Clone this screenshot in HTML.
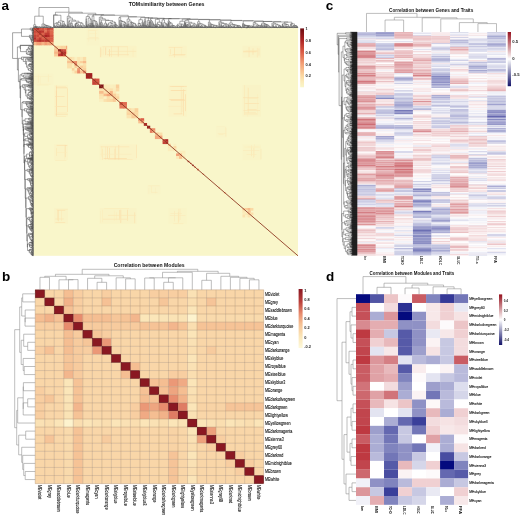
<!DOCTYPE html>
<html><head><meta charset="utf-8"><style>
html,body{margin:0;padding:0;background:#fff;width:520px;height:517px;overflow:hidden}
svg{display:block;font-family:"Liberation Sans",sans-serif;filter:blur(0.4px)}
</style></head><body>
<svg width="520" height="517" viewBox="0 0 520 517">
<rect x="33.5" y="28" width="264.5" height="227.8" fill="#f9f6ca"/>
<rect x="54.13" y="84.95" width="13.75" height="31.89" fill="#faf3c5"/>
<rect x="55.9" y="90.7" width="0.55" height="25.86" fill="#fbdfab"/>
<rect x="56.17" y="85.62" width="0.55" height="29.98" fill="#fbd39e"/>
<rect x="67.17" y="88.48" width="0.55" height="23.47" fill="#fbdca7"/>
<rect x="54.7" y="106.09" width="9.93" height="0.55" fill="#fbe5b2"/>
<rect x="57.5" y="106.33" width="8.12" height="0.55" fill="#fbdfab"/>
<rect x="56.42" y="116.23" width="9.47" height="0.55" fill="#fbe7b4"/>
<rect x="55.1" y="96.22" width="9.47" height="0.55" fill="#fbdda8"/>
<rect x="56.06" y="112.61" width="10.68" height="0.55" fill="#fbe9b7"/>
<rect x="55.91" y="87.6" width="11.37" height="0.55" fill="#fbd49f"/>
<rect x="57.85" y="106.42" width="9.14" height="0.55" fill="#fbe7b4"/>
<rect x="55.56" y="86" width="10.39" height="0.55" fill="#fbe7b5"/>
<rect x="55.53" y="113.85" width="12.28" height="0.55" fill="#fbdaa5"/>
<rect x="99.62" y="45.77" width="37.03" height="11.85" fill="#faf3c5"/>
<rect x="105.54" y="47.4" width="0.55" height="7.76" fill="#fad19c"/>
<rect x="101.65" y="48.77" width="0.55" height="6.75" fill="#fbebb9"/>
<rect x="111.06" y="46.09" width="0.55" height="10.91" fill="#fbe4b1"/>
<rect x="100.54" y="47.43" width="0.55" height="9.74" fill="#fbd6a0"/>
<rect x="127" y="45.99" width="0.55" height="9.5" fill="#fbe7b5"/>
<rect x="132.79" y="48.63" width="0.55" height="8.31" fill="#fbebba"/>
<rect x="103.07" y="46.81" width="0.55" height="8.22" fill="#fbebba"/>
<rect x="117.89" y="46.54" width="0.55" height="9.95" fill="#fbd6a0"/>
<rect x="109.18" y="49.11" width="0.55" height="7.29" fill="#fad19c"/>
<rect x="107.92" y="50.93" width="28.29" height="0.55" fill="#fbe4b1"/>
<rect x="102.35" y="46.57" width="24.92" height="0.55" fill="#fbe2ae"/>
<rect x="106.97" y="54.56" width="21.99" height="0.55" fill="#fbdeaa"/>
<rect x="54.13" y="144.18" width="13.75" height="15.95" fill="#faf3c6"/>
<rect x="64.87" y="144.89" width="0.55" height="12.23" fill="#fbd8a2"/>
<rect x="56.11" y="147.94" width="0.55" height="7.9" fill="#fbe3b0"/>
<rect x="64.57" y="145.9" width="0.55" height="13.45" fill="#fbecbb"/>
<rect x="55.14" y="160.1" width="11.27" height="0.55" fill="#fbeab8"/>
<rect x="56.76" y="145.15" width="10.47" height="0.55" fill="#fbd9a4"/>
<rect x="56.65" y="152.12" width="10.28" height="0.55" fill="#fbebba"/>
<rect x="56.42" y="144.79" width="8.83" height="0.55" fill="#fbebb9"/>
<rect x="168.4" y="45.77" width="18.51" height="11.85" fill="#faf3c6"/>
<rect x="174.41" y="47.02" width="0.55" height="10.13" fill="#fbdfaa"/>
<rect x="174.23" y="49.01" width="0.55" height="8.19" fill="#fbe5b1"/>
<rect x="169.99" y="49.19" width="0.55" height="5.2" fill="#fbe1ad"/>
<rect x="181.36" y="48.63" width="0.55" height="6.55" fill="#fbebba"/>
<rect x="168.67" y="47.47" width="13.79" height="0.55" fill="#fbe3af"/>
<rect x="172.62" y="54.28" width="12.81" height="0.55" fill="#fbdba6"/>
<rect x="169.16" y="55.12" width="15.58" height="0.55" fill="#fbe8b6"/>
<rect x="54.13" y="207.96" width="13.75" height="15.95" fill="#f9f3c6"/>
<rect x="60.98" y="210.86" width="0.55" height="10.17" fill="#fbe9b7"/>
<rect x="57.43" y="209.67" width="0.55" height="10.72" fill="#fbe2af"/>
<rect x="58.13" y="209.95" width="0.55" height="11.31" fill="#fbdeaa"/>
<rect x="55.19" y="218.7" width="8.65" height="0.55" fill="#fbe4b1"/>
<rect x="56.4" y="209.49" width="11.37" height="0.55" fill="#fbe9b6"/>
<rect x="57.37" y="210.43" width="7.89" height="0.55" fill="#fbdeaa"/>
<rect x="55.36" y="222.34" width="9.86" height="0.55" fill="#fbdfab"/>
<rect x="242.46" y="45.77" width="18.52" height="11.85" fill="#f9f3c6"/>
<rect x="248.75" y="47.14" width="0.55" height="9.93" fill="#fbdfab"/>
<rect x="258.68" y="48.41" width="0.55" height="7.21" fill="#fbe1ad"/>
<rect x="256.95" y="47.78" width="0.55" height="9.61" fill="#fbe6b3"/>
<rect x="252.73" y="48.28" width="0.55" height="6.48" fill="#fbdeaa"/>
<rect x="243.06" y="51.64" width="13.05" height="0.55" fill="#fbdda8"/>
<rect x="245.9" y="50.17" width="12.55" height="0.55" fill="#fbecbb"/>
<rect x="243.22" y="50.84" width="14.32" height="0.55" fill="#fbdda9"/>
<rect x="99.62" y="144.18" width="37.03" height="15.95" fill="#faf3c6"/>
<rect x="114.95" y="146.57" width="0.55" height="12.92" fill="#fbe1ae"/>
<rect x="118.58" y="145" width="0.55" height="15.07" fill="#fbd9a4"/>
<rect x="102.13" y="148.84" width="0.55" height="11.07" fill="#fbe3b0"/>
<rect x="136.32" y="144.75" width="0.55" height="13.37" fill="#fbe1ad"/>
<rect x="107.3" y="146.77" width="0.55" height="11.98" fill="#fbdda8"/>
<rect x="109.08" y="147.84" width="0.55" height="10.19" fill="#fbd9a4"/>
<rect x="114.64" y="148.82" width="0.55" height="10.92" fill="#fbdca8"/>
<rect x="105.52" y="146.61" width="0.55" height="13.18" fill="#fbe5b2"/>
<rect x="101.61" y="146.02" width="0.55" height="10.56" fill="#fbe9b6"/>
<rect x="100.13" y="153.9" width="31.51" height="0.55" fill="#fbecbb"/>
<rect x="103.68" y="158.13" width="23.12" height="0.55" fill="#fbd8a2"/>
<rect x="107.91" y="158.99" width="24.68" height="0.55" fill="#fbe4b1"/>
<rect x="100.59" y="146.63" width="28.7" height="0.55" fill="#fbe0ac"/>
<rect x="168.4" y="84.95" width="18.51" height="31.89" fill="#faf3c6"/>
<rect x="183.38" y="89.24" width="0.55" height="26.48" fill="#fbd8a2"/>
<rect x="185.1" y="94.21" width="0.55" height="16.95" fill="#fbd9a4"/>
<rect x="180.86" y="86.7" width="0.55" height="27.35" fill="#fbe5b2"/>
<rect x="181.74" y="91.57" width="0.55" height="20.47" fill="#fbe6b3"/>
<rect x="169.32" y="99.27" width="14.89" height="0.55" fill="#fbd7a1"/>
<rect x="171.11" y="90.04" width="13.96" height="0.55" fill="#fbd8a2"/>
<rect x="170.61" y="90.32" width="15.59" height="0.55" fill="#fbe0ac"/>
<rect x="171.63" y="85.98" width="12.39" height="0.55" fill="#fbe5b2"/>
<rect x="173.6" y="113.65" width="8.87" height="0.55" fill="#fbd8a3"/>
<rect x="170.6" y="100.18" width="14.09" height="0.55" fill="#fbe1ae"/>
<rect x="169.76" y="86.28" width="16.99" height="0.55" fill="#fbdba6"/>
<rect x="170.82" y="99.83" width="14.07" height="0.55" fill="#fbdda8"/>
<rect x="168.46" y="105.95" width="15.16" height="0.55" fill="#fbeab8"/>
<rect x="99.62" y="207.96" width="37.03" height="15.95" fill="#f9f3c6"/>
<rect x="119.27" y="209.95" width="0.55" height="10.2" fill="#fbdda8"/>
<rect x="100.29" y="210.83" width="0.55" height="12" fill="#faedbd"/>
<rect x="102.12" y="209.75" width="0.55" height="12.54" fill="#fbecbb"/>
<rect x="120.5" y="209.71" width="0.55" height="13.32" fill="#fbdca8"/>
<rect x="121.03" y="209.8" width="0.55" height="12.59" fill="#faedbd"/>
<rect x="113.97" y="210.61" width="0.55" height="10.31" fill="#fbedbc"/>
<rect x="127.38" y="209.66" width="0.55" height="11.11" fill="#fbdba6"/>
<rect x="115.99" y="212.22" width="0.55" height="8.12" fill="#fbebb9"/>
<rect x="134.54" y="212.35" width="0.55" height="10.94" fill="#fbdea9"/>
<rect x="104.2" y="208.21" width="24.81" height="0.55" fill="#fbebb9"/>
<rect x="108.08" y="214.95" width="27.79" height="0.55" fill="#fbe5b1"/>
<rect x="102.39" y="218.78" width="26.24" height="0.55" fill="#fbedbc"/>
<rect x="102.9" y="218.85" width="24.56" height="0.55" fill="#fbe7b4"/>
<rect x="242.46" y="84.95" width="18.52" height="31.89" fill="#f9f3c6"/>
<rect x="247.54" y="87.32" width="0.55" height="29.32" fill="#fbedbc"/>
<rect x="257.46" y="94.27" width="0.55" height="20.54" fill="#fbecbb"/>
<rect x="248.12" y="87.9" width="0.55" height="25.31" fill="#fbe3b0"/>
<rect x="244.38" y="85.19" width="0.55" height="29.51" fill="#fbe7b5"/>
<rect x="243.96" y="113.95" width="13.24" height="0.55" fill="#fbeab7"/>
<rect x="244.55" y="113.11" width="12.46" height="0.55" fill="#fbe9b7"/>
<rect x="243.45" y="110.21" width="16.52" height="0.55" fill="#fbe2af"/>
<rect x="247.43" y="109.12" width="9.21" height="0.55" fill="#fbe0ac"/>
<rect x="247.4" y="98.38" width="9.71" height="0.55" fill="#fbecba"/>
<rect x="244.59" y="103.33" width="14.47" height="0.55" fill="#fbe1ad"/>
<rect x="246.39" y="103.3" width="9.38" height="0.55" fill="#fbe5b2"/>
<rect x="244.52" y="111.97" width="11.3" height="0.55" fill="#fbe7b5"/>
<rect x="242.97" y="97.54" width="15.49" height="0.55" fill="#fbdeaa"/>
<rect x="168.4" y="207.96" width="18.51" height="15.95" fill="#f9f4c7"/>
<rect x="177.95" y="212.16" width="0.55" height="11.02" fill="#fbe5b2"/>
<rect x="179.82" y="208.69" width="0.55" height="11.23" fill="#fbe8b6"/>
<rect x="178.64" y="208.85" width="0.55" height="12.54" fill="#fbe3af"/>
<rect x="174.38" y="210.87" width="0.55" height="10.59" fill="#fbe8b6"/>
<rect x="170.46" y="213.14" width="11.5" height="0.55" fill="#fbeab8"/>
<rect x="169.83" y="215.32" width="15.67" height="0.55" fill="#fbeab9"/>
<rect x="173.22" y="223.17" width="10.39" height="0.55" fill="#fbecbb"/>
<rect x="173.62" y="223.6" width="8.99" height="0.55" fill="#faeebd"/>
<rect x="242.46" y="144.18" width="18.52" height="15.95" fill="#f9f4c7"/>
<rect x="252.97" y="147.63" width="0.55" height="10.35" fill="#fbe7b4"/>
<rect x="254.2" y="144.28" width="0.55" height="12.61" fill="#fbedbc"/>
<rect x="251.24" y="145.44" width="0.55" height="10.77" fill="#fbe4b0"/>
<rect x="260.72" y="148.79" width="0.55" height="10.57" fill="#fbe4b0"/>
<rect x="244.46" y="146.81" width="15.87" height="0.55" fill="#fbedbc"/>
<rect x="247.64" y="146.58" width="11.33" height="0.55" fill="#faefc0"/>
<rect x="246.58" y="154.16" width="9.91" height="0.55" fill="#fbebb9"/>
<rect x="243" y="150.29" width="16.39" height="0.55" fill="#fbeab8"/>
<rect x="33.5" y="73.56" width="19.84" height="11.39" fill="#f9f4c8"/>
<rect x="37.92" y="74.67" width="0.55" height="8.32" fill="#faefbf"/>
<rect x="40.1" y="76.4" width="0.55" height="8.51" fill="#faefbf"/>
<rect x="33.6" y="76.52" width="0.55" height="6.27" fill="#faf1c2"/>
<rect x="47.94" y="74.3" width="0.55" height="7.5" fill="#fbeab8"/>
<rect x="38.31" y="75.89" width="0.55" height="6.34" fill="#faedbd"/>
<rect x="33.77" y="76.39" width="17.85" height="0.55" fill="#faeebe"/>
<rect x="36.96" y="84.73" width="11.69" height="0.55" fill="#fbebb9"/>
<rect x="39.34" y="83.84" width="11.33" height="0.55" fill="#faefbf"/>
<rect x="86.4" y="28" width="13.22" height="17.09" fill="#f9f4c8"/>
<rect x="88.5" y="31.04" width="0.55" height="10.49" fill="#faedbd"/>
<rect x="95.27" y="31.28" width="0.55" height="9.09" fill="#faf1c2"/>
<rect x="95.26" y="30.62" width="0.55" height="10.31" fill="#fbeab8"/>
<rect x="88.13" y="30.4" width="8.02" height="0.55" fill="#fbebb9"/>
<rect x="89.76" y="33.48" width="7.04" height="0.55" fill="#fbedbc"/>
<rect x="86.75" y="38.59" width="12.47" height="0.55" fill="#fbeab8"/>
<rect x="89.12" y="37.42" width="9.27" height="0.55" fill="#fbeab8"/>
<rect x="88.31" y="29.84" width="9.46" height="0.55" fill="#faeebe"/>
<rect x="147.24" y="185.18" width="13.22" height="9.11" fill="#f9f4c8"/>
<rect x="155.43" y="187.59" width="0.55" height="5.92" fill="#faefc0"/>
<rect x="148.65" y="187.74" width="0.55" height="6.12" fill="#faefbf"/>
<rect x="150.91" y="186.13" width="0.55" height="5.86" fill="#fbebb9"/>
<rect x="148.18" y="185.6" width="11.57" height="0.55" fill="#fbebb9"/>
<rect x="151.04" y="191.95" width="6.43" height="0.55" fill="#fbeab8"/>
<rect x="216" y="125.95" width="10.58" height="11.39" fill="#f9f4c8"/>
<rect x="225.68" y="127.84" width="0.55" height="9.01" fill="#fbeab8"/>
<rect x="224.99" y="127.02" width="0.55" height="8.61" fill="#faeebf"/>
<rect x="216.84" y="126.35" width="7.85" height="0.55" fill="#faf1c3"/>
<rect x="218.6" y="134.49" width="5" height="0.55" fill="#fbeab8"/>
<rect x="217.87" y="133.2" width="8.46" height="0.55" fill="#fbecbb"/>
<rect x="33.5" y="28" width="3.04" height="2.67" fill="#d35441"/>
<rect x="33.5" y="30.32" width="3.04" height="2.67" fill="#ca483a"/>
<rect x="33.5" y="32.63" width="3.04" height="2.67" fill="#d45542"/>
<rect x="33.5" y="34.95" width="3.04" height="2.67" fill="#c54236"/>
<rect x="33.5" y="37.26" width="3.04" height="2.67" fill="#b22c29"/>
<rect x="33.5" y="39.58" width="3.04" height="2.67" fill="#c9483a"/>
<rect x="36.19" y="28" width="3.04" height="2.67" fill="#b8322d"/>
<rect x="36.19" y="30.32" width="3.04" height="2.67" fill="#c44136"/>
<rect x="36.19" y="32.63" width="3.04" height="2.67" fill="#d65743"/>
<rect x="36.19" y="34.95" width="3.04" height="2.67" fill="#cb4a3b"/>
<rect x="36.19" y="37.26" width="3.04" height="2.67" fill="#d45541"/>
<rect x="36.19" y="39.58" width="3.04" height="2.67" fill="#be3a31"/>
<rect x="38.88" y="28" width="3.04" height="2.67" fill="#d65743"/>
<rect x="38.88" y="30.32" width="3.04" height="2.67" fill="#b7312c"/>
<rect x="38.88" y="32.63" width="3.04" height="2.67" fill="#c03d33"/>
<rect x="38.88" y="34.95" width="3.04" height="2.67" fill="#de664d"/>
<rect x="38.88" y="37.26" width="3.04" height="2.67" fill="#be3a31"/>
<rect x="38.88" y="39.58" width="3.04" height="2.67" fill="#b42e2a"/>
<rect x="41.57" y="28" width="3.04" height="2.67" fill="#d15240"/>
<rect x="41.57" y="30.32" width="3.04" height="2.67" fill="#bb372f"/>
<rect x="41.57" y="32.63" width="3.04" height="2.67" fill="#dc624a"/>
<rect x="41.57" y="34.95" width="3.04" height="2.67" fill="#c44236"/>
<rect x="41.57" y="37.26" width="3.04" height="2.67" fill="#db6048"/>
<rect x="41.57" y="39.58" width="3.04" height="2.67" fill="#c23e34"/>
<rect x="44.26" y="28" width="3.04" height="2.67" fill="#dc624a"/>
<rect x="44.26" y="30.32" width="3.04" height="2.67" fill="#e27155"/>
<rect x="44.26" y="32.63" width="3.04" height="2.67" fill="#c34035"/>
<rect x="44.26" y="34.95" width="3.04" height="2.67" fill="#ab2324"/>
<rect x="44.26" y="37.26" width="3.04" height="2.67" fill="#cf4f3e"/>
<rect x="44.26" y="39.58" width="3.04" height="2.67" fill="#bd3931"/>
<rect x="46.95" y="28" width="3.04" height="2.67" fill="#c64437"/>
<rect x="46.95" y="30.32" width="3.04" height="2.67" fill="#cc4b3b"/>
<rect x="46.95" y="32.63" width="3.04" height="2.67" fill="#c03c33"/>
<rect x="46.95" y="34.95" width="3.04" height="2.67" fill="#b32d29"/>
<rect x="46.95" y="37.26" width="3.04" height="2.67" fill="#d75844"/>
<rect x="46.95" y="39.58" width="3.04" height="2.67" fill="#c13d33"/>
<rect x="33.5" y="41.9" width="3.04" height="3.43" fill="#f6b687"/>
<rect x="36.19" y="41.9" width="3.04" height="3.43" fill="#f29e74"/>
<rect x="38.88" y="41.9" width="3.04" height="3.43" fill="#f19a72"/>
<rect x="41.57" y="41.9" width="3.04" height="3.43" fill="#f6b284"/>
<rect x="44.26" y="41.9" width="3.04" height="3.43" fill="#f29c73"/>
<rect x="46.95" y="41.9" width="3.04" height="3.43" fill="#f5aa7e"/>
<rect x="49.63" y="28" width="3.92" height="2.67" fill="#d55642"/>
<rect x="49.63" y="30.32" width="3.92" height="2.67" fill="#de684e"/>
<rect x="49.63" y="32.63" width="3.92" height="2.67" fill="#de664d"/>
<rect x="49.63" y="34.95" width="3.92" height="2.67" fill="#d55642"/>
<rect x="49.63" y="37.26" width="3.92" height="2.67" fill="#d75844"/>
<rect x="49.63" y="39.58" width="3.92" height="2.67" fill="#db5e47"/>
<rect x="49.63" y="41.9" width="3.92" height="3.43" fill="#f4a77c"/>
<rect x="54.13" y="45.77" width="4.32" height="3.77" fill="#fbd49f"/>
<rect x="54.13" y="49.19" width="4.32" height="2.63" fill="#f9c593"/>
<rect x="54.13" y="51.46" width="4.32" height="2.63" fill="#f6b384"/>
<rect x="54.13" y="53.74" width="4.32" height="2.63" fill="#f9c895"/>
<rect x="54.13" y="56.02" width="4.32" height="1.03" fill="#fbe1ad"/>
<rect x="58.1" y="45.77" width="2.99" height="3.77" fill="#fbdba6"/>
<rect x="60.74" y="45.77" width="3" height="3.77" fill="#fad29d"/>
<rect x="63.39" y="45.77" width="3" height="3.77" fill="#fad39d"/>
<rect x="58.1" y="49.19" width="2.99" height="2.63" fill="#8f191c"/>
<rect x="58.1" y="51.46" width="2.99" height="2.63" fill="#e5795a"/>
<rect x="58.1" y="53.74" width="2.99" height="2.63" fill="#c03c32"/>
<rect x="60.74" y="49.19" width="3" height="2.63" fill="#c54337"/>
<rect x="60.74" y="51.46" width="3" height="2.63" fill="#ad2525"/>
<rect x="60.74" y="53.74" width="3" height="2.63" fill="#af2726"/>
<rect x="63.39" y="49.19" width="3" height="2.63" fill="#ce4d3d"/>
<rect x="63.39" y="51.46" width="3" height="2.63" fill="#b6312c"/>
<rect x="63.39" y="53.74" width="3" height="2.63" fill="#cb4a3b"/>
<rect x="58.1" y="56.02" width="2.99" height="1.03" fill="#f7b989"/>
<rect x="60.74" y="56.02" width="3" height="1.03" fill="#f8c291"/>
<rect x="63.39" y="56.02" width="3" height="1.03" fill="#f6b788"/>
<rect x="66.03" y="45.77" width="1.14" height="3.77" fill="#f4a87c"/>
<rect x="66.03" y="49.19" width="1.14" height="2.63" fill="#f8c391"/>
<rect x="66.03" y="51.46" width="1.14" height="2.63" fill="#f6b384"/>
<rect x="66.03" y="53.74" width="1.14" height="2.63" fill="#fbe0ac"/>
<rect x="66.03" y="56.02" width="1.14" height="1.03" fill="#fbd7a1"/>
<rect x="67.09" y="56.93" width="5.11" height="4.45" fill="#fbdba6"/>
<rect x="67.09" y="61.03" width="5.11" height="2.63" fill="#f8c190"/>
<rect x="67.09" y="63.31" width="5.11" height="2.63" fill="#fbdfab"/>
<rect x="67.09" y="65.59" width="5.11" height="2.86" fill="#fbe0ab"/>
<rect x="71.85" y="56.93" width="3" height="4.45" fill="#fbe5b2"/>
<rect x="74.5" y="56.93" width="3" height="4.45" fill="#faf0c1"/>
<rect x="71.85" y="61.03" width="3" height="2.63" fill="#ed8f6a"/>
<rect x="71.85" y="63.31" width="3" height="2.63" fill="#fbebb9"/>
<rect x="74.5" y="61.03" width="3" height="2.63" fill="#ec8e69"/>
<rect x="74.5" y="63.31" width="3" height="2.63" fill="#e77f5f"/>
<rect x="71.85" y="65.59" width="3" height="2.86" fill="#fbedbc"/>
<rect x="71.85" y="68.09" width="3" height="2.86" fill="#fad19c"/>
<rect x="71.85" y="70.6" width="3" height="2.86" fill="#fbecbc"/>
<rect x="74.5" y="65.59" width="3" height="2.86" fill="#fad19c"/>
<rect x="74.5" y="68.09" width="3" height="2.86" fill="#faedbd"/>
<rect x="74.5" y="70.6" width="3" height="2.86" fill="#fad29d"/>
<rect x="77.14" y="56.93" width="3.26" height="4.45" fill="#fbe6b3"/>
<rect x="80.05" y="56.93" width="3.26" height="4.45" fill="#fbebba"/>
<rect x="82.96" y="56.93" width="3.26" height="4.45" fill="#fbdda8"/>
<rect x="77.14" y="61.03" width="3.26" height="2.63" fill="#fbe0ac"/>
<rect x="77.14" y="63.31" width="3.26" height="2.63" fill="#fbe2af"/>
<rect x="80.05" y="61.03" width="3.26" height="2.63" fill="#fad09c"/>
<rect x="80.05" y="63.31" width="3.26" height="2.63" fill="#faedbd"/>
<rect x="82.96" y="61.03" width="3.26" height="2.63" fill="#f7bb8b"/>
<rect x="82.96" y="63.31" width="3.26" height="2.63" fill="#fbe1ad"/>
<rect x="77.14" y="65.59" width="3.26" height="2.86" fill="#fbe5b2"/>
<rect x="77.14" y="68.09" width="3.26" height="2.86" fill="#f09871"/>
<rect x="77.14" y="70.6" width="3.26" height="2.86" fill="#ec8d69"/>
<rect x="80.05" y="65.59" width="3.26" height="2.86" fill="#f9cc98"/>
<rect x="80.05" y="68.09" width="3.26" height="2.86" fill="#fbdfab"/>
<rect x="80.05" y="70.6" width="3.26" height="2.86" fill="#f9c593"/>
<rect x="82.96" y="65.59" width="3.26" height="2.86" fill="#fbdaa5"/>
<rect x="82.96" y="68.09" width="3.26" height="2.86" fill="#fad09b"/>
<rect x="82.96" y="70.6" width="3.26" height="2.86" fill="#ee926c"/>
<rect x="85.87" y="73.1" width="3.39" height="2.97" fill="#a01f20"/>
<rect x="85.87" y="75.72" width="3.39" height="2.97" fill="#a42122"/>
<rect x="88.91" y="73.1" width="3.39" height="2.97" fill="#a12021"/>
<rect x="88.91" y="75.72" width="3.39" height="2.97" fill="#a72222"/>
<rect x="92.22" y="78.57" width="3.79" height="3.31" fill="#c74538"/>
<rect x="92.22" y="81.53" width="3.79" height="3.31" fill="#c64438"/>
<rect x="95.66" y="78.57" width="3.79" height="3.31" fill="#d55642"/>
<rect x="95.66" y="81.53" width="3.79" height="3.31" fill="#d04f3e"/>
<rect x="99.1" y="84.49" width="4.85" height="4.22" fill="#811318"/>
<rect x="99.1" y="88.37" width="4.85" height="3.01" fill="#fbe2ae"/>
<rect x="99.1" y="91.02" width="4.85" height="3.01" fill="#f7bc8c"/>
<rect x="99.1" y="93.68" width="4.85" height="3.01" fill="#fbdfab"/>
<rect x="99.1" y="96.34" width="4.85" height="2.97" fill="#fbe5b2"/>
<rect x="99.1" y="98.96" width="4.85" height="2.97" fill="#faefc0"/>
<rect x="103.59" y="84.49" width="3.44" height="4.22" fill="#fbe9b6"/>
<rect x="106.68" y="84.49" width="3.44" height="4.22" fill="#fbebba"/>
<rect x="109.76" y="84.49" width="3.44" height="4.22" fill="#faefbf"/>
<rect x="103.59" y="88.37" width="3.44" height="3.01" fill="#fbe0ac"/>
<rect x="103.59" y="91.02" width="3.44" height="3.01" fill="#fbe1ad"/>
<rect x="103.59" y="93.68" width="3.44" height="3.01" fill="#f7ba8a"/>
<rect x="106.68" y="88.37" width="3.44" height="3.01" fill="#fbe3b0"/>
<rect x="106.68" y="91.02" width="3.44" height="3.01" fill="#fbe0ac"/>
<rect x="106.68" y="93.68" width="3.44" height="3.01" fill="#f4a479"/>
<rect x="109.76" y="88.37" width="3.44" height="3.01" fill="#fbe0ac"/>
<rect x="109.76" y="91.02" width="3.44" height="3.01" fill="#f6b284"/>
<rect x="109.76" y="93.68" width="3.44" height="3.01" fill="#f6b687"/>
<rect x="103.59" y="96.34" width="3.44" height="2.97" fill="#faf1c2"/>
<rect x="103.59" y="98.96" width="3.44" height="2.97" fill="#fbe1ad"/>
<rect x="106.68" y="96.34" width="3.44" height="2.97" fill="#fbdeaa"/>
<rect x="106.68" y="98.96" width="3.44" height="2.97" fill="#fbdba6"/>
<rect x="109.76" y="96.34" width="3.44" height="2.97" fill="#fbe5b2"/>
<rect x="109.76" y="98.96" width="3.44" height="2.97" fill="#fbd9a3"/>
<rect x="112.85" y="84.49" width="3.39" height="4.22" fill="#faedbd"/>
<rect x="115.89" y="84.49" width="3.39" height="4.22" fill="#facf9b"/>
<rect x="112.85" y="88.37" width="3.39" height="3.01" fill="#fbebba"/>
<rect x="112.85" y="91.02" width="3.39" height="3.01" fill="#fbe9b7"/>
<rect x="112.85" y="93.68" width="3.39" height="3.01" fill="#fad09b"/>
<rect x="115.89" y="88.37" width="3.39" height="3.01" fill="#fbdba6"/>
<rect x="115.89" y="93.68" width="3.39" height="3.01" fill="#fbe5b2"/>
<rect x="112.85" y="96.34" width="3.39" height="2.97" fill="#f9ca97"/>
<rect x="112.85" y="98.96" width="3.39" height="2.97" fill="#f9cb98"/>
<rect x="115.89" y="96.34" width="3.39" height="2.97" fill="#fbd6a0"/>
<rect x="115.89" y="98.96" width="3.39" height="2.97" fill="#fbebba"/>
<rect x="119.46" y="102.04" width="3.92" height="3.43" fill="#d1513f"/>
<rect x="119.46" y="105.11" width="3.92" height="3.43" fill="#e5795a"/>
<rect x="123.03" y="102.04" width="3.92" height="3.43" fill="#e06c51"/>
<rect x="123.03" y="105.11" width="3.92" height="3.43" fill="#e27155"/>
<rect x="126.6" y="108.19" width="5.11" height="4.45" fill="#fbdba5"/>
<rect x="126.6" y="112.29" width="5.11" height="3.2" fill="#fbd49f"/>
<rect x="126.6" y="115.13" width="5.11" height="3.2" fill="#fbe4b1"/>
<rect x="131.37" y="108.19" width="3.66" height="4.45" fill="#fbe5b2"/>
<rect x="134.67" y="108.19" width="3.66" height="4.45" fill="#fad19c"/>
<rect x="131.37" y="112.29" width="3.66" height="3.2" fill="#face99"/>
<rect x="131.37" y="115.13" width="3.66" height="3.2" fill="#f9cb97"/>
<rect x="134.67" y="112.29" width="3.66" height="3.2" fill="#fbd8a2"/>
<rect x="134.67" y="115.13" width="3.66" height="3.2" fill="#fbd7a1"/>
<rect x="138.24" y="118.21" width="3.13" height="2.74" fill="#ea8865"/>
<rect x="138.24" y="120.6" width="3.13" height="2.74" fill="#f8bf8e"/>
<rect x="141.02" y="118.21" width="3.13" height="2.74" fill="#db5e47"/>
<rect x="141.02" y="120.6" width="3.13" height="2.74" fill="#f4a67a"/>
<rect x="143.8" y="122.99" width="3.26" height="2.86" fill="#b12a28"/>
<rect x="146.97" y="125.73" width="3.26" height="2.86" fill="#9b1e1f"/>
<rect x="149.88" y="128.23" width="2.86" height="2.51" fill="#e4785a"/>
<rect x="149.88" y="130.4" width="2.86" height="2.51" fill="#e67d5d"/>
<rect x="152.39" y="128.23" width="2.86" height="2.51" fill="#ec8d68"/>
<rect x="152.39" y="130.4" width="2.86" height="2.51" fill="#f4a57a"/>
<rect x="154.91" y="132.56" width="3.92" height="3.43" fill="#f8c492"/>
<rect x="154.91" y="135.64" width="3.92" height="3.43" fill="#f4a87c"/>
<rect x="158.48" y="132.56" width="3.92" height="3.43" fill="#fbdeaa"/>
<rect x="158.48" y="135.64" width="3.92" height="3.43" fill="#f4a479"/>
<rect x="162.58" y="139.17" width="3" height="2.63" fill="#cb4a3b"/>
<rect x="162.58" y="141.44" width="3" height="2.63" fill="#c44136"/>
<rect x="165.22" y="139.17" width="3" height="2.63" fill="#af2726"/>
<rect x="165.22" y="141.44" width="3" height="2.63" fill="#b7322c"/>
<rect x="167.87" y="143.72" width="3.08" height="2.7" fill="#fad29d"/>
<rect x="167.87" y="146.08" width="3.08" height="2.7" fill="#fbeab8"/>
<rect x="167.87" y="148.43" width="3.08" height="2.7" fill="#fbedbc"/>
<rect x="170.6" y="146.08" width="3.08" height="2.7" fill="#faeebf"/>
<rect x="170.6" y="148.43" width="3.08" height="2.7" fill="#faedbd"/>
<rect x="173.33" y="143.72" width="3.08" height="2.7" fill="#faf0c2"/>
<rect x="173.33" y="146.08" width="3.08" height="2.7" fill="#fbd9a4"/>
<rect x="173.33" y="148.43" width="3.08" height="2.7" fill="#fbe9b6"/>
<rect x="176.07" y="153.37" width="3.35" height="2.93" fill="#f39f75"/>
<rect x="176.07" y="155.95" width="3.35" height="2.93" fill="#fbe9b7"/>
<rect x="179.06" y="150.78" width="3.35" height="2.93" fill="#faeebe"/>
<rect x="179.06" y="153.37" width="3.35" height="2.93" fill="#f7bd8d"/>
<rect x="179.06" y="155.95" width="3.35" height="2.93" fill="#f8bf8e"/>
<rect x="182.06" y="150.78" width="3.35" height="2.93" fill="#fbedbc"/>
<rect x="182.06" y="153.37" width="3.35" height="2.93" fill="#faf0c1"/>
<rect x="182.06" y="155.95" width="3.35" height="2.93" fill="#fbebba"/>
<rect x="242.46" y="207.96" width="3" height="2.63" fill="#fad19c"/>
<rect x="242.46" y="210.24" width="3" height="2.63" fill="#fbe6b4"/>
<rect x="242.46" y="212.52" width="3" height="2.63" fill="#fbecbb"/>
<rect x="242.46" y="214.8" width="3" height="2.63" fill="#fbe2af"/>
<rect x="245.1" y="207.96" width="2.99" height="2.63" fill="#facf9b"/>
<rect x="245.1" y="210.24" width="2.99" height="2.63" fill="#faf1c2"/>
<rect x="245.1" y="212.52" width="2.99" height="2.63" fill="#fbe7b5"/>
<rect x="245.1" y="214.8" width="2.99" height="2.63" fill="#faf1c2"/>
<rect x="247.75" y="207.96" width="2.99" height="2.63" fill="#f7bd8d"/>
<rect x="247.75" y="210.24" width="2.99" height="2.63" fill="#f8c492"/>
<rect x="247.75" y="212.52" width="2.99" height="2.63" fill="#fbd49f"/>
<rect x="247.75" y="214.8" width="2.99" height="2.63" fill="#fbe4b1"/>
<rect x="250.39" y="207.96" width="3" height="2.63" fill="#fbd9a3"/>
<rect x="250.39" y="212.52" width="3" height="2.63" fill="#fbdeaa"/>
<rect x="250.39" y="214.8" width="3" height="2.63" fill="#faf0c2"/>
<rect x="187.7" y="160.81" width="1.59" height="1.37" fill="#ac2424"/>
<rect x="190.08" y="162.86" width="1.32" height="1.14" fill="#c34035"/>
<rect x="192.2" y="164.68" width="1.59" height="1.37" fill="#ac2424"/>
<rect x="194.32" y="166.5" width="1.32" height="1.14" fill="#da5c46"/>
<rect x="196.96" y="168.78" width="1.85" height="1.59" fill="#e67e5e"/>
<rect x="202.78" y="173.79" width="1.32" height="1.14" fill="#e67e5e"/>
<rect x="218.65" y="187.46" width="1.06" height="0.91" fill="#e67e5e"/>
<rect x="223.94" y="192.02" width="1.59" height="1.37" fill="#f3a076"/>
<rect x="231.88" y="198.85" width="1.06" height="0.91" fill="#e67e5e"/>
<line x1="33.5" y1="28" x2="298" y2="255.8" stroke="#8e3a22" stroke-width="0.9"/>
<path d="M34.37 28V27.66H34.72V28M35.07 28V27.88H35.41V28M36.11 28V27.9H36.46V28M35.76 28V27.82H36.28V27.9M36.81 28V27.92H37.15V28M37.5 28V27.86H37.85V28M36.98 27.92V27.75H37.68V27.86M36.02 27.82V27.6H37.33V27.75M35.24 27.88V27.28H36.68V27.6M34.54 27.66V27.09H35.96V27.28M38.2 28V27.95H38.55V28M39.24 28V27.99H39.59V28M38.89 28V27.88H39.42V27.99M38.37 27.95V27.69H39.16V27.88M40.29 28V27.91H40.63V28M39.94 28V27.71H40.46V27.91M40.98 28V27.61H41.33V28M40.2 27.71V27.2H41.16V27.61M38.76 27.69V26.98H40.68V27.2M35.25 27.09V26.78H39.72V26.98M34.02 28V26.54H37.49V26.78M33.67 28V24.8H35.75V26.54M42.03 28V27.67H42.37V28M41.68 28V26.41H42.2V27.67M43.07 28V27.8H43.42V28M43.77 28V27.53H44.11V28M43.24 27.8V27.27H43.94V27.53M42.72 28V26.83H43.59V27.27M45.16 28V27.62H45.51V28M44.81 28V26.82H45.33V27.62M44.46 28V26.54H45.07V26.82M45.85 28V27.44H46.2V28M46.9 28V27.5H47.25V28M46.55 28V27.2H47.07V27.5M48.29 28V27.9H48.64V28M47.94 28V27.5H48.47V27.9M47.6 28V27.26H48.2V27.5M49.34 28V27.9H49.68V28M48.99 28V27.8H49.51V27.9M50.03 28V27.97H50.38V28M51.08 28V27.96H51.42V28M50.73 28V27.82H51.25V27.96M50.21 27.97V27.74H50.99V27.82M49.25 27.8V27.57H50.6V27.74M52.12 28V27.91H52.47V28M52.82 28V27.85H53.16V28M52.29 27.91V27.58H52.99V27.85M51.77 28V27.43H52.64V27.58M49.92 27.57V27.13H52.21V27.43M47.9 27.26V26.46H51.06V27.13M46.81 27.2V25.94H49.48V26.46M46.03 27.44V25.66H48.15V25.94M44.77 26.54V25.38H47.09V25.66M43.16 26.83V24.83H45.93V25.38M41.94 26.41V24H44.54V24.83M34.71 24.8V16.2H43.24V24M54.21 28V26.81H54.56V28M54.9 28V26.25H55.25V28M54.38 26.81V25.57H55.08V26.25M56.3 28V27.72H56.64V28M55.95 28V27.06H56.47V27.72M55.6 28V26.78H56.21V27.06M57.34 28V27.53H57.69V28M58.04 28V26.97H58.38V28M57.51 27.53V26.36H58.21V26.97M56.99 28V26.11H57.86V26.36M55.9 26.78V25.91H57.43V26.11M59.78 28V27.41H60.12V28M59.43 28V26.95H59.95V27.41M59.08 28V26.37H59.69V26.95M58.73 28V25.35H59.38V26.37M56.67 25.91V24.34H59.06V25.35M54.73 25.57V23.37H57.86V24.34M61.17 28V26.91H61.52V28M60.82 28V25.18H61.34V26.91M60.47 28V23.21H61.08V25.18M56.3 23.37V22.59H60.78V23.21M61.86 28V26.11H62.21V28M62.91 28V26.98H63.26V28M62.56 28V25.54H63.08V26.98M62.04 26.11V25.04H62.82V25.54M63.95 28V25.52H64.3V28M65 28V27.38H65.34V28M64.65 28V26.54H65.17V27.38M66.39 28V27.25H66.74V28M66.04 28V26.71H66.56V27.25M65.69 28V25.56H66.3V26.71M64.91 26.54V25.42H66V25.56M64.13 25.52V24.57H65.45V25.42M63.6 28V23.67H64.79V24.57M62.43 25.04V21.56H64.2V23.67M58.54 22.59V21.03H63.31V21.56M53.86 28V15.25H60.92V21.03M53.51 28V14.8H57.39V15.25M67.08 28V25.8H67.43V28M67.78 28V24.32H68.13V28M68.82 28V27.05H69.17V28M68.48 28V26.06H69V27.05M69.52 28V26.81H69.87V28M70.22 28V26.26H70.56V28M69.69 26.81V23.19H70.39V26.26M68.74 26.06V21.64H70.04V23.19M70.91 28V27.67H71.26V28M71.61 28V27.07H71.96V28M72.3 28V26.61H72.65V28M74.05 28V27.59H74.39V28M73.7 28V27.2H74.22V27.59M73.35 28V26.96H73.96V27.2M73 28V26.46H73.65V26.96M72.48 26.61V26.15H73.33V26.46M71.78 27.07V25.19H72.9V26.15M71.09 27.67V23.31H72.34V25.19M74.74 28V26.19H75.09V28M75.44 28V24.99H75.79V28M74.92 26.19V23.99H75.61V24.99M76.48 28V27.71H76.83V28M77.18 28V27.48H77.53V28M76.66 27.71V26.84H77.35V27.48M77.87 28V26.44H78.22V28M77 26.84V25.75H78.05V26.44M78.57 28V27.41H78.92V28M79.61 28V27.5H79.96V28M79.27 28V26.9H79.79V27.5M78.74 27.41V25.66H79.53V26.9M77.53 25.75V24.95H79.13V25.66M76.13 28V23.76H78.33V24.95M75.26 23.99V23.6H77.23V23.76M80.66 28V27.62H81.01V28M80.31 28V25.65H80.83V27.62M82.75 28V27.73H83.09V28M82.4 28V27.27H82.92V27.73M82.05 28V27.01H82.66V27.27M81.7 28V26.73H82.35V27.01M81.35 28V26.01H82.03V26.73M83.44 28V26.83H83.79V28M84.49 28V27.75H84.83V28M84.14 28V27.49H84.66V27.75M85.18 28V27.03H85.53V28M84.4 27.49V26.59H85.36V27.03M83.62 26.83V25.84H84.88V26.59M81.69 26.01V25.2H84.25V25.84M80.57 25.65V23.29H82.97V25.2M76.25 23.6V22.55H81.77V23.29M71.71 23.31V21.18H79.01V22.55M69.39 21.64V20.09H75.36V21.18M67.95 24.32V17.99H72.38V20.09M67.26 25.8V16.25H70.17V17.99M86.92 28V26H87.27V28M86.57 28V24.93H87.1V26M86.23 28V21.63H86.84V24.93M85.88 28V18.89H86.53V21.63M87.62 28V26.5H87.97V28M88.66 28V27.74H89.01V28M88.31 28V24.86H88.84V27.74M87.79 26.5V24.35H88.58V24.86M89.71 28V26.66H90.05V28M89.36 28V25.44H89.88V26.66M90.4 28V25.09H90.75V28M89.62 25.44V23.53H90.58V25.09M91.45 28V26.39H91.79V28M91.1 28V23.33H91.62V26.39M90.1 23.53V19.53H91.36V23.33M88.18 24.35V18.14H90.73V19.53M86.2 18.89V16.59H89.46V18.14M92.84 28V25.25H93.19V28M92.49 28V23.29H93.01V25.25M94.93 28V27.72H95.27V28M94.58 28V27.34H95.1V27.72M94.23 28V26.2H94.84V27.34M93.88 28V25.73H94.54V26.2M93.53 28V24.95H94.21V25.73M96.32 28V26.84H96.67V28M95.97 28V25.2H96.49V26.84M97.01 28V26.1H97.36V28M98.41 28V27.18H98.75V28M98.06 28V26.19H98.58V27.18M97.71 28V25.13H98.32V26.19M97.19 26.1V24.47H98.02V25.13M96.23 25.2V23.19H97.6V24.47M95.62 28V21.65H96.92V23.19M93.87 24.95V21.09H96.27V21.65M92.75 23.29V20.47H95.07V21.09M92.14 28V16.1H93.91V20.47M99.1 28V26.09H99.45V28M100.15 28V26.35H100.5V28M99.8 28V22.81H100.32V26.35M101.54 28V27.16H101.89V28M101.19 28V25.93H101.71V27.16M102.24 28V26.35H102.58V28M103.63 28V27.14H103.98V28M103.28 28V26.82H103.8V27.14M102.93 28V25.37H103.54V26.82M102.41 26.35V24.87H103.24V25.37M101.45 25.93V23.79H102.82V24.87M100.84 28V22.39H102.14V23.79M105.02 28V26.73H105.37V28M104.67 28V26.62H105.19V26.73M104.32 28V26.19H104.93V26.62M106.06 28V26.48H106.41V28M105.72 28V25.84H106.24V26.48M107.11 28V26.38H107.46V28M106.76 28V25.01H107.28V26.38M105.98 25.84V24.45H107.02V25.01M104.63 26.19V23.19H106.5V24.45M108.5 28V27.56H108.85V28M108.15 28V27.42H108.67V27.56M109.2 28V26.58H109.54V28M108.41 27.42V26.33H109.37V26.58M107.8 28V24.28H108.89V26.33M110.94 28V27.6H111.28V28M110.59 28V27.5H111.11V27.6M110.24 28V26.86H110.85V27.5M109.89 28V26.12H110.54V26.86M111.98 28V26.71H112.33V28M111.63 28V25.89H112.15V26.71M110.22 26.12V25.43H111.89V25.89M113.37 28V27.75H113.72V28M113.02 28V27.29H113.55V27.75M112.68 28V25.14H113.29V27.29M111.06 25.43V23.68H112.98V25.14M108.35 24.28V23.02H112.02V23.68M114.42 28V27.78H114.76V28M114.07 28V25.44H114.59V27.78M115.81 28V26.51H116.16V28M117.2 28V27.75H117.55V28M116.85 28V27.49H117.37V27.75M116.5 28V27.37H117.11V27.49M118.24 28V27.25H118.59V28M117.9 28V26.85H118.42V27.25M116.81 27.37V25.95H118.16V26.85M115.98 26.51V25.53H117.48V25.95M115.46 28V24.32H116.73V25.53M115.11 28V23.98H116.1V24.32M114.33 25.44V22.42H115.6V23.98M110.18 23.02V21.95H114.97V22.42M105.56 23.19V20.54H112.57V21.95M101.49 22.39V20.05H109.07V20.54M100.06 22.81V18.84H105.28V20.05M99.28 26.09V17.32H102.67V18.84M119.29 28V27.17H119.64V28M119.98 28V25.88H120.33V28M120.68 28V24.95H121.03V28M120.16 25.88V24H120.85V24.95M122.42 28V27.62H122.77V28M122.07 28V27.14H122.59V27.62M121.72 28V25.63H122.33V27.14M121.38 28V23.34H122.03V25.63M123.46 28V27.67H123.81V28M123.12 28V27.4H123.64V27.67M124.51 28V26.13H124.86V28M124.16 28V24.75H124.68V26.13M123.38 27.4V24.51H124.42V24.75M125.55 28V27.61H125.9V28M126.25 28V26.46H126.6V28M125.73 27.61V25.17H126.42V26.46M125.2 28V23.26H126.08V25.17M123.9 24.51V22.53H125.64V23.26M121.7 23.34V21.6H124.77V22.53M120.51 24V21.32H123.24V21.6M119.46 27.17V20.52H121.87V21.32M118.94 28V17.59H120.67V20.52M126.95 28V24.87H127.29V28M127.64 28V26.39H127.99V28M129.03 28V26.84H129.38V28M128.69 28V26.05H129.21V26.84M128.34 28V24.78H128.95V26.05M127.82 26.39V23.94H128.64V24.78M130.08 28V26.92H130.43V28M129.73 28V26.17H130.25V26.92M130.77 28V26.13H131.12V28M131.82 28V26.8H132.17V28M131.47 28V25.96H131.99V26.8M130.95 26.13V23.66H131.73V25.96M133.56 28V27.52H133.91V28M134.25 28V27.06H134.6V28M133.73 27.52V26.92H134.43V27.06M133.21 28V26.21H134.08V26.92M132.86 28V25.97H133.64V26.21M132.51 28V24.71H133.25V25.97M135.3 28V27.32H135.65V28M135.99 28V27.23H136.34V28M136.69 28V27.25H137.04V28M137.39 28V26.99H137.73V28M136.86 27.25V26.68H137.56V26.99M136.17 27.23V26.12H137.21V26.68M135.47 27.32V25.57H136.69V26.12M134.95 28V24.35H136.08V25.57M132.88 24.71V23.53H135.52V24.35M131.34 23.66V22.83H134.2V23.53M129.99 26.17V22.44H132.77V22.83M128.23 23.94V21.12H131.38V22.44M127.12 24.87V19.1H129.8V21.12M138.43 28V27.37H138.78V28M139.13 28V26.48H139.47V28M138.6 27.37V25.82H139.3V26.48M139.82 28V26.88H140.17V28M140.52 28V26.92H140.87V28M141.21 28V26.8H141.56V28M140.69 26.92V25.78H141.39V26.8M140 26.88V25.35H141.04V25.78M138.95 25.82V23.53H140.52V25.35M138.08 28V23.36H139.74V23.53M142.61 28V27H142.95V28M142.26 28V24.98H142.78V27M143.3 28V24.29H143.65V28M142.52 24.98V23.16H143.48V24.29M141.91 28V22.05H143V23.16M138.91 23.36V19.72H142.45V22.05M144.69 28V27.13H145.04V28M144.35 28V25.2H144.87V27.13M144 28V21.71H144.61V25.2M146.09 28V25.69H146.43V28M145.74 28V25.31H146.26V25.69M145.39 28V21.09H146V25.31M144.3 21.71V19.76H145.69V21.09M147.13 28V26.88H147.48V28M146.78 28V26.35H147.3V26.88M148.17 28V26.64H148.52V28M147.83 28V25.59H148.35V26.64M147.04 26.35V24.69H148.09V25.59M149.22 28V26.06H149.57V28M148.87 28V22.03H149.39V26.06M147.57 24.69V20.42H149.13V22.03M150.96 28V27.12H151.31V28M150.61 28V25.9H151.13V27.12M150.26 28V22.22H150.87V25.9M152 28V26.63H152.35V28M152.7 28V26.99H153.05V28M153.74 28V27.26H154.09V28M154.44 28V26.93H154.79V28M153.92 27.26V25.51H154.61V26.93M153.4 28V24.53H154.27V25.51M152.87 26.99V24.14H153.83V24.53M152.18 26.63V22.99H153.35V24.14M151.65 28V21.8H152.76V22.99M150.57 22.22V20.94H152.21V21.8M149.91 28V20.04H151.39V20.94M155.48 28V25.96H155.83V28M155.14 28V24.06H155.66V25.96M156.18 28V25.46H156.53V28M157.57 28V27.94H157.92V28M158.27 28V27.24H158.62V28M157.75 27.94V26.86H158.44V27.24M157.22 28V26.52H158.09V26.86M156.88 28V25.89H157.66V26.52M159.31 28V26.93H159.66V28M158.96 28V26.59H159.49V26.93M160.36 28V27.36H160.7V28M160.01 28V25.85H160.53V27.36M159.22 26.59V25.42H160.27V25.85M157.27 25.89V24.69H159.75V25.42M156.35 25.46V24.04H158.51V24.69M161.4 28V27.19H161.75V28M161.05 28V22.7H161.57V27.19M157.43 24.04V22.22H161.31V22.7M155.4 24.06V19.34H159.37V22.22M162.44 28V26.33H162.79V28M163.84 28V27.02H164.18V28M163.49 28V26.01H164.01V27.02M163.14 28V24.97H163.75V26.01M162.62 26.33V24.74H163.44V24.97M164.53 28V27.44H164.88V28M165.58 28V27.29H165.92V28M165.23 28V26.89H165.75V27.29M164.71 27.44V26.31H165.49V26.89M166.27 28V27.27H166.62V28M167.32 28V26.8H167.66V28M166.97 28V24.73H167.49V26.8M166.45 27.27V24.08H167.23V24.73M165.1 26.31V23.8H166.84V24.08M163.03 24.74V22.92H165.97V23.8M162.1 28V19.86H164.5V22.92M168.36 28V23.07H168.71V28M169.06 28V27.09H169.4V28M170.1 28V26.46H170.45V28M169.75 28V25.78H170.27V26.46M170.8 28V27.57H171.14V28M171.49 28V27.31H171.84V28M170.97 27.57V26.25H171.67V27.31M172.19 28V26.63H172.54V28M173.23 28V27.39H173.58V28M174.28 28V27.63H174.62V28M173.93 28V27.34H174.45V27.63M173.41 27.39V27.09H174.19V27.34M174.97 28V27.82H175.32V28M175.67 28V27.17H176.02V28M175.15 27.82V26.89H175.84V27.17M173.8 27.09V26.21H175.49V26.89M172.88 28V25.68H174.65V26.21M172.36 26.63V25.46H173.77V25.68M171.32 26.25V25.04H173.06V25.46M170.01 25.78V23.17H172.19V25.04M169.23 27.09V22.78H171.1V23.17M168.53 23.07V21.98H170.17V22.78M168.01 28V20.93H169.35V21.98M176.36 28V27.62H176.71V28M178.1 28V27.6H178.45V28M177.76 28V27.49H178.28V27.6M177.41 28V26.98H178.02V27.49M177.06 28V26.67H177.71V26.98M179.15 28V27.69H179.5V28M178.8 28V27.24H179.32V27.69M179.85 28V27.02H180.19V28M179.06 27.24V26.18H180.02V27.02M177.39 26.67V25.94H179.54V26.18M176.54 27.62V25.37H178.46V25.94M180.54 28V26.7H180.89V28M182.28 28V27.15H182.63V28M181.93 28V26.69H182.46V27.15M181.59 28V26.38H182.19V26.69M181.24 28V25.97H181.89V26.38M180.72 26.7V25.5H181.56V25.97M183.67 28V26.99H184.02V28M183.33 28V26.2H183.85V26.99M182.98 28V25.5H183.59V26.2M181.14 25.5V24.15H183.28V25.5M177.5 25.37V24.1H182.21V24.15M184.37 28V22.63H184.72V28M179.86 24.1V21.27H184.54V22.63M186.11 28V25.7H186.46V28M185.76 28V24.6H186.28V25.7M185.41 28V23.46H186.02V24.6M187.5 28V26.72H187.85V28M187.15 28V26.68H187.68V26.72M188.55 28V27.49H188.89V28M188.2 28V27.18H188.72V27.49M189.24 28V27.08H189.59V28M188.46 27.18V26.33H189.42V27.08M187.41 26.68V25.3H188.94V26.33M186.81 28V24.74H188.18V25.3M190.29 28V25.71H190.63V28M189.94 28V24.67H190.46V25.71M187.49 24.74V24.18H190.2V24.67M191.68 28V27.88H192.03V28M192.37 28V27.72H192.72V28M191.85 27.88V27.44H192.55V27.72M191.33 28V26.93H192.2V27.44M193.42 28V27.05H193.77V28M193.07 28V26.86H193.59V27.05M191.76 26.93V26.4H193.33V26.86M190.98 28V26.29H192.55V26.4M194.11 28V27.16H194.46V28M195.16 28V27.5H195.51V28M194.81 28V26.96H195.33V27.5M194.29 27.16V26.06H195.07V26.96M191.76 26.29V25.43H194.68V26.06M196.9 28V27.29H197.25V28M196.55 28V26.87H197.07V27.29M196.2 28V26H196.81V26.87M195.85 28V25.18H196.51V26M193.22 25.43V24.18H196.18V25.18M188.84 24.18V23.22H194.7V24.18M185.72 23.46V22.26H191.77V23.22M185.07 28V20.3H188.75V22.26M198.99 28V27.4H199.33V28M198.64 28V26.34H199.16V27.4M198.29 28V25.49H198.9V26.34M197.94 28V24.22H198.59V25.49M200.03 28V27.32H200.38V28M200.73 28V26.86H201.07V28M200.2 27.32V26.5H200.9V26.86M201.77 28V27.34H202.12V28M201.42 28V27.32H201.94V27.34M203.16 28V27.48H203.51V28M202.81 28V27.38H203.34V27.48M202.47 28V26.88H203.08V27.38M201.68 27.32V26.3H202.77V26.88M200.55 26.5V25.99H202.23V26.3M204.21 28V27.13H204.55V28M203.86 28V26.74H204.38V27.13M206.3 28V27.82H206.64V28M205.95 28V27.63H206.47V27.82M205.6 28V27.15H206.21V27.63M205.25 28V26.88H205.9V27.15M207.69 28V27.43H208.04V28M207.34 28V27.2H207.86V27.43M206.99 28V26.71H207.6V27.2M205.58 26.88V26.47H207.3V26.71M204.9 28V25.99H206.44V26.47M204.12 26.74V25.34H205.67V25.99M201.39 25.99V25.04H204.89V25.34M199.68 28V23.97H203.14V25.04M198.27 24.22V23.64H201.41V23.97M197.59 28V21.8H199.84V23.64M209.08 28V27.49H209.43V28M208.73 28V25.97H209.25V27.49M209.78 28V26.29H210.12V28M210.82 28V27.22H211.17V28M211.86 28V27.51H212.21V28M211.52 28V26.96H212.04V27.51M210.99 27.22V26.4H211.78V26.96M210.47 28V25.67H211.38V26.4M212.91 28V27.49H213.26V28M212.56 28V26.88H213.08V27.49M213.6 28V27.33H213.95V28M214.3 28V27.27H214.65V28M213.78 27.33V26.87H214.47V27.27M212.82 26.88V26.39H214.13V26.87M215.69 28V27.9H216.04V28M215.34 28V27.54H215.87V27.9M215 28V27.39H215.6V27.54M216.39 28V27.56H216.74V28M217.08 28V27.39H217.43V28M216.56 27.56V26.87H217.26V27.39M215.3 27.39V26.8H216.91V26.87M218.13 28V27.55H218.48V28M217.78 28V26.71H218.3V27.55M216.11 26.8V25.9H218.04V26.71M213.47 26.39V25.45H217.07V25.9M210.93 25.67V25.05H215.27V25.45M209.95 26.29V24.43H213.1V25.05M208.99 25.97V23.82H211.52V24.43M208.38 28V22.25H210.26V23.82M219.17 28V27.03H219.52V28M220.22 28V27.21H220.56V28M219.87 28V26.39H220.39V27.21M219.35 27.03V24.15H220.13V26.39M221.61 28V26.94H221.96V28M221.26 28V26.79H221.78V26.94M222.3 28V26.33H222.65V28M221.52 26.79V25.89H222.48V26.33M220.91 28V25.25H222V25.89M223.35 28V27.4H223.7V28M224.74 28V27.45H225.09V28M224.39 28V27.26H224.91V27.45M224.04 28V27.14H224.65V27.26M223.52 27.4V26.77H224.35V27.14M223 28V25.99H223.94V26.77M225.44 28V26.79H225.78V28M226.13 28V27.27H226.48V28M227.18 28V27.8H227.52V28M226.83 28V27.21H227.35V27.8M226.31 27.27V26.35H227.09V27.21M225.61 26.79V25.96H226.7V26.35M223.47 25.99V25.12H226.15V25.96M228.57 28V27H228.92V28M228.22 28V25.74H228.74V27M227.87 28V24.94H228.48V25.74M224.81 25.12V24.3H228.18V24.94M221.46 25.25V23.56H226.49V24.3M219.74 24.15V22.83H223.98V23.56M218.82 28V21.84H221.86V22.83M229.61 28V27.14H229.96V28M230.66 28V27.86H231V28M230.31 28V27.64H230.83V27.86M232.05 28V27.55H232.4V28M231.7 28V27.2H232.22V27.55M231.35 28V26.63H231.96V27.2M230.57 27.64V26.34H231.66V26.63M229.79 27.14V25.7H231.11V26.34M232.75 28V26.86H233.09V28M233.44 28V27.32H233.79V28M234.49 28V27.65H234.83V28M235.53 28V27.71H235.88V28M235.18 28V27.25H235.7V27.71M234.66 27.65V27.09H235.44V27.25M234.14 28V26.71H235.05V27.09M233.62 27.32V26.38H234.59V26.71M236.23 28V27.47H236.57V28M236.92 28V27.46H237.27V28M236.4 27.47V27.06H237.1V27.46M237.97 28V26.94H238.31V28M237.62 28V26.4H238.14V26.94M236.75 27.06V26.07H237.88V26.4M239.01 28V27.31H239.36V28M238.66 28V26.84H239.18V27.31M240.05 28V27.5H240.4V28M239.71 28V27.23H240.23V27.5M241.79 28V27.94H242.14V28M241.45 28V27.82H241.97V27.94M241.1 28V27.37H241.71V27.82M240.75 28V27.12H241.4V27.37M239.97 27.23V26.76H241.08V27.12M238.92 26.84V25.98H240.52V26.76M237.31 26.07V25.61H239.72V25.98M234.1 26.38V25.39H238.52V25.61M232.92 26.86V24.75H236.31V25.39M230.45 25.7V24.43H234.62V24.75M229.26 28V23.06H232.53V24.43M243.19 28V27.41H243.53V28M243.88 28V26.57H244.23V28M244.93 28V27.56H245.27V28M244.58 28V26.91H245.1V27.56M246.32 28V27.94H246.67V28M245.97 28V27.8H246.49V27.94M245.62 28V27.69H246.23V27.8M247.01 28V27.95H247.36V28M247.71 28V27.56H248.06V28M247.19 27.95V27.5H247.88V27.56M245.93 27.69V27.39H247.54V27.5M249.45 28V27.73H249.8V28M249.1 28V27.64H249.62V27.73M248.75 28V27.43H249.36V27.64M248.41 28V27.21H249.06V27.43M246.73 27.39V26.91H248.73V27.21M250.15 28V27.7H250.49V28M251.19 28V27.56H251.54V28M250.84 28V27.24H251.36V27.56M250.32 27.7V26.86H251.1V27.24M247.73 26.91V26.58H250.71V26.86M244.84 26.91V26.24H249.22V26.58M252.58 28V27.43H252.93V28M252.23 28V26.7H252.76V27.43M251.89 28V26.1H252.5V26.7M247.03 26.24V25.86H252.19V26.1M244.06 26.57V25.47H249.61V25.86M243.36 27.41V25.37H246.83V25.47M242.84 28V24.52H245.1V25.37M242.49 28V23.62H243.97V24.52M254.32 28V27.1H254.67V28M253.97 28V27.01H254.5V27.1M253.63 28V26.21H254.24V27.01M255.02 28V27.88H255.37V28M255.71 28V27.46H256.06V28M255.19 27.88V27.22H255.89V27.46M256.41 28V26.88H256.76V28M255.54 27.22V26.27H256.58V26.88M257.8 28V27.62H258.15V28M257.45 28V27.15H257.98V27.62M257.11 28V26.73H257.72V27.15M258.5 28V27.25H258.85V28M259.54 28V27.68H259.89V28M259.2 28V26.94H259.72V27.68M258.67 27.25V26.71H259.46V26.94M257.41 26.73V26.16H259.06V26.71M260.59 28V26.89H260.94V28M260.24 28V25.78H260.76V26.89M258.24 26.16V25.45H260.5V25.78M256.06 26.27V25.28H259.37V25.45M253.93 26.21V24.01H257.72V25.28M253.28 28V22.56H255.82V24.01M261.98 28V27.71H262.33V28M263.02 28V27.4H263.37V28M262.68 28V26.8H263.2V27.4M262.15 27.71V26.53H262.94V26.8M261.63 28V25.04H262.54V26.53M261.28 28V24.57H262.09V25.04M263.72 28V25.42H264.07V28M264.76 28V27.31H265.11V28M264.42 28V25.78H264.94V27.31M265.46 28V26.72H265.81V28M266.5 28V26.85H266.85V28M266.16 28V26.02H266.68V26.85M265.63 26.72V25.51H266.42V26.02M267.55 28V27.67H267.9V28M268.24 28V27.83H268.59V28M269.29 28V27.73H269.64V28M268.94 28V27.63H269.46V27.73M268.42 27.83V27.21H269.2V27.63M269.98 28V27.58H270.33V28M271.03 28V27.76H271.38V28M270.68 28V27.45H271.2V27.76M270.16 27.58V27.2H270.94V27.45M268.81 27.21V26.63H270.55V27.2M267.72 27.67V26.09H269.68V26.63M267.2 28V25.25H268.7V26.09M266.03 25.51V24.66H267.95V25.25M264.68 25.78V24.39H266.99V24.66M263.89 25.42V23.82H265.83V24.39M261.69 24.57V23.21H264.86V23.82M271.72 28V26.39H272.07V28M272.42 28V27.5H272.77V28M273.46 28V27.25H273.81V28M274.16 28V27.02H274.51V28M273.64 27.25V26.67H274.33V27.02M273.12 28V26.37H273.99V26.67M272.59 27.5V25.1H273.55V26.37M275.2 28V27.46H275.55V28M274.86 28V26.9H275.38V27.46M275.9 28V27.34H276.25V28M277.29 28V27.88H277.64V28M276.94 28V27.33H277.47V27.88M276.6 28V27.13H277.21V27.33M276.07 27.34V26.89H276.9V27.13M275.12 26.9V26.35H276.49V26.89M277.99 28V27.26H278.34V28M279.03 28V27.82H279.38V28M278.68 28V27.25H279.21V27.82M278.16 27.26V26.71H278.95V27.25M280.08 28V26.73H280.42V28M280.77 28V27.45H281.12V28M281.47 28V27.35H281.82V28M280.95 27.45V26.72H281.64V27.35M280.25 26.73V26.24H281.29V26.72M279.73 28V25.98H280.77V26.24M278.55 26.71V25.56H280.25V25.98M275.8 26.35V24.88H279.4V25.56M273.07 25.1V24.07H277.6V24.88M271.9 26.39V23.09H275.34V24.07M283.21 28V27.3H283.56V28M283.9 28V26.95H284.25V28M283.38 27.3V26.59H284.08V26.95M282.86 28V26.27H283.73V26.59M282.51 28V25.29H283.3V26.27M282.16 28V24.51H282.9V25.29M284.6 28V27.21H284.95V28M285.3 28V27.03H285.65V28M285.99 28V27.39H286.34V28M286.69 28V26.93H287.04V28M286.17 27.39V26.69H286.86V26.93M285.47 27.03V26.09H286.52V26.69M287.73 28V27.97H288.08V28M287.39 28V26.52H287.91V27.97M288.43 28V27.56H288.78V28M289.47 28V27.23H289.82V28M289.13 28V27.05H289.65V27.23M288.6 27.56V26.51H289.39V27.05M287.65 26.52V26.05H288.99V26.51M285.99 26.09V24.5H288.32V26.05M284.77 27.21V24.13H287.16V24.5M282.53 24.51V23.8H285.97V24.13M290.17 28V27.53H290.52V28M290.87 28V27.1H291.21V28M290.34 27.53V24.7H291.04V27.1M291.91 28V27.52H292.26V28M292.95 28V27.94H293.3V28M292.61 28V27.41H293.13V27.94M292.08 27.52V26.73H292.87V27.41M293.65 28V26.08H294V28M292.48 26.73V25.95H293.82V26.08M294.35 28V27.49H294.69V28M295.39 28V27.54H295.74V28M295.04 28V26.82H295.56V27.54M294.52 27.49V26.36H295.3V26.82M296.09 28V27.1H296.43V28M297.48 28V27.21H297.83V28M297.13 28V26.91H297.65V27.21M296.78 28V26.52H297.39V26.91M296.26 27.1V26.03H297.09V26.52M294.91 26.36V25.55H296.67V26.03M293.15 25.95V25.52H295.79V25.55M291.56 28V23.87H294.47V25.52M290.69 24.7V23.76H293.02V23.87M284.25 23.8V22.15H291.85V23.76M273.62 23.09V21.97H288.05V22.15M263.27 23.21V21.47H280.83V21.97M254.55 22.56V21.43H272.05V21.47M243.23 23.62V20.96H263.3V21.43M230.9 23.06V20.61H253.27V20.96M220.34 21.84V20.39H242.08V20.61M209.32 22.25V19.92H231.21V20.39M198.72 21.8V19.58H220.27V19.92M186.91 20.3V19.38H209.49V19.58M182.2 21.27V19.18H198.2V19.38M168.68 20.93V18.62H190.2V19.18M163.3 19.86V18.72H179.44V18.62M157.38 19.34V18.59H171.37V18.72M150.65 20.04V18.24H164.38V18.59M148.35 20.42V17.99H157.51V18.24M145 19.76V17.96H152.93V17.99M140.68 19.72V17.58H148.97V17.96M128.46 19.1V16.94H144.82V17.58M119.8 17.59V16.68H136.64V16.94M100.97 17.32V15.3H128.22V16.68M93.03 16.1V14.88H114.6V15.3M87.83 16.59V14.72H103.81V14.88M68.71 16.25V13.21H95.82V14.72M55.45 14.8V12.22H82.27V13.21M38.98 16.2V7.5H68.86V12.22" fill="none" stroke="#333" stroke-width="0.4"/>
<path d="M33.5 28.75H33.16V29.05H33.5M33.5 29.35H33.38V29.65H33.5M33.5 30.25H33.39V30.55H33.5M33.5 29.95H33.32V30.4H33.39M33.5 30.85H33.42V31.15H33.5M33.5 31.45H33.36V31.75H33.5M33.42 31H33.24V31.6H33.36M33.32 30.17H33.09V31.3H33.24M33.38 29.5H32.77V30.74H33.09M33.16 28.9H32.57V30.12H32.77M33.5 32.05H33.45V32.35H33.5M33.5 32.95H33.49V33.25H33.5M33.5 32.65H33.38V33.1H33.49M33.45 32.2H33.18V32.87H33.38M33.5 33.84H33.4V34.14H33.5M33.5 33.55H33.2V33.99H33.4M33.5 34.44H33.1V34.74H33.5M33.2 33.77H32.68V34.59H33.1M33.18 32.53H32.46V34.18H32.68M32.57 29.51H32.26V33.36H32.46M33.5 28.45H32.01V31.43H32.26M33.5 28.15H30.24V29.94H32.01M33.5 35.34H33.16V35.64H33.5M33.5 35.04H31.87V35.49H33.16M33.5 36.24H33.29V36.54H33.5M33.5 36.84H33.03V37.14H33.5M33.29 36.39H32.76V36.99H33.03M33.5 35.94H32.3V36.69H32.76M33.5 38.04H33.11V38.34H33.5M33.5 37.74H32.3V38.19H33.11M33.5 37.44H32.01V37.97H32.3M33.5 38.64H32.93V38.94H33.5M33.5 39.54H32.99V39.84H33.5M33.5 39.24H32.68V39.69H32.99M33.5 40.74H33.4V41.04H33.5M33.5 40.44H32.99V40.89H33.4M33.5 40.14H32.74V40.66H32.99M33.5 41.64H33.4V41.94H33.5M33.5 41.34H33.29V41.79H33.4M33.5 42.24H33.47V42.54H33.5M33.5 43.14H33.46V43.44H33.5M33.5 42.84H33.32V43.29H33.46M33.47 42.39H33.23V43.06H33.32M33.29 41.56H33.06V42.72H33.23M33.5 44.04H33.4V44.34H33.5M33.5 44.64H33.35V44.94H33.5M33.4 44.19H33.07V44.79H33.35M33.5 43.74H32.92V44.49H33.07M33.06 42.14H32.61V44.11H32.92M32.74 40.4H31.93V43.13H32.61M32.68 39.46H31.4V41.76H31.93M32.93 38.79H31.11V40.61H31.4M32.01 37.7H30.83V39.7H31.11M32.3 36.32H30.27V38.7H30.83M31.87 35.27H29.42V37.51H30.27M30.24 29.05H21.46V36.39H29.42M33.5 45.83H32.28V46.13H33.5M33.5 46.43H31.71V46.73H33.5M32.28 45.98H31.02V46.58H31.71M33.5 47.63H33.22V47.93H33.5M33.5 47.33H32.54V47.78H33.22M33.5 47.03H32.26V47.56H32.54M33.5 48.53H33.02V48.83H33.5M33.5 49.13H32.45V49.43H33.5M33.02 48.68H31.83V49.28H32.45M33.5 48.23H31.57V48.98H31.83M32.26 47.3H31.37V48.61H31.57M33.5 50.63H32.9V50.93H33.5M33.5 50.33H32.43V50.78H32.9M33.5 50.03H31.83V50.56H32.43M33.5 49.73H30.8V50.29H31.83M31.37 47.95H29.77V50.01H30.8M31.02 46.28H28.77V48.98H29.77M33.5 51.83H32.39V52.13H33.5M33.5 51.53H30.63V51.98H32.39M33.5 51.23H28.61V51.75H30.63M28.77 47.63H27.99V51.49H28.61M33.5 52.43H31.57V52.73H33.5M33.5 53.33H32.46V53.63H33.5M33.5 53.03H30.99V53.48H32.46M31.57 52.58H30.48V53.25H30.99M33.5 54.23H30.97V54.53H33.5M33.5 55.13H32.87V55.43H33.5M33.5 54.83H32.01V55.28H32.87M33.5 56.33H32.73V56.62H33.5M33.5 56.03H32.18V56.48H32.73M33.5 55.73H31.01V56.25H32.18M32.01 55.05H30.87V55.99H31.01M30.97 54.38H30V55.52H30.87M33.5 53.93H29.08V54.95H30M30.48 52.92H26.93V54.44H29.08M27.99 49.56H26.39V53.68H26.93M33.5 45.53H20.5V51.62H26.39M33.5 45.23H20.04V48.58H20.5M33.5 56.92H31.26V57.22H33.5M33.5 57.52H29.75V57.82H33.5M33.5 58.42H32.53V58.72H33.5M33.5 58.12H31.52V58.57H32.53M33.5 59.02H32.29V59.32H33.5M33.5 59.62H31.72V59.92H33.5M32.29 59.17H28.6V59.77H31.72M31.52 58.35H27.01V59.47H28.6M33.5 60.22H33.16V60.52H33.5M33.5 60.82H32.55V61.12H33.5M33.5 61.42H32.08V61.72H33.5M33.5 62.92H33.08V63.22H33.5M33.5 62.62H32.68V63.07H33.08M33.5 62.32H32.44V62.84H32.68M33.5 62.02H31.93V62.58H32.44M32.08 61.57H31.62V62.3H31.93M32.55 60.97H30.64V61.94H31.62M33.16 60.37H28.72V61.45H30.64M33.5 63.52H31.65V63.82H33.5M33.5 64.12H30.43V64.42H33.5M31.65 63.67H29.41V64.27H30.43M33.5 65.02H33.2V65.32H33.5M33.5 65.62H32.97V65.92H33.5M33.2 65.17H32.32V65.77H32.97M33.5 66.22H31.91V66.52H33.5M32.32 65.47H31.2V66.37H31.91M33.5 66.82H32.9V67.12H33.5M33.5 67.72H32.99V68.01H33.5M33.5 67.42H32.38V67.87H32.99M32.9 66.97H31.11V67.64H32.38M31.2 65.92H30.39V67.3H31.11M33.5 64.72H29.18V66.61H30.39M29.41 63.97H29.01V65.66H29.18M33.5 68.61H33.12V68.91H33.5M33.5 68.31H31.1V68.76H33.12M33.5 70.41H33.22V70.71H33.5M33.5 70.11H32.76V70.56H33.22M33.5 69.81H32.49V70.34H32.76M33.5 69.51H32.2V70.08H32.49M33.5 69.21H31.47V69.79H32.2M33.5 71.01H32.31V71.31H33.5M33.5 71.91H33.24V72.21H33.5M33.5 71.61H32.98V72.06H33.24M33.5 72.51H32.51V72.81H33.5M32.98 71.84H32.06V72.66H32.51M32.31 71.16H31.29V72.25H32.06M31.47 69.5H30.64V71.71H31.29M31.1 68.54H28.7V70.6H30.64M29.01 64.82H27.94V69.57H28.7M28.72 60.91H26.54V67.19H27.94M27.01 58.91H25.43V64.05H26.54M29.75 57.67H23.29V61.48H25.43M31.26 57.07H21.52V59.58H23.29M33.5 74.01H31.46V74.31H33.5M33.5 73.71H30.37V74.16H31.46M33.5 73.41H27V73.93H30.37M33.5 73.11H24.21V73.67H27M33.5 74.61H31.97V74.91H33.5M33.5 75.51H33.24V75.81H33.5M33.5 75.21H30.3V75.66H33.24M31.97 74.76H29.78V75.43H30.3M33.5 76.41H32.14V76.71H33.5M33.5 76.11H30.89V76.56H32.14M33.5 77.01H30.53V77.31H33.5M30.89 76.33H28.95V77.16H30.53M33.5 77.91H31.86V78.21H33.5M33.5 77.61H28.73V78.06H31.86M28.95 76.74H24.87V77.83H28.73M29.78 75.1H23.45V77.29H24.87M24.21 73.39H21.86V76.19H23.45M33.5 79.11H30.69V79.4H33.5M33.5 78.81H28.7V79.25H30.69M33.5 80.9H33.22V81.2H33.5M33.5 80.6H32.82V81.05H33.22M33.5 80.3H31.66V80.83H32.82M33.5 80H31.18V80.57H31.66M33.5 79.7H30.38V80.29H31.18M33.5 82.1H32.32V82.4H33.5M33.5 81.8H30.64V82.25H32.32M33.5 82.7H31.57V83H33.5M33.5 83.9H32.66V84.2H33.5M33.5 83.6H31.66V84.05H32.66M33.5 83.3H30.57V83.83H31.66M31.57 82.85H29.9V83.56H30.57M30.64 82.03H28.59V83.21H29.9M33.5 81.5H27.02V82.62H28.59M30.38 79.99H26.45V82.06H27.02M28.7 79.03H25.82V81.03H26.45M33.5 78.51H21.36V80.03H25.82M33.5 84.5H31.55V84.8H33.5M33.5 85.4H31.81V85.7H33.5M33.5 85.1H28.2V85.55H31.81M33.5 86.6H32.65V86.9H33.5M33.5 86.3H31.38V86.75H32.65M33.5 87.2H31.81V87.5H33.5M33.5 88.4H32.62V88.7H33.5M33.5 88.1H32.29V88.55H32.62M33.5 87.8H30.82V88.32H32.29M31.81 87.35H30.31V88.06H30.82M31.38 86.52H29.2V87.7H30.31M33.5 86H27.78V87.11H29.2M33.5 89.6H32.21V89.9H33.5M33.5 89.3H32.09V89.75H32.21M33.5 89H31.65V89.52H32.09M33.5 90.5H31.95V90.79H33.5M33.5 90.2H31.3V90.65H31.95M33.5 91.39H31.85V91.69H33.5M33.5 91.09H30.45V91.54H31.85M31.3 90.42H29.87V91.32H30.45M31.65 89.26H28.59V90.87H29.87M33.5 92.59H33.05V92.89H33.5M33.5 92.29H32.91V92.74H33.05M33.5 93.19H32.05V93.49H33.5M32.91 92.52H31.79V93.34H32.05M33.5 91.99H29.7V92.93H31.79M33.5 94.69H33.1V94.99H33.5M33.5 94.39H32.99V94.84H33.1M33.5 94.09H32.34V94.62H32.99M33.5 93.79H31.58V94.35H32.34M33.5 95.59H32.18V95.89H33.5M33.5 95.29H31.35V95.74H32.18M31.58 94.07H30.88V95.52H31.35M33.5 96.79H33.25V97.09H33.5M33.5 96.49H32.78V96.94H33.25M33.5 96.19H30.58V96.71H32.78M30.88 94.79H29.1V96.45H30.58M29.7 92.46H28.42V95.62H29.1M33.5 97.69H33.27V97.99H33.5M33.5 97.39H30.89V97.84H33.27M33.5 98.89H31.98V99.19H33.5M33.5 100.09H33.25V100.39H33.5M33.5 99.79H32.98V100.24H33.25M33.5 99.49H32.86V100.01H32.98M33.5 100.99H32.73V101.29H33.5M33.5 100.69H32.32V101.14H32.73M32.86 99.75H31.41V100.91H32.32M31.98 99.04H30.99V100.33H31.41M33.5 98.59H29.75V99.68H30.99M33.5 98.29H29.4V99.14H29.75M30.89 97.61H27.81V98.71H29.4M28.42 94.04H27.33V98.16H27.81M28.59 90.06H25.89V96.1H27.33M27.78 86.56H25.39V93.08H25.89M28.2 85.32H24.15V89.82H25.39M31.55 84.65H22.6V87.57H24.15M33.5 101.89H32.65V102.18H33.5M33.5 102.48H31.33V102.78H33.5M33.5 103.08H30.38V103.38H33.5M31.33 102.63H29.42V103.23H30.38M33.5 104.58H33.11V104.88H33.5M33.5 104.28H32.62V104.73H33.11M33.5 103.98H31.08V104.51H32.62M33.5 103.68H28.75V104.25H31.08M33.5 105.48H33.16V105.78H33.5M33.5 105.18H32.89V105.63H33.16M33.5 106.38H31.59V106.68H33.5M33.5 106.08H30.19V106.53H31.59M32.89 105.41H29.94V106.31H30.19M33.5 107.28H33.1V107.58H33.5M33.5 107.88H31.93V108.18H33.5M33.1 107.43H30.61V108.03H31.93M33.5 106.98H28.67V107.73H30.61M29.94 105.86H27.92V107.36H28.67M28.75 103.96H26.97V106.61H27.92M29.42 102.93H26.69V105.29H26.97M32.65 102.03H25.87V104.11H26.69M33.5 101.59H22.88V103.07H25.87M33.5 108.48H30.3V108.78H33.5M33.5 109.08H31.85V109.38H33.5M33.5 110.28H32.32V110.58H33.5M33.5 109.98H31.51V110.43H32.32M33.5 109.68H30.21V110.2H31.51M31.85 109.23H29.36V109.94H30.21M33.5 111.18H32.4V111.48H33.5M33.5 110.88H31.64V111.33H32.4M33.5 111.78H31.59V112.08H33.5M33.5 112.68H32.28V112.98H33.5M33.5 112.38H31.42V112.83H32.28M31.59 111.93H29.07V112.6H31.42M33.5 114.17H33.01V114.47H33.5M33.5 114.77H32.54V115.07H33.5M33.01 114.32H32.4V114.92H32.54M33.5 113.87H31.67V114.62H32.4M33.5 113.57H31.43V114.25H31.67M33.5 113.28H30.14V113.91H31.43M33.5 115.67H32.81V115.97H33.5M33.5 116.27H32.71V116.57H33.5M33.5 116.87H32.74V117.17H33.5M33.5 117.47H32.47V117.77H33.5M32.74 117.02H32.16V117.62H32.47M32.71 116.42H31.58V117.32H32.16M32.81 115.82H31.02V116.87H31.58M33.5 115.37H29.77V116.35H31.02M30.14 113.59H28.94V115.86H29.77M29.07 112.26H28.23V114.73H28.94M31.64 111.1H27.82V113.5H28.23M29.36 109.58H26.49V112.3H27.82M30.3 108.63H24.43V110.94H26.49M33.5 118.37H32.85V118.67H33.5M33.5 118.97H31.95V119.27H33.5M32.85 118.52H31.28V119.12H31.95M33.5 119.57H32.35V119.87H33.5M33.5 120.17H32.4V120.47H33.5M33.5 120.77H32.28V121.07H33.5M32.4 120.32H31.24V120.92H32.28M32.35 119.72H30.79V120.62H31.24M31.28 118.82H28.94V120.17H30.79M33.5 118.07H28.77V119.49H28.94M33.5 121.97H32.48V122.27H33.5M33.5 121.67H30.42V122.12H32.48M33.5 122.57H29.71V122.87H33.5M30.42 121.89H28.56V122.72H29.71M33.5 121.37H27.43V122.3H28.56M28.77 118.78H25.06V121.84H27.43M33.5 123.77H32.62V124.07H33.5M33.5 123.47H30.64V123.92H32.62M33.5 123.17H27.08V123.69H30.64M33.5 124.96H31.14V125.26H33.5M33.5 124.67H30.76V125.11H31.14M33.5 124.37H26.45V124.89H30.76M27.08 123.43H25.1V124.63H26.45M33.5 125.86H32.36V126.16H33.5M33.5 125.56H31.82V126.01H32.36M33.5 126.76H32.12V127.06H33.5M33.5 126.46H31.04V126.91H32.12M31.82 125.79H30.12V126.69H31.04M33.5 127.66H31.52V127.96H33.5M33.5 127.36H27.41V127.81H31.52M30.12 126.24H25.77V127.59H27.41M33.5 129.16H32.61V129.46H33.5M33.5 128.86H31.36V129.31H32.61M33.5 128.56H27.61V129.09H31.36M33.5 130.06H32.11V130.36H33.5M33.5 130.66H32.47V130.96H33.5M33.5 131.56H32.74V131.86H33.5M33.5 132.16H32.41V132.46H33.5M32.74 131.71H30.96V132.31H32.41M33.5 131.26H29.96V132.01H30.96M32.47 130.81H29.56V131.63H29.96M32.11 130.21H28.39V131.22H29.56M33.5 129.76H27.18V130.72H28.39M27.61 128.82H26.3V130.24H27.18M33.5 128.26H25.38V129.53H26.3M33.5 133.06H31.42V133.36H33.5M33.5 132.76H29.48V133.21H31.42M33.5 133.66H30.91V133.96H33.5M33.5 134.86H33.43V135.16H33.5M33.5 135.46H32.73V135.76H33.5M33.43 135.01H32.33V135.61H32.73M33.5 134.56H31.99V135.31H32.33M33.5 134.26H31.35V134.93H31.99M33.5 136.35H32.4V136.65H33.5M33.5 136.06H32.06V136.5H32.4M33.5 137.25H32.85V137.55H33.5M33.5 136.95H31.31V137.4H32.85M32.06 136.28H30.87V137.18H31.31M31.35 134.59H30.12V136.73H30.87M30.91 133.81H29.46V135.66H30.12M33.5 138.15H32.67V138.45H33.5M33.5 137.85H28.09V138.3H32.67M29.46 134.73H27.61V138.08H28.09M29.48 132.98H24.66V136.41H27.61M33.5 139.05H31.8V139.35H33.5M33.5 140.25H32.5V140.55H33.5M33.5 139.95H31.47V140.4H32.5M33.5 139.65H30.41V140.18H31.47M31.8 139.2H30.18V139.91H30.41M33.5 140.85H32.93V141.15H33.5M33.5 141.75H32.78V142.05H33.5M33.5 141.45H32.37V141.9H32.78M32.93 141H31.77V141.68H32.37M33.5 142.35H32.75V142.65H33.5M33.5 143.25H32.28V143.55H33.5M33.5 142.95H30.16V143.4H32.28M32.75 142.5H29.5V143.17H30.16M31.77 141.34H29.22V142.84H29.5M30.18 139.56H28.31V142.09H29.22M33.5 138.75H25.2V140.82H28.31M33.5 144.15H28.47V144.45H33.5M33.5 144.75H32.57V145.05H33.5M33.5 145.65H31.93V145.95H33.5M33.5 145.35H31.24V145.8H31.93M33.5 146.25H33.06V146.55H33.5M33.5 146.85H32.8V147.15H33.5M33.06 146.4H31.71V147H32.8M33.5 147.45H32.11V147.74H33.5M33.5 148.34H32.88V148.64H33.5M33.5 149.24H33.12V149.54H33.5M33.5 148.94H32.82V149.39H33.12M32.88 148.49H32.57V149.17H32.82M33.5 149.84H33.31V150.14H33.5M33.5 150.44H32.65V150.74H33.5M33.31 149.99H32.37V150.59H32.65M32.57 148.83H31.67V150.29H32.37M33.5 148.04H31.14V149.56H31.67M32.11 147.6H30.91V148.8H31.14M31.71 146.7H30.48V148.2H30.91M31.24 145.57H28.57V147.45H30.48M32.57 144.9H28.17V146.51H28.57M28.47 144.3H27.36V145.7H28.17M33.5 143.85H26.29V145H27.36M33.5 151.04H33.11V151.34H33.5M33.5 152.54H33.09V152.84H33.5M33.5 152.24H32.98V152.69H33.09M33.5 151.94H32.46V152.47H32.98M33.5 151.64H32.15V152.2H32.46M33.5 153.44H33.18V153.74H33.5M33.5 153.14H32.72V153.59H33.18M33.5 154.04H32.5V154.34H33.5M32.72 153.36H31.64V154.19H32.5M32.15 151.92H31.4V153.78H31.64M33.11 151.19H30.81V152.85H31.4M33.5 154.64H32.18V154.94H33.5M33.5 156.14H32.64V156.44H33.5M33.5 155.84H32.16V156.29H32.64M33.5 155.54H31.84V156.06H32.16M33.5 155.24H31.43V155.8H31.84M32.18 154.79H30.95V155.52H31.43M33.5 157.34H32.47V157.64H33.5M33.5 157.04H31.66V157.49H32.47M33.5 156.74H30.95V157.26H31.66M30.95 155.15H29.57V157H30.95M30.81 152.02H29.52V156.08H29.57M33.5 157.94H28.02V158.24H33.5M29.52 154.05H26.64V158.09H28.02M33.5 159.43H31.15V159.73H33.5M33.5 159.13H30.04V159.58H31.15M33.5 158.84H28.87V159.36H30.04M33.5 160.63H32.2V160.93H33.5M33.5 160.33H32.15V160.78H32.2M33.5 161.53H32.98V161.83H33.5M33.5 161.23H32.66V161.68H32.98M33.5 162.13H32.56V162.43H33.5M32.66 161.46H31.8V162.28H32.56M32.15 160.56H30.74V161.87H31.8M33.5 160.03H30.18V161.21H30.74M33.5 163.03H31.16V163.33H33.5M33.5 162.73H30.1V163.18H31.16M30.18 160.62H29.61V162.96H30.1M33.5 164.23H33.38V164.53H33.5M33.5 164.83H33.21V165.13H33.5M33.38 164.38H32.93V164.98H33.21M33.5 163.93H32.41V164.68H32.93M33.5 165.73H32.53V166.03H33.5M33.5 165.43H32.34V165.88H32.53M32.41 164.31H31.86V165.65H32.34M33.5 163.63H31.75V164.98H31.86M33.5 166.33H32.64V166.63H33.5M33.5 167.23H32.99V167.53H33.5M33.5 166.93H32.44V167.38H32.99M32.64 166.48H31.52V167.15H32.44M31.75 164.31H30.88V166.82H31.52M33.5 168.73H32.78V169.03H33.5M33.5 168.43H32.35V168.88H32.78M33.5 168.13H31.46V168.65H32.35M33.5 167.83H30.62V168.39H31.46M30.88 165.56H29.6V168.11H30.62M29.61 161.79H28.63V166.83H29.6M28.87 159.1H27.64V164.31H28.63M33.5 158.54H25.65V161.7H27.64M33.5 170.52H32.89V170.82H33.5M33.5 170.23H31.81V170.67H32.89M33.5 169.93H30.94V170.45H31.81M33.5 169.63H29.65V170.19H30.94M33.5 171.42H32.8V171.72H33.5M33.5 172.02H32.34V172.32H33.5M32.8 171.57H31.97V172.17H32.34M33.5 172.92H32.83V173.22H33.5M33.5 172.62H32.81V173.07H32.83M33.5 174.12H32.97V174.42H33.5M33.5 173.82H32.86V174.27H32.97M33.5 173.52H32.36V174.05H32.86M32.81 172.85H31.76V173.78H32.36M31.97 171.87H31.45V173.32H31.76M33.5 175.02H32.62V175.32H33.5M33.5 174.72H32.21V175.17H32.62M33.5 176.82H33.31V177.12H33.5M33.5 176.52H33.12V176.97H33.31M33.5 176.22H32.63V176.74H33.12M33.5 175.92H32.35V176.48H32.63M33.5 178.02H32.92V178.32H33.5M33.5 177.72H32.68V178.17H32.92M33.5 177.42H32.18V177.94H32.68M32.35 176.2H31.94V177.68H32.18M33.5 175.62H31.45V176.94H31.94M32.21 174.95H30.78V176.28H31.45M31.45 172.59H30.48V175.61H30.78M33.5 171.12H29.39V174.1H30.48M29.65 169.91H29.05V172.61H29.39M33.5 169.33H27.17V171.26H29.05M33.5 179.22H32.98V179.52H33.5M33.5 178.92H31.43V179.37H32.98M33.5 179.82H31.75V180.12H33.5M33.5 180.72H32.71V181.02H33.5M33.5 181.62H33V181.91H33.5M33.5 181.32H32.44V181.77H33M32.71 180.87H31.87V181.54H32.44M33.5 180.42H31.12V181.2H31.87M33.5 182.51H32.98V182.81H33.5M33.5 182.21H32.36V182.66H32.98M33.5 183.11H32.81V183.41H33.5M33.5 183.71H32.76V184.01H33.5M32.81 183.26H32.35V183.86H32.76M32.36 182.44H31.86V183.56H32.35M33.5 184.91H33.4V185.21H33.5M33.5 184.61H33.03V185.06H33.4M33.5 184.31H32.88V184.84H33.03M33.5 185.51H33.05V185.81H33.5M33.5 186.11H32.88V186.41H33.5M33.05 185.66H32.35V186.26H32.88M32.88 184.58H32.27V185.96H32.35M33.5 187.01H33.04V187.31H33.5M33.5 186.71H32.19V187.16H33.04M32.27 185.27H31.36V186.94H32.19M31.86 183H30.9V186.1H31.36M31.12 180.81H30.49V184.55H30.9M31.75 179.97H29.86V182.68H30.49M31.43 179.14H29.24V181.32H29.86M33.5 178.62H27.64V180.23H29.24M33.5 187.91H32.51V188.21H33.5M33.5 188.81H32.7V189.11H33.5M33.5 188.51H31.86V188.96H32.7M32.51 188.06H29.58V188.73H31.86M33.5 190.01H32.42V190.31H33.5M33.5 189.71H32.27V190.16H32.42M33.5 190.61H31.8V190.91H33.5M32.27 189.93H31.35V190.76H31.8M33.5 189.41H30.69V190.34H31.35M33.5 191.51H32.89V191.81H33.5M33.5 192.71H32.94V193.01H33.5M33.5 192.41H32.74V192.86H32.94M33.5 192.11H32.62V192.63H32.74M32.89 191.66H32.24V192.37H32.62M33.5 191.21H31.45V192.01H32.24M33.5 193.3H32.27V193.6H33.5M33.5 193.9H32.75V194.2H33.5M33.5 194.8H33.3V195.1H33.5M33.5 194.5H32.7V194.95H33.3M32.75 194.05H31.82V194.73H32.7M32.27 193.45H31.42V194.39H31.82M31.45 191.61H30.57V193.92H31.42M33.5 196H32.48V196.3H33.5M33.5 195.7H31.2V196.15H32.48M33.5 195.4H30.38V195.93H31.2M30.57 192.77H29.73V195.67H30.38M30.69 189.88H28.97V194.22H29.73M29.58 188.4H28.22V192.05H28.97M33.5 187.61H27.21V190.22H28.22M33.5 196.9H32.63V197.2H33.5M33.5 197.8H33.36V198.1H33.5M33.5 197.5H33.13V197.95H33.36M33.5 199H33.04V199.3H33.5M33.5 198.7H32.68V199.15H33.04M33.5 198.4H32.1V198.92H32.68M33.13 197.73H31.81V198.66H32.1M32.63 197.05H31.15V198.19H31.81M33.5 199.6H32.34V199.9H33.5M33.5 200.2H32.81V200.5H33.5M33.5 201.1H33.14V201.4H33.5M33.5 202H33.21V202.3H33.5M33.5 201.7H32.74V202.15H33.21M33.14 201.25H32.58V201.92H32.74M33.5 200.8H32.19V201.59H32.58M32.81 200.35H31.85V201.19H32.19M33.5 202.6H32.96V202.9H33.5M33.5 203.2H32.95V203.5H33.5M32.96 202.75H32.54V203.35H32.95M33.5 204.1H32.42V204.4H33.5M33.5 203.8H31.87V204.25H32.42M32.54 203.05H31.53V204.02H31.87M33.5 204.99H32.79V205.29H33.5M33.5 204.69H32.32V205.14H32.79M33.5 205.89H32.99V206.19H33.5M33.5 205.59H32.72V206.04H32.99M33.5 207.39H33.44V207.69H33.5M33.5 207.09H33.32V207.54H33.44M33.5 206.79H32.85V207.32H33.32M33.5 206.49H32.6V207.06H32.85M32.72 205.82H32.24V206.77H32.6M32.32 204.92H31.44V206.3H32.24M31.53 203.53H31.07V205.61H31.44M31.85 200.77H30.83V204.57H31.07M32.34 199.75H30.18V202.67H30.83M31.15 197.62H29.86V201.21H30.18M33.5 196.6H28.46V199.42H29.86M33.5 208.59H32.89V208.89H33.5M33.5 209.19H32.04V209.49H33.5M33.5 210.09H33.05V210.39H33.5M33.5 209.79H32.39V210.24H33.05M33.5 211.29H33.44V211.59H33.5M33.5 210.99H33.29V211.44H33.44M33.5 210.69H33.18V211.21H33.29M33.5 211.89H33.45V212.19H33.5M33.5 212.49H33.05V212.79H33.5M33.45 212.04H32.99V212.64H33.05M33.18 210.95H32.88V212.34H32.99M33.5 213.99H33.22V214.29H33.5M33.5 213.69H33.14V214.14H33.22M33.5 213.39H32.91V213.91H33.14M33.5 213.09H32.69V213.65H32.91M32.88 211.65H32.38V213.37H32.69M33.5 214.59H33.2V214.89H33.5M33.5 215.49H33.05V215.79H33.5M33.5 215.19H32.72V215.64H33.05M33.2 214.74H32.34V215.41H32.72M32.38 212.51H32.05V215.07H32.34M32.39 210.02H31.71V213.79H32.05M33.5 216.68H32.92V216.98H33.5M33.5 216.38H32.18V216.83H32.92M33.5 216.08H31.56V216.61H32.18M31.71 211.9H31.32V216.35H31.56M32.04 209.34H30.92V214.12H31.32M32.89 208.74H30.82V211.73H30.92M33.5 208.29H29.95V210.24H30.82M33.5 207.99H29.03V209.26H29.95M33.5 218.18H32.58V218.48H33.5M33.5 217.88H32.49V218.33H32.58M33.5 217.58H31.67V218.11H32.49M33.5 218.78H33.37V219.08H33.5M33.5 219.38H32.95V219.68H33.5M33.37 218.93H32.7V219.53H32.95M33.5 219.98H32.35V220.28H33.5M32.7 219.23H31.73V220.13H32.35M33.5 221.18H33.12V221.48H33.5M33.5 220.88H32.64V221.33H33.12M33.5 220.58H32.21V221.11H32.64M33.5 221.78H32.74V222.08H33.5M33.5 222.68H33.18V222.98H33.5M33.5 222.38H32.42V222.83H33.18M32.74 221.93H32.19V222.6H32.42M32.21 220.84H31.63V222.27H32.19M33.5 223.58H32.36V223.88H33.5M33.5 223.28H31.24V223.73H32.36M31.63 221.56H30.89V223.5H31.24M31.73 219.68H30.73V222.53H30.89M31.67 217.85H29.43V221.11H30.73M33.5 217.28H27.95V219.48H29.43M33.5 224.78H33.2V225.08H33.5M33.5 225.68H32.89V225.98H33.5M33.5 225.38H32.28V225.83H32.89M33.2 224.93H32V225.6H32.28M33.5 224.48H30.49V225.26H32M33.5 224.18H30V224.87H30.49M33.5 226.28H30.86V226.58H33.5M33.5 227.18H32.8V227.47H33.5M33.5 226.88H31.24V227.33H32.8M33.5 227.77H32.2V228.07H33.5M33.5 228.67H32.33V228.97H33.5M33.5 228.37H31.48V228.82H32.33M32.2 227.92H30.96V228.6H31.48M33.5 229.57H33.16V229.87H33.5M33.5 230.17H33.33V230.47H33.5M33.5 231.07H33.22V231.37H33.5M33.5 230.77H33.12V231.22H33.22M33.33 230.32H32.7V231H33.12M33.5 231.67H33.07V231.97H33.5M33.5 232.57H33.26V232.87H33.5M33.5 232.27H32.94V232.72H33.26M33.07 231.82H32.69V232.5H32.94M32.7 230.66H32.1V232.16H32.69M33.16 229.72H31.56V231.41H32.1M33.5 229.27H30.69V230.57H31.56M30.96 228.26H30.1V229.92H30.69M31.24 227.1H29.81V229.09H30.1M30.86 226.43H29.24V228.1H29.81M30 224.52H28.61V227.26H29.24M33.5 233.17H31.86V233.47H33.5M33.5 233.77H32.99V234.07H33.5M33.5 234.67H32.74V234.97H33.5M33.5 235.27H32.5V235.57H33.5M32.74 234.82H32.15V235.42H32.5M33.5 234.37H31.84V235.12H32.15M32.99 233.92H30.54V234.74H31.84M33.5 236.17H32.95V236.47H33.5M33.5 235.87H32.38V236.32H32.95M33.5 236.77H32.83V237.07H33.5M33.5 237.97H33.38V238.27H33.5M33.5 237.67H32.82V238.12H33.38M33.5 237.37H32.61V237.89H32.82M32.83 236.92H32.37V237.63H32.61M32.38 236.09H31.81V237.27H32.37M33.5 238.57H32.75V238.86H33.5M33.5 239.46H33.32V239.76H33.5M33.5 239.16H32.74V239.61H33.32M32.75 238.72H32.18V239.39H32.74M33.5 240.36H32.21V240.66H33.5M33.5 240.96H32.94V241.26H33.5M33.5 241.56H32.84V241.86H33.5M32.94 241.11H32.19V241.71H32.84M32.21 240.51H31.71V241.41H32.19M33.5 240.06H31.44V240.96H31.71M32.18 239.05H31.01V240.51H31.44M31.81 236.68H30.32V239.78H31.01M30.54 234.33H29.49V238.23H30.32M31.86 233.32H28.5V236.28H29.49M33.5 243.06H32.78V243.36H33.5M33.5 243.66H32.43V243.96H33.5M32.78 243.21H32.06V243.81H32.43M33.5 242.76H31.74V243.51H32.06M33.5 242.46H30.74V243.14H31.74M33.5 242.16H29.94V242.8H30.74M33.5 244.26H32.7V244.56H33.5M33.5 244.86H32.51V245.16H33.5M33.5 245.46H32.88V245.76H33.5M33.5 246.06H32.41V246.36H33.5M32.88 245.61H32.16V246.21H32.41M32.51 245.01H31.55V245.91H32.16M33.5 246.96H33.47V247.26H33.5M33.5 246.66H31.99V247.11H33.47M33.5 247.56H33.05V247.86H33.5M33.5 248.46H32.71V248.76H33.5M33.5 248.16H32.53V248.61H32.71M33.05 247.71H31.98V248.38H32.53M31.99 246.88H31.51V248.04H31.98M31.55 245.46H29.93V247.46H31.51M32.7 244.41H29.55V246.46H29.93M29.94 242.48H29.22V245.44H29.55M33.5 249.06H33.02V249.36H33.5M33.5 249.66H32.58V249.96H33.5M33.02 249.21H30.13V249.81H32.58M33.5 250.55H33.01V250.85H33.5M33.5 251.45H33.43V251.75H33.5M33.5 251.15H32.9V251.6H33.43M33.01 250.7H32.21V251.38H32.9M33.5 252.05H31.54V252.35H33.5M32.21 251.04H31.41V252.2H31.54M33.5 252.65H32.98V252.95H33.5M33.5 253.55H33.03V253.85H33.5M33.5 253.25H32.3V253.7H33.03M32.98 252.8H31.83V253.48H32.3M33.5 254.15H32.58V254.45H33.5M33.5 255.35H32.69V255.65H33.5M33.5 255.05H32.39V255.5H32.69M33.5 254.75H31.99V255.28H32.39M32.58 254.3H31.49V255.01H31.99M31.83 253.14H31V254.66H31.49M31.41 251.62H30.97V253.9H31M33.5 250.25H29.29V252.76H30.97M30.13 249.51H29.18V251.51H29.29M29.22 243.96H27.53V250.51H29.18M28.5 234.8H27.34V247.23H27.53M28.61 225.89H26.84V241.02H27.34M27.95 218.38H26.79V233.45H26.84M29.03 208.63H26.32V225.92H26.79M28.46 198.01H25.96V217.27H26.32M27.21 188.92H25.73V207.64H25.96M27.64 179.43H25.26V198.28H25.73M27.17 170.29H24.91V188.85H25.26M25.65 160.12H24.71V179.57H24.91M26.64 156.07H24.5V169.85H24.71M26.29 144.42H23.93V162.96H24.5M25.2 139.79H24.03V153.69H23.93M24.66 134.69H23.9V146.74H24.03M25.38 128.9H23.54V140.72H23.9M25.77 126.91H23.29V134.81H23.54M25.1 124.03H23.26V130.86H23.29M25.06 120.31H22.87V127.44H23.26M24.43 109.79H22.21V123.88H22.87M22.88 102.33H21.95V116.83H22.21M22.6 86.11H20.55V109.58H21.95M21.36 79.27H20.12V97.85H20.55M21.86 74.79H19.96V88.56H20.12M21.52 58.33H18.41V81.67H19.96M20.04 46.91H17.41V70H18.41M21.46 32.72H12.59V58.45H17.41" fill="none" stroke="#1e1e1e" stroke-width="0.4"/>
<defs><linearGradient id="ga" x1="0" y1="1" x2="0" y2="0"><stop offset="0" stop-color="#f9f6ca"/><stop offset="0.1" stop-color="#fbeab8"/><stop offset="0.2" stop-color="#fbd6a0"/><stop offset="0.4" stop-color="#f3a076"/><stop offset="0.6" stop-color="#da5c46"/><stop offset="0.8" stop-color="#ac2424"/><stop offset="1" stop-color="#6e0c12"/></linearGradient></defs>
<rect x="300.2" y="28.4" width="3.8" height="58.9" fill="url(#ga)"/>
<text x="305.4" y="30.4" font-size="3.9" font-weight="bold" text-anchor="start" fill="#222">1</text>
<text x="305.4" y="42.1" font-size="3.9" font-weight="bold" text-anchor="start" fill="#222">0.8</text>
<text x="305.4" y="53.9" font-size="3.9" font-weight="bold" text-anchor="start" fill="#222">0.6</text>
<text x="305.4" y="65.7" font-size="3.9" font-weight="bold" text-anchor="start" fill="#222">0.4</text>
<text x="305.4" y="77.3" font-size="3.9" font-weight="bold" text-anchor="start" fill="#222">0.2</text>
<text x="1.5" y="10.4" font-size="13.5" font-weight="bold" text-anchor="start" fill="#000">a</text>
<text x="128.7" y="6.3" font-size="5.2" font-weight="bold" text-anchor="start" fill="#111" textLength="75.8" lengthAdjust="spacingAndGlyphs">TOMsimiliarity between Genes</text>
<rect x="35.2" y="289.8" width="9.54" height="8.1" fill="#8a1822"/>
<rect x="44.72" y="289.8" width="9.54" height="8.1" fill="#f9d6a8"/>
<rect x="54.24" y="289.8" width="9.54" height="8.1" fill="#f9d6a8"/>
<rect x="63.76" y="289.8" width="9.54" height="8.1" fill="#f5be92"/>
<rect x="73.28" y="289.8" width="9.54" height="8.1" fill="#f8cea1"/>
<rect x="82.8" y="289.8" width="9.54" height="8.1" fill="#f9d6a8"/>
<rect x="92.33" y="289.8" width="9.54" height="8.1" fill="#f9d6a8"/>
<rect x="101.85" y="289.8" width="9.54" height="8.1" fill="#f8cea1"/>
<rect x="111.37" y="289.8" width="9.54" height="8.1" fill="#f9d6a8"/>
<rect x="120.89" y="289.8" width="9.54" height="8.1" fill="#f9d6a8"/>
<rect x="130.41" y="289.8" width="9.54" height="8.1" fill="#f9d6a8"/>
<rect x="139.93" y="289.8" width="9.54" height="8.1" fill="#f9d6a8"/>
<rect x="149.45" y="289.8" width="9.54" height="8.1" fill="#f8cea1"/>
<rect x="158.97" y="289.8" width="9.54" height="8.1" fill="#f8cea1"/>
<rect x="168.49" y="289.8" width="9.54" height="8.1" fill="#f8cea1"/>
<rect x="178.01" y="289.8" width="9.54" height="8.1" fill="#f8cea1"/>
<rect x="187.53" y="289.8" width="9.54" height="8.1" fill="#fae1b4"/>
<rect x="197.05" y="289.8" width="9.54" height="8.1" fill="#f9d6a8"/>
<rect x="206.57" y="289.8" width="9.54" height="8.1" fill="#f9d6a8"/>
<rect x="216.1" y="289.8" width="9.54" height="8.1" fill="#f9d6a8"/>
<rect x="225.62" y="289.8" width="9.54" height="8.1" fill="#f9d6a8"/>
<rect x="235.14" y="289.8" width="9.54" height="8.1" fill="#f9d6a8"/>
<rect x="244.66" y="289.8" width="9.54" height="8.1" fill="#f9d6a8"/>
<rect x="254.18" y="289.8" width="9.54" height="8.1" fill="#f9d6a8"/>
<rect x="35.2" y="297.88" width="9.54" height="8.1" fill="#f9d6a8"/>
<rect x="44.72" y="297.88" width="9.54" height="8.1" fill="#8a1822"/>
<rect x="54.24" y="297.88" width="9.54" height="8.1" fill="#f9d6a8"/>
<rect x="63.76" y="297.88" width="9.54" height="8.1" fill="#f2b289"/>
<rect x="73.28" y="297.88" width="9.54" height="8.1" fill="#f8cea1"/>
<rect x="82.8" y="297.88" width="9.54" height="8.1" fill="#f9d6a8"/>
<rect x="92.33" y="297.88" width="9.54" height="8.1" fill="#f9d6a8"/>
<rect x="101.85" y="297.88" width="9.54" height="8.1" fill="#f6c195"/>
<rect x="111.37" y="297.88" width="9.54" height="8.1" fill="#f9d6a8"/>
<rect x="120.89" y="297.88" width="9.54" height="8.1" fill="#f9d6a8"/>
<rect x="130.41" y="297.88" width="9.54" height="8.1" fill="#f9d6a8"/>
<rect x="139.93" y="297.88" width="9.54" height="8.1" fill="#f9d6a8"/>
<rect x="149.45" y="297.88" width="9.54" height="8.1" fill="#f9d6a8"/>
<rect x="158.97" y="297.88" width="9.54" height="8.1" fill="#f6c699"/>
<rect x="168.49" y="297.88" width="9.54" height="8.1" fill="#f9d6a8"/>
<rect x="178.01" y="297.88" width="9.54" height="8.1" fill="#f9d6a8"/>
<rect x="187.53" y="297.88" width="9.54" height="8.1" fill="#fadeb0"/>
<rect x="197.05" y="297.88" width="9.54" height="8.1" fill="#f9d6a8"/>
<rect x="206.57" y="297.88" width="9.54" height="8.1" fill="#f6c498"/>
<rect x="216.1" y="297.88" width="9.54" height="8.1" fill="#f9d6a8"/>
<rect x="225.62" y="297.88" width="9.54" height="8.1" fill="#f9d6a8"/>
<rect x="235.14" y="297.88" width="9.54" height="8.1" fill="#f9d6a8"/>
<rect x="244.66" y="297.88" width="9.54" height="8.1" fill="#f9d6a8"/>
<rect x="254.18" y="297.88" width="9.54" height="8.1" fill="#f9d6a8"/>
<rect x="35.2" y="305.95" width="9.54" height="8.1" fill="#f9d6a8"/>
<rect x="44.72" y="305.95" width="9.54" height="8.1" fill="#f9d6a8"/>
<rect x="54.24" y="305.95" width="9.54" height="8.1" fill="#8a1822"/>
<rect x="63.76" y="305.95" width="9.54" height="8.1" fill="#f6c195"/>
<rect x="73.28" y="305.95" width="9.54" height="8.1" fill="#f8cea1"/>
<rect x="82.8" y="305.95" width="9.54" height="8.1" fill="#f9d6a8"/>
<rect x="92.33" y="305.95" width="9.54" height="8.1" fill="#f9d6a8"/>
<rect x="101.85" y="305.95" width="9.54" height="8.1" fill="#f9d6a8"/>
<rect x="111.37" y="305.95" width="9.54" height="8.1" fill="#f9d6a8"/>
<rect x="120.89" y="305.95" width="9.54" height="8.1" fill="#f9d6a8"/>
<rect x="130.41" y="305.95" width="9.54" height="8.1" fill="#f9d6a8"/>
<rect x="139.93" y="305.95" width="9.54" height="8.1" fill="#f9d6a8"/>
<rect x="149.45" y="305.95" width="9.54" height="8.1" fill="#f9d6a8"/>
<rect x="158.97" y="305.95" width="9.54" height="8.1" fill="#f9d6a8"/>
<rect x="168.49" y="305.95" width="9.54" height="8.1" fill="#f9d6a8"/>
<rect x="178.01" y="305.95" width="9.54" height="8.1" fill="#f9d6a8"/>
<rect x="187.53" y="305.95" width="9.54" height="8.1" fill="#fbe5b8"/>
<rect x="197.05" y="305.95" width="9.54" height="8.1" fill="#f9d6a8"/>
<rect x="206.57" y="305.95" width="9.54" height="8.1" fill="#f9d6a8"/>
<rect x="216.1" y="305.95" width="9.54" height="8.1" fill="#f9d6a8"/>
<rect x="225.62" y="305.95" width="9.54" height="8.1" fill="#f9d6a8"/>
<rect x="235.14" y="305.95" width="9.54" height="8.1" fill="#f9d6a8"/>
<rect x="244.66" y="305.95" width="9.54" height="8.1" fill="#f9d6a8"/>
<rect x="254.18" y="305.95" width="9.54" height="8.1" fill="#f9d6a8"/>
<rect x="35.2" y="314.03" width="9.54" height="8.1" fill="#f5be92"/>
<rect x="44.72" y="314.03" width="9.54" height="8.1" fill="#f2b289"/>
<rect x="54.24" y="314.03" width="9.54" height="8.1" fill="#f6c195"/>
<rect x="63.76" y="314.03" width="9.54" height="8.1" fill="#8a1822"/>
<rect x="73.28" y="314.03" width="9.54" height="8.1" fill="#e88c6e"/>
<rect x="82.8" y="314.03" width="9.54" height="8.1" fill="#f5be92"/>
<rect x="92.33" y="314.03" width="9.54" height="8.1" fill="#f5be92"/>
<rect x="101.85" y="314.03" width="9.54" height="8.1" fill="#f5be92"/>
<rect x="111.37" y="314.03" width="9.54" height="8.1" fill="#f6c699"/>
<rect x="120.89" y="314.03" width="9.54" height="8.1" fill="#f6c396"/>
<rect x="130.41" y="314.03" width="9.54" height="8.1" fill="#f3b68d"/>
<rect x="139.93" y="314.03" width="9.54" height="8.1" fill="#fbe6b9"/>
<rect x="149.45" y="314.03" width="9.54" height="8.1" fill="#fbe6b9"/>
<rect x="158.97" y="314.03" width="9.54" height="8.1" fill="#fae4b7"/>
<rect x="168.49" y="314.03" width="9.54" height="8.1" fill="#fae3b5"/>
<rect x="178.01" y="314.03" width="9.54" height="8.1" fill="#fae3b5"/>
<rect x="187.53" y="314.03" width="9.54" height="8.1" fill="#fdf3ce"/>
<rect x="197.05" y="314.03" width="9.54" height="8.1" fill="#f9daac"/>
<rect x="206.57" y="314.03" width="9.54" height="8.1" fill="#f9daac"/>
<rect x="216.1" y="314.03" width="9.54" height="8.1" fill="#f9daac"/>
<rect x="225.62" y="314.03" width="9.54" height="8.1" fill="#f9daac"/>
<rect x="235.14" y="314.03" width="9.54" height="8.1" fill="#f9daac"/>
<rect x="244.66" y="314.03" width="9.54" height="8.1" fill="#f9daac"/>
<rect x="254.18" y="314.03" width="9.54" height="8.1" fill="#f9daac"/>
<rect x="35.2" y="322.1" width="9.54" height="8.1" fill="#f8cea1"/>
<rect x="44.72" y="322.1" width="9.54" height="8.1" fill="#f8cea1"/>
<rect x="54.24" y="322.1" width="9.54" height="8.1" fill="#f8cea1"/>
<rect x="63.76" y="322.1" width="9.54" height="8.1" fill="#e88c6e"/>
<rect x="73.28" y="322.1" width="9.54" height="8.1" fill="#8a1822"/>
<rect x="82.8" y="322.1" width="9.54" height="8.1" fill="#f7cb9e"/>
<rect x="92.33" y="322.1" width="9.54" height="8.1" fill="#f7cb9e"/>
<rect x="101.85" y="322.1" width="9.54" height="8.1" fill="#f7cb9e"/>
<rect x="111.37" y="322.1" width="9.54" height="8.1" fill="#f7cb9e"/>
<rect x="120.89" y="322.1" width="9.54" height="8.1" fill="#f7cb9e"/>
<rect x="130.41" y="322.1" width="9.54" height="8.1" fill="#f7cb9e"/>
<rect x="139.93" y="322.1" width="9.54" height="8.1" fill="#f6c396"/>
<rect x="149.45" y="322.1" width="9.54" height="8.1" fill="#f6c396"/>
<rect x="158.97" y="322.1" width="9.54" height="8.1" fill="#f6c396"/>
<rect x="168.49" y="322.1" width="9.54" height="8.1" fill="#f3b68d"/>
<rect x="178.01" y="322.1" width="9.54" height="8.1" fill="#f6c396"/>
<rect x="187.53" y="322.1" width="9.54" height="8.1" fill="#fadeb0"/>
<rect x="197.05" y="322.1" width="9.54" height="8.1" fill="#f6c396"/>
<rect x="206.57" y="322.1" width="9.54" height="8.1" fill="#f6c396"/>
<rect x="216.1" y="322.1" width="9.54" height="8.1" fill="#f6c396"/>
<rect x="225.62" y="322.1" width="9.54" height="8.1" fill="#f6c396"/>
<rect x="235.14" y="322.1" width="9.54" height="8.1" fill="#f6c396"/>
<rect x="244.66" y="322.1" width="9.54" height="8.1" fill="#f6c396"/>
<rect x="254.18" y="322.1" width="9.54" height="8.1" fill="#f6c396"/>
<rect x="35.2" y="330.18" width="9.54" height="8.1" fill="#f9d6a8"/>
<rect x="44.72" y="330.18" width="9.54" height="8.1" fill="#f9d6a8"/>
<rect x="54.24" y="330.18" width="9.54" height="8.1" fill="#f9d6a8"/>
<rect x="63.76" y="330.18" width="9.54" height="8.1" fill="#f5be92"/>
<rect x="73.28" y="330.18" width="9.54" height="8.1" fill="#f7cb9e"/>
<rect x="82.8" y="330.18" width="9.54" height="8.1" fill="#8a1822"/>
<rect x="92.33" y="330.18" width="9.54" height="8.1" fill="#f6c699"/>
<rect x="101.85" y="330.18" width="9.54" height="8.1" fill="#f8cea1"/>
<rect x="111.37" y="330.18" width="9.54" height="8.1" fill="#f9d6a8"/>
<rect x="120.89" y="330.18" width="9.54" height="8.1" fill="#f9d6a8"/>
<rect x="130.41" y="330.18" width="9.54" height="8.1" fill="#f9d6a8"/>
<rect x="139.93" y="330.18" width="9.54" height="8.1" fill="#f9d6a8"/>
<rect x="149.45" y="330.18" width="9.54" height="8.1" fill="#f9d6a8"/>
<rect x="158.97" y="330.18" width="9.54" height="8.1" fill="#f9d6a8"/>
<rect x="168.49" y="330.18" width="9.54" height="8.1" fill="#f9d6a8"/>
<rect x="178.01" y="330.18" width="9.54" height="8.1" fill="#f9d6a8"/>
<rect x="187.53" y="330.18" width="9.54" height="8.1" fill="#fbe5b8"/>
<rect x="197.05" y="330.18" width="9.54" height="8.1" fill="#f9d6a8"/>
<rect x="206.57" y="330.18" width="9.54" height="8.1" fill="#f9d6a8"/>
<rect x="216.1" y="330.18" width="9.54" height="8.1" fill="#f9d6a8"/>
<rect x="225.62" y="330.18" width="9.54" height="8.1" fill="#f9d6a8"/>
<rect x="235.14" y="330.18" width="9.54" height="8.1" fill="#f9d6a8"/>
<rect x="244.66" y="330.18" width="9.54" height="8.1" fill="#f9d6a8"/>
<rect x="254.18" y="330.18" width="9.54" height="8.1" fill="#f9d6a8"/>
<rect x="35.2" y="338.25" width="9.54" height="8.1" fill="#f9d6a8"/>
<rect x="44.72" y="338.25" width="9.54" height="8.1" fill="#f9d6a8"/>
<rect x="54.24" y="338.25" width="9.54" height="8.1" fill="#f9d6a8"/>
<rect x="63.76" y="338.25" width="9.54" height="8.1" fill="#f5be92"/>
<rect x="73.28" y="338.25" width="9.54" height="8.1" fill="#f7cb9e"/>
<rect x="82.8" y="338.25" width="9.54" height="8.1" fill="#f6c699"/>
<rect x="92.33" y="338.25" width="9.54" height="8.1" fill="#8a1822"/>
<rect x="101.85" y="338.25" width="9.54" height="8.1" fill="#eb9877"/>
<rect x="111.37" y="338.25" width="9.54" height="8.1" fill="#f9d6a8"/>
<rect x="120.89" y="338.25" width="9.54" height="8.1" fill="#f9d6a8"/>
<rect x="130.41" y="338.25" width="9.54" height="8.1" fill="#f9d6a8"/>
<rect x="139.93" y="338.25" width="9.54" height="8.1" fill="#f9d6a8"/>
<rect x="149.45" y="338.25" width="9.54" height="8.1" fill="#f9d6a8"/>
<rect x="158.97" y="338.25" width="9.54" height="8.1" fill="#f9d6a8"/>
<rect x="168.49" y="338.25" width="9.54" height="8.1" fill="#f9d6a8"/>
<rect x="178.01" y="338.25" width="9.54" height="8.1" fill="#f9d6a8"/>
<rect x="187.53" y="338.25" width="9.54" height="8.1" fill="#fae1b4"/>
<rect x="197.05" y="338.25" width="9.54" height="8.1" fill="#f9d6a8"/>
<rect x="206.57" y="338.25" width="9.54" height="8.1" fill="#f9d6a8"/>
<rect x="216.1" y="338.25" width="9.54" height="8.1" fill="#f9d6a8"/>
<rect x="225.62" y="338.25" width="9.54" height="8.1" fill="#f9d6a8"/>
<rect x="235.14" y="338.25" width="9.54" height="8.1" fill="#f9d6a8"/>
<rect x="244.66" y="338.25" width="9.54" height="8.1" fill="#f9d6a8"/>
<rect x="254.18" y="338.25" width="9.54" height="8.1" fill="#f9d6a8"/>
<rect x="35.2" y="346.33" width="9.54" height="8.1" fill="#f8cea1"/>
<rect x="44.72" y="346.33" width="9.54" height="8.1" fill="#f6c195"/>
<rect x="54.24" y="346.33" width="9.54" height="8.1" fill="#f9d6a8"/>
<rect x="63.76" y="346.33" width="9.54" height="8.1" fill="#f5be92"/>
<rect x="73.28" y="346.33" width="9.54" height="8.1" fill="#f7cb9e"/>
<rect x="82.8" y="346.33" width="9.54" height="8.1" fill="#f8cea1"/>
<rect x="92.33" y="346.33" width="9.54" height="8.1" fill="#eb9877"/>
<rect x="101.85" y="346.33" width="9.54" height="8.1" fill="#8a1822"/>
<rect x="111.37" y="346.33" width="9.54" height="8.1" fill="#f9d6a8"/>
<rect x="120.89" y="346.33" width="9.54" height="8.1" fill="#f9d6a8"/>
<rect x="130.41" y="346.33" width="9.54" height="8.1" fill="#f9d6a8"/>
<rect x="139.93" y="346.33" width="9.54" height="8.1" fill="#f9d6a8"/>
<rect x="149.45" y="346.33" width="9.54" height="8.1" fill="#f9d6a8"/>
<rect x="158.97" y="346.33" width="9.54" height="8.1" fill="#f9d6a8"/>
<rect x="168.49" y="346.33" width="9.54" height="8.1" fill="#f9d6a8"/>
<rect x="178.01" y="346.33" width="9.54" height="8.1" fill="#f9d6a8"/>
<rect x="187.53" y="346.33" width="9.54" height="8.1" fill="#fadeb0"/>
<rect x="197.05" y="346.33" width="9.54" height="8.1" fill="#f9d6a8"/>
<rect x="206.57" y="346.33" width="9.54" height="8.1" fill="#f7cb9e"/>
<rect x="216.1" y="346.33" width="9.54" height="8.1" fill="#f9d6a8"/>
<rect x="225.62" y="346.33" width="9.54" height="8.1" fill="#f9d6a8"/>
<rect x="235.14" y="346.33" width="9.54" height="8.1" fill="#f9d6a8"/>
<rect x="244.66" y="346.33" width="9.54" height="8.1" fill="#f9d6a8"/>
<rect x="254.18" y="346.33" width="9.54" height="8.1" fill="#f9d6a8"/>
<rect x="35.2" y="354.4" width="9.54" height="8.1" fill="#f9d6a8"/>
<rect x="44.72" y="354.4" width="9.54" height="8.1" fill="#f9d6a8"/>
<rect x="54.24" y="354.4" width="9.54" height="8.1" fill="#f9d6a8"/>
<rect x="63.76" y="354.4" width="9.54" height="8.1" fill="#f6c699"/>
<rect x="73.28" y="354.4" width="9.54" height="8.1" fill="#f7cb9e"/>
<rect x="82.8" y="354.4" width="9.54" height="8.1" fill="#f9d6a8"/>
<rect x="92.33" y="354.4" width="9.54" height="8.1" fill="#f9d6a8"/>
<rect x="101.85" y="354.4" width="9.54" height="8.1" fill="#f9d6a8"/>
<rect x="111.37" y="354.4" width="9.54" height="8.1" fill="#8a1822"/>
<rect x="120.89" y="354.4" width="9.54" height="8.1" fill="#f9d6a8"/>
<rect x="130.41" y="354.4" width="9.54" height="8.1" fill="#f9d6a8"/>
<rect x="139.93" y="354.4" width="9.54" height="8.1" fill="#f9d6a8"/>
<rect x="149.45" y="354.4" width="9.54" height="8.1" fill="#f9d6a8"/>
<rect x="158.97" y="354.4" width="9.54" height="8.1" fill="#f9d6a8"/>
<rect x="168.49" y="354.4" width="9.54" height="8.1" fill="#f9d6a8"/>
<rect x="178.01" y="354.4" width="9.54" height="8.1" fill="#f9d6a8"/>
<rect x="187.53" y="354.4" width="9.54" height="8.1" fill="#fbe5b8"/>
<rect x="197.05" y="354.4" width="9.54" height="8.1" fill="#f9d6a8"/>
<rect x="206.57" y="354.4" width="9.54" height="8.1" fill="#f9d6a8"/>
<rect x="216.1" y="354.4" width="9.54" height="8.1" fill="#f9d6a8"/>
<rect x="225.62" y="354.4" width="9.54" height="8.1" fill="#f9d6a8"/>
<rect x="235.14" y="354.4" width="9.54" height="8.1" fill="#f9d6a8"/>
<rect x="244.66" y="354.4" width="9.54" height="8.1" fill="#f9d6a8"/>
<rect x="254.18" y="354.4" width="9.54" height="8.1" fill="#f9d6a8"/>
<rect x="35.2" y="362.48" width="9.54" height="8.1" fill="#f9d6a8"/>
<rect x="44.72" y="362.48" width="9.54" height="8.1" fill="#f9d6a8"/>
<rect x="54.24" y="362.48" width="9.54" height="8.1" fill="#f9d6a8"/>
<rect x="63.76" y="362.48" width="9.54" height="8.1" fill="#f6c396"/>
<rect x="73.28" y="362.48" width="9.54" height="8.1" fill="#f7cb9e"/>
<rect x="82.8" y="362.48" width="9.54" height="8.1" fill="#f9d6a8"/>
<rect x="92.33" y="362.48" width="9.54" height="8.1" fill="#f9d6a8"/>
<rect x="101.85" y="362.48" width="9.54" height="8.1" fill="#f9d6a8"/>
<rect x="111.37" y="362.48" width="9.54" height="8.1" fill="#f9d6a8"/>
<rect x="120.89" y="362.48" width="9.54" height="8.1" fill="#8a1822"/>
<rect x="130.41" y="362.48" width="9.54" height="8.1" fill="#f5be92"/>
<rect x="139.93" y="362.48" width="9.54" height="8.1" fill="#f9d6a8"/>
<rect x="149.45" y="362.48" width="9.54" height="8.1" fill="#f9d6a8"/>
<rect x="158.97" y="362.48" width="9.54" height="8.1" fill="#f9d6a8"/>
<rect x="168.49" y="362.48" width="9.54" height="8.1" fill="#f9d6a8"/>
<rect x="178.01" y="362.48" width="9.54" height="8.1" fill="#f9d6a8"/>
<rect x="187.53" y="362.48" width="9.54" height="8.1" fill="#fae1b4"/>
<rect x="197.05" y="362.48" width="9.54" height="8.1" fill="#f9d6a8"/>
<rect x="206.57" y="362.48" width="9.54" height="8.1" fill="#f9d6a8"/>
<rect x="216.1" y="362.48" width="9.54" height="8.1" fill="#f9d6a8"/>
<rect x="225.62" y="362.48" width="9.54" height="8.1" fill="#f9d6a8"/>
<rect x="235.14" y="362.48" width="9.54" height="8.1" fill="#f9d6a8"/>
<rect x="244.66" y="362.48" width="9.54" height="8.1" fill="#f9d6a8"/>
<rect x="254.18" y="362.48" width="9.54" height="8.1" fill="#f9d6a8"/>
<rect x="35.2" y="370.55" width="9.54" height="8.1" fill="#f9d6a8"/>
<rect x="44.72" y="370.55" width="9.54" height="8.1" fill="#f9d6a8"/>
<rect x="54.24" y="370.55" width="9.54" height="8.1" fill="#f9d6a8"/>
<rect x="63.76" y="370.55" width="9.54" height="8.1" fill="#f3b68d"/>
<rect x="73.28" y="370.55" width="9.54" height="8.1" fill="#f7cb9e"/>
<rect x="82.8" y="370.55" width="9.54" height="8.1" fill="#f9d6a8"/>
<rect x="92.33" y="370.55" width="9.54" height="8.1" fill="#f9d6a8"/>
<rect x="101.85" y="370.55" width="9.54" height="8.1" fill="#f9d6a8"/>
<rect x="111.37" y="370.55" width="9.54" height="8.1" fill="#f9d6a8"/>
<rect x="120.89" y="370.55" width="9.54" height="8.1" fill="#f5be92"/>
<rect x="130.41" y="370.55" width="9.54" height="8.1" fill="#8a1822"/>
<rect x="139.93" y="370.55" width="9.54" height="8.1" fill="#f9d6a8"/>
<rect x="149.45" y="370.55" width="9.54" height="8.1" fill="#f9d6a8"/>
<rect x="158.97" y="370.55" width="9.54" height="8.1" fill="#f9d6a8"/>
<rect x="168.49" y="370.55" width="9.54" height="8.1" fill="#f8cea1"/>
<rect x="178.01" y="370.55" width="9.54" height="8.1" fill="#f8cea1"/>
<rect x="187.53" y="370.55" width="9.54" height="8.1" fill="#fadeb0"/>
<rect x="197.05" y="370.55" width="9.54" height="8.1" fill="#f9d6a8"/>
<rect x="206.57" y="370.55" width="9.54" height="8.1" fill="#f9d6a8"/>
<rect x="216.1" y="370.55" width="9.54" height="8.1" fill="#f9d6a8"/>
<rect x="225.62" y="370.55" width="9.54" height="8.1" fill="#f9d6a8"/>
<rect x="235.14" y="370.55" width="9.54" height="8.1" fill="#f9d6a8"/>
<rect x="244.66" y="370.55" width="9.54" height="8.1" fill="#f9d6a8"/>
<rect x="254.18" y="370.55" width="9.54" height="8.1" fill="#f9d6a8"/>
<rect x="35.2" y="378.62" width="9.54" height="8.1" fill="#f9d6a8"/>
<rect x="44.72" y="378.62" width="9.54" height="8.1" fill="#f9d6a8"/>
<rect x="54.24" y="378.62" width="9.54" height="8.1" fill="#f9d6a8"/>
<rect x="63.76" y="378.62" width="9.54" height="8.1" fill="#fbe6b9"/>
<rect x="73.28" y="378.62" width="9.54" height="8.1" fill="#f6c396"/>
<rect x="82.8" y="378.62" width="9.54" height="8.1" fill="#f9d6a8"/>
<rect x="92.33" y="378.62" width="9.54" height="8.1" fill="#f9d6a8"/>
<rect x="101.85" y="378.62" width="9.54" height="8.1" fill="#f9d6a8"/>
<rect x="111.37" y="378.62" width="9.54" height="8.1" fill="#f9d6a8"/>
<rect x="120.89" y="378.62" width="9.54" height="8.1" fill="#f9d6a8"/>
<rect x="130.41" y="378.62" width="9.54" height="8.1" fill="#f9d6a8"/>
<rect x="139.93" y="378.62" width="9.54" height="8.1" fill="#8a1822"/>
<rect x="149.45" y="378.62" width="9.54" height="8.1" fill="#f6c195"/>
<rect x="158.97" y="378.62" width="9.54" height="8.1" fill="#f5be92"/>
<rect x="168.49" y="378.62" width="9.54" height="8.1" fill="#eb9877"/>
<rect x="178.01" y="378.62" width="9.54" height="8.1" fill="#f0aa84"/>
<rect x="187.53" y="378.62" width="9.54" height="8.1" fill="#fbe5b8"/>
<rect x="197.05" y="378.62" width="9.54" height="8.1" fill="#f9d6a8"/>
<rect x="206.57" y="378.62" width="9.54" height="8.1" fill="#f9d6a8"/>
<rect x="216.1" y="378.62" width="9.54" height="8.1" fill="#f9d6a8"/>
<rect x="225.62" y="378.62" width="9.54" height="8.1" fill="#f9d6a8"/>
<rect x="235.14" y="378.62" width="9.54" height="8.1" fill="#f9d6a8"/>
<rect x="244.66" y="378.62" width="9.54" height="8.1" fill="#f9d6a8"/>
<rect x="254.18" y="378.62" width="9.54" height="8.1" fill="#f9d6a8"/>
<rect x="35.2" y="386.7" width="9.54" height="8.1" fill="#f8cea1"/>
<rect x="44.72" y="386.7" width="9.54" height="8.1" fill="#f9d6a8"/>
<rect x="54.24" y="386.7" width="9.54" height="8.1" fill="#f9d6a8"/>
<rect x="63.76" y="386.7" width="9.54" height="8.1" fill="#fbe6b9"/>
<rect x="73.28" y="386.7" width="9.54" height="8.1" fill="#f6c396"/>
<rect x="82.8" y="386.7" width="9.54" height="8.1" fill="#f9d6a8"/>
<rect x="92.33" y="386.7" width="9.54" height="8.1" fill="#f9d6a8"/>
<rect x="101.85" y="386.7" width="9.54" height="8.1" fill="#f9d6a8"/>
<rect x="111.37" y="386.7" width="9.54" height="8.1" fill="#f9d6a8"/>
<rect x="120.89" y="386.7" width="9.54" height="8.1" fill="#f9d6a8"/>
<rect x="130.41" y="386.7" width="9.54" height="8.1" fill="#f9d6a8"/>
<rect x="139.93" y="386.7" width="9.54" height="8.1" fill="#f6c195"/>
<rect x="149.45" y="386.7" width="9.54" height="8.1" fill="#8a1822"/>
<rect x="158.97" y="386.7" width="9.54" height="8.1" fill="#f6c195"/>
<rect x="168.49" y="386.7" width="9.54" height="8.1" fill="#eea580"/>
<rect x="178.01" y="386.7" width="9.54" height="8.1" fill="#f5be92"/>
<rect x="187.53" y="386.7" width="9.54" height="8.1" fill="#fae1b4"/>
<rect x="197.05" y="386.7" width="9.54" height="8.1" fill="#f9d6a8"/>
<rect x="206.57" y="386.7" width="9.54" height="8.1" fill="#f9d6a8"/>
<rect x="216.1" y="386.7" width="9.54" height="8.1" fill="#f9d6a8"/>
<rect x="225.62" y="386.7" width="9.54" height="8.1" fill="#f9d6a8"/>
<rect x="235.14" y="386.7" width="9.54" height="8.1" fill="#f9d6a8"/>
<rect x="244.66" y="386.7" width="9.54" height="8.1" fill="#f9d6a8"/>
<rect x="254.18" y="386.7" width="9.54" height="8.1" fill="#f9d6a8"/>
<rect x="35.2" y="394.78" width="9.54" height="8.1" fill="#f8cea1"/>
<rect x="44.72" y="394.78" width="9.54" height="8.1" fill="#f6c699"/>
<rect x="54.24" y="394.78" width="9.54" height="8.1" fill="#f9d6a8"/>
<rect x="63.76" y="394.78" width="9.54" height="8.1" fill="#fae4b7"/>
<rect x="73.28" y="394.78" width="9.54" height="8.1" fill="#f6c396"/>
<rect x="82.8" y="394.78" width="9.54" height="8.1" fill="#f9d6a8"/>
<rect x="92.33" y="394.78" width="9.54" height="8.1" fill="#f9d6a8"/>
<rect x="101.85" y="394.78" width="9.54" height="8.1" fill="#f9d6a8"/>
<rect x="111.37" y="394.78" width="9.54" height="8.1" fill="#f9d6a8"/>
<rect x="120.89" y="394.78" width="9.54" height="8.1" fill="#f9d6a8"/>
<rect x="130.41" y="394.78" width="9.54" height="8.1" fill="#f9d6a8"/>
<rect x="139.93" y="394.78" width="9.54" height="8.1" fill="#f5be92"/>
<rect x="149.45" y="394.78" width="9.54" height="8.1" fill="#f6c195"/>
<rect x="158.97" y="394.78" width="9.54" height="8.1" fill="#8a1822"/>
<rect x="168.49" y="394.78" width="9.54" height="8.1" fill="#e88c6e"/>
<rect x="178.01" y="394.78" width="9.54" height="8.1" fill="#f2b289"/>
<rect x="187.53" y="394.78" width="9.54" height="8.1" fill="#fadeb0"/>
<rect x="197.05" y="394.78" width="9.54" height="8.1" fill="#f9d6a8"/>
<rect x="206.57" y="394.78" width="9.54" height="8.1" fill="#f9d6a8"/>
<rect x="216.1" y="394.78" width="9.54" height="8.1" fill="#f9d6a8"/>
<rect x="225.62" y="394.78" width="9.54" height="8.1" fill="#f9d6a8"/>
<rect x="235.14" y="394.78" width="9.54" height="8.1" fill="#f9d6a8"/>
<rect x="244.66" y="394.78" width="9.54" height="8.1" fill="#f9d6a8"/>
<rect x="254.18" y="394.78" width="9.54" height="8.1" fill="#f9d6a8"/>
<rect x="35.2" y="402.85" width="9.54" height="8.1" fill="#f8cea1"/>
<rect x="44.72" y="402.85" width="9.54" height="8.1" fill="#f9d6a8"/>
<rect x="54.24" y="402.85" width="9.54" height="8.1" fill="#f9d6a8"/>
<rect x="63.76" y="402.85" width="9.54" height="8.1" fill="#fae3b5"/>
<rect x="73.28" y="402.85" width="9.54" height="8.1" fill="#f3b68d"/>
<rect x="82.8" y="402.85" width="9.54" height="8.1" fill="#f9d6a8"/>
<rect x="92.33" y="402.85" width="9.54" height="8.1" fill="#f9d6a8"/>
<rect x="101.85" y="402.85" width="9.54" height="8.1" fill="#f9d6a8"/>
<rect x="111.37" y="402.85" width="9.54" height="8.1" fill="#f9d6a8"/>
<rect x="120.89" y="402.85" width="9.54" height="8.1" fill="#f9d6a8"/>
<rect x="130.41" y="402.85" width="9.54" height="8.1" fill="#f8cea1"/>
<rect x="139.93" y="402.85" width="9.54" height="8.1" fill="#eb9877"/>
<rect x="149.45" y="402.85" width="9.54" height="8.1" fill="#eea580"/>
<rect x="158.97" y="402.85" width="9.54" height="8.1" fill="#e88c6e"/>
<rect x="168.49" y="402.85" width="9.54" height="8.1" fill="#8a1822"/>
<rect x="178.01" y="402.85" width="9.54" height="8.1" fill="#df7c64"/>
<rect x="187.53" y="402.85" width="9.54" height="8.1" fill="#fbe5b8"/>
<rect x="197.05" y="402.85" width="9.54" height="8.1" fill="#f8d3a5"/>
<rect x="206.57" y="402.85" width="9.54" height="8.1" fill="#f8d3a5"/>
<rect x="216.1" y="402.85" width="9.54" height="8.1" fill="#f8d3a5"/>
<rect x="225.62" y="402.85" width="9.54" height="8.1" fill="#f6c498"/>
<rect x="235.14" y="402.85" width="9.54" height="8.1" fill="#f6c498"/>
<rect x="244.66" y="402.85" width="9.54" height="8.1" fill="#f6c498"/>
<rect x="254.18" y="402.85" width="9.54" height="8.1" fill="#f6c498"/>
<rect x="35.2" y="410.93" width="9.54" height="8.1" fill="#f8cea1"/>
<rect x="44.72" y="410.93" width="9.54" height="8.1" fill="#f9d6a8"/>
<rect x="54.24" y="410.93" width="9.54" height="8.1" fill="#f9d6a8"/>
<rect x="63.76" y="410.93" width="9.54" height="8.1" fill="#fae3b5"/>
<rect x="73.28" y="410.93" width="9.54" height="8.1" fill="#f6c396"/>
<rect x="82.8" y="410.93" width="9.54" height="8.1" fill="#f9d6a8"/>
<rect x="92.33" y="410.93" width="9.54" height="8.1" fill="#f9d6a8"/>
<rect x="101.85" y="410.93" width="9.54" height="8.1" fill="#f9d6a8"/>
<rect x="111.37" y="410.93" width="9.54" height="8.1" fill="#f9d6a8"/>
<rect x="120.89" y="410.93" width="9.54" height="8.1" fill="#f9d6a8"/>
<rect x="130.41" y="410.93" width="9.54" height="8.1" fill="#f8cea1"/>
<rect x="139.93" y="410.93" width="9.54" height="8.1" fill="#f0aa84"/>
<rect x="149.45" y="410.93" width="9.54" height="8.1" fill="#f5be92"/>
<rect x="158.97" y="410.93" width="9.54" height="8.1" fill="#f2b289"/>
<rect x="168.49" y="410.93" width="9.54" height="8.1" fill="#df7c64"/>
<rect x="178.01" y="410.93" width="9.54" height="8.1" fill="#8a1822"/>
<rect x="187.53" y="410.93" width="9.54" height="8.1" fill="#fae1b4"/>
<rect x="197.05" y="410.93" width="9.54" height="8.1" fill="#f9d6a8"/>
<rect x="206.57" y="410.93" width="9.54" height="8.1" fill="#f9d6a8"/>
<rect x="216.1" y="410.93" width="9.54" height="8.1" fill="#f9d6a8"/>
<rect x="225.62" y="410.93" width="9.54" height="8.1" fill="#f9d6a8"/>
<rect x="235.14" y="410.93" width="9.54" height="8.1" fill="#f9d6a8"/>
<rect x="244.66" y="410.93" width="9.54" height="8.1" fill="#f9d6a8"/>
<rect x="254.18" y="410.93" width="9.54" height="8.1" fill="#f9d6a8"/>
<rect x="35.2" y="419" width="9.54" height="8.1" fill="#fae1b4"/>
<rect x="44.72" y="419" width="9.54" height="8.1" fill="#fadeb0"/>
<rect x="54.24" y="419" width="9.54" height="8.1" fill="#fbe5b8"/>
<rect x="63.76" y="419" width="9.54" height="8.1" fill="#fdf3ce"/>
<rect x="73.28" y="419" width="9.54" height="8.1" fill="#fadeb0"/>
<rect x="82.8" y="419" width="9.54" height="8.1" fill="#fbe5b8"/>
<rect x="92.33" y="419" width="9.54" height="8.1" fill="#fae1b4"/>
<rect x="101.85" y="419" width="9.54" height="8.1" fill="#fadeb0"/>
<rect x="111.37" y="419" width="9.54" height="8.1" fill="#fbe5b8"/>
<rect x="120.89" y="419" width="9.54" height="8.1" fill="#fae1b4"/>
<rect x="130.41" y="419" width="9.54" height="8.1" fill="#fadeb0"/>
<rect x="139.93" y="419" width="9.54" height="8.1" fill="#fbe5b8"/>
<rect x="149.45" y="419" width="9.54" height="8.1" fill="#fae1b4"/>
<rect x="158.97" y="419" width="9.54" height="8.1" fill="#fadeb0"/>
<rect x="168.49" y="419" width="9.54" height="8.1" fill="#fbe5b8"/>
<rect x="178.01" y="419" width="9.54" height="8.1" fill="#fae1b4"/>
<rect x="187.53" y="419" width="9.54" height="8.1" fill="#8a1822"/>
<rect x="197.05" y="419" width="9.54" height="8.1" fill="#fbe5b8"/>
<rect x="206.57" y="419" width="9.54" height="8.1" fill="#fae1b4"/>
<rect x="216.1" y="419" width="9.54" height="8.1" fill="#fadeb0"/>
<rect x="225.62" y="419" width="9.54" height="8.1" fill="#fbe5b8"/>
<rect x="235.14" y="419" width="9.54" height="8.1" fill="#fae1b4"/>
<rect x="244.66" y="419" width="9.54" height="8.1" fill="#fadeb0"/>
<rect x="254.18" y="419" width="9.54" height="8.1" fill="#fbe5b8"/>
<rect x="35.2" y="427.08" width="9.54" height="8.1" fill="#f9d6a8"/>
<rect x="44.72" y="427.08" width="9.54" height="8.1" fill="#f9d6a8"/>
<rect x="54.24" y="427.08" width="9.54" height="8.1" fill="#f9d6a8"/>
<rect x="63.76" y="427.08" width="9.54" height="8.1" fill="#f9daac"/>
<rect x="73.28" y="427.08" width="9.54" height="8.1" fill="#f6c396"/>
<rect x="82.8" y="427.08" width="9.54" height="8.1" fill="#f9d6a8"/>
<rect x="92.33" y="427.08" width="9.54" height="8.1" fill="#f9d6a8"/>
<rect x="101.85" y="427.08" width="9.54" height="8.1" fill="#f9d6a8"/>
<rect x="111.37" y="427.08" width="9.54" height="8.1" fill="#f9d6a8"/>
<rect x="120.89" y="427.08" width="9.54" height="8.1" fill="#f9d6a8"/>
<rect x="130.41" y="427.08" width="9.54" height="8.1" fill="#f9d6a8"/>
<rect x="139.93" y="427.08" width="9.54" height="8.1" fill="#f9d6a8"/>
<rect x="149.45" y="427.08" width="9.54" height="8.1" fill="#f9d6a8"/>
<rect x="158.97" y="427.08" width="9.54" height="8.1" fill="#f9d6a8"/>
<rect x="168.49" y="427.08" width="9.54" height="8.1" fill="#f8d3a5"/>
<rect x="178.01" y="427.08" width="9.54" height="8.1" fill="#f9d6a8"/>
<rect x="187.53" y="427.08" width="9.54" height="8.1" fill="#fbe5b8"/>
<rect x="197.05" y="427.08" width="9.54" height="8.1" fill="#8a1822"/>
<rect x="206.57" y="427.08" width="9.54" height="8.1" fill="#eda07c"/>
<rect x="216.1" y="427.08" width="9.54" height="8.1" fill="#f9d6a8"/>
<rect x="225.62" y="427.08" width="9.54" height="8.1" fill="#f9d6a8"/>
<rect x="235.14" y="427.08" width="9.54" height="8.1" fill="#f9d6a8"/>
<rect x="244.66" y="427.08" width="9.54" height="8.1" fill="#f9d6a8"/>
<rect x="254.18" y="427.08" width="9.54" height="8.1" fill="#f9d6a8"/>
<rect x="35.2" y="435.15" width="9.54" height="8.1" fill="#f9d6a8"/>
<rect x="44.72" y="435.15" width="9.54" height="8.1" fill="#f6c498"/>
<rect x="54.24" y="435.15" width="9.54" height="8.1" fill="#f9d6a8"/>
<rect x="63.76" y="435.15" width="9.54" height="8.1" fill="#f9daac"/>
<rect x="73.28" y="435.15" width="9.54" height="8.1" fill="#f6c396"/>
<rect x="82.8" y="435.15" width="9.54" height="8.1" fill="#f9d6a8"/>
<rect x="92.33" y="435.15" width="9.54" height="8.1" fill="#f9d6a8"/>
<rect x="101.85" y="435.15" width="9.54" height="8.1" fill="#f7cb9e"/>
<rect x="111.37" y="435.15" width="9.54" height="8.1" fill="#f9d6a8"/>
<rect x="120.89" y="435.15" width="9.54" height="8.1" fill="#f9d6a8"/>
<rect x="130.41" y="435.15" width="9.54" height="8.1" fill="#f9d6a8"/>
<rect x="139.93" y="435.15" width="9.54" height="8.1" fill="#f9d6a8"/>
<rect x="149.45" y="435.15" width="9.54" height="8.1" fill="#f9d6a8"/>
<rect x="158.97" y="435.15" width="9.54" height="8.1" fill="#f9d6a8"/>
<rect x="168.49" y="435.15" width="9.54" height="8.1" fill="#f8d3a5"/>
<rect x="178.01" y="435.15" width="9.54" height="8.1" fill="#f9d6a8"/>
<rect x="187.53" y="435.15" width="9.54" height="8.1" fill="#fae1b4"/>
<rect x="197.05" y="435.15" width="9.54" height="8.1" fill="#eda07c"/>
<rect x="206.57" y="435.15" width="9.54" height="8.1" fill="#8a1822"/>
<rect x="216.1" y="435.15" width="9.54" height="8.1" fill="#f8cea1"/>
<rect x="225.62" y="435.15" width="9.54" height="8.1" fill="#f9d6a8"/>
<rect x="235.14" y="435.15" width="9.54" height="8.1" fill="#f9d6a8"/>
<rect x="244.66" y="435.15" width="9.54" height="8.1" fill="#f9d6a8"/>
<rect x="254.18" y="435.15" width="9.54" height="8.1" fill="#f9d6a8"/>
<rect x="35.2" y="443.23" width="9.54" height="8.1" fill="#f9d6a8"/>
<rect x="44.72" y="443.23" width="9.54" height="8.1" fill="#f9d6a8"/>
<rect x="54.24" y="443.23" width="9.54" height="8.1" fill="#f9d6a8"/>
<rect x="63.76" y="443.23" width="9.54" height="8.1" fill="#f9daac"/>
<rect x="73.28" y="443.23" width="9.54" height="8.1" fill="#f6c396"/>
<rect x="82.8" y="443.23" width="9.54" height="8.1" fill="#f9d6a8"/>
<rect x="92.33" y="443.23" width="9.54" height="8.1" fill="#f9d6a8"/>
<rect x="101.85" y="443.23" width="9.54" height="8.1" fill="#f9d6a8"/>
<rect x="111.37" y="443.23" width="9.54" height="8.1" fill="#f9d6a8"/>
<rect x="120.89" y="443.23" width="9.54" height="8.1" fill="#f9d6a8"/>
<rect x="130.41" y="443.23" width="9.54" height="8.1" fill="#f9d6a8"/>
<rect x="139.93" y="443.23" width="9.54" height="8.1" fill="#f9d6a8"/>
<rect x="149.45" y="443.23" width="9.54" height="8.1" fill="#f9d6a8"/>
<rect x="158.97" y="443.23" width="9.54" height="8.1" fill="#f9d6a8"/>
<rect x="168.49" y="443.23" width="9.54" height="8.1" fill="#f8d3a5"/>
<rect x="178.01" y="443.23" width="9.54" height="8.1" fill="#f9d6a8"/>
<rect x="187.53" y="443.23" width="9.54" height="8.1" fill="#fadeb0"/>
<rect x="197.05" y="443.23" width="9.54" height="8.1" fill="#f9d6a8"/>
<rect x="206.57" y="443.23" width="9.54" height="8.1" fill="#f8cea1"/>
<rect x="216.1" y="443.23" width="9.54" height="8.1" fill="#8a1822"/>
<rect x="225.62" y="443.23" width="9.54" height="8.1" fill="#f9d6a8"/>
<rect x="235.14" y="443.23" width="9.54" height="8.1" fill="#f9d6a8"/>
<rect x="244.66" y="443.23" width="9.54" height="8.1" fill="#f9d6a8"/>
<rect x="254.18" y="443.23" width="9.54" height="8.1" fill="#f9d6a8"/>
<rect x="35.2" y="451.3" width="9.54" height="8.1" fill="#f9d6a8"/>
<rect x="44.72" y="451.3" width="9.54" height="8.1" fill="#f9d6a8"/>
<rect x="54.24" y="451.3" width="9.54" height="8.1" fill="#f9d6a8"/>
<rect x="63.76" y="451.3" width="9.54" height="8.1" fill="#f9daac"/>
<rect x="73.28" y="451.3" width="9.54" height="8.1" fill="#f6c396"/>
<rect x="82.8" y="451.3" width="9.54" height="8.1" fill="#f9d6a8"/>
<rect x="92.33" y="451.3" width="9.54" height="8.1" fill="#f9d6a8"/>
<rect x="101.85" y="451.3" width="9.54" height="8.1" fill="#f9d6a8"/>
<rect x="111.37" y="451.3" width="9.54" height="8.1" fill="#f9d6a8"/>
<rect x="120.89" y="451.3" width="9.54" height="8.1" fill="#f9d6a8"/>
<rect x="130.41" y="451.3" width="9.54" height="8.1" fill="#f9d6a8"/>
<rect x="139.93" y="451.3" width="9.54" height="8.1" fill="#f9d6a8"/>
<rect x="149.45" y="451.3" width="9.54" height="8.1" fill="#f9d6a8"/>
<rect x="158.97" y="451.3" width="9.54" height="8.1" fill="#f9d6a8"/>
<rect x="168.49" y="451.3" width="9.54" height="8.1" fill="#f6c498"/>
<rect x="178.01" y="451.3" width="9.54" height="8.1" fill="#f9d6a8"/>
<rect x="187.53" y="451.3" width="9.54" height="8.1" fill="#fbe5b8"/>
<rect x="197.05" y="451.3" width="9.54" height="8.1" fill="#f9d6a8"/>
<rect x="206.57" y="451.3" width="9.54" height="8.1" fill="#f9d6a8"/>
<rect x="216.1" y="451.3" width="9.54" height="8.1" fill="#f9d6a8"/>
<rect x="225.62" y="451.3" width="9.54" height="8.1" fill="#8a1822"/>
<rect x="235.14" y="451.3" width="9.54" height="8.1" fill="#f8cea1"/>
<rect x="244.66" y="451.3" width="9.54" height="8.1" fill="#f9d6a8"/>
<rect x="254.18" y="451.3" width="9.54" height="8.1" fill="#f9d6a8"/>
<rect x="35.2" y="459.38" width="9.54" height="8.1" fill="#f9d6a8"/>
<rect x="44.72" y="459.38" width="9.54" height="8.1" fill="#f9d6a8"/>
<rect x="54.24" y="459.38" width="9.54" height="8.1" fill="#f9d6a8"/>
<rect x="63.76" y="459.38" width="9.54" height="8.1" fill="#f9daac"/>
<rect x="73.28" y="459.38" width="9.54" height="8.1" fill="#f6c396"/>
<rect x="82.8" y="459.38" width="9.54" height="8.1" fill="#f9d6a8"/>
<rect x="92.33" y="459.38" width="9.54" height="8.1" fill="#f9d6a8"/>
<rect x="101.85" y="459.38" width="9.54" height="8.1" fill="#f9d6a8"/>
<rect x="111.37" y="459.38" width="9.54" height="8.1" fill="#f9d6a8"/>
<rect x="120.89" y="459.38" width="9.54" height="8.1" fill="#f9d6a8"/>
<rect x="130.41" y="459.38" width="9.54" height="8.1" fill="#f9d6a8"/>
<rect x="139.93" y="459.38" width="9.54" height="8.1" fill="#f9d6a8"/>
<rect x="149.45" y="459.38" width="9.54" height="8.1" fill="#f9d6a8"/>
<rect x="158.97" y="459.38" width="9.54" height="8.1" fill="#f9d6a8"/>
<rect x="168.49" y="459.38" width="9.54" height="8.1" fill="#f6c498"/>
<rect x="178.01" y="459.38" width="9.54" height="8.1" fill="#f9d6a8"/>
<rect x="187.53" y="459.38" width="9.54" height="8.1" fill="#fae1b4"/>
<rect x="197.05" y="459.38" width="9.54" height="8.1" fill="#f9d6a8"/>
<rect x="206.57" y="459.38" width="9.54" height="8.1" fill="#f9d6a8"/>
<rect x="216.1" y="459.38" width="9.54" height="8.1" fill="#f9d6a8"/>
<rect x="225.62" y="459.38" width="9.54" height="8.1" fill="#f8cea1"/>
<rect x="235.14" y="459.38" width="9.54" height="8.1" fill="#8a1822"/>
<rect x="244.66" y="459.38" width="9.54" height="8.1" fill="#f8cea1"/>
<rect x="254.18" y="459.38" width="9.54" height="8.1" fill="#f9d6a8"/>
<rect x="35.2" y="467.45" width="9.54" height="8.1" fill="#f9d6a8"/>
<rect x="44.72" y="467.45" width="9.54" height="8.1" fill="#f9d6a8"/>
<rect x="54.24" y="467.45" width="9.54" height="8.1" fill="#f9d6a8"/>
<rect x="63.76" y="467.45" width="9.54" height="8.1" fill="#f9daac"/>
<rect x="73.28" y="467.45" width="9.54" height="8.1" fill="#f6c396"/>
<rect x="82.8" y="467.45" width="9.54" height="8.1" fill="#f9d6a8"/>
<rect x="92.33" y="467.45" width="9.54" height="8.1" fill="#f9d6a8"/>
<rect x="101.85" y="467.45" width="9.54" height="8.1" fill="#f9d6a8"/>
<rect x="111.37" y="467.45" width="9.54" height="8.1" fill="#f9d6a8"/>
<rect x="120.89" y="467.45" width="9.54" height="8.1" fill="#f9d6a8"/>
<rect x="130.41" y="467.45" width="9.54" height="8.1" fill="#f9d6a8"/>
<rect x="139.93" y="467.45" width="9.54" height="8.1" fill="#f9d6a8"/>
<rect x="149.45" y="467.45" width="9.54" height="8.1" fill="#f9d6a8"/>
<rect x="158.97" y="467.45" width="9.54" height="8.1" fill="#f9d6a8"/>
<rect x="168.49" y="467.45" width="9.54" height="8.1" fill="#f6c498"/>
<rect x="178.01" y="467.45" width="9.54" height="8.1" fill="#f9d6a8"/>
<rect x="187.53" y="467.45" width="9.54" height="8.1" fill="#fadeb0"/>
<rect x="197.05" y="467.45" width="9.54" height="8.1" fill="#f9d6a8"/>
<rect x="206.57" y="467.45" width="9.54" height="8.1" fill="#f9d6a8"/>
<rect x="216.1" y="467.45" width="9.54" height="8.1" fill="#f9d6a8"/>
<rect x="225.62" y="467.45" width="9.54" height="8.1" fill="#f9d6a8"/>
<rect x="235.14" y="467.45" width="9.54" height="8.1" fill="#f8cea1"/>
<rect x="244.66" y="467.45" width="9.54" height="8.1" fill="#8a1822"/>
<rect x="254.18" y="467.45" width="9.54" height="8.1" fill="#f9d6a8"/>
<rect x="35.2" y="475.53" width="9.54" height="8.1" fill="#f9d6a8"/>
<rect x="44.72" y="475.53" width="9.54" height="8.1" fill="#f9d6a8"/>
<rect x="54.24" y="475.53" width="9.54" height="8.1" fill="#f9d6a8"/>
<rect x="63.76" y="475.53" width="9.54" height="8.1" fill="#f9daac"/>
<rect x="73.28" y="475.53" width="9.54" height="8.1" fill="#f6c396"/>
<rect x="82.8" y="475.53" width="9.54" height="8.1" fill="#f9d6a8"/>
<rect x="92.33" y="475.53" width="9.54" height="8.1" fill="#f9d6a8"/>
<rect x="101.85" y="475.53" width="9.54" height="8.1" fill="#f9d6a8"/>
<rect x="111.37" y="475.53" width="9.54" height="8.1" fill="#f9d6a8"/>
<rect x="120.89" y="475.53" width="9.54" height="8.1" fill="#f9d6a8"/>
<rect x="130.41" y="475.53" width="9.54" height="8.1" fill="#f9d6a8"/>
<rect x="139.93" y="475.53" width="9.54" height="8.1" fill="#f9d6a8"/>
<rect x="149.45" y="475.53" width="9.54" height="8.1" fill="#f9d6a8"/>
<rect x="158.97" y="475.53" width="9.54" height="8.1" fill="#f9d6a8"/>
<rect x="168.49" y="475.53" width="9.54" height="8.1" fill="#f6c498"/>
<rect x="178.01" y="475.53" width="9.54" height="8.1" fill="#f9d6a8"/>
<rect x="187.53" y="475.53" width="9.54" height="8.1" fill="#fbe5b8"/>
<rect x="197.05" y="475.53" width="9.54" height="8.1" fill="#f9d6a8"/>
<rect x="206.57" y="475.53" width="9.54" height="8.1" fill="#f9d6a8"/>
<rect x="216.1" y="475.53" width="9.54" height="8.1" fill="#f9d6a8"/>
<rect x="225.62" y="475.53" width="9.54" height="8.1" fill="#f9d6a8"/>
<rect x="235.14" y="475.53" width="9.54" height="8.1" fill="#f9d6a8"/>
<rect x="244.66" y="475.53" width="9.54" height="8.1" fill="#f9d6a8"/>
<rect x="254.18" y="475.53" width="9.54" height="8.1" fill="#8a1822"/>
<path d="M35.2 289.8V483.6M35.2 289.8H263.7M44.72 289.8V483.6M35.2 297.88H263.7M54.24 289.8V483.6M35.2 305.95H263.7M63.76 289.8V483.6M35.2 314.03H263.7M73.28 289.8V483.6M35.2 322.1H263.7M82.8 289.8V483.6M35.2 330.18H263.7M92.33 289.8V483.6M35.2 338.25H263.7M101.85 289.8V483.6M35.2 346.33H263.7M111.37 289.8V483.6M35.2 354.4H263.7M120.89 289.8V483.6M35.2 362.48H263.7M130.41 289.8V483.6M35.2 370.55H263.7M139.93 289.8V483.6M35.2 378.62H263.7M149.45 289.8V483.6M35.2 386.7H263.7M158.97 289.8V483.6M35.2 394.78H263.7M168.49 289.8V483.6M35.2 402.85H263.7M178.01 289.8V483.6M35.2 410.93H263.7M187.53 289.8V483.6M35.2 419H263.7M197.05 289.8V483.6M35.2 427.08H263.7M206.57 289.8V483.6M35.2 435.15H263.7M216.1 289.8V483.6M35.2 443.23H263.7M225.62 289.8V483.6M35.2 451.3H263.7M235.14 289.8V483.6M35.2 459.38H263.7M244.66 289.8V483.6M35.2 467.45H263.7M254.18 289.8V483.6M35.2 475.53H263.7M263.7 289.8V483.6M35.2 483.6H263.7" stroke="#a88a68" stroke-opacity="0.75" stroke-width="0.5" fill="none"/>
<rect x="35.45" y="290.05" width="9.02" height="7.58" fill="none" stroke="#5e0d14" stroke-width="0.5"/>
<rect x="44.97" y="298.12" width="9.02" height="7.58" fill="none" stroke="#5e0d14" stroke-width="0.5"/>
<rect x="54.49" y="306.2" width="9.02" height="7.58" fill="none" stroke="#5e0d14" stroke-width="0.5"/>
<rect x="64.01" y="314.28" width="9.02" height="7.58" fill="none" stroke="#5e0d14" stroke-width="0.5"/>
<rect x="73.53" y="322.35" width="9.02" height="7.58" fill="none" stroke="#5e0d14" stroke-width="0.5"/>
<rect x="83.05" y="330.43" width="9.02" height="7.58" fill="none" stroke="#5e0d14" stroke-width="0.5"/>
<rect x="92.58" y="338.5" width="9.02" height="7.58" fill="none" stroke="#5e0d14" stroke-width="0.5"/>
<rect x="102.1" y="346.58" width="9.02" height="7.58" fill="none" stroke="#5e0d14" stroke-width="0.5"/>
<rect x="111.62" y="354.65" width="9.02" height="7.58" fill="none" stroke="#5e0d14" stroke-width="0.5"/>
<rect x="121.14" y="362.73" width="9.02" height="7.58" fill="none" stroke="#5e0d14" stroke-width="0.5"/>
<rect x="130.66" y="370.8" width="9.02" height="7.58" fill="none" stroke="#5e0d14" stroke-width="0.5"/>
<rect x="140.18" y="378.88" width="9.02" height="7.58" fill="none" stroke="#5e0d14" stroke-width="0.5"/>
<rect x="149.7" y="386.95" width="9.02" height="7.58" fill="none" stroke="#5e0d14" stroke-width="0.5"/>
<rect x="159.22" y="395.03" width="9.02" height="7.58" fill="none" stroke="#5e0d14" stroke-width="0.5"/>
<rect x="168.74" y="403.1" width="9.02" height="7.58" fill="none" stroke="#5e0d14" stroke-width="0.5"/>
<rect x="178.26" y="411.18" width="9.02" height="7.58" fill="none" stroke="#5e0d14" stroke-width="0.5"/>
<rect x="187.78" y="419.25" width="9.02" height="7.58" fill="none" stroke="#5e0d14" stroke-width="0.5"/>
<rect x="197.3" y="427.33" width="9.02" height="7.58" fill="none" stroke="#5e0d14" stroke-width="0.5"/>
<rect x="206.82" y="435.4" width="9.02" height="7.58" fill="none" stroke="#5e0d14" stroke-width="0.5"/>
<rect x="216.35" y="443.48" width="9.02" height="7.58" fill="none" stroke="#5e0d14" stroke-width="0.5"/>
<rect x="225.87" y="451.55" width="9.02" height="7.58" fill="none" stroke="#5e0d14" stroke-width="0.5"/>
<rect x="235.39" y="459.62" width="9.02" height="7.58" fill="none" stroke="#5e0d14" stroke-width="0.5"/>
<rect x="244.91" y="467.7" width="9.02" height="7.58" fill="none" stroke="#5e0d14" stroke-width="0.5"/>
<rect x="254.43" y="475.78" width="9.02" height="7.58" fill="none" stroke="#5e0d14" stroke-width="0.5"/>
<text transform="translate(265,295.54) scale(0.75,1)" font-size="5" fill="#111" stroke="#111" stroke-width="0.1">MEviolet</text>
<text transform="translate(38.26,485) rotate(90) scale(0.75,1)" font-size="5" fill="#111" stroke="#111" stroke-width="0.1">MEviolet</text>
<text transform="translate(265,303.61) scale(0.75,1)" font-size="5" fill="#111" stroke="#111" stroke-width="0.1">MEgrey</text>
<text transform="translate(47.78,485) rotate(90) scale(0.75,1)" font-size="5" fill="#111" stroke="#111" stroke-width="0.1">MEgrey</text>
<text transform="translate(265,311.69) scale(0.75,1)" font-size="5" fill="#111" stroke="#111" stroke-width="0.1">MEsaddlebrown</text>
<text transform="translate(57.3,485) rotate(90) scale(0.75,1)" font-size="5" fill="#111" stroke="#111" stroke-width="0.1">MEsaddlebrown</text>
<text transform="translate(265,319.76) scale(0.75,1)" font-size="5" fill="#111" stroke="#111" stroke-width="0.1">MEblue</text>
<text transform="translate(66.82,485) rotate(90) scale(0.75,1)" font-size="5" fill="#111" stroke="#111" stroke-width="0.1">MEblue</text>
<text transform="translate(265,327.84) scale(0.75,1)" font-size="5" fill="#111" stroke="#111" stroke-width="0.1">MEdarkturquoise</text>
<text transform="translate(76.34,485) rotate(90) scale(0.75,1)" font-size="5" fill="#111" stroke="#111" stroke-width="0.1">MEdarkturquoise</text>
<text transform="translate(265,335.91) scale(0.75,1)" font-size="5" fill="#111" stroke="#111" stroke-width="0.1">MEmagenta</text>
<text transform="translate(85.86,485) rotate(90) scale(0.75,1)" font-size="5" fill="#111" stroke="#111" stroke-width="0.1">MEmagenta</text>
<text transform="translate(265,343.99) scale(0.75,1)" font-size="5" fill="#111" stroke="#111" stroke-width="0.1">MEcyan</text>
<text transform="translate(95.39,485) rotate(90) scale(0.75,1)" font-size="5" fill="#111" stroke="#111" stroke-width="0.1">MEcyan</text>
<text transform="translate(265,352.06) scale(0.75,1)" font-size="5" fill="#111" stroke="#111" stroke-width="0.1">MEdarkorange</text>
<text transform="translate(104.91,485) rotate(90) scale(0.75,1)" font-size="5" fill="#111" stroke="#111" stroke-width="0.1">MEdarkorange</text>
<text transform="translate(265,360.14) scale(0.75,1)" font-size="5" fill="#111" stroke="#111" stroke-width="0.1">MEskyblue</text>
<text transform="translate(114.43,485) rotate(90) scale(0.75,1)" font-size="5" fill="#111" stroke="#111" stroke-width="0.1">MEskyblue</text>
<text transform="translate(265,368.21) scale(0.75,1)" font-size="5" fill="#111" stroke="#111" stroke-width="0.1">MEroyalblue</text>
<text transform="translate(123.95,485) rotate(90) scale(0.75,1)" font-size="5" fill="#111" stroke="#111" stroke-width="0.1">MEroyalblue</text>
<text transform="translate(265,376.29) scale(0.75,1)" font-size="5" fill="#111" stroke="#111" stroke-width="0.1">MEsteelblue</text>
<text transform="translate(133.47,485) rotate(90) scale(0.75,1)" font-size="5" fill="#111" stroke="#111" stroke-width="0.1">MEsteelblue</text>
<text transform="translate(265,384.36) scale(0.75,1)" font-size="5" fill="#111" stroke="#111" stroke-width="0.1">MEskyblue3</text>
<text transform="translate(142.99,485) rotate(90) scale(0.75,1)" font-size="5" fill="#111" stroke="#111" stroke-width="0.1">MEskyblue3</text>
<text transform="translate(265,392.44) scale(0.75,1)" font-size="5" fill="#111" stroke="#111" stroke-width="0.1">MEorange</text>
<text transform="translate(152.51,485) rotate(90) scale(0.75,1)" font-size="5" fill="#111" stroke="#111" stroke-width="0.1">MEorange</text>
<text transform="translate(265,400.51) scale(0.75,1)" font-size="5" fill="#111" stroke="#111" stroke-width="0.1">MEdarkolivegreen</text>
<text transform="translate(162.03,485) rotate(90) scale(0.75,1)" font-size="5" fill="#111" stroke="#111" stroke-width="0.1">MEdarkolivegreen</text>
<text transform="translate(265,408.59) scale(0.75,1)" font-size="5" fill="#111" stroke="#111" stroke-width="0.1">MEdarkgreen</text>
<text transform="translate(171.55,485) rotate(90) scale(0.75,1)" font-size="5" fill="#111" stroke="#111" stroke-width="0.1">MEdarkgreen</text>
<text transform="translate(265,416.66) scale(0.75,1)" font-size="5" fill="#111" stroke="#111" stroke-width="0.1">MElightyellow</text>
<text transform="translate(181.07,485) rotate(90) scale(0.75,1)" font-size="5" fill="#111" stroke="#111" stroke-width="0.1">MElightyellow</text>
<text transform="translate(265,424.74) scale(0.75,1)" font-size="5" fill="#111" stroke="#111" stroke-width="0.1">MEyellowgreen</text>
<text transform="translate(190.59,485) rotate(90) scale(0.75,1)" font-size="5" fill="#111" stroke="#111" stroke-width="0.1">MEyellowgreen</text>
<text transform="translate(265,432.81) scale(0.75,1)" font-size="5" fill="#111" stroke="#111" stroke-width="0.1">MEdarkmagenta</text>
<text transform="translate(200.11,485) rotate(90) scale(0.75,1)" font-size="5" fill="#111" stroke="#111" stroke-width="0.1">MEdarkmagenta</text>
<text transform="translate(265,440.89) scale(0.75,1)" font-size="5" fill="#111" stroke="#111" stroke-width="0.1">MEsienna3</text>
<text transform="translate(209.64,485) rotate(90) scale(0.75,1)" font-size="5" fill="#111" stroke="#111" stroke-width="0.1">MEsienna3</text>
<text transform="translate(265,448.96) scale(0.75,1)" font-size="5" fill="#111" stroke="#111" stroke-width="0.1">MEgrey60</text>
<text transform="translate(219.16,485) rotate(90) scale(0.75,1)" font-size="5" fill="#111" stroke="#111" stroke-width="0.1">MEgrey60</text>
<text transform="translate(265,457.04) scale(0.75,1)" font-size="5" fill="#111" stroke="#111" stroke-width="0.1">MEdarkred</text>
<text transform="translate(228.68,485) rotate(90) scale(0.75,1)" font-size="5" fill="#111" stroke="#111" stroke-width="0.1">MEdarkred</text>
<text transform="translate(265,465.11) scale(0.75,1)" font-size="5" fill="#111" stroke="#111" stroke-width="0.1">MEmidnightblue</text>
<text transform="translate(238.2,485) rotate(90) scale(0.75,1)" font-size="5" fill="#111" stroke="#111" stroke-width="0.1">MEmidnightblue</text>
<text transform="translate(265,473.19) scale(0.75,1)" font-size="5" fill="#111" stroke="#111" stroke-width="0.1">MEbrown</text>
<text transform="translate(247.72,485) rotate(90) scale(0.75,1)" font-size="5" fill="#111" stroke="#111" stroke-width="0.1">MEbrown</text>
<text transform="translate(265,481.26) scale(0.75,1)" font-size="5" fill="#111" stroke="#111" stroke-width="0.1">MEwhite</text>
<text transform="translate(257.24,485) rotate(90) scale(0.75,1)" font-size="5" fill="#111" stroke="#111" stroke-width="0.1">MEwhite</text>
<path d="M39.96 289.8V277.3H49.48V289.8M68.52 289.8V279.6H78.04V289.8M59 289.8V279.8H73.28V279.6M44.72 277.3V276.3H66.14V279.8M97.09 289.8V282.3H106.61V289.8M87.56 289.8V278.3H101.85V282.3M125.65 289.8V278.8H135.17V289.8M116.13 289.8V277.8H130.41V278.8M94.71 278.3V275.8H123.27V277.8M55.43 276.3V274.3H108.99V275.8M144.69 289.8V278H154.21V289.8M163.73 289.8V282.3H173.25V289.8M168.49 282.3V277.8H182.77V289.8M149.45 278V277.8H175.63V277.8M162.54 277.8V272.3H192.29V289.8M201.81 289.8V280.3H211.34V289.8M249.42 289.8V279.8H258.94V289.8M239.9 289.8V278.3H254.18V279.8M230.38 289.8V277.3H247.04V278.3M220.86 289.8V276.3H238.71V277.3M206.57 280.3V273.3H229.78V276.3M177.42 272.3V271.3H218.18V273.3M82.21 274.3V269.3H197.8V271.3" fill="none" stroke="#888" stroke-width="0.55"/>
<path d="M35.2 293.84H22.7V301.91H35.2M35.2 318.06H25V326.14H35.2M35.2 309.99H25.2V322.1H25M22.7 297.88H21.7V316.04H25.2M35.2 342.29H27.7V350.36H35.2M35.2 334.21H23.7V346.33H27.7M35.2 366.51H24.2V374.59H35.2M35.2 358.44H23.2V370.55H24.2M23.7 340.27H21.2V364.49H23.2M21.7 306.96H19.7V352.38H21.2M35.2 382.66H23.4V390.74H35.2M35.2 398.81H27.7V406.89H35.2M27.7 402.85H23.2V414.96H35.2M23.4 386.7H23.2V408.91H23.2M23.2 397.8H17.7V423.04H35.2M35.2 431.11H25.7V439.19H35.2M35.2 471.49H25.2V479.56H35.2M35.2 463.41H23.7V475.53H25.2M35.2 455.34H22.7V469.47H23.7M35.2 447.26H21.7V462.4H22.7M25.7 435.15H18.7V454.83H21.7M17.7 410.42H16.7V444.99H18.7M19.7 329.67H14.7V427.71H16.7" fill="none" stroke="#888" stroke-width="0.55"/>
<defs><linearGradient id="gb" x1="0" y1="1" x2="0" y2="0"><stop offset="0" stop-color="#fef9da"/><stop offset="0.17" stop-color="#fbe9bc"/><stop offset="0.29" stop-color="#f9d6a8"/><stop offset="0.42" stop-color="#f5be92"/><stop offset="0.58" stop-color="#e88c6e"/><stop offset="0.79" stop-color="#b93e3a"/><stop offset="1" stop-color="#8a1822"/></linearGradient></defs>
<rect x="298.6" y="289" width="4" height="59" fill="url(#gb)"/>
<text x="304.3" y="291.5" font-size="3.9" font-weight="bold" text-anchor="start" fill="#222">1</text>
<text x="304.3" y="300.9" font-size="3.9" font-weight="bold" text-anchor="start" fill="#222">0.8</text>
<text x="304.3" y="310.4" font-size="3.9" font-weight="bold" text-anchor="start" fill="#222">0.6</text>
<text x="304.3" y="319.8" font-size="3.9" font-weight="bold" text-anchor="start" fill="#222">0.4</text>
<text x="304.3" y="329.4" font-size="3.9" font-weight="bold" text-anchor="start" fill="#222">0.2</text>
<text x="304.3" y="338.7" font-size="3.9" font-weight="bold" text-anchor="start" fill="#222">0</text>
<text x="304.3" y="348.3" font-size="3.9" font-weight="bold" text-anchor="start" fill="#222">-0.2</text>
<text x="1.9" y="281" font-size="13.5" font-weight="bold" text-anchor="start" fill="#000">b</text>
<text x="113.7" y="267.4" font-size="5.2" font-weight="bold" text-anchor="start" fill="#111" textLength="71" lengthAdjust="spacingAndGlyphs">Correlation between Modules</text>
<rect x="357.2" y="32" width="18.6" height="0.77" fill="#dedfee"/>
<rect x="357.2" y="32.74" width="18.6" height="0.77" fill="#7679b9"/>
<rect x="357.2" y="33.49" width="18.6" height="0.77" fill="#b9bbdb"/>
<rect x="357.2" y="34.23" width="18.6" height="0.77" fill="#a3a5d0"/>
<rect x="357.2" y="34.98" width="18.6" height="0.77" fill="#a6a8d1"/>
<rect x="357.2" y="35.72" width="18.6" height="0.77" fill="#e0e1ef"/>
<rect x="357.2" y="36.47" width="18.6" height="0.77" fill="#b7b9da"/>
<rect x="357.2" y="37.21" width="18.6" height="0.77" fill="#dfe0ef"/>
<rect x="357.2" y="37.96" width="18.6" height="0.77" fill="#d1d2e7"/>
<rect x="357.2" y="38.7" width="18.6" height="0.77" fill="#f0d2d4"/>
<rect x="357.2" y="39.45" width="18.6" height="0.77" fill="#eaeaf4"/>
<rect x="357.2" y="40.19" width="18.6" height="0.77" fill="#dddded"/>
<rect x="357.2" y="40.94" width="18.6" height="0.77" fill="#dedfee"/>
<rect x="357.2" y="41.68" width="18.6" height="0.77" fill="#d6d7ea"/>
<rect x="357.2" y="42.43" width="18.6" height="0.77" fill="#cdcee5"/>
<rect x="357.2" y="43.17" width="18.6" height="0.77" fill="#e1a5a9"/>
<rect x="357.2" y="43.91" width="18.6" height="0.77" fill="#db9398"/>
<rect x="357.2" y="44.66" width="18.6" height="0.77" fill="#e0a2a6"/>
<rect x="357.2" y="45.4" width="18.6" height="0.77" fill="#d8898e"/>
<rect x="357.2" y="46.15" width="18.6" height="0.77" fill="#e0a1a5"/>
<rect x="357.2" y="46.89" width="18.6" height="0.77" fill="#f7e6e7"/>
<rect x="357.2" y="47.64" width="18.6" height="0.77" fill="#ecc6c9"/>
<rect x="357.2" y="48.38" width="18.6" height="0.77" fill="#f3dbdd"/>
<rect x="357.2" y="49.13" width="18.6" height="0.77" fill="#faf1f2"/>
<rect x="357.2" y="49.87" width="18.6" height="0.77" fill="#f8eaeb"/>
<rect x="357.2" y="50.62" width="18.6" height="0.77" fill="#d3797f"/>
<rect x="357.2" y="51.36" width="18.6" height="0.77" fill="#c95c63"/>
<rect x="357.2" y="52.11" width="18.6" height="0.77" fill="#d88a8f"/>
<rect x="357.2" y="52.85" width="18.6" height="0.77" fill="#d88a8f"/>
<rect x="357.2" y="53.6" width="18.6" height="0.77" fill="#d07076"/>
<rect x="357.2" y="54.34" width="18.6" height="0.77" fill="#d57f84"/>
<rect x="357.2" y="55.08" width="18.6" height="0.77" fill="#d17278"/>
<rect x="357.2" y="55.83" width="18.6" height="0.77" fill="#c85a61"/>
<rect x="357.2" y="56.57" width="18.6" height="0.77" fill="#ca6067"/>
<rect x="357.2" y="57.32" width="18.6" height="0.77" fill="#ce6a71"/>
<rect x="357.2" y="58.06" width="18.6" height="0.77" fill="#e2a8ab"/>
<rect x="357.2" y="58.81" width="18.6" height="0.77" fill="#faf1f2"/>
<rect x="357.2" y="59.55" width="18.6" height="0.77" fill="#e0a0a4"/>
<rect x="357.2" y="60.3" width="18.6" height="0.77" fill="#edcacc"/>
<rect x="357.2" y="61.04" width="18.6" height="0.77" fill="#f2d9da"/>
<rect x="357.2" y="61.79" width="18.6" height="0.77" fill="#edc8cb"/>
<rect x="357.2" y="62.53" width="18.6" height="0.77" fill="#eabfc2"/>
<rect x="357.2" y="63.28" width="18.6" height="0.77" fill="#f2d7d9"/>
<rect x="357.2" y="64.02" width="18.6" height="0.77" fill="#f6e5e6"/>
<rect x="357.2" y="64.77" width="18.6" height="0.77" fill="#efced0"/>
<rect x="357.2" y="65.51" width="18.6" height="0.77" fill="#df9ea2"/>
<rect x="357.2" y="66.25" width="18.6" height="0.77" fill="#d58085"/>
<rect x="357.2" y="67" width="18.6" height="0.77" fill="#d98d92"/>
<rect x="357.2" y="67.74" width="18.6" height="0.77" fill="#dd999d"/>
<rect x="357.2" y="68.49" width="18.6" height="0.77" fill="#d7868b"/>
<rect x="357.2" y="69.23" width="18.6" height="0.77" fill="#e8babd"/>
<rect x="357.2" y="69.98" width="18.6" height="0.77" fill="#edc9cb"/>
<rect x="357.2" y="70.72" width="18.6" height="0.77" fill="#e3a9ad"/>
<rect x="357.2" y="71.47" width="18.6" height="0.77" fill="#e3a9ad"/>
<rect x="357.2" y="72.21" width="18.6" height="0.77" fill="#e8babd"/>
<rect x="357.2" y="72.96" width="18.6" height="0.77" fill="#d47d82"/>
<rect x="357.2" y="73.7" width="18.6" height="0.77" fill="#cd676e"/>
<rect x="357.2" y="74.45" width="18.6" height="0.77" fill="#e0a1a5"/>
<rect x="357.2" y="75.19" width="18.6" height="0.77" fill="#ca5e65"/>
<rect x="357.2" y="75.94" width="18.6" height="0.77" fill="#cb6269"/>
<rect x="357.2" y="76.68" width="18.6" height="0.77" fill="#eac0c2"/>
<rect x="357.2" y="77.42" width="18.6" height="0.77" fill="#de9ca0"/>
<rect x="357.2" y="78.17" width="18.6" height="0.77" fill="#e5b1b5"/>
<rect x="357.2" y="78.91" width="18.6" height="0.77" fill="#d98d92"/>
<rect x="357.2" y="79.66" width="18.6" height="0.77" fill="#edc8ca"/>
<rect x="357.2" y="80.4" width="18.6" height="0.77" fill="#d57f85"/>
<rect x="357.2" y="81.15" width="18.6" height="0.77" fill="#ca5d64"/>
<rect x="357.2" y="81.89" width="18.6" height="0.77" fill="#c6545b"/>
<rect x="357.2" y="82.64" width="18.6" height="0.77" fill="#dd999e"/>
<rect x="357.2" y="83.38" width="18.6" height="0.77" fill="#d2777d"/>
<rect x="357.2" y="84.13" width="18.6" height="0.77" fill="#f5e0e1"/>
<rect x="357.2" y="84.87" width="18.6" height="0.77" fill="#fbf3f4"/>
<rect x="357.2" y="85.62" width="18.6" height="0.77" fill="#ecc5c8"/>
<rect x="357.2" y="86.36" width="18.6" height="0.77" fill="#fefeff"/>
<rect x="357.2" y="87.11" width="18.6" height="0.77" fill="#f4dfe0"/>
<rect x="357.2" y="87.85" width="18.6" height="0.77" fill="#f7f7fb"/>
<rect x="357.2" y="88.59" width="18.6" height="0.77" fill="#f0d3d5"/>
<rect x="357.2" y="89.34" width="18.6" height="0.77" fill="#faf1f1"/>
<rect x="357.2" y="90.08" width="18.6" height="0.77" fill="#fdf8f8"/>
<rect x="357.2" y="90.83" width="18.6" height="0.77" fill="#e8e9f3"/>
<rect x="357.2" y="91.57" width="18.6" height="0.77" fill="#ebc3c6"/>
<rect x="357.2" y="92.32" width="18.6" height="0.77" fill="#f2d7d8"/>
<rect x="357.2" y="93.06" width="18.6" height="0.77" fill="#f2d7d8"/>
<rect x="357.2" y="93.81" width="18.6" height="0.77" fill="#efcfd1"/>
<rect x="357.2" y="94.55" width="18.6" height="0.77" fill="#f4dfe1"/>
<rect x="357.2" y="95.3" width="18.6" height="0.77" fill="#db9297"/>
<rect x="357.2" y="96.04" width="18.6" height="0.77" fill="#dc959a"/>
<rect x="357.2" y="96.79" width="18.6" height="0.77" fill="#dc959a"/>
<rect x="357.2" y="97.53" width="18.6" height="0.77" fill="#cd686e"/>
<rect x="357.2" y="98.28" width="18.6" height="0.77" fill="#e1a3a7"/>
<rect x="357.2" y="99.02" width="18.6" height="0.77" fill="#db9196"/>
<rect x="357.2" y="99.76" width="18.6" height="0.77" fill="#d98b90"/>
<rect x="357.2" y="100.51" width="18.6" height="0.77" fill="#d58085"/>
<rect x="357.2" y="101.25" width="18.6" height="0.77" fill="#d3797e"/>
<rect x="357.2" y="102" width="18.6" height="0.77" fill="#df9fa3"/>
<rect x="357.2" y="102.74" width="18.6" height="0.77" fill="#f3dadb"/>
<rect x="357.2" y="103.49" width="18.6" height="0.77" fill="#e7b6b9"/>
<rect x="357.2" y="104.23" width="18.6" height="0.77" fill="#de9ca0"/>
<rect x="357.2" y="104.98" width="18.6" height="0.77" fill="#e1a6aa"/>
<rect x="357.2" y="105.72" width="18.6" height="0.77" fill="#e5b1b4"/>
<rect x="357.2" y="106.47" width="18.6" height="0.77" fill="#d98b90"/>
<rect x="357.2" y="107.21" width="18.6" height="0.77" fill="#d57f84"/>
<rect x="357.2" y="107.96" width="18.6" height="0.77" fill="#d88a8f"/>
<rect x="357.2" y="108.7" width="18.6" height="0.77" fill="#d1747a"/>
<rect x="357.2" y="109.45" width="18.6" height="0.77" fill="#dc959a"/>
<rect x="357.2" y="110.19" width="18.6" height="0.77" fill="#eecbcd"/>
<rect x="357.2" y="110.93" width="18.6" height="0.77" fill="#f0d0d2"/>
<rect x="357.2" y="111.68" width="18.6" height="0.77" fill="#ebc3c5"/>
<rect x="357.2" y="112.42" width="18.6" height="0.77" fill="#edc9cc"/>
<rect x="357.2" y="113.17" width="18.6" height="0.77" fill="#dd999d"/>
<rect x="357.2" y="113.91" width="18.6" height="0.77" fill="#edc7ca"/>
<rect x="357.2" y="114.66" width="18.6" height="0.77" fill="#edc7ca"/>
<rect x="357.2" y="115.4" width="18.6" height="0.77" fill="#ebecf5"/>
<rect x="357.2" y="116.15" width="18.6" height="0.77" fill="#f9eeee"/>
<rect x="357.2" y="116.89" width="18.6" height="0.77" fill="#fbf3f4"/>
<rect x="357.2" y="117.64" width="18.6" height="0.77" fill="#cb6168"/>
<rect x="357.2" y="118.38" width="18.6" height="0.77" fill="#de9ca0"/>
<rect x="357.2" y="119.13" width="18.6" height="0.77" fill="#c6545b"/>
<rect x="357.2" y="119.87" width="18.6" height="0.77" fill="#c7565d"/>
<rect x="357.2" y="120.62" width="18.6" height="0.77" fill="#d8888d"/>
<rect x="357.2" y="121.36" width="18.6" height="0.77" fill="#d58186"/>
<rect x="357.2" y="122.1" width="18.6" height="0.77" fill="#d47d83"/>
<rect x="357.2" y="122.85" width="18.6" height="0.77" fill="#ce6b72"/>
<rect x="357.2" y="123.59" width="18.6" height="0.77" fill="#ca5f66"/>
<rect x="357.2" y="124.34" width="18.6" height="0.77" fill="#c04149"/>
<rect x="357.2" y="125.08" width="18.6" height="0.77" fill="#d8898e"/>
<rect x="357.2" y="125.83" width="18.6" height="0.77" fill="#d1757b"/>
<rect x="357.2" y="126.57" width="18.6" height="0.77" fill="#d58187"/>
<rect x="357.2" y="127.32" width="18.6" height="0.77" fill="#ca6067"/>
<rect x="357.2" y="128.06" width="18.6" height="0.77" fill="#d1757b"/>
<rect x="357.2" y="128.81" width="18.6" height="0.77" fill="#f1d4d5"/>
<rect x="357.2" y="129.55" width="18.6" height="0.77" fill="#f6f7fb"/>
<rect x="357.2" y="130.3" width="18.6" height="0.77" fill="#fbf4f5"/>
<rect x="357.2" y="131.04" width="18.6" height="0.77" fill="#fcfcfe"/>
<rect x="357.2" y="131.79" width="18.6" height="0.77" fill="#f0d1d3"/>
<rect x="357.2" y="132.53" width="18.6" height="0.77" fill="#da8f94"/>
<rect x="357.2" y="133.27" width="18.6" height="0.77" fill="#e1a4a7"/>
<rect x="357.2" y="134.02" width="18.6" height="0.77" fill="#e2a7aa"/>
<rect x="357.2" y="134.76" width="18.6" height="0.77" fill="#db9398"/>
<rect x="357.2" y="135.51" width="18.6" height="0.77" fill="#e4acaf"/>
<rect x="357.2" y="136.25" width="18.6" height="0.77" fill="#eaeaf4"/>
<rect x="357.2" y="137" width="18.6" height="0.77" fill="#fcf5f5"/>
<rect x="357.2" y="137.74" width="18.6" height="0.77" fill="#eecbce"/>
<rect x="357.2" y="138.49" width="18.6" height="0.77" fill="#f9fafc"/>
<rect x="357.2" y="139.23" width="18.6" height="0.77" fill="#f2f3f9"/>
<rect x="357.2" y="139.98" width="18.6" height="0.77" fill="#f7e7e8"/>
<rect x="357.2" y="140.72" width="18.6" height="0.77" fill="#f8eaeb"/>
<rect x="357.2" y="141.47" width="18.6" height="0.77" fill="#ebc3c6"/>
<rect x="357.2" y="142.21" width="18.6" height="0.77" fill="#e9bcbf"/>
<rect x="357.2" y="142.96" width="18.6" height="0.77" fill="#efced0"/>
<rect x="357.2" y="143.7" width="18.6" height="0.77" fill="#edc7c9"/>
<rect x="357.2" y="144.44" width="18.6" height="0.77" fill="#eeccce"/>
<rect x="357.2" y="145.19" width="18.6" height="0.77" fill="#eecbcd"/>
<rect x="357.2" y="145.93" width="18.6" height="0.77" fill="#f9eeef"/>
<rect x="357.2" y="146.68" width="18.6" height="0.77" fill="#f2d8d9"/>
<rect x="357.2" y="147.42" width="18.6" height="0.77" fill="#e6b3b7"/>
<rect x="357.2" y="148.17" width="18.6" height="0.77" fill="#ecc6c8"/>
<rect x="357.2" y="148.91" width="18.6" height="0.77" fill="#eac0c2"/>
<rect x="357.2" y="149.66" width="18.6" height="0.77" fill="#ecc7c9"/>
<rect x="357.2" y="150.4" width="18.6" height="0.77" fill="#e9bdbf"/>
<rect x="357.2" y="151.15" width="18.6" height="0.77" fill="#f4dee0"/>
<rect x="357.2" y="151.89" width="18.6" height="0.77" fill="#fdf9f9"/>
<rect x="357.2" y="152.64" width="18.6" height="0.77" fill="#fbf4f4"/>
<rect x="357.2" y="153.38" width="18.6" height="0.77" fill="#f5dfe1"/>
<rect x="357.2" y="154.13" width="18.6" height="0.77" fill="#f6e3e4"/>
<rect x="357.2" y="154.87" width="18.6" height="0.77" fill="#db9297"/>
<rect x="357.2" y="155.61" width="18.6" height="0.77" fill="#f5e1e3"/>
<rect x="357.2" y="156.36" width="18.6" height="0.77" fill="#e1a4a8"/>
<rect x="357.2" y="157.1" width="18.6" height="0.77" fill="#eac0c2"/>
<rect x="357.2" y="157.85" width="18.6" height="0.77" fill="#e6b3b6"/>
<rect x="357.2" y="158.59" width="18.6" height="0.77" fill="#d17379"/>
<rect x="357.2" y="159.34" width="18.6" height="0.77" fill="#cf6e74"/>
<rect x="357.2" y="160.08" width="18.6" height="0.77" fill="#cf6f75"/>
<rect x="357.2" y="160.83" width="18.6" height="0.77" fill="#d68187"/>
<rect x="357.2" y="161.57" width="18.6" height="0.77" fill="#cb636a"/>
<rect x="357.2" y="162.32" width="18.6" height="0.77" fill="#d98b90"/>
<rect x="357.2" y="163.06" width="18.6" height="0.77" fill="#d8888d"/>
<rect x="357.2" y="163.81" width="18.6" height="0.77" fill="#d1747a"/>
<rect x="357.2" y="164.55" width="18.6" height="0.77" fill="#da9095"/>
<rect x="357.2" y="165.3" width="18.6" height="0.77" fill="#c8575f"/>
<rect x="357.2" y="166.04" width="18.6" height="0.77" fill="#e0a0a4"/>
<rect x="357.2" y="166.78" width="18.6" height="0.77" fill="#d8888d"/>
<rect x="357.2" y="167.53" width="18.6" height="0.77" fill="#e7b6b9"/>
<rect x="357.2" y="168.27" width="18.6" height="0.77" fill="#e9bec0"/>
<rect x="357.2" y="169.02" width="18.6" height="0.77" fill="#e6b2b5"/>
<rect x="357.2" y="169.76" width="18.6" height="0.77" fill="#f2d7d9"/>
<rect x="357.2" y="170.51" width="18.6" height="0.77" fill="#fbf3f3"/>
<rect x="357.2" y="171.25" width="18.6" height="0.77" fill="#f4dfe0"/>
<rect x="357.2" y="172" width="18.6" height="0.77" fill="#f7e7e8"/>
<rect x="357.2" y="172.74" width="18.6" height="0.77" fill="#ecc5c7"/>
<rect x="357.2" y="173.49" width="18.6" height="0.77" fill="#e3abaf"/>
<rect x="357.2" y="174.23" width="18.6" height="0.77" fill="#d7878c"/>
<rect x="357.2" y="174.98" width="18.6" height="0.77" fill="#e3abae"/>
<rect x="357.2" y="175.72" width="18.6" height="0.77" fill="#e5b1b5"/>
<rect x="357.2" y="176.47" width="18.6" height="0.77" fill="#e4acb0"/>
<rect x="357.2" y="177.21" width="18.6" height="0.77" fill="#e7b6b9"/>
<rect x="357.2" y="177.95" width="18.6" height="0.77" fill="#de9a9e"/>
<rect x="357.2" y="178.7" width="18.6" height="0.77" fill="#d8888d"/>
<rect x="357.2" y="179.44" width="18.6" height="0.77" fill="#de9a9e"/>
<rect x="357.2" y="180.19" width="18.6" height="0.77" fill="#da9095"/>
<rect x="357.2" y="180.93" width="18.6" height="0.77" fill="#e4acaf"/>
<rect x="357.2" y="181.68" width="18.6" height="0.77" fill="#edc8cb"/>
<rect x="357.2" y="182.42" width="18.6" height="0.77" fill="#edcacc"/>
<rect x="357.2" y="183.17" width="18.6" height="0.77" fill="#f1d4d6"/>
<rect x="357.2" y="183.91" width="18.6" height="0.77" fill="#faf0f0"/>
<rect x="357.2" y="184.66" width="18.6" height="0.77" fill="#c1c3df"/>
<rect x="357.2" y="185.4" width="18.6" height="0.77" fill="#888bc2"/>
<rect x="357.2" y="186.15" width="18.6" height="0.77" fill="#bfc0de"/>
<rect x="357.2" y="186.89" width="18.6" height="0.77" fill="#b0b2d6"/>
<rect x="357.2" y="187.64" width="18.6" height="0.77" fill="#c9cbe3"/>
<rect x="357.2" y="188.38" width="18.6" height="0.77" fill="#bec0de"/>
<rect x="357.2" y="189.12" width="18.6" height="0.77" fill="#adafd5"/>
<rect x="357.2" y="189.87" width="18.6" height="0.77" fill="#c8c9e3"/>
<rect x="357.2" y="190.61" width="18.6" height="0.77" fill="#b3b5d8"/>
<rect x="357.2" y="191.36" width="18.6" height="0.77" fill="#bcbddc"/>
<rect x="357.2" y="192.1" width="18.6" height="0.77" fill="#cbcce4"/>
<rect x="357.2" y="192.85" width="18.6" height="0.77" fill="#c7c9e2"/>
<rect x="357.2" y="193.59" width="18.6" height="0.77" fill="#c6c7e2"/>
<rect x="357.2" y="194.34" width="18.6" height="0.77" fill="#b7b9da"/>
<rect x="357.2" y="195.08" width="18.6" height="0.77" fill="#c6c7e2"/>
<rect x="357.2" y="195.83" width="18.6" height="0.77" fill="#f6e2e4"/>
<rect x="357.2" y="196.57" width="18.6" height="0.77" fill="#e8b9bc"/>
<rect x="357.2" y="197.32" width="18.6" height="0.77" fill="#efcfd1"/>
<rect x="357.2" y="198.06" width="18.6" height="0.77" fill="#df9ea2"/>
<rect x="357.2" y="198.81" width="18.6" height="0.77" fill="#de9b9f"/>
<rect x="357.2" y="199.55" width="18.6" height="0.77" fill="#9ea1cd"/>
<rect x="357.2" y="200.29" width="18.6" height="0.77" fill="#cecfe6"/>
<rect x="357.2" y="201.04" width="18.6" height="0.77" fill="#c7c9e2"/>
<rect x="357.2" y="201.78" width="18.6" height="0.77" fill="#b3b4d8"/>
<rect x="357.2" y="202.53" width="18.6" height="0.77" fill="#d6d7ea"/>
<rect x="357.2" y="203.27" width="18.6" height="0.77" fill="#dadbec"/>
<rect x="357.2" y="204.02" width="18.6" height="0.77" fill="#bdbedd"/>
<rect x="357.2" y="204.76" width="18.6" height="0.77" fill="#dfdfee"/>
<rect x="357.2" y="205.51" width="18.6" height="0.77" fill="#e1e2f0"/>
<rect x="357.2" y="206.25" width="18.6" height="0.77" fill="#e7e8f3"/>
<rect x="357.2" y="207" width="18.6" height="0.77" fill="#df9ea3"/>
<rect x="357.2" y="207.74" width="18.6" height="0.77" fill="#d2787e"/>
<rect x="357.2" y="208.49" width="18.6" height="0.77" fill="#d1757b"/>
<rect x="357.2" y="209.23" width="18.6" height="0.77" fill="#df9da1"/>
<rect x="357.2" y="209.98" width="18.6" height="0.77" fill="#db9297"/>
<rect x="357.2" y="210.72" width="18.6" height="0.77" fill="#d7868c"/>
<rect x="357.2" y="211.46" width="18.6" height="0.77" fill="#da9195"/>
<rect x="357.2" y="212.21" width="18.6" height="0.77" fill="#ca6067"/>
<rect x="357.2" y="212.95" width="18.6" height="0.77" fill="#d58086"/>
<rect x="357.2" y="213.7" width="18.6" height="0.77" fill="#de9a9e"/>
<rect x="357.2" y="214.44" width="18.6" height="0.77" fill="#dc959a"/>
<rect x="357.2" y="215.19" width="18.6" height="0.77" fill="#d7868b"/>
<rect x="357.2" y="215.93" width="18.6" height="0.77" fill="#c7555c"/>
<rect x="357.2" y="216.68" width="18.6" height="0.77" fill="#d8888e"/>
<rect x="357.2" y="217.42" width="18.6" height="0.77" fill="#d68287"/>
<rect x="357.2" y="218.17" width="18.6" height="0.77" fill="#d37a80"/>
<rect x="357.2" y="218.91" width="18.6" height="0.77" fill="#d7868b"/>
<rect x="357.2" y="219.66" width="18.6" height="0.77" fill="#c7555c"/>
<rect x="357.2" y="220.4" width="18.6" height="0.77" fill="#da9095"/>
<rect x="357.2" y="221.15" width="18.6" height="0.77" fill="#d1757b"/>
<rect x="357.2" y="221.89" width="18.6" height="0.77" fill="#de9a9e"/>
<rect x="357.2" y="222.63" width="18.6" height="0.77" fill="#da9095"/>
<rect x="357.2" y="223.38" width="18.6" height="0.77" fill="#e7b6b9"/>
<rect x="357.2" y="224.12" width="18.6" height="0.77" fill="#d2787e"/>
<rect x="357.2" y="224.87" width="18.6" height="0.77" fill="#e0a0a4"/>
<rect x="357.2" y="225.61" width="18.6" height="0.77" fill="#fcf4f5"/>
<rect x="357.2" y="226.36" width="18.6" height="0.77" fill="#f4f5fa"/>
<rect x="357.2" y="227.1" width="18.6" height="0.77" fill="#f9f9fc"/>
<rect x="357.2" y="227.85" width="18.6" height="0.77" fill="#f8e9ea"/>
<rect x="357.2" y="228.59" width="18.6" height="0.77" fill="#f5e1e2"/>
<rect x="357.2" y="229.34" width="18.6" height="0.77" fill="#eabec1"/>
<rect x="357.2" y="230.08" width="18.6" height="0.77" fill="#e6b5b8"/>
<rect x="357.2" y="230.83" width="18.6" height="0.77" fill="#eabfc2"/>
<rect x="357.2" y="231.57" width="18.6" height="0.77" fill="#efcdd0"/>
<rect x="357.2" y="232.32" width="18.6" height="0.77" fill="#e9bdbf"/>
<rect x="357.2" y="233.06" width="18.6" height="0.77" fill="#f3dadc"/>
<rect x="357.2" y="233.8" width="18.6" height="0.77" fill="#f8e9ea"/>
<rect x="357.2" y="234.55" width="18.6" height="0.77" fill="#f2d7d9"/>
<rect x="357.2" y="235.29" width="18.6" height="0.77" fill="#eeccce"/>
<rect x="357.2" y="236.04" width="18.6" height="0.77" fill="#f5e2e3"/>
<rect x="357.2" y="236.78" width="18.6" height="0.77" fill="#fdf8f8"/>
<rect x="357.2" y="237.53" width="18.6" height="0.77" fill="#f5e1e3"/>
<rect x="357.2" y="238.27" width="18.6" height="0.77" fill="#edc8cb"/>
<rect x="357.2" y="239.02" width="18.6" height="0.77" fill="#fcf5f5"/>
<rect x="357.2" y="239.76" width="18.6" height="0.77" fill="#fbf2f3"/>
<rect x="357.2" y="240.51" width="18.6" height="0.77" fill="#fdf8f8"/>
<rect x="357.2" y="241.25" width="18.6" height="0.77" fill="#f3dcdd"/>
<rect x="357.2" y="242" width="18.6" height="0.77" fill="#e0e1ef"/>
<rect x="357.2" y="242.74" width="18.6" height="0.77" fill="#f9eeee"/>
<rect x="357.2" y="243.49" width="18.6" height="0.77" fill="#f4dcde"/>
<rect x="357.2" y="244.23" width="18.6" height="0.77" fill="#dc969a"/>
<rect x="357.2" y="244.97" width="18.6" height="0.77" fill="#cc656c"/>
<rect x="357.2" y="245.72" width="18.6" height="0.77" fill="#d3797f"/>
<rect x="357.2" y="246.46" width="18.6" height="0.77" fill="#da9095"/>
<rect x="357.2" y="247.21" width="18.6" height="0.77" fill="#d58086"/>
<rect x="357.2" y="247.95" width="18.6" height="0.77" fill="#e1a5a9"/>
<rect x="357.2" y="248.7" width="18.6" height="0.77" fill="#da9195"/>
<rect x="357.2" y="249.44" width="18.6" height="0.77" fill="#ca5e65"/>
<rect x="357.2" y="250.19" width="18.6" height="0.77" fill="#dd979c"/>
<rect x="357.2" y="250.93" width="18.6" height="0.77" fill="#ca5e65"/>
<rect x="357.2" y="251.68" width="18.6" height="0.77" fill="#e7b7ba"/>
<rect x="357.2" y="252.42" width="18.6" height="0.77" fill="#e0a1a5"/>
<rect x="357.2" y="253.17" width="18.6" height="0.77" fill="#e6b5b8"/>
<rect x="357.2" y="253.91" width="18.6" height="0.77" fill="#f6e5e6"/>
<rect x="357.2" y="254.66" width="18.6" height="0.77" fill="#ebc2c4"/>
<rect x="375.77" y="32" width="18.6" height="0.77" fill="#9a9ccb"/>
<rect x="375.77" y="32.74" width="18.6" height="0.77" fill="#7c7fbb"/>
<rect x="375.77" y="33.49" width="18.6" height="0.77" fill="#777ab9"/>
<rect x="375.77" y="34.23" width="18.6" height="0.77" fill="#9ea0cd"/>
<rect x="375.77" y="34.98" width="18.6" height="0.77" fill="#878ac1"/>
<rect x="375.77" y="35.72" width="18.6" height="0.77" fill="#a4a6d0"/>
<rect x="375.77" y="36.47" width="18.6" height="0.77" fill="#bbbcdc"/>
<rect x="375.77" y="37.21" width="18.6" height="0.77" fill="#dedfee"/>
<rect x="375.77" y="37.96" width="18.6" height="0.77" fill="#c0c1de"/>
<rect x="375.77" y="38.7" width="18.6" height="0.77" fill="#dfe0ef"/>
<rect x="375.77" y="39.45" width="18.6" height="0.77" fill="#f4dfe0"/>
<rect x="375.77" y="40.19" width="18.6" height="0.77" fill="#fffefe"/>
<rect x="375.77" y="40.94" width="18.6" height="0.77" fill="#e5e6f2"/>
<rect x="375.77" y="41.68" width="18.6" height="0.77" fill="#e2e2f0"/>
<rect x="375.77" y="42.43" width="18.6" height="0.77" fill="#fefeff"/>
<rect x="375.77" y="43.17" width="18.6" height="0.77" fill="#c4c5e1"/>
<rect x="375.77" y="43.91" width="18.6" height="0.77" fill="#b6b8d9"/>
<rect x="375.77" y="44.66" width="18.6" height="0.77" fill="#bcbedd"/>
<rect x="375.77" y="45.4" width="18.6" height="0.77" fill="#a6a8d1"/>
<rect x="375.77" y="46.15" width="18.6" height="0.77" fill="#b7b8da"/>
<rect x="375.77" y="46.89" width="18.6" height="0.77" fill="#c0c1de"/>
<rect x="375.77" y="47.64" width="18.6" height="0.77" fill="#c3c4e0"/>
<rect x="375.77" y="48.38" width="18.6" height="0.77" fill="#adafd5"/>
<rect x="375.77" y="49.13" width="18.6" height="0.77" fill="#a7a9d2"/>
<rect x="375.77" y="49.87" width="18.6" height="0.77" fill="#bfc1de"/>
<rect x="375.77" y="50.62" width="18.6" height="0.77" fill="#f7e5e6"/>
<rect x="375.77" y="51.36" width="18.6" height="0.77" fill="#f5e2e3"/>
<rect x="375.77" y="52.11" width="18.6" height="0.77" fill="#eac0c3"/>
<rect x="375.77" y="52.85" width="18.6" height="0.77" fill="#f0d0d2"/>
<rect x="375.77" y="53.6" width="18.6" height="0.77" fill="#db9196"/>
<rect x="375.77" y="54.34" width="18.6" height="0.77" fill="#dfe0ef"/>
<rect x="375.77" y="55.08" width="18.6" height="0.77" fill="#bcbedd"/>
<rect x="375.77" y="55.83" width="18.6" height="0.77" fill="#dcdded"/>
<rect x="375.77" y="56.57" width="18.6" height="0.77" fill="#d2d3e8"/>
<rect x="375.77" y="57.32" width="18.6" height="0.77" fill="#bbbcdc"/>
<rect x="375.77" y="58.06" width="18.6" height="0.77" fill="#df9ea3"/>
<rect x="375.77" y="58.81" width="18.6" height="0.77" fill="#ecc6c8"/>
<rect x="375.77" y="59.55" width="18.6" height="0.77" fill="#fcf6f6"/>
<rect x="375.77" y="60.3" width="18.6" height="0.77" fill="#e1a5a9"/>
<rect x="375.77" y="61.04" width="18.6" height="0.77" fill="#ebc3c5"/>
<rect x="375.77" y="61.79" width="18.6" height="0.77" fill="#edc7ca"/>
<rect x="375.77" y="62.53" width="18.6" height="0.77" fill="#fbf4f5"/>
<rect x="375.77" y="63.28" width="18.6" height="0.77" fill="#ffffff"/>
<rect x="375.77" y="64.02" width="18.6" height="0.77" fill="#ecc6c9"/>
<rect x="375.77" y="64.77" width="18.6" height="0.77" fill="#fefdfd"/>
<rect x="375.77" y="65.51" width="18.6" height="0.77" fill="#edcacc"/>
<rect x="375.77" y="66.25" width="18.6" height="0.77" fill="#e5b0b3"/>
<rect x="375.77" y="67" width="18.6" height="0.77" fill="#eeccce"/>
<rect x="375.77" y="67.74" width="18.6" height="0.77" fill="#efd0d2"/>
<rect x="375.77" y="68.49" width="18.6" height="0.77" fill="#eeccce"/>
<rect x="375.77" y="69.23" width="18.6" height="0.77" fill="#f9edee"/>
<rect x="375.77" y="69.98" width="18.6" height="0.77" fill="#ededf6"/>
<rect x="375.77" y="70.72" width="18.6" height="0.77" fill="#fbf2f3"/>
<rect x="375.77" y="71.47" width="18.6" height="0.77" fill="#fbf3f3"/>
<rect x="375.77" y="72.21" width="18.6" height="0.77" fill="#efced0"/>
<rect x="375.77" y="72.96" width="18.6" height="0.77" fill="#f1d5d7"/>
<rect x="375.77" y="73.7" width="18.6" height="0.77" fill="#f5e1e3"/>
<rect x="375.77" y="74.45" width="18.6" height="0.77" fill="#eabfc1"/>
<rect x="375.77" y="75.19" width="18.6" height="0.77" fill="#f2d6d8"/>
<rect x="375.77" y="75.94" width="18.6" height="0.77" fill="#edc8ca"/>
<rect x="375.77" y="76.68" width="18.6" height="0.77" fill="#e6b3b6"/>
<rect x="375.77" y="77.42" width="18.6" height="0.77" fill="#df9da1"/>
<rect x="375.77" y="78.17" width="18.6" height="0.77" fill="#ebc3c6"/>
<rect x="375.77" y="78.91" width="18.6" height="0.77" fill="#e7b8bb"/>
<rect x="375.77" y="79.66" width="18.6" height="0.77" fill="#f8ebec"/>
<rect x="375.77" y="80.4" width="18.6" height="0.77" fill="#f5e1e2"/>
<rect x="375.77" y="81.15" width="18.6" height="0.77" fill="#e4aeb1"/>
<rect x="375.77" y="81.89" width="18.6" height="0.77" fill="#f4dcde"/>
<rect x="375.77" y="82.64" width="18.6" height="0.77" fill="#f4ddde"/>
<rect x="375.77" y="83.38" width="18.6" height="0.77" fill="#f7e8e9"/>
<rect x="375.77" y="84.13" width="18.6" height="0.77" fill="#fbf3f3"/>
<rect x="375.77" y="84.87" width="18.6" height="0.77" fill="#fefbfb"/>
<rect x="375.77" y="85.62" width="18.6" height="0.77" fill="#e4e5f1"/>
<rect x="375.77" y="86.36" width="18.6" height="0.77" fill="#faf1f2"/>
<rect x="375.77" y="87.11" width="18.6" height="0.77" fill="#fdfafa"/>
<rect x="375.77" y="87.85" width="18.6" height="0.77" fill="#f2d7d8"/>
<rect x="375.77" y="88.59" width="18.6" height="0.77" fill="#fbf4f4"/>
<rect x="375.77" y="89.34" width="18.6" height="0.77" fill="#ebc2c5"/>
<rect x="375.77" y="90.08" width="18.6" height="0.77" fill="#f4dedf"/>
<rect x="375.77" y="90.83" width="18.6" height="0.77" fill="#f8e9ea"/>
<rect x="375.77" y="91.57" width="18.6" height="0.77" fill="#f2d9db"/>
<rect x="375.77" y="92.32" width="18.6" height="0.77" fill="#f1d3d5"/>
<rect x="375.77" y="93.06" width="18.6" height="0.77" fill="#e9bcbf"/>
<rect x="375.77" y="93.81" width="18.6" height="0.77" fill="#f1d4d6"/>
<rect x="375.77" y="94.55" width="18.6" height="0.77" fill="#e7b7bb"/>
<rect x="375.77" y="95.3" width="18.6" height="0.77" fill="#a3a5d0"/>
<rect x="375.77" y="96.04" width="18.6" height="0.77" fill="#b4b6d8"/>
<rect x="375.77" y="96.79" width="18.6" height="0.77" fill="#a8aad2"/>
<rect x="375.77" y="97.53" width="18.6" height="0.77" fill="#9497c8"/>
<rect x="375.77" y="98.28" width="18.6" height="0.77" fill="#6a6eb3"/>
<rect x="375.77" y="99.02" width="18.6" height="0.77" fill="#f5e0e2"/>
<rect x="375.77" y="99.76" width="18.6" height="0.77" fill="#f1d6d8"/>
<rect x="375.77" y="100.51" width="18.6" height="0.77" fill="#f6e3e4"/>
<rect x="375.77" y="101.25" width="18.6" height="0.77" fill="#f3dbdc"/>
<rect x="375.77" y="102" width="18.6" height="0.77" fill="#faf0f1"/>
<rect x="375.77" y="102.74" width="18.6" height="0.77" fill="#f1d6d8"/>
<rect x="375.77" y="103.49" width="18.6" height="0.77" fill="#f5e2e3"/>
<rect x="375.77" y="104.23" width="18.6" height="0.77" fill="#e5b2b5"/>
<rect x="375.77" y="104.98" width="18.6" height="0.77" fill="#eecbcd"/>
<rect x="375.77" y="105.72" width="18.6" height="0.77" fill="#f2d8da"/>
<rect x="375.77" y="106.47" width="18.6" height="0.77" fill="#acaed4"/>
<rect x="375.77" y="107.21" width="18.6" height="0.77" fill="#c7c8e2"/>
<rect x="375.77" y="107.96" width="18.6" height="0.77" fill="#ebebf5"/>
<rect x="375.77" y="108.7" width="18.6" height="0.77" fill="#d5d6e9"/>
<rect x="375.77" y="109.45" width="18.6" height="0.77" fill="#babcdb"/>
<rect x="375.77" y="110.19" width="18.6" height="0.77" fill="#b6b8d9"/>
<rect x="375.77" y="110.93" width="18.6" height="0.77" fill="#b6b8d9"/>
<rect x="375.77" y="111.68" width="18.6" height="0.77" fill="#acaed4"/>
<rect x="375.77" y="112.42" width="18.6" height="0.77" fill="#a7a9d2"/>
<rect x="375.77" y="113.17" width="18.6" height="0.77" fill="#b0b2d6"/>
<rect x="375.77" y="113.91" width="18.6" height="0.77" fill="#d7d8ea"/>
<rect x="375.77" y="114.66" width="18.6" height="0.77" fill="#dcdded"/>
<rect x="375.77" y="115.4" width="18.6" height="0.77" fill="#b9badb"/>
<rect x="375.77" y="116.15" width="18.6" height="0.77" fill="#ecedf5"/>
<rect x="375.77" y="116.89" width="18.6" height="0.77" fill="#d0d1e7"/>
<rect x="375.77" y="117.64" width="18.6" height="0.77" fill="#f1d5d6"/>
<rect x="375.77" y="118.38" width="18.6" height="0.77" fill="#d1d2e7"/>
<rect x="375.77" y="119.13" width="18.6" height="0.77" fill="#faf0f1"/>
<rect x="375.77" y="119.87" width="18.6" height="0.77" fill="#f8eaeb"/>
<rect x="375.77" y="120.62" width="18.6" height="0.77" fill="#f7f7fb"/>
<rect x="375.77" y="121.36" width="18.6" height="0.77" fill="#efeff7"/>
<rect x="375.77" y="122.1" width="18.6" height="0.77" fill="#f6f6fa"/>
<rect x="375.77" y="122.85" width="18.6" height="0.77" fill="#f2f2f8"/>
<rect x="375.77" y="123.59" width="18.6" height="0.77" fill="#d8d9eb"/>
<rect x="375.77" y="124.34" width="18.6" height="0.77" fill="#e1e2f0"/>
<rect x="375.77" y="125.08" width="18.6" height="0.77" fill="#adafd5"/>
<rect x="375.77" y="125.83" width="18.6" height="0.77" fill="#b2b4d8"/>
<rect x="375.77" y="126.57" width="18.6" height="0.77" fill="#989aca"/>
<rect x="375.77" y="127.32" width="18.6" height="0.77" fill="#979aca"/>
<rect x="375.77" y="128.06" width="18.6" height="0.77" fill="#9a9dcb"/>
<rect x="375.77" y="128.81" width="18.6" height="0.77" fill="#f5dfe1"/>
<rect x="375.77" y="129.55" width="18.6" height="0.77" fill="#f2f2f8"/>
<rect x="375.77" y="130.3" width="18.6" height="0.77" fill="#ececf5"/>
<rect x="375.77" y="131.04" width="18.6" height="0.77" fill="#fbf3f3"/>
<rect x="375.77" y="131.79" width="18.6" height="0.77" fill="#f1f1f8"/>
<rect x="375.77" y="132.53" width="18.6" height="0.77" fill="#fefdfd"/>
<rect x="375.77" y="133.27" width="18.6" height="0.77" fill="#faefef"/>
<rect x="375.77" y="134.02" width="18.6" height="0.77" fill="#f7e6e7"/>
<rect x="375.77" y="134.76" width="18.6" height="0.77" fill="#f7f7fb"/>
<rect x="375.77" y="135.51" width="18.6" height="0.77" fill="#f5e0e1"/>
<rect x="375.77" y="136.25" width="18.6" height="0.77" fill="#888bc2"/>
<rect x="375.77" y="137" width="18.6" height="0.77" fill="#bcbedd"/>
<rect x="375.77" y="137.74" width="18.6" height="0.77" fill="#8c8fc4"/>
<rect x="375.77" y="138.49" width="18.6" height="0.77" fill="#9396c8"/>
<rect x="375.77" y="139.23" width="18.6" height="0.77" fill="#bec0de"/>
<rect x="375.77" y="139.98" width="18.6" height="0.77" fill="#d1d2e7"/>
<rect x="375.77" y="140.72" width="18.6" height="0.77" fill="#c8c9e3"/>
<rect x="375.77" y="141.47" width="18.6" height="0.77" fill="#d0d1e7"/>
<rect x="375.77" y="142.21" width="18.6" height="0.77" fill="#e5e5f1"/>
<rect x="375.77" y="142.96" width="18.6" height="0.77" fill="#d9daeb"/>
<rect x="375.77" y="143.7" width="18.6" height="0.77" fill="#fefeff"/>
<rect x="375.77" y="144.44" width="18.6" height="0.77" fill="#f8e9ea"/>
<rect x="375.77" y="145.19" width="18.6" height="0.77" fill="#efeff7"/>
<rect x="375.77" y="145.93" width="18.6" height="0.77" fill="#f4f5fa"/>
<rect x="375.77" y="146.68" width="18.6" height="0.77" fill="#f3f3f9"/>
<rect x="375.77" y="147.42" width="18.6" height="0.77" fill="#f2d8d9"/>
<rect x="375.77" y="148.17" width="18.6" height="0.77" fill="#f3dcdd"/>
<rect x="375.77" y="148.91" width="18.6" height="0.77" fill="#f1d5d7"/>
<rect x="375.77" y="149.66" width="18.6" height="0.77" fill="#faf1f2"/>
<rect x="375.77" y="150.4" width="18.6" height="0.77" fill="#fbf4f4"/>
<rect x="375.77" y="151.15" width="18.6" height="0.77" fill="#d17379"/>
<rect x="375.77" y="151.89" width="18.6" height="0.77" fill="#d98d92"/>
<rect x="375.77" y="152.64" width="18.6" height="0.77" fill="#d17379"/>
<rect x="375.77" y="153.38" width="18.6" height="0.77" fill="#d2757b"/>
<rect x="375.77" y="154.13" width="18.6" height="0.77" fill="#db9398"/>
<rect x="375.77" y="154.87" width="18.6" height="0.77" fill="#dc959a"/>
<rect x="375.77" y="155.61" width="18.6" height="0.77" fill="#dc969a"/>
<rect x="375.77" y="156.36" width="18.6" height="0.77" fill="#cf6f75"/>
<rect x="375.77" y="157.1" width="18.6" height="0.77" fill="#c95d64"/>
<rect x="375.77" y="157.85" width="18.6" height="0.77" fill="#dc959a"/>
<rect x="375.77" y="158.59" width="18.6" height="0.77" fill="#df9da1"/>
<rect x="375.77" y="159.34" width="18.6" height="0.77" fill="#eecdcf"/>
<rect x="375.77" y="160.08" width="18.6" height="0.77" fill="#dd999d"/>
<rect x="375.77" y="160.83" width="18.6" height="0.77" fill="#df9da1"/>
<rect x="375.77" y="161.57" width="18.6" height="0.77" fill="#e6b4b7"/>
<rect x="375.77" y="162.32" width="18.6" height="0.77" fill="#d47e84"/>
<rect x="375.77" y="163.06" width="18.6" height="0.77" fill="#e5afb3"/>
<rect x="375.77" y="163.81" width="18.6" height="0.77" fill="#db9398"/>
<rect x="375.77" y="164.55" width="18.6" height="0.77" fill="#d98c91"/>
<rect x="375.77" y="165.3" width="18.6" height="0.77" fill="#e2a9ac"/>
<rect x="375.77" y="166.04" width="18.6" height="0.77" fill="#cd696f"/>
<rect x="375.77" y="166.78" width="18.6" height="0.77" fill="#cc656b"/>
<rect x="375.77" y="167.53" width="18.6" height="0.77" fill="#dd989c"/>
<rect x="375.77" y="168.27" width="18.6" height="0.77" fill="#dd989d"/>
<rect x="375.77" y="169.02" width="18.6" height="0.77" fill="#cf6e74"/>
<rect x="375.77" y="169.76" width="18.6" height="0.77" fill="#df9ea2"/>
<rect x="375.77" y="170.51" width="18.6" height="0.77" fill="#e7b7ba"/>
<rect x="375.77" y="171.25" width="18.6" height="0.77" fill="#e1a3a7"/>
<rect x="375.77" y="172" width="18.6" height="0.77" fill="#df9fa3"/>
<rect x="375.77" y="172.74" width="18.6" height="0.77" fill="#e0a0a4"/>
<rect x="375.77" y="173.49" width="18.6" height="0.77" fill="#d47d83"/>
<rect x="375.77" y="174.23" width="18.6" height="0.77" fill="#d7868c"/>
<rect x="375.77" y="174.98" width="18.6" height="0.77" fill="#ce6970"/>
<rect x="375.77" y="175.72" width="18.6" height="0.77" fill="#d07278"/>
<rect x="375.77" y="176.47" width="18.6" height="0.77" fill="#d58086"/>
<rect x="375.77" y="177.21" width="18.6" height="0.77" fill="#da9095"/>
<rect x="375.77" y="177.95" width="18.6" height="0.77" fill="#d98b90"/>
<rect x="375.77" y="178.7" width="18.6" height="0.77" fill="#dd989d"/>
<rect x="375.77" y="179.44" width="18.6" height="0.77" fill="#eac1c3"/>
<rect x="375.77" y="180.19" width="18.6" height="0.77" fill="#dc9599"/>
<rect x="375.77" y="180.93" width="18.6" height="0.77" fill="#e6b4b7"/>
<rect x="375.77" y="181.68" width="18.6" height="0.77" fill="#dc9498"/>
<rect x="375.77" y="182.42" width="18.6" height="0.77" fill="#e6b4b7"/>
<rect x="375.77" y="183.17" width="18.6" height="0.77" fill="#e3abae"/>
<rect x="375.77" y="183.91" width="18.6" height="0.77" fill="#e4afb2"/>
<rect x="375.77" y="184.66" width="18.6" height="0.77" fill="#ebc3c6"/>
<rect x="375.77" y="185.4" width="18.6" height="0.77" fill="#f6e3e4"/>
<rect x="375.77" y="186.15" width="18.6" height="0.77" fill="#f9eced"/>
<rect x="375.77" y="186.89" width="18.6" height="0.77" fill="#f5e0e1"/>
<rect x="375.77" y="187.64" width="18.6" height="0.77" fill="#faf0f0"/>
<rect x="375.77" y="188.38" width="18.6" height="0.77" fill="#de9a9e"/>
<rect x="375.77" y="189.12" width="18.6" height="0.77" fill="#df9da1"/>
<rect x="375.77" y="189.87" width="18.6" height="0.77" fill="#dd979c"/>
<rect x="375.77" y="190.61" width="18.6" height="0.77" fill="#d1757b"/>
<rect x="375.77" y="191.36" width="18.6" height="0.77" fill="#e1a6a9"/>
<rect x="375.77" y="192.1" width="18.6" height="0.77" fill="#e5e6f2"/>
<rect x="375.77" y="192.85" width="18.6" height="0.77" fill="#e0e1ef"/>
<rect x="375.77" y="193.59" width="18.6" height="0.77" fill="#f4f4f9"/>
<rect x="375.77" y="194.34" width="18.6" height="0.77" fill="#cacbe4"/>
<rect x="375.77" y="195.08" width="18.6" height="0.77" fill="#d5d6e9"/>
<rect x="375.77" y="195.83" width="18.6" height="0.77" fill="#e4e4f1"/>
<rect x="375.77" y="196.57" width="18.6" height="0.77" fill="#f1f1f8"/>
<rect x="375.77" y="197.32" width="18.6" height="0.77" fill="#e4e4f1"/>
<rect x="375.77" y="198.06" width="18.6" height="0.77" fill="#d9daec"/>
<rect x="375.77" y="198.81" width="18.6" height="0.77" fill="#d1d2e7"/>
<rect x="375.77" y="199.55" width="18.6" height="0.77" fill="#ebc3c6"/>
<rect x="375.77" y="200.29" width="18.6" height="0.77" fill="#e5b0b3"/>
<rect x="375.77" y="201.04" width="18.6" height="0.77" fill="#edc7ca"/>
<rect x="375.77" y="201.78" width="18.6" height="0.77" fill="#eecacc"/>
<rect x="375.77" y="202.53" width="18.6" height="0.77" fill="#ecc5c7"/>
<rect x="375.77" y="203.27" width="18.6" height="0.77" fill="#c5c6e1"/>
<rect x="375.77" y="204.02" width="18.6" height="0.77" fill="#d3d4e8"/>
<rect x="375.77" y="204.76" width="18.6" height="0.77" fill="#d4d5e9"/>
<rect x="375.77" y="205.51" width="18.6" height="0.77" fill="#e1e1ef"/>
<rect x="375.77" y="206.25" width="18.6" height="0.77" fill="#d9daec"/>
<rect x="375.77" y="207" width="18.6" height="0.77" fill="#e7b7ba"/>
<rect x="375.77" y="207.74" width="18.6" height="0.77" fill="#d7868b"/>
<rect x="375.77" y="208.49" width="18.6" height="0.77" fill="#d37a7f"/>
<rect x="375.77" y="209.23" width="18.6" height="0.77" fill="#e0a3a7"/>
<rect x="375.77" y="209.98" width="18.6" height="0.77" fill="#dc9599"/>
<rect x="375.77" y="210.72" width="18.6" height="0.77" fill="#d57f85"/>
<rect x="375.77" y="211.46" width="18.6" height="0.77" fill="#d1747a"/>
<rect x="375.77" y="212.21" width="18.6" height="0.77" fill="#e1a4a8"/>
<rect x="375.77" y="212.95" width="18.6" height="0.77" fill="#cb636a"/>
<rect x="375.77" y="213.7" width="18.6" height="0.77" fill="#da8e93"/>
<rect x="375.77" y="214.44" width="18.6" height="0.77" fill="#de9b9f"/>
<rect x="375.77" y="215.19" width="18.6" height="0.77" fill="#e6b4b7"/>
<rect x="375.77" y="215.93" width="18.6" height="0.77" fill="#e9bec1"/>
<rect x="375.77" y="216.68" width="18.6" height="0.77" fill="#e8b9bc"/>
<rect x="375.77" y="217.42" width="18.6" height="0.77" fill="#e1a3a7"/>
<rect x="375.77" y="218.17" width="18.6" height="0.77" fill="#edc8ca"/>
<rect x="375.77" y="218.91" width="18.6" height="0.77" fill="#e9bdc0"/>
<rect x="375.77" y="219.66" width="18.6" height="0.77" fill="#eac0c2"/>
<rect x="375.77" y="220.4" width="18.6" height="0.77" fill="#f3dadb"/>
<rect x="375.77" y="221.15" width="18.6" height="0.77" fill="#de9a9f"/>
<rect x="375.77" y="221.89" width="18.6" height="0.77" fill="#ebc2c5"/>
<rect x="375.77" y="222.63" width="18.6" height="0.77" fill="#efcfd1"/>
<rect x="375.77" y="223.38" width="18.6" height="0.77" fill="#e7b6b9"/>
<rect x="375.77" y="224.12" width="18.6" height="0.77" fill="#f5e2e3"/>
<rect x="375.77" y="224.87" width="18.6" height="0.77" fill="#efd0d2"/>
<rect x="375.77" y="225.61" width="18.6" height="0.77" fill="#f3dbdc"/>
<rect x="375.77" y="226.36" width="18.6" height="0.77" fill="#f8eaeb"/>
<rect x="375.77" y="227.1" width="18.6" height="0.77" fill="#cdcee5"/>
<rect x="375.77" y="227.85" width="18.6" height="0.77" fill="#b4b6d8"/>
<rect x="375.77" y="228.59" width="18.6" height="0.77" fill="#e8e8f3"/>
<rect x="375.77" y="229.34" width="18.6" height="0.77" fill="#f8e9ea"/>
<rect x="375.77" y="230.08" width="18.6" height="0.77" fill="#f4f5fa"/>
<rect x="375.77" y="230.83" width="18.6" height="0.77" fill="#fafafc"/>
<rect x="375.77" y="231.57" width="18.6" height="0.77" fill="#fbf2f3"/>
<rect x="375.77" y="232.32" width="18.6" height="0.77" fill="#ebebf5"/>
<rect x="375.77" y="233.06" width="18.6" height="0.77" fill="#f1d3d5"/>
<rect x="375.77" y="233.8" width="18.6" height="0.77" fill="#edc7ca"/>
<rect x="375.77" y="234.55" width="18.6" height="0.77" fill="#efced0"/>
<rect x="375.77" y="235.29" width="18.6" height="0.77" fill="#efd0d2"/>
<rect x="375.77" y="236.04" width="18.6" height="0.77" fill="#f6e4e6"/>
<rect x="375.77" y="236.78" width="18.6" height="0.77" fill="#fbf4f5"/>
<rect x="375.77" y="237.53" width="18.6" height="0.77" fill="#f5f6fa"/>
<rect x="375.77" y="238.27" width="18.6" height="0.77" fill="#f6e4e5"/>
<rect x="375.77" y="239.02" width="18.6" height="0.77" fill="#edc9cb"/>
<rect x="375.77" y="239.76" width="18.6" height="0.77" fill="#eeeff6"/>
<rect x="375.77" y="240.51" width="18.6" height="0.77" fill="#dedeee"/>
<rect x="375.77" y="241.25" width="18.6" height="0.77" fill="#fdf9f9"/>
<rect x="375.77" y="242" width="18.6" height="0.77" fill="#f8e8e9"/>
<rect x="375.77" y="242.74" width="18.6" height="0.77" fill="#f3dadc"/>
<rect x="375.77" y="243.49" width="18.6" height="0.77" fill="#f3dadb"/>
<rect x="375.77" y="244.23" width="18.6" height="0.77" fill="#fdfdfe"/>
<rect x="375.77" y="244.97" width="18.6" height="0.77" fill="#fdfdfe"/>
<rect x="375.77" y="245.72" width="18.6" height="0.77" fill="#f1d6d8"/>
<rect x="375.77" y="246.46" width="18.6" height="0.77" fill="#f6f6fa"/>
<rect x="375.77" y="247.21" width="18.6" height="0.77" fill="#f3d9db"/>
<rect x="375.77" y="247.95" width="18.6" height="0.77" fill="#e0e0ef"/>
<rect x="375.77" y="248.7" width="18.6" height="0.77" fill="#f6f6fa"/>
<rect x="375.77" y="249.44" width="18.6" height="0.77" fill="#f5f5fa"/>
<rect x="375.77" y="250.19" width="18.6" height="0.77" fill="#f6f6fa"/>
<rect x="375.77" y="250.93" width="18.6" height="0.77" fill="#f7f7fb"/>
<rect x="375.77" y="251.68" width="18.6" height="0.77" fill="#f8f9fc"/>
<rect x="375.77" y="252.42" width="18.6" height="0.77" fill="#f8eaeb"/>
<rect x="375.77" y="253.17" width="18.6" height="0.77" fill="#faf0f1"/>
<rect x="375.77" y="253.91" width="18.6" height="0.77" fill="#f8eaeb"/>
<rect x="375.77" y="254.66" width="18.6" height="0.77" fill="#f2d6d8"/>
<rect x="394.35" y="32" width="18.6" height="0.77" fill="#e1a3a7"/>
<rect x="394.35" y="32.74" width="18.6" height="0.77" fill="#e4acb0"/>
<rect x="394.35" y="33.49" width="18.6" height="0.77" fill="#e4acb0"/>
<rect x="394.35" y="34.23" width="18.6" height="0.77" fill="#e1a4a8"/>
<rect x="394.35" y="34.98" width="18.6" height="0.77" fill="#d98d92"/>
<rect x="394.35" y="35.72" width="18.6" height="0.77" fill="#ecc7c9"/>
<rect x="394.35" y="36.47" width="18.6" height="0.77" fill="#df9da1"/>
<rect x="394.35" y="37.21" width="18.6" height="0.77" fill="#e5b0b3"/>
<rect x="394.35" y="37.96" width="18.6" height="0.77" fill="#e8babd"/>
<rect x="394.35" y="38.7" width="18.6" height="0.77" fill="#f0d2d3"/>
<rect x="394.35" y="39.45" width="18.6" height="0.77" fill="#f5f5fa"/>
<rect x="394.35" y="40.19" width="18.6" height="0.77" fill="#ffffff"/>
<rect x="394.35" y="40.94" width="18.6" height="0.77" fill="#c7c9e2"/>
<rect x="394.35" y="41.68" width="18.6" height="0.77" fill="#fcf5f5"/>
<rect x="394.35" y="42.43" width="18.6" height="0.77" fill="#f8ebec"/>
<rect x="394.35" y="43.17" width="18.6" height="0.77" fill="#d47e83"/>
<rect x="394.35" y="43.91" width="18.6" height="0.77" fill="#d37a80"/>
<rect x="394.35" y="44.66" width="18.6" height="0.77" fill="#c65259"/>
<rect x="394.35" y="45.4" width="18.6" height="0.77" fill="#ce6b71"/>
<rect x="394.35" y="46.15" width="18.6" height="0.77" fill="#dd989c"/>
<rect x="394.35" y="46.89" width="18.6" height="0.77" fill="#efced1"/>
<rect x="394.35" y="47.64" width="18.6" height="0.77" fill="#f0d1d3"/>
<rect x="394.35" y="48.38" width="18.6" height="0.77" fill="#f0d1d3"/>
<rect x="394.35" y="49.13" width="18.6" height="0.77" fill="#fefeff"/>
<rect x="394.35" y="49.87" width="18.6" height="0.77" fill="#eabec1"/>
<rect x="394.35" y="50.62" width="18.6" height="0.77" fill="#ebc3c6"/>
<rect x="394.35" y="51.36" width="18.6" height="0.77" fill="#e6b2b5"/>
<rect x="394.35" y="52.11" width="18.6" height="0.77" fill="#e8b8bb"/>
<rect x="394.35" y="52.85" width="18.6" height="0.77" fill="#e1a3a7"/>
<rect x="394.35" y="53.6" width="18.6" height="0.77" fill="#e9bcbf"/>
<rect x="394.35" y="54.34" width="18.6" height="0.77" fill="#ecc6c9"/>
<rect x="394.35" y="55.08" width="18.6" height="0.77" fill="#e3aaae"/>
<rect x="394.35" y="55.83" width="18.6" height="0.77" fill="#dd989d"/>
<rect x="394.35" y="56.57" width="18.6" height="0.77" fill="#e9bcbf"/>
<rect x="394.35" y="57.32" width="18.6" height="0.77" fill="#dd999d"/>
<rect x="394.35" y="58.06" width="18.6" height="0.77" fill="#f5e1e2"/>
<rect x="394.35" y="58.81" width="18.6" height="0.77" fill="#fbf2f2"/>
<rect x="394.35" y="59.55" width="18.6" height="0.77" fill="#ecc7c9"/>
<rect x="394.35" y="60.3" width="18.6" height="0.77" fill="#fdf8f8"/>
<rect x="394.35" y="61.04" width="18.6" height="0.77" fill="#f0d1d3"/>
<rect x="394.35" y="61.79" width="18.6" height="0.77" fill="#da8f94"/>
<rect x="394.35" y="62.53" width="18.6" height="0.77" fill="#d37b81"/>
<rect x="394.35" y="63.28" width="18.6" height="0.77" fill="#df9fa3"/>
<rect x="394.35" y="64.02" width="18.6" height="0.77" fill="#dc969b"/>
<rect x="394.35" y="64.77" width="18.6" height="0.77" fill="#cf6e75"/>
<rect x="394.35" y="65.51" width="18.6" height="0.77" fill="#dd999e"/>
<rect x="394.35" y="66.25" width="18.6" height="0.77" fill="#de9ca1"/>
<rect x="394.35" y="67" width="18.6" height="0.77" fill="#e2a6aa"/>
<rect x="394.35" y="67.74" width="18.6" height="0.77" fill="#dc9498"/>
<rect x="394.35" y="68.49" width="18.6" height="0.77" fill="#e8babd"/>
<rect x="394.35" y="69.23" width="18.6" height="0.77" fill="#de9ca0"/>
<rect x="394.35" y="69.98" width="18.6" height="0.77" fill="#d8888d"/>
<rect x="394.35" y="70.72" width="18.6" height="0.77" fill="#dc969b"/>
<rect x="394.35" y="71.47" width="18.6" height="0.77" fill="#db9398"/>
<rect x="394.35" y="72.21" width="18.6" height="0.77" fill="#d7868b"/>
<rect x="394.35" y="72.96" width="18.6" height="0.77" fill="#e2e2f0"/>
<rect x="394.35" y="73.7" width="18.6" height="0.77" fill="#e0e0ef"/>
<rect x="394.35" y="74.45" width="18.6" height="0.77" fill="#fcf5f5"/>
<rect x="394.35" y="75.19" width="18.6" height="0.77" fill="#fbfcfd"/>
<rect x="394.35" y="75.94" width="18.6" height="0.77" fill="#fffefe"/>
<rect x="394.35" y="76.68" width="18.6" height="0.77" fill="#afb1d6"/>
<rect x="394.35" y="77.42" width="18.6" height="0.77" fill="#a5a7d1"/>
<rect x="394.35" y="78.17" width="18.6" height="0.77" fill="#8f92c5"/>
<rect x="394.35" y="78.91" width="18.6" height="0.77" fill="#a8aad2"/>
<rect x="394.35" y="79.66" width="18.6" height="0.77" fill="#8184be"/>
<rect x="394.35" y="80.4" width="18.6" height="0.77" fill="#bdbfdd"/>
<rect x="394.35" y="81.15" width="18.6" height="0.77" fill="#dcdced"/>
<rect x="394.35" y="81.89" width="18.6" height="0.77" fill="#efeff7"/>
<rect x="394.35" y="82.64" width="18.6" height="0.77" fill="#e0e1ef"/>
<rect x="394.35" y="83.38" width="18.6" height="0.77" fill="#b7b9da"/>
<rect x="394.35" y="84.13" width="18.6" height="0.77" fill="#fcf5f5"/>
<rect x="394.35" y="84.87" width="18.6" height="0.77" fill="#edeef6"/>
<rect x="394.35" y="85.62" width="18.6" height="0.77" fill="#f9eeee"/>
<rect x="394.35" y="86.36" width="18.6" height="0.77" fill="#fcfdfe"/>
<rect x="394.35" y="87.11" width="18.6" height="0.77" fill="#f9edee"/>
<rect x="394.35" y="87.85" width="18.6" height="0.77" fill="#fdfafa"/>
<rect x="394.35" y="88.59" width="18.6" height="0.77" fill="#dfe0ef"/>
<rect x="394.35" y="89.34" width="18.6" height="0.77" fill="#ffffff"/>
<rect x="394.35" y="90.08" width="18.6" height="0.77" fill="#cecfe6"/>
<rect x="394.35" y="90.83" width="18.6" height="0.77" fill="#c3c4e0"/>
<rect x="394.35" y="91.57" width="18.6" height="0.77" fill="#e8e9f3"/>
<rect x="394.35" y="92.32" width="18.6" height="0.77" fill="#f1f2f8"/>
<rect x="394.35" y="93.06" width="18.6" height="0.77" fill="#bebfdd"/>
<rect x="394.35" y="93.81" width="18.6" height="0.77" fill="#cccde5"/>
<rect x="394.35" y="94.55" width="18.6" height="0.77" fill="#aaacd3"/>
<rect x="394.35" y="95.3" width="18.6" height="0.77" fill="#c6c7e2"/>
<rect x="394.35" y="96.04" width="18.6" height="0.77" fill="#dedfee"/>
<rect x="394.35" y="96.79" width="18.6" height="0.77" fill="#c8cae3"/>
<rect x="394.35" y="97.53" width="18.6" height="0.77" fill="#bdbfdd"/>
<rect x="394.35" y="98.28" width="18.6" height="0.77" fill="#abadd4"/>
<rect x="394.35" y="99.02" width="18.6" height="0.77" fill="#b8badb"/>
<rect x="394.35" y="99.76" width="18.6" height="0.77" fill="#c2c3e0"/>
<rect x="394.35" y="100.51" width="18.6" height="0.77" fill="#bdbfdd"/>
<rect x="394.35" y="101.25" width="18.6" height="0.77" fill="#b6b7d9"/>
<rect x="394.35" y="102" width="18.6" height="0.77" fill="#9396c8"/>
<rect x="394.35" y="102.74" width="18.6" height="0.77" fill="#bdbfdd"/>
<rect x="394.35" y="103.49" width="18.6" height="0.77" fill="#9497c8"/>
<rect x="394.35" y="104.23" width="18.6" height="0.77" fill="#9295c7"/>
<rect x="394.35" y="104.98" width="18.6" height="0.77" fill="#a6a8d1"/>
<rect x="394.35" y="105.72" width="18.6" height="0.77" fill="#6568b0"/>
<rect x="394.35" y="106.47" width="18.6" height="0.77" fill="#aeb0d6"/>
<rect x="394.35" y="107.21" width="18.6" height="0.77" fill="#adafd5"/>
<rect x="394.35" y="107.96" width="18.6" height="0.77" fill="#b8badb"/>
<rect x="394.35" y="108.7" width="18.6" height="0.77" fill="#ced0e6"/>
<rect x="394.35" y="109.45" width="18.6" height="0.77" fill="#bbbcdc"/>
<rect x="394.35" y="110.19" width="18.6" height="0.77" fill="#5256a6"/>
<rect x="394.35" y="110.93" width="18.6" height="0.77" fill="#7477b7"/>
<rect x="394.35" y="111.68" width="18.6" height="0.77" fill="#8083be"/>
<rect x="394.35" y="112.42" width="18.6" height="0.77" fill="#7f82bd"/>
<rect x="394.35" y="113.17" width="18.6" height="0.77" fill="#5e62ac"/>
<rect x="394.35" y="113.91" width="18.6" height="0.77" fill="#bfc1de"/>
<rect x="394.35" y="114.66" width="18.6" height="0.77" fill="#f1f1f8"/>
<rect x="394.35" y="115.4" width="18.6" height="0.77" fill="#ecedf5"/>
<rect x="394.35" y="116.15" width="18.6" height="0.77" fill="#e4e5f1"/>
<rect x="394.35" y="116.89" width="18.6" height="0.77" fill="#bebfdd"/>
<rect x="394.35" y="117.64" width="18.6" height="0.77" fill="#f2f3f9"/>
<rect x="394.35" y="118.38" width="18.6" height="0.77" fill="#898cc2"/>
<rect x="394.35" y="119.13" width="18.6" height="0.77" fill="#c2c4e0"/>
<rect x="394.35" y="119.87" width="18.6" height="0.77" fill="#fafafc"/>
<rect x="394.35" y="120.62" width="18.6" height="0.77" fill="#c7c8e2"/>
<rect x="394.35" y="121.36" width="18.6" height="0.77" fill="#fdfafa"/>
<rect x="394.35" y="122.1" width="18.6" height="0.77" fill="#e4e5f1"/>
<rect x="394.35" y="122.85" width="18.6" height="0.77" fill="#f6e3e4"/>
<rect x="394.35" y="123.59" width="18.6" height="0.77" fill="#e2e2f0"/>
<rect x="394.35" y="124.34" width="18.6" height="0.77" fill="#fdfafa"/>
<rect x="394.35" y="125.08" width="18.6" height="0.77" fill="#b3b5d8"/>
<rect x="394.35" y="125.83" width="18.6" height="0.77" fill="#989bca"/>
<rect x="394.35" y="126.57" width="18.6" height="0.77" fill="#c4c5e1"/>
<rect x="394.35" y="127.32" width="18.6" height="0.77" fill="#9093c6"/>
<rect x="394.35" y="128.06" width="18.6" height="0.77" fill="#a0a3ce"/>
<rect x="394.35" y="128.81" width="18.6" height="0.77" fill="#d9daec"/>
<rect x="394.35" y="129.55" width="18.6" height="0.77" fill="#d1d2e7"/>
<rect x="394.35" y="130.3" width="18.6" height="0.77" fill="#e5e5f1"/>
<rect x="394.35" y="131.04" width="18.6" height="0.77" fill="#efeff7"/>
<rect x="394.35" y="131.79" width="18.6" height="0.77" fill="#d3d5e9"/>
<rect x="394.35" y="132.53" width="18.6" height="0.77" fill="#bec0de"/>
<rect x="394.35" y="133.27" width="18.6" height="0.77" fill="#bfc0de"/>
<rect x="394.35" y="134.02" width="18.6" height="0.77" fill="#c2c3e0"/>
<rect x="394.35" y="134.76" width="18.6" height="0.77" fill="#dddded"/>
<rect x="394.35" y="135.51" width="18.6" height="0.77" fill="#c5c7e1"/>
<rect x="394.35" y="136.25" width="18.6" height="0.77" fill="#fcf6f7"/>
<rect x="394.35" y="137" width="18.6" height="0.77" fill="#fdfdfe"/>
<rect x="394.35" y="137.74" width="18.6" height="0.77" fill="#ececf5"/>
<rect x="394.35" y="138.49" width="18.6" height="0.77" fill="#f9edee"/>
<rect x="394.35" y="139.23" width="18.6" height="0.77" fill="#e8e8f3"/>
<rect x="394.35" y="139.98" width="18.6" height="0.77" fill="#faf0f1"/>
<rect x="394.35" y="140.72" width="18.6" height="0.77" fill="#f0d1d3"/>
<rect x="394.35" y="141.47" width="18.6" height="0.77" fill="#f6f6fa"/>
<rect x="394.35" y="142.21" width="18.6" height="0.77" fill="#fbf1f2"/>
<rect x="394.35" y="142.96" width="18.6" height="0.77" fill="#ebebf5"/>
<rect x="394.35" y="143.7" width="18.6" height="0.77" fill="#fefbfb"/>
<rect x="394.35" y="144.44" width="18.6" height="0.77" fill="#ededf6"/>
<rect x="394.35" y="145.19" width="18.6" height="0.77" fill="#fdf8f8"/>
<rect x="394.35" y="145.93" width="18.6" height="0.77" fill="#fefcfc"/>
<rect x="394.35" y="146.68" width="18.6" height="0.77" fill="#f9eeee"/>
<rect x="394.35" y="147.42" width="18.6" height="0.77" fill="#f4dedf"/>
<rect x="394.35" y="148.17" width="18.6" height="0.77" fill="#fdf9f9"/>
<rect x="394.35" y="148.91" width="18.6" height="0.77" fill="#faf1f2"/>
<rect x="394.35" y="149.66" width="18.6" height="0.77" fill="#fefefe"/>
<rect x="394.35" y="150.4" width="18.6" height="0.77" fill="#f9fafc"/>
<rect x="394.35" y="151.15" width="18.6" height="0.77" fill="#d2d3e8"/>
<rect x="394.35" y="151.89" width="18.6" height="0.77" fill="#bcbedd"/>
<rect x="394.35" y="152.64" width="18.6" height="0.77" fill="#e6e7f2"/>
<rect x="394.35" y="153.38" width="18.6" height="0.77" fill="#fcf5f6"/>
<rect x="394.35" y="154.13" width="18.6" height="0.77" fill="#eff0f7"/>
<rect x="394.35" y="154.87" width="18.6" height="0.77" fill="#f3f3f9"/>
<rect x="394.35" y="155.61" width="18.6" height="0.77" fill="#f4dcde"/>
<rect x="394.35" y="156.36" width="18.6" height="0.77" fill="#f5f5fa"/>
<rect x="394.35" y="157.1" width="18.6" height="0.77" fill="#f1f1f8"/>
<rect x="394.35" y="157.85" width="18.6" height="0.77" fill="#e4e4f1"/>
<rect x="394.35" y="158.59" width="18.6" height="0.77" fill="#e5b1b5"/>
<rect x="394.35" y="159.34" width="18.6" height="0.77" fill="#e0a2a6"/>
<rect x="394.35" y="160.08" width="18.6" height="0.77" fill="#d17379"/>
<rect x="394.35" y="160.83" width="18.6" height="0.77" fill="#e0a1a5"/>
<rect x="394.35" y="161.57" width="18.6" height="0.77" fill="#e6b3b6"/>
<rect x="394.35" y="162.32" width="18.6" height="0.77" fill="#ce6a71"/>
<rect x="394.35" y="163.06" width="18.6" height="0.77" fill="#cb6269"/>
<rect x="394.35" y="163.81" width="18.6" height="0.77" fill="#d68187"/>
<rect x="394.35" y="164.55" width="18.6" height="0.77" fill="#c95b62"/>
<rect x="394.35" y="165.3" width="18.6" height="0.77" fill="#c54f56"/>
<rect x="394.35" y="166.04" width="18.6" height="0.77" fill="#cc656c"/>
<rect x="394.35" y="166.78" width="18.6" height="0.77" fill="#ca6066"/>
<rect x="394.35" y="167.53" width="18.6" height="0.77" fill="#d7878c"/>
<rect x="394.35" y="168.27" width="18.6" height="0.77" fill="#da9095"/>
<rect x="394.35" y="169.02" width="18.6" height="0.77" fill="#c65159"/>
<rect x="394.35" y="169.76" width="18.6" height="0.77" fill="#c7555d"/>
<rect x="394.35" y="170.51" width="18.6" height="0.77" fill="#d98d91"/>
<rect x="394.35" y="171.25" width="18.6" height="0.77" fill="#cd686e"/>
<rect x="394.35" y="172" width="18.6" height="0.77" fill="#ce6c72"/>
<rect x="394.35" y="172.74" width="18.6" height="0.77" fill="#cb6168"/>
<rect x="394.35" y="173.49" width="18.6" height="0.77" fill="#d58086"/>
<rect x="394.35" y="174.23" width="18.6" height="0.77" fill="#da8f94"/>
<rect x="394.35" y="174.98" width="18.6" height="0.77" fill="#d58186"/>
<rect x="394.35" y="175.72" width="18.6" height="0.77" fill="#d58187"/>
<rect x="394.35" y="176.47" width="18.6" height="0.77" fill="#d7868b"/>
<rect x="394.35" y="177.21" width="18.6" height="0.77" fill="#f4dcde"/>
<rect x="394.35" y="177.95" width="18.6" height="0.77" fill="#fcf4f5"/>
<rect x="394.35" y="178.7" width="18.6" height="0.77" fill="#ecc6c9"/>
<rect x="394.35" y="179.44" width="18.6" height="0.77" fill="#f2d8da"/>
<rect x="394.35" y="180.19" width="18.6" height="0.77" fill="#e5b0b4"/>
<rect x="394.35" y="180.93" width="18.6" height="0.77" fill="#e2a7aa"/>
<rect x="394.35" y="181.68" width="18.6" height="0.77" fill="#e5b0b3"/>
<rect x="394.35" y="182.42" width="18.6" height="0.77" fill="#e9bdc0"/>
<rect x="394.35" y="183.17" width="18.6" height="0.77" fill="#e6b4b7"/>
<rect x="394.35" y="183.91" width="18.6" height="0.77" fill="#df9da1"/>
<rect x="394.35" y="184.66" width="18.6" height="0.77" fill="#e4acb0"/>
<rect x="394.35" y="185.4" width="18.6" height="0.77" fill="#d88a8f"/>
<rect x="394.35" y="186.15" width="18.6" height="0.77" fill="#da8e93"/>
<rect x="394.35" y="186.89" width="18.6" height="0.77" fill="#dd989c"/>
<rect x="394.35" y="187.64" width="18.6" height="0.77" fill="#d57f84"/>
<rect x="394.35" y="188.38" width="18.6" height="0.77" fill="#babcdc"/>
<rect x="394.35" y="189.12" width="18.6" height="0.77" fill="#e0e0ef"/>
<rect x="394.35" y="189.87" width="18.6" height="0.77" fill="#b5b7d9"/>
<rect x="394.35" y="190.61" width="18.6" height="0.77" fill="#b9bbdb"/>
<rect x="394.35" y="191.36" width="18.6" height="0.77" fill="#b2b4d8"/>
<rect x="394.35" y="192.1" width="18.6" height="0.77" fill="#efeff7"/>
<rect x="394.35" y="192.85" width="18.6" height="0.77" fill="#cfd1e7"/>
<rect x="394.35" y="193.59" width="18.6" height="0.77" fill="#e6e6f2"/>
<rect x="394.35" y="194.34" width="18.6" height="0.77" fill="#cbcce4"/>
<rect x="394.35" y="195.08" width="18.6" height="0.77" fill="#fdfdfe"/>
<rect x="394.35" y="195.83" width="18.6" height="0.77" fill="#d2777c"/>
<rect x="394.35" y="196.57" width="18.6" height="0.77" fill="#dd989d"/>
<rect x="394.35" y="197.32" width="18.6" height="0.77" fill="#d37b80"/>
<rect x="394.35" y="198.06" width="18.6" height="0.77" fill="#db9196"/>
<rect x="394.35" y="198.81" width="18.6" height="0.77" fill="#d07076"/>
<rect x="394.35" y="199.55" width="18.6" height="0.77" fill="#e6b4b7"/>
<rect x="394.35" y="200.29" width="18.6" height="0.77" fill="#f2d7d8"/>
<rect x="394.35" y="201.04" width="18.6" height="0.77" fill="#dc969b"/>
<rect x="394.35" y="201.78" width="18.6" height="0.77" fill="#e8b8bb"/>
<rect x="394.35" y="202.53" width="18.6" height="0.77" fill="#eecbce"/>
<rect x="394.35" y="203.27" width="18.6" height="0.77" fill="#db9297"/>
<rect x="394.35" y="204.02" width="18.6" height="0.77" fill="#e2a7ab"/>
<rect x="394.35" y="204.76" width="18.6" height="0.77" fill="#d8888d"/>
<rect x="394.35" y="205.51" width="18.6" height="0.77" fill="#de9b9f"/>
<rect x="394.35" y="206.25" width="18.6" height="0.77" fill="#cc666c"/>
<rect x="394.35" y="207" width="18.6" height="0.77" fill="#e2a8ab"/>
<rect x="394.35" y="207.74" width="18.6" height="0.77" fill="#f2d8da"/>
<rect x="394.35" y="208.49" width="18.6" height="0.77" fill="#f1d5d7"/>
<rect x="394.35" y="209.23" width="18.6" height="0.77" fill="#ebc1c4"/>
<rect x="394.35" y="209.98" width="18.6" height="0.77" fill="#f4dedf"/>
<rect x="394.35" y="210.72" width="18.6" height="0.77" fill="#d8d9eb"/>
<rect x="394.35" y="211.46" width="18.6" height="0.77" fill="#d9daec"/>
<rect x="394.35" y="212.21" width="18.6" height="0.77" fill="#c9cae3"/>
<rect x="394.35" y="212.95" width="18.6" height="0.77" fill="#cecfe6"/>
<rect x="394.35" y="213.7" width="18.6" height="0.77" fill="#e5e6f2"/>
<rect x="394.35" y="214.44" width="18.6" height="0.77" fill="#f0d3d4"/>
<rect x="394.35" y="215.19" width="18.6" height="0.77" fill="#f0d1d3"/>
<rect x="394.35" y="215.93" width="18.6" height="0.77" fill="#faf0f0"/>
<rect x="394.35" y="216.68" width="18.6" height="0.77" fill="#f4dee0"/>
<rect x="394.35" y="217.42" width="18.6" height="0.77" fill="#fefeff"/>
<rect x="394.35" y="218.17" width="18.6" height="0.77" fill="#efcfd1"/>
<rect x="394.35" y="218.91" width="18.6" height="0.77" fill="#f9eced"/>
<rect x="394.35" y="219.66" width="18.6" height="0.77" fill="#edc9cb"/>
<rect x="394.35" y="220.4" width="18.6" height="0.77" fill="#fbf2f2"/>
<rect x="394.35" y="221.15" width="18.6" height="0.77" fill="#f9eced"/>
<rect x="394.35" y="221.89" width="18.6" height="0.77" fill="#f7e7e8"/>
<rect x="394.35" y="222.63" width="18.6" height="0.77" fill="#f3dbdc"/>
<rect x="394.35" y="223.38" width="18.6" height="0.77" fill="#f9f9fc"/>
<rect x="394.35" y="224.12" width="18.6" height="0.77" fill="#fbf2f2"/>
<rect x="394.35" y="224.87" width="18.6" height="0.77" fill="#f6e4e5"/>
<rect x="394.35" y="225.61" width="18.6" height="0.77" fill="#f4f5fa"/>
<rect x="394.35" y="226.36" width="18.6" height="0.77" fill="#dcdded"/>
<rect x="394.35" y="227.1" width="18.6" height="0.77" fill="#f1f2f8"/>
<rect x="394.35" y="227.85" width="18.6" height="0.77" fill="#e9eaf4"/>
<rect x="394.35" y="228.59" width="18.6" height="0.77" fill="#faf0f1"/>
<rect x="394.35" y="229.34" width="18.6" height="0.77" fill="#fbf3f4"/>
<rect x="394.35" y="230.08" width="18.6" height="0.77" fill="#e1e2f0"/>
<rect x="394.35" y="230.83" width="18.6" height="0.77" fill="#cdcee5"/>
<rect x="394.35" y="231.57" width="18.6" height="0.77" fill="#fefdfd"/>
<rect x="394.35" y="232.32" width="18.6" height="0.77" fill="#f7e6e7"/>
<rect x="394.35" y="233.06" width="18.6" height="0.77" fill="#e9e9f3"/>
<rect x="394.35" y="233.8" width="18.6" height="0.77" fill="#f9f9fc"/>
<rect x="394.35" y="234.55" width="18.6" height="0.77" fill="#dadbec"/>
<rect x="394.35" y="235.29" width="18.6" height="0.77" fill="#c6c7e2"/>
<rect x="394.35" y="236.04" width="18.6" height="0.77" fill="#f6f6fa"/>
<rect x="394.35" y="236.78" width="18.6" height="0.77" fill="#f6e4e6"/>
<rect x="394.35" y="237.53" width="18.6" height="0.77" fill="#f2d8da"/>
<rect x="394.35" y="238.27" width="18.6" height="0.77" fill="#fafafd"/>
<rect x="394.35" y="239.02" width="18.6" height="0.77" fill="#f6e3e4"/>
<rect x="394.35" y="239.76" width="18.6" height="0.77" fill="#fbf4f4"/>
<rect x="394.35" y="240.51" width="18.6" height="0.77" fill="#f9eeef"/>
<rect x="394.35" y="241.25" width="18.6" height="0.77" fill="#f2f2f8"/>
<rect x="394.35" y="242" width="18.6" height="0.77" fill="#f1f2f8"/>
<rect x="394.35" y="242.74" width="18.6" height="0.77" fill="#f2f2f8"/>
<rect x="394.35" y="243.49" width="18.6" height="0.77" fill="#f6e4e6"/>
<rect x="394.35" y="244.23" width="18.6" height="0.77" fill="#dbdcec"/>
<rect x="394.35" y="244.97" width="18.6" height="0.77" fill="#c9cae3"/>
<rect x="394.35" y="245.72" width="18.6" height="0.77" fill="#c3c4e0"/>
<rect x="394.35" y="246.46" width="18.6" height="0.77" fill="#c3c4e0"/>
<rect x="394.35" y="247.21" width="18.6" height="0.77" fill="#fbfbfd"/>
<rect x="394.35" y="247.95" width="18.6" height="0.77" fill="#a1a4cf"/>
<rect x="394.35" y="248.7" width="18.6" height="0.77" fill="#b7b9da"/>
<rect x="394.35" y="249.44" width="18.6" height="0.77" fill="#d9daeb"/>
<rect x="394.35" y="250.19" width="18.6" height="0.77" fill="#e5e6f2"/>
<rect x="394.35" y="250.93" width="18.6" height="0.77" fill="#c7c8e2"/>
<rect x="394.35" y="251.68" width="18.6" height="0.77" fill="#c2c3df"/>
<rect x="394.35" y="252.42" width="18.6" height="0.77" fill="#c1c3df"/>
<rect x="394.35" y="253.17" width="18.6" height="0.77" fill="#c6c8e2"/>
<rect x="394.35" y="253.91" width="18.6" height="0.77" fill="#b1b3d7"/>
<rect x="394.35" y="254.66" width="18.6" height="0.77" fill="#d5d6ea"/>
<rect x="412.93" y="32" width="18.6" height="0.77" fill="#eaeaf4"/>
<rect x="412.93" y="32.74" width="18.6" height="0.77" fill="#fcf7f7"/>
<rect x="412.93" y="33.49" width="18.6" height="0.77" fill="#cccde5"/>
<rect x="412.93" y="34.23" width="18.6" height="0.77" fill="#fafafd"/>
<rect x="412.93" y="34.98" width="18.6" height="0.77" fill="#c9cae3"/>
<rect x="412.93" y="35.72" width="18.6" height="0.77" fill="#f1d5d6"/>
<rect x="412.93" y="36.47" width="18.6" height="0.77" fill="#e3abae"/>
<rect x="412.93" y="37.21" width="18.6" height="0.77" fill="#ecc6c9"/>
<rect x="412.93" y="37.96" width="18.6" height="0.77" fill="#e3acaf"/>
<rect x="412.93" y="38.7" width="18.6" height="0.77" fill="#eecbce"/>
<rect x="412.93" y="39.45" width="18.6" height="0.77" fill="#e3acaf"/>
<rect x="412.93" y="40.19" width="18.6" height="0.77" fill="#efcdcf"/>
<rect x="412.93" y="40.94" width="18.6" height="0.77" fill="#f6e5e6"/>
<rect x="412.93" y="41.68" width="18.6" height="0.77" fill="#edcacc"/>
<rect x="412.93" y="42.43" width="18.6" height="0.77" fill="#e8bbbe"/>
<rect x="412.93" y="43.17" width="18.6" height="0.77" fill="#ecc5c7"/>
<rect x="412.93" y="43.91" width="18.6" height="0.77" fill="#e3aaad"/>
<rect x="412.93" y="44.66" width="18.6" height="0.77" fill="#d88a8f"/>
<rect x="412.93" y="45.4" width="18.6" height="0.77" fill="#e0a2a6"/>
<rect x="412.93" y="46.15" width="18.6" height="0.77" fill="#e6b5b8"/>
<rect x="412.93" y="46.89" width="18.6" height="0.77" fill="#fbf1f2"/>
<rect x="412.93" y="47.64" width="18.6" height="0.77" fill="#f3d9db"/>
<rect x="412.93" y="48.38" width="18.6" height="0.77" fill="#f8f8fc"/>
<rect x="412.93" y="49.13" width="18.6" height="0.77" fill="#d6d7ea"/>
<rect x="412.93" y="49.87" width="18.6" height="0.77" fill="#fbf3f4"/>
<rect x="412.93" y="50.62" width="18.6" height="0.77" fill="#f8f8fb"/>
<rect x="412.93" y="51.36" width="18.6" height="0.77" fill="#eecbcd"/>
<rect x="412.93" y="52.11" width="18.6" height="0.77" fill="#f9eced"/>
<rect x="412.93" y="52.85" width="18.6" height="0.77" fill="#fafafc"/>
<rect x="412.93" y="53.6" width="18.6" height="0.77" fill="#f6f6fa"/>
<rect x="412.93" y="54.34" width="18.6" height="0.77" fill="#ebc2c5"/>
<rect x="412.93" y="55.08" width="18.6" height="0.77" fill="#f4dee0"/>
<rect x="412.93" y="55.83" width="18.6" height="0.77" fill="#f2d9db"/>
<rect x="412.93" y="56.57" width="18.6" height="0.77" fill="#efcfd1"/>
<rect x="412.93" y="57.32" width="18.6" height="0.77" fill="#eecbcd"/>
<rect x="412.93" y="58.06" width="18.6" height="0.77" fill="#e6b2b6"/>
<rect x="412.93" y="58.81" width="18.6" height="0.77" fill="#e6b2b5"/>
<rect x="412.93" y="59.55" width="18.6" height="0.77" fill="#dd999d"/>
<rect x="412.93" y="60.3" width="18.6" height="0.77" fill="#da9195"/>
<rect x="412.93" y="61.04" width="18.6" height="0.77" fill="#f2d7d9"/>
<rect x="412.93" y="61.79" width="18.6" height="0.77" fill="#dc979b"/>
<rect x="412.93" y="62.53" width="18.6" height="0.77" fill="#edcacc"/>
<rect x="412.93" y="63.28" width="18.6" height="0.77" fill="#e6b2b6"/>
<rect x="412.93" y="64.02" width="18.6" height="0.77" fill="#f3dcde"/>
<rect x="412.93" y="64.77" width="18.6" height="0.77" fill="#ecc6c8"/>
<rect x="412.93" y="65.51" width="18.6" height="0.77" fill="#edc8ca"/>
<rect x="412.93" y="66.25" width="18.6" height="0.77" fill="#eecacc"/>
<rect x="412.93" y="67" width="18.6" height="0.77" fill="#e8bbbe"/>
<rect x="412.93" y="67.74" width="18.6" height="0.77" fill="#eabfc2"/>
<rect x="412.93" y="68.49" width="18.6" height="0.77" fill="#f5e2e3"/>
<rect x="412.93" y="69.23" width="18.6" height="0.77" fill="#e7b7ba"/>
<rect x="412.93" y="69.98" width="18.6" height="0.77" fill="#e1a5a9"/>
<rect x="412.93" y="70.72" width="18.6" height="0.77" fill="#e1a6a9"/>
<rect x="412.93" y="71.47" width="18.6" height="0.77" fill="#e9bbbe"/>
<rect x="412.93" y="72.21" width="18.6" height="0.77" fill="#e8babd"/>
<rect x="412.93" y="72.96" width="18.6" height="0.77" fill="#d7868c"/>
<rect x="412.93" y="73.7" width="18.6" height="0.77" fill="#de9a9f"/>
<rect x="412.93" y="74.45" width="18.6" height="0.77" fill="#df9ea2"/>
<rect x="412.93" y="75.19" width="18.6" height="0.77" fill="#cb6269"/>
<rect x="412.93" y="75.94" width="18.6" height="0.77" fill="#d98b90"/>
<rect x="412.93" y="76.68" width="18.6" height="0.77" fill="#eecacd"/>
<rect x="412.93" y="77.42" width="18.6" height="0.77" fill="#f3dcde"/>
<rect x="412.93" y="78.17" width="18.6" height="0.77" fill="#e5b1b5"/>
<rect x="412.93" y="78.91" width="18.6" height="0.77" fill="#e2a8ab"/>
<rect x="412.93" y="79.66" width="18.6" height="0.77" fill="#f0d1d3"/>
<rect x="412.93" y="80.4" width="18.6" height="0.77" fill="#fbf3f3"/>
<rect x="412.93" y="81.15" width="18.6" height="0.77" fill="#f0f0f7"/>
<rect x="412.93" y="81.89" width="18.6" height="0.77" fill="#f2d8da"/>
<rect x="412.93" y="82.64" width="18.6" height="0.77" fill="#f8eaeb"/>
<rect x="412.93" y="83.38" width="18.6" height="0.77" fill="#eeeef6"/>
<rect x="412.93" y="84.13" width="18.6" height="0.77" fill="#f6e3e4"/>
<rect x="412.93" y="84.87" width="18.6" height="0.77" fill="#fcf6f6"/>
<rect x="412.93" y="85.62" width="18.6" height="0.77" fill="#fcf5f5"/>
<rect x="412.93" y="86.36" width="18.6" height="0.77" fill="#fcf6f6"/>
<rect x="412.93" y="87.11" width="18.6" height="0.77" fill="#f2f2f8"/>
<rect x="412.93" y="87.85" width="18.6" height="0.77" fill="#faf0f1"/>
<rect x="412.93" y="88.59" width="18.6" height="0.77" fill="#f2d8da"/>
<rect x="412.93" y="89.34" width="18.6" height="0.77" fill="#f7e6e7"/>
<rect x="412.93" y="90.08" width="18.6" height="0.77" fill="#fdf9f9"/>
<rect x="412.93" y="90.83" width="18.6" height="0.77" fill="#e8babd"/>
<rect x="412.93" y="91.57" width="18.6" height="0.77" fill="#fcfcfd"/>
<rect x="412.93" y="92.32" width="18.6" height="0.77" fill="#f4f4f9"/>
<rect x="412.93" y="93.06" width="18.6" height="0.77" fill="#f1f1f8"/>
<rect x="412.93" y="93.81" width="18.6" height="0.77" fill="#faeff0"/>
<rect x="412.93" y="94.55" width="18.6" height="0.77" fill="#f8e9ea"/>
<rect x="412.93" y="95.3" width="18.6" height="0.77" fill="#edc7ca"/>
<rect x="412.93" y="96.04" width="18.6" height="0.77" fill="#e8babd"/>
<rect x="412.93" y="96.79" width="18.6" height="0.77" fill="#f9eced"/>
<rect x="412.93" y="97.53" width="18.6" height="0.77" fill="#f1d4d6"/>
<rect x="412.93" y="98.28" width="18.6" height="0.77" fill="#f2d7d8"/>
<rect x="412.93" y="99.02" width="18.6" height="0.77" fill="#e6b4b7"/>
<rect x="412.93" y="99.76" width="18.6" height="0.77" fill="#e3aaae"/>
<rect x="412.93" y="100.51" width="18.6" height="0.77" fill="#f4dfe0"/>
<rect x="412.93" y="101.25" width="18.6" height="0.77" fill="#d17379"/>
<rect x="412.93" y="102" width="18.6" height="0.77" fill="#ecc6c9"/>
<rect x="412.93" y="102.74" width="18.6" height="0.77" fill="#ecc6c8"/>
<rect x="412.93" y="103.49" width="18.6" height="0.77" fill="#e9bbbe"/>
<rect x="412.93" y="104.23" width="18.6" height="0.77" fill="#e9bbbe"/>
<rect x="412.93" y="104.98" width="18.6" height="0.77" fill="#edc8ca"/>
<rect x="412.93" y="105.72" width="18.6" height="0.77" fill="#f3f4f9"/>
<rect x="412.93" y="106.47" width="18.6" height="0.77" fill="#b3b5d8"/>
<rect x="412.93" y="107.21" width="18.6" height="0.77" fill="#dddeed"/>
<rect x="412.93" y="107.96" width="18.6" height="0.77" fill="#b7b8da"/>
<rect x="412.93" y="108.7" width="18.6" height="0.77" fill="#b4b5d8"/>
<rect x="412.93" y="109.45" width="18.6" height="0.77" fill="#9699c9"/>
<rect x="412.93" y="110.19" width="18.6" height="0.77" fill="#f6e4e6"/>
<rect x="412.93" y="110.93" width="18.6" height="0.77" fill="#fbf3f4"/>
<rect x="412.93" y="111.68" width="18.6" height="0.77" fill="#ececf5"/>
<rect x="412.93" y="112.42" width="18.6" height="0.77" fill="#fdfdfe"/>
<rect x="412.93" y="113.17" width="18.6" height="0.77" fill="#fefefe"/>
<rect x="412.93" y="113.91" width="18.6" height="0.77" fill="#faeeef"/>
<rect x="412.93" y="114.66" width="18.6" height="0.77" fill="#f4ddde"/>
<rect x="412.93" y="115.4" width="18.6" height="0.77" fill="#f0d2d4"/>
<rect x="412.93" y="116.15" width="18.6" height="0.77" fill="#eeccce"/>
<rect x="412.93" y="116.89" width="18.6" height="0.77" fill="#e9bdc0"/>
<rect x="412.93" y="117.64" width="18.6" height="0.77" fill="#f7e5e6"/>
<rect x="412.93" y="118.38" width="18.6" height="0.77" fill="#faf0f0"/>
<rect x="412.93" y="119.13" width="18.6" height="0.77" fill="#f4dedf"/>
<rect x="412.93" y="119.87" width="18.6" height="0.77" fill="#fbf3f4"/>
<rect x="412.93" y="120.62" width="18.6" height="0.77" fill="#fefefe"/>
<rect x="412.93" y="121.36" width="18.6" height="0.77" fill="#eabfc2"/>
<rect x="412.93" y="122.1" width="18.6" height="0.77" fill="#f5dfe1"/>
<rect x="412.93" y="122.85" width="18.6" height="0.77" fill="#f1d5d7"/>
<rect x="412.93" y="123.59" width="18.6" height="0.77" fill="#edcacc"/>
<rect x="412.93" y="124.34" width="18.6" height="0.77" fill="#faefef"/>
<rect x="412.93" y="125.08" width="18.6" height="0.77" fill="#f2d9da"/>
<rect x="412.93" y="125.83" width="18.6" height="0.77" fill="#f4ddde"/>
<rect x="412.93" y="126.57" width="18.6" height="0.77" fill="#f7e8e9"/>
<rect x="412.93" y="127.32" width="18.6" height="0.77" fill="#f4dedf"/>
<rect x="412.93" y="128.06" width="18.6" height="0.77" fill="#fcf6f6"/>
<rect x="412.93" y="128.81" width="18.6" height="0.77" fill="#e6b3b6"/>
<rect x="412.93" y="129.55" width="18.6" height="0.77" fill="#d88a8f"/>
<rect x="412.93" y="130.3" width="18.6" height="0.77" fill="#dd979c"/>
<rect x="412.93" y="131.04" width="18.6" height="0.77" fill="#d07278"/>
<rect x="412.93" y="131.79" width="18.6" height="0.77" fill="#d57f84"/>
<rect x="412.93" y="132.53" width="18.6" height="0.77" fill="#faf1f2"/>
<rect x="412.93" y="133.27" width="18.6" height="0.77" fill="#f6e5e6"/>
<rect x="412.93" y="134.02" width="18.6" height="0.77" fill="#edcacc"/>
<rect x="412.93" y="134.76" width="18.6" height="0.77" fill="#efced0"/>
<rect x="412.93" y="135.51" width="18.6" height="0.77" fill="#f4dee0"/>
<rect x="412.93" y="136.25" width="18.6" height="0.77" fill="#f7e7e8"/>
<rect x="412.93" y="137" width="18.6" height="0.77" fill="#fcf6f6"/>
<rect x="412.93" y="137.74" width="18.6" height="0.77" fill="#fbf3f3"/>
<rect x="412.93" y="138.49" width="18.6" height="0.77" fill="#f6e4e5"/>
<rect x="412.93" y="139.23" width="18.6" height="0.77" fill="#fbf2f3"/>
<rect x="412.93" y="139.98" width="18.6" height="0.77" fill="#f0d1d3"/>
<rect x="412.93" y="140.72" width="18.6" height="0.77" fill="#faeff0"/>
<rect x="412.93" y="141.47" width="18.6" height="0.77" fill="#fefbfb"/>
<rect x="412.93" y="142.21" width="18.6" height="0.77" fill="#fefbfb"/>
<rect x="412.93" y="142.96" width="18.6" height="0.77" fill="#f5e1e2"/>
<rect x="412.93" y="143.7" width="18.6" height="0.77" fill="#f6e3e4"/>
<rect x="412.93" y="144.44" width="18.6" height="0.77" fill="#f7e6e7"/>
<rect x="412.93" y="145.19" width="18.6" height="0.77" fill="#e9e9f4"/>
<rect x="412.93" y="145.93" width="18.6" height="0.77" fill="#dcdded"/>
<rect x="412.93" y="146.68" width="18.6" height="0.77" fill="#f9eeef"/>
<rect x="412.93" y="147.42" width="18.6" height="0.77" fill="#ecc4c7"/>
<rect x="412.93" y="148.17" width="18.6" height="0.77" fill="#f8eaeb"/>
<rect x="412.93" y="148.91" width="18.6" height="0.77" fill="#e7b8bb"/>
<rect x="412.93" y="149.66" width="18.6" height="0.77" fill="#eecacc"/>
<rect x="412.93" y="150.4" width="18.6" height="0.77" fill="#e6b2b5"/>
<rect x="412.93" y="151.15" width="18.6" height="0.77" fill="#f4dfe0"/>
<rect x="412.93" y="151.89" width="18.6" height="0.77" fill="#f1d4d5"/>
<rect x="412.93" y="152.64" width="18.6" height="0.77" fill="#f5dfe1"/>
<rect x="412.93" y="153.38" width="18.6" height="0.77" fill="#fdfafa"/>
<rect x="412.93" y="154.13" width="18.6" height="0.77" fill="#f8ebec"/>
<rect x="412.93" y="154.87" width="18.6" height="0.77" fill="#f0d2d4"/>
<rect x="412.93" y="155.61" width="18.6" height="0.77" fill="#e6b3b6"/>
<rect x="412.93" y="156.36" width="18.6" height="0.77" fill="#f2d9db"/>
<rect x="412.93" y="157.1" width="18.6" height="0.77" fill="#f6e4e5"/>
<rect x="412.93" y="157.85" width="18.6" height="0.77" fill="#e7b6b9"/>
<rect x="412.93" y="158.59" width="18.6" height="0.77" fill="#e7b6b9"/>
<rect x="412.93" y="159.34" width="18.6" height="0.77" fill="#e5afb3"/>
<rect x="412.93" y="160.08" width="18.6" height="0.77" fill="#e7b7ba"/>
<rect x="412.93" y="160.83" width="18.6" height="0.77" fill="#f9edee"/>
<rect x="412.93" y="161.57" width="18.6" height="0.77" fill="#f4dcde"/>
<rect x="412.93" y="162.32" width="18.6" height="0.77" fill="#f6e3e4"/>
<rect x="412.93" y="163.06" width="18.6" height="0.77" fill="#f2d8da"/>
<rect x="412.93" y="163.81" width="18.6" height="0.77" fill="#f9f9fc"/>
<rect x="412.93" y="164.55" width="18.6" height="0.77" fill="#f2d8d9"/>
<rect x="412.93" y="165.3" width="18.6" height="0.77" fill="#f0d2d4"/>
<rect x="412.93" y="166.04" width="18.6" height="0.77" fill="#fafafc"/>
<rect x="412.93" y="166.78" width="18.6" height="0.77" fill="#f9eeee"/>
<rect x="412.93" y="167.53" width="18.6" height="0.77" fill="#f2d7d9"/>
<rect x="412.93" y="168.27" width="18.6" height="0.77" fill="#faeff0"/>
<rect x="412.93" y="169.02" width="18.6" height="0.77" fill="#f3dadc"/>
<rect x="412.93" y="169.76" width="18.6" height="0.77" fill="#ebc2c5"/>
<rect x="412.93" y="170.51" width="18.6" height="0.77" fill="#efcfd1"/>
<rect x="412.93" y="171.25" width="18.6" height="0.77" fill="#efd0d2"/>
<rect x="412.93" y="172" width="18.6" height="0.77" fill="#f5dfe1"/>
<rect x="412.93" y="172.74" width="18.6" height="0.77" fill="#e9bec0"/>
<rect x="412.93" y="173.49" width="18.6" height="0.77" fill="#ffffff"/>
<rect x="412.93" y="174.23" width="18.6" height="0.77" fill="#fafafc"/>
<rect x="412.93" y="174.98" width="18.6" height="0.77" fill="#f7e6e7"/>
<rect x="412.93" y="175.72" width="18.6" height="0.77" fill="#f9fafc"/>
<rect x="412.93" y="176.47" width="18.6" height="0.77" fill="#f9eced"/>
<rect x="412.93" y="177.21" width="18.6" height="0.77" fill="#fcf7f8"/>
<rect x="412.93" y="177.95" width="18.6" height="0.77" fill="#f1f2f8"/>
<rect x="412.93" y="178.7" width="18.6" height="0.77" fill="#f2f2f8"/>
<rect x="412.93" y="179.44" width="18.6" height="0.77" fill="#fdfafa"/>
<rect x="412.93" y="180.19" width="18.6" height="0.77" fill="#fffefe"/>
<rect x="412.93" y="180.93" width="18.6" height="0.77" fill="#c2c4e0"/>
<rect x="412.93" y="181.68" width="18.6" height="0.77" fill="#c7c9e2"/>
<rect x="412.93" y="182.42" width="18.6" height="0.77" fill="#fefbfb"/>
<rect x="412.93" y="183.17" width="18.6" height="0.77" fill="#eeeef6"/>
<rect x="412.93" y="183.91" width="18.6" height="0.77" fill="#b6b8d9"/>
<rect x="412.93" y="184.66" width="18.6" height="0.77" fill="#c7c8e2"/>
<rect x="412.93" y="185.4" width="18.6" height="0.77" fill="#e6e6f2"/>
<rect x="412.93" y="186.15" width="18.6" height="0.77" fill="#cfd0e6"/>
<rect x="412.93" y="186.89" width="18.6" height="0.77" fill="#f0f0f7"/>
<rect x="412.93" y="187.64" width="18.6" height="0.77" fill="#e7e7f3"/>
<rect x="412.93" y="188.38" width="18.6" height="0.77" fill="#878ac1"/>
<rect x="412.93" y="189.12" width="18.6" height="0.77" fill="#6165ae"/>
<rect x="412.93" y="189.87" width="18.6" height="0.77" fill="#8a8cc3"/>
<rect x="412.93" y="190.61" width="18.6" height="0.77" fill="#a8aad2"/>
<rect x="412.93" y="191.36" width="18.6" height="0.77" fill="#6a6db2"/>
<rect x="412.93" y="192.1" width="18.6" height="0.77" fill="#cecfe6"/>
<rect x="412.93" y="192.85" width="18.6" height="0.77" fill="#c7c8e2"/>
<rect x="412.93" y="193.59" width="18.6" height="0.77" fill="#bfc0de"/>
<rect x="412.93" y="194.34" width="18.6" height="0.77" fill="#afb1d6"/>
<rect x="412.93" y="195.08" width="18.6" height="0.77" fill="#9699c9"/>
<rect x="412.93" y="195.83" width="18.6" height="0.77" fill="#b7b9da"/>
<rect x="412.93" y="196.57" width="18.6" height="0.77" fill="#dcdded"/>
<rect x="412.93" y="197.32" width="18.6" height="0.77" fill="#e1e2f0"/>
<rect x="412.93" y="198.06" width="18.6" height="0.77" fill="#e6e7f2"/>
<rect x="412.93" y="198.81" width="18.6" height="0.77" fill="#e1e1ef"/>
<rect x="412.93" y="199.55" width="18.6" height="0.77" fill="#9093c6"/>
<rect x="412.93" y="200.29" width="18.6" height="0.77" fill="#7275b7"/>
<rect x="412.93" y="201.04" width="18.6" height="0.77" fill="#6064ae"/>
<rect x="412.93" y="201.78" width="18.6" height="0.77" fill="#8083be"/>
<rect x="412.93" y="202.53" width="18.6" height="0.77" fill="#878ac1"/>
<rect x="412.93" y="203.27" width="18.6" height="0.77" fill="#b2b4d8"/>
<rect x="412.93" y="204.02" width="18.6" height="0.77" fill="#8e91c5"/>
<rect x="412.93" y="204.76" width="18.6" height="0.77" fill="#a5a7d1"/>
<rect x="412.93" y="205.51" width="18.6" height="0.77" fill="#8f92c5"/>
<rect x="412.93" y="206.25" width="18.6" height="0.77" fill="#b4b6d8"/>
<rect x="412.93" y="207" width="18.6" height="0.77" fill="#cdcfe6"/>
<rect x="412.93" y="207.74" width="18.6" height="0.77" fill="#e1e2f0"/>
<rect x="412.93" y="208.49" width="18.6" height="0.77" fill="#ecedf5"/>
<rect x="412.93" y="209.23" width="18.6" height="0.77" fill="#e8e9f3"/>
<rect x="412.93" y="209.98" width="18.6" height="0.77" fill="#fdfafa"/>
<rect x="412.93" y="210.72" width="18.6" height="0.77" fill="#6367af"/>
<rect x="412.93" y="211.46" width="18.6" height="0.77" fill="#4a4fa2"/>
<rect x="412.93" y="212.21" width="18.6" height="0.77" fill="#9194c7"/>
<rect x="412.93" y="212.95" width="18.6" height="0.77" fill="#9b9ecc"/>
<rect x="412.93" y="213.7" width="18.6" height="0.77" fill="#9c9fcc"/>
<rect x="412.93" y="214.44" width="18.6" height="0.77" fill="#b7b9da"/>
<rect x="412.93" y="215.19" width="18.6" height="0.77" fill="#bdbedd"/>
<rect x="412.93" y="215.93" width="18.6" height="0.77" fill="#b3b5d8"/>
<rect x="412.93" y="216.68" width="18.6" height="0.77" fill="#9396c8"/>
<rect x="412.93" y="217.42" width="18.6" height="0.77" fill="#a4a6d0"/>
<rect x="412.93" y="218.17" width="18.6" height="0.77" fill="#f1f1f8"/>
<rect x="412.93" y="218.91" width="18.6" height="0.77" fill="#d8d9eb"/>
<rect x="412.93" y="219.66" width="18.6" height="0.77" fill="#faeff0"/>
<rect x="412.93" y="220.4" width="18.6" height="0.77" fill="#c3c4e0"/>
<rect x="412.93" y="221.15" width="18.6" height="0.77" fill="#dcdced"/>
<rect x="412.93" y="221.89" width="18.6" height="0.77" fill="#e4e5f1"/>
<rect x="412.93" y="222.63" width="18.6" height="0.77" fill="#bdbfdd"/>
<rect x="412.93" y="223.38" width="18.6" height="0.77" fill="#b1b3d7"/>
<rect x="412.93" y="224.12" width="18.6" height="0.77" fill="#acaed4"/>
<rect x="412.93" y="224.87" width="18.6" height="0.77" fill="#bbbcdc"/>
<rect x="412.93" y="225.61" width="18.6" height="0.77" fill="#9ea0cd"/>
<rect x="412.93" y="226.36" width="18.6" height="0.77" fill="#8588c0"/>
<rect x="412.93" y="227.1" width="18.6" height="0.77" fill="#888ac2"/>
<rect x="412.93" y="227.85" width="18.6" height="0.77" fill="#7074b6"/>
<rect x="412.93" y="228.59" width="18.6" height="0.77" fill="#8f92c5"/>
<rect x="412.93" y="229.34" width="18.6" height="0.77" fill="#6468af"/>
<rect x="412.93" y="230.08" width="18.6" height="0.77" fill="#4d51a3"/>
<rect x="412.93" y="230.83" width="18.6" height="0.77" fill="#575ba9"/>
<rect x="412.93" y="231.57" width="18.6" height="0.77" fill="#666ab0"/>
<rect x="412.93" y="232.32" width="18.6" height="0.77" fill="#7c7fbc"/>
<rect x="412.93" y="233.06" width="18.6" height="0.77" fill="#7b7ebb"/>
<rect x="412.93" y="233.8" width="18.6" height="0.77" fill="#878ac1"/>
<rect x="412.93" y="234.55" width="18.6" height="0.77" fill="#aaacd3"/>
<rect x="412.93" y="235.29" width="18.6" height="0.77" fill="#6a6db2"/>
<rect x="412.93" y="236.04" width="18.6" height="0.77" fill="#6064ad"/>
<rect x="412.93" y="236.78" width="18.6" height="0.77" fill="#9295c7"/>
<rect x="412.93" y="237.53" width="18.6" height="0.77" fill="#8689c1"/>
<rect x="412.93" y="238.27" width="18.6" height="0.77" fill="#7a7dbb"/>
<rect x="412.93" y="239.02" width="18.6" height="0.77" fill="#8285bf"/>
<rect x="412.93" y="239.76" width="18.6" height="0.77" fill="#7578b8"/>
<rect x="412.93" y="240.51" width="18.6" height="0.77" fill="#888bc2"/>
<rect x="412.93" y="241.25" width="18.6" height="0.77" fill="#7478b8"/>
<rect x="412.93" y="242" width="18.6" height="0.77" fill="#8e91c5"/>
<rect x="412.93" y="242.74" width="18.6" height="0.77" fill="#6265ae"/>
<rect x="412.93" y="243.49" width="18.6" height="0.77" fill="#6a6db2"/>
<rect x="412.93" y="244.23" width="18.6" height="0.77" fill="#b3b5d8"/>
<rect x="412.93" y="244.97" width="18.6" height="0.77" fill="#a6a8d1"/>
<rect x="412.93" y="245.72" width="18.6" height="0.77" fill="#c0c2df"/>
<rect x="412.93" y="246.46" width="18.6" height="0.77" fill="#b0b2d6"/>
<rect x="412.93" y="247.21" width="18.6" height="0.77" fill="#a4a7d0"/>
<rect x="412.93" y="247.95" width="18.6" height="0.77" fill="#8184be"/>
<rect x="412.93" y="248.7" width="18.6" height="0.77" fill="#7074b6"/>
<rect x="412.93" y="249.44" width="18.6" height="0.77" fill="#595daa"/>
<rect x="412.93" y="250.19" width="18.6" height="0.77" fill="#6266af"/>
<rect x="412.93" y="250.93" width="18.6" height="0.77" fill="#6a6eb2"/>
<rect x="412.93" y="251.68" width="18.6" height="0.77" fill="#8c8fc4"/>
<rect x="412.93" y="252.42" width="18.6" height="0.77" fill="#999bca"/>
<rect x="412.93" y="253.17" width="18.6" height="0.77" fill="#abadd4"/>
<rect x="412.93" y="253.91" width="18.6" height="0.77" fill="#a3a5d0"/>
<rect x="412.93" y="254.66" width="18.6" height="0.77" fill="#bfc0de"/>
<rect x="431.5" y="32" width="18.6" height="0.77" fill="#f6e3e5"/>
<rect x="431.5" y="32.74" width="18.6" height="0.77" fill="#fcfcfd"/>
<rect x="431.5" y="33.49" width="18.6" height="0.77" fill="#f3dbdd"/>
<rect x="431.5" y="34.23" width="18.6" height="0.77" fill="#f7e5e6"/>
<rect x="431.5" y="34.98" width="18.6" height="0.77" fill="#f6f6fa"/>
<rect x="431.5" y="35.72" width="18.6" height="0.77" fill="#ecc7c9"/>
<rect x="431.5" y="36.47" width="18.6" height="0.77" fill="#e7b6b9"/>
<rect x="431.5" y="37.21" width="18.6" height="0.77" fill="#edc8ca"/>
<rect x="431.5" y="37.96" width="18.6" height="0.77" fill="#e7b8bb"/>
<rect x="431.5" y="38.7" width="18.6" height="0.77" fill="#ecc5c7"/>
<rect x="431.5" y="39.45" width="18.6" height="0.77" fill="#eabec1"/>
<rect x="431.5" y="40.19" width="18.6" height="0.77" fill="#f1d4d6"/>
<rect x="431.5" y="40.94" width="18.6" height="0.77" fill="#ecc5c8"/>
<rect x="431.5" y="41.68" width="18.6" height="0.77" fill="#f1d5d7"/>
<rect x="431.5" y="42.43" width="18.6" height="0.77" fill="#eabfc2"/>
<rect x="431.5" y="43.17" width="18.6" height="0.77" fill="#c0c1de"/>
<rect x="431.5" y="43.91" width="18.6" height="0.77" fill="#edeef6"/>
<rect x="431.5" y="44.66" width="18.6" height="0.77" fill="#fefcfc"/>
<rect x="431.5" y="45.4" width="18.6" height="0.77" fill="#f3f3f9"/>
<rect x="431.5" y="46.15" width="18.6" height="0.77" fill="#e5e6f2"/>
<rect x="431.5" y="46.89" width="18.6" height="0.77" fill="#d8d8eb"/>
<rect x="431.5" y="47.64" width="18.6" height="0.77" fill="#b8badb"/>
<rect x="431.5" y="48.38" width="18.6" height="0.77" fill="#b9badb"/>
<rect x="431.5" y="49.13" width="18.6" height="0.77" fill="#c3c5e0"/>
<rect x="431.5" y="49.87" width="18.6" height="0.77" fill="#c8c9e3"/>
<rect x="431.5" y="50.62" width="18.6" height="0.77" fill="#f8eaeb"/>
<rect x="431.5" y="51.36" width="18.6" height="0.77" fill="#ececf5"/>
<rect x="431.5" y="52.11" width="18.6" height="0.77" fill="#f8e9ea"/>
<rect x="431.5" y="52.85" width="18.6" height="0.77" fill="#dddded"/>
<rect x="431.5" y="53.6" width="18.6" height="0.77" fill="#eeeff6"/>
<rect x="431.5" y="54.34" width="18.6" height="0.77" fill="#cbcce4"/>
<rect x="431.5" y="55.08" width="18.6" height="0.77" fill="#e6e6f2"/>
<rect x="431.5" y="55.83" width="18.6" height="0.77" fill="#bdbfdd"/>
<rect x="431.5" y="56.57" width="18.6" height="0.77" fill="#9b9dcc"/>
<rect x="431.5" y="57.32" width="18.6" height="0.77" fill="#d5d6e9"/>
<rect x="431.5" y="58.06" width="18.6" height="0.77" fill="#b0b2d7"/>
<rect x="431.5" y="58.81" width="18.6" height="0.77" fill="#999bca"/>
<rect x="431.5" y="59.55" width="18.6" height="0.77" fill="#999ccb"/>
<rect x="431.5" y="60.3" width="18.6" height="0.77" fill="#a1a4cf"/>
<rect x="431.5" y="61.04" width="18.6" height="0.77" fill="#b3b5d8"/>
<rect x="431.5" y="61.79" width="18.6" height="0.77" fill="#f5f5fa"/>
<rect x="431.5" y="62.53" width="18.6" height="0.77" fill="#c4c6e1"/>
<rect x="431.5" y="63.28" width="18.6" height="0.77" fill="#f7e6e8"/>
<rect x="431.5" y="64.02" width="18.6" height="0.77" fill="#e5e5f2"/>
<rect x="431.5" y="64.77" width="18.6" height="0.77" fill="#dddeee"/>
<rect x="431.5" y="65.51" width="18.6" height="0.77" fill="#dbdbec"/>
<rect x="431.5" y="66.25" width="18.6" height="0.77" fill="#cecfe6"/>
<rect x="431.5" y="67" width="18.6" height="0.77" fill="#fffefe"/>
<rect x="431.5" y="67.74" width="18.6" height="0.77" fill="#e4e5f1"/>
<rect x="431.5" y="68.49" width="18.6" height="0.77" fill="#c3c4e0"/>
<rect x="431.5" y="69.23" width="18.6" height="0.77" fill="#c2c4e0"/>
<rect x="431.5" y="69.98" width="18.6" height="0.77" fill="#c0c2df"/>
<rect x="431.5" y="70.72" width="18.6" height="0.77" fill="#c4c5e0"/>
<rect x="431.5" y="71.47" width="18.6" height="0.77" fill="#dadbec"/>
<rect x="431.5" y="72.21" width="18.6" height="0.77" fill="#bdbedd"/>
<rect x="431.5" y="72.96" width="18.6" height="0.77" fill="#bbbddc"/>
<rect x="431.5" y="73.7" width="18.6" height="0.77" fill="#9597c8"/>
<rect x="431.5" y="74.45" width="18.6" height="0.77" fill="#9396c8"/>
<rect x="431.5" y="75.19" width="18.6" height="0.77" fill="#acaed4"/>
<rect x="431.5" y="75.94" width="18.6" height="0.77" fill="#6a6db2"/>
<rect x="431.5" y="76.68" width="18.6" height="0.77" fill="#676bb1"/>
<rect x="431.5" y="77.42" width="18.6" height="0.77" fill="#8a8dc3"/>
<rect x="431.5" y="78.17" width="18.6" height="0.77" fill="#7c80bc"/>
<rect x="431.5" y="78.91" width="18.6" height="0.77" fill="#7c7fbc"/>
<rect x="431.5" y="79.66" width="18.6" height="0.77" fill="#8588c0"/>
<rect x="431.5" y="80.4" width="18.6" height="0.77" fill="#898cc2"/>
<rect x="431.5" y="81.15" width="18.6" height="0.77" fill="#9395c7"/>
<rect x="431.5" y="81.89" width="18.6" height="0.77" fill="#787bba"/>
<rect x="431.5" y="82.64" width="18.6" height="0.77" fill="#6c70b4"/>
<rect x="431.5" y="83.38" width="18.6" height="0.77" fill="#b3b5d8"/>
<rect x="431.5" y="84.13" width="18.6" height="0.77" fill="#8184be"/>
<rect x="431.5" y="84.87" width="18.6" height="0.77" fill="#8689c1"/>
<rect x="431.5" y="85.62" width="18.6" height="0.77" fill="#b6b8da"/>
<rect x="431.5" y="86.36" width="18.6" height="0.77" fill="#aeb0d6"/>
<rect x="431.5" y="87.11" width="18.6" height="0.77" fill="#8b8dc3"/>
<rect x="431.5" y="87.85" width="18.6" height="0.77" fill="#f4f4f9"/>
<rect x="431.5" y="88.59" width="18.6" height="0.77" fill="#fefeff"/>
<rect x="431.5" y="89.34" width="18.6" height="0.77" fill="#eaebf4"/>
<rect x="431.5" y="90.08" width="18.6" height="0.77" fill="#fbf3f3"/>
<rect x="431.5" y="90.83" width="18.6" height="0.77" fill="#fefbfb"/>
<rect x="431.5" y="91.57" width="18.6" height="0.77" fill="#fefbfc"/>
<rect x="431.5" y="92.32" width="18.6" height="0.77" fill="#faeeef"/>
<rect x="431.5" y="93.06" width="18.6" height="0.77" fill="#faeff0"/>
<rect x="431.5" y="93.81" width="18.6" height="0.77" fill="#f2d8d9"/>
<rect x="431.5" y="94.55" width="18.6" height="0.77" fill="#f4dee0"/>
<rect x="431.5" y="95.3" width="18.6" height="0.77" fill="#8a8dc3"/>
<rect x="431.5" y="96.04" width="18.6" height="0.77" fill="#c5c6e1"/>
<rect x="431.5" y="96.79" width="18.6" height="0.77" fill="#989aca"/>
<rect x="431.5" y="97.53" width="18.6" height="0.77" fill="#9193c6"/>
<rect x="431.5" y="98.28" width="18.6" height="0.77" fill="#c1c2df"/>
<rect x="431.5" y="99.02" width="18.6" height="0.77" fill="#bbbddc"/>
<rect x="431.5" y="99.76" width="18.6" height="0.77" fill="#c4c5e1"/>
<rect x="431.5" y="100.51" width="18.6" height="0.77" fill="#e3e4f1"/>
<rect x="431.5" y="101.25" width="18.6" height="0.77" fill="#bcbedd"/>
<rect x="431.5" y="102" width="18.6" height="0.77" fill="#b7b9da"/>
<rect x="431.5" y="102.74" width="18.6" height="0.77" fill="#d3d4e8"/>
<rect x="431.5" y="103.49" width="18.6" height="0.77" fill="#e7e7f3"/>
<rect x="431.5" y="104.23" width="18.6" height="0.77" fill="#d7d8ea"/>
<rect x="431.5" y="104.98" width="18.6" height="0.77" fill="#a8aad2"/>
<rect x="431.5" y="105.72" width="18.6" height="0.77" fill="#bcbedd"/>
<rect x="431.5" y="106.47" width="18.6" height="0.77" fill="#c8c9e3"/>
<rect x="431.5" y="107.21" width="18.6" height="0.77" fill="#f7f7fb"/>
<rect x="431.5" y="107.96" width="18.6" height="0.77" fill="#dfe0ef"/>
<rect x="431.5" y="108.7" width="18.6" height="0.77" fill="#dedfee"/>
<rect x="431.5" y="109.45" width="18.6" height="0.77" fill="#e6e7f2"/>
<rect x="431.5" y="110.19" width="18.6" height="0.77" fill="#d4d5e9"/>
<rect x="431.5" y="110.93" width="18.6" height="0.77" fill="#e6e6f2"/>
<rect x="431.5" y="111.68" width="18.6" height="0.77" fill="#e6e7f2"/>
<rect x="431.5" y="112.42" width="18.6" height="0.77" fill="#c5c6e1"/>
<rect x="431.5" y="113.17" width="18.6" height="0.77" fill="#dbdbec"/>
<rect x="431.5" y="113.91" width="18.6" height="0.77" fill="#fbf2f3"/>
<rect x="431.5" y="114.66" width="18.6" height="0.77" fill="#e7e8f3"/>
<rect x="431.5" y="115.4" width="18.6" height="0.77" fill="#f9edee"/>
<rect x="431.5" y="116.15" width="18.6" height="0.77" fill="#f9eeef"/>
<rect x="431.5" y="116.89" width="18.6" height="0.77" fill="#f8e9e9"/>
<rect x="431.5" y="117.64" width="18.6" height="0.77" fill="#afb1d6"/>
<rect x="431.5" y="118.38" width="18.6" height="0.77" fill="#c3c4e0"/>
<rect x="431.5" y="119.13" width="18.6" height="0.77" fill="#e1e2f0"/>
<rect x="431.5" y="119.87" width="18.6" height="0.77" fill="#d3d4e8"/>
<rect x="431.5" y="120.62" width="18.6" height="0.77" fill="#afb1d6"/>
<rect x="431.5" y="121.36" width="18.6" height="0.77" fill="#b6b8d9"/>
<rect x="431.5" y="122.1" width="18.6" height="0.77" fill="#d1d2e7"/>
<rect x="431.5" y="122.85" width="18.6" height="0.77" fill="#afb1d6"/>
<rect x="431.5" y="123.59" width="18.6" height="0.77" fill="#b9bbdb"/>
<rect x="431.5" y="124.34" width="18.6" height="0.77" fill="#ebebf5"/>
<rect x="431.5" y="125.08" width="18.6" height="0.77" fill="#cacce4"/>
<rect x="431.5" y="125.83" width="18.6" height="0.77" fill="#c9cae3"/>
<rect x="431.5" y="126.57" width="18.6" height="0.77" fill="#b4b6d9"/>
<rect x="431.5" y="127.32" width="18.6" height="0.77" fill="#bcbedd"/>
<rect x="431.5" y="128.06" width="18.6" height="0.77" fill="#ededf6"/>
<rect x="431.5" y="128.81" width="18.6" height="0.77" fill="#ecc6c9"/>
<rect x="431.5" y="129.55" width="18.6" height="0.77" fill="#f4dcde"/>
<rect x="431.5" y="130.3" width="18.6" height="0.77" fill="#f2d7d9"/>
<rect x="431.5" y="131.04" width="18.6" height="0.77" fill="#ebc3c6"/>
<rect x="431.5" y="131.79" width="18.6" height="0.77" fill="#e6b4b7"/>
<rect x="431.5" y="132.53" width="18.6" height="0.77" fill="#f4ddde"/>
<rect x="431.5" y="133.27" width="18.6" height="0.77" fill="#eabec1"/>
<rect x="431.5" y="134.02" width="18.6" height="0.77" fill="#f2d8d9"/>
<rect x="431.5" y="134.76" width="18.6" height="0.77" fill="#ecc6c8"/>
<rect x="431.5" y="135.51" width="18.6" height="0.77" fill="#ebc3c5"/>
<rect x="431.5" y="136.25" width="18.6" height="0.77" fill="#f6e3e4"/>
<rect x="431.5" y="137" width="18.6" height="0.77" fill="#fdf9f9"/>
<rect x="431.5" y="137.74" width="18.6" height="0.77" fill="#fbf3f4"/>
<rect x="431.5" y="138.49" width="18.6" height="0.77" fill="#f6e5e6"/>
<rect x="431.5" y="139.23" width="18.6" height="0.77" fill="#f2f2f8"/>
<rect x="431.5" y="139.98" width="18.6" height="0.77" fill="#fefbfb"/>
<rect x="431.5" y="140.72" width="18.6" height="0.77" fill="#fbf4f4"/>
<rect x="431.5" y="141.47" width="18.6" height="0.77" fill="#f8e9ea"/>
<rect x="431.5" y="142.21" width="18.6" height="0.77" fill="#fefeff"/>
<rect x="431.5" y="142.96" width="18.6" height="0.77" fill="#fbfbfd"/>
<rect x="431.5" y="143.7" width="18.6" height="0.77" fill="#eecbcd"/>
<rect x="431.5" y="144.44" width="18.6" height="0.77" fill="#f4dddf"/>
<rect x="431.5" y="145.19" width="18.6" height="0.77" fill="#f0d2d4"/>
<rect x="431.5" y="145.93" width="18.6" height="0.77" fill="#ecc5c8"/>
<rect x="431.5" y="146.68" width="18.6" height="0.77" fill="#edc8ca"/>
<rect x="431.5" y="147.42" width="18.6" height="0.77" fill="#f9eeee"/>
<rect x="431.5" y="148.17" width="18.6" height="0.77" fill="#f4dfe0"/>
<rect x="431.5" y="148.91" width="18.6" height="0.77" fill="#f9fafc"/>
<rect x="431.5" y="149.66" width="18.6" height="0.77" fill="#edc7c9"/>
<rect x="431.5" y="150.4" width="18.6" height="0.77" fill="#f6e3e4"/>
<rect x="431.5" y="151.15" width="18.6" height="0.77" fill="#f9ebec"/>
<rect x="431.5" y="151.89" width="18.6" height="0.77" fill="#f6f6fa"/>
<rect x="431.5" y="152.64" width="18.6" height="0.77" fill="#fbf2f3"/>
<rect x="431.5" y="153.38" width="18.6" height="0.77" fill="#f7e7e8"/>
<rect x="431.5" y="154.13" width="18.6" height="0.77" fill="#f3dcdd"/>
<rect x="431.5" y="154.87" width="18.6" height="0.77" fill="#abadd4"/>
<rect x="431.5" y="155.61" width="18.6" height="0.77" fill="#dddeee"/>
<rect x="431.5" y="156.36" width="18.6" height="0.77" fill="#c6c8e2"/>
<rect x="431.5" y="157.1" width="18.6" height="0.77" fill="#b9badb"/>
<rect x="431.5" y="157.85" width="18.6" height="0.77" fill="#d5d6e9"/>
<rect x="431.5" y="158.59" width="18.6" height="0.77" fill="#dedeee"/>
<rect x="431.5" y="159.34" width="18.6" height="0.77" fill="#dedeee"/>
<rect x="431.5" y="160.08" width="18.6" height="0.77" fill="#d4d5e9"/>
<rect x="431.5" y="160.83" width="18.6" height="0.77" fill="#e9eaf4"/>
<rect x="431.5" y="161.57" width="18.6" height="0.77" fill="#e5e6f2"/>
<rect x="431.5" y="162.32" width="18.6" height="0.77" fill="#d6d7ea"/>
<rect x="431.5" y="163.06" width="18.6" height="0.77" fill="#c4c6e1"/>
<rect x="431.5" y="163.81" width="18.6" height="0.77" fill="#cecfe6"/>
<rect x="431.5" y="164.55" width="18.6" height="0.77" fill="#e3e3f0"/>
<rect x="431.5" y="165.3" width="18.6" height="0.77" fill="#f7f7fb"/>
<rect x="431.5" y="166.04" width="18.6" height="0.77" fill="#fefefe"/>
<rect x="431.5" y="166.78" width="18.6" height="0.77" fill="#f5e2e3"/>
<rect x="431.5" y="167.53" width="18.6" height="0.77" fill="#fefeff"/>
<rect x="431.5" y="168.27" width="18.6" height="0.77" fill="#e6e7f2"/>
<rect x="431.5" y="169.02" width="18.6" height="0.77" fill="#fbf2f3"/>
<rect x="431.5" y="169.76" width="18.6" height="0.77" fill="#c4c5e1"/>
<rect x="431.5" y="170.51" width="18.6" height="0.77" fill="#e3e3f0"/>
<rect x="431.5" y="171.25" width="18.6" height="0.77" fill="#f2f2f8"/>
<rect x="431.5" y="172" width="18.6" height="0.77" fill="#d3d4e8"/>
<rect x="431.5" y="172.74" width="18.6" height="0.77" fill="#d8d9eb"/>
<rect x="431.5" y="173.49" width="18.6" height="0.77" fill="#f7f7fb"/>
<rect x="431.5" y="174.23" width="18.6" height="0.77" fill="#c5c6e1"/>
<rect x="431.5" y="174.98" width="18.6" height="0.77" fill="#c5c7e1"/>
<rect x="431.5" y="175.72" width="18.6" height="0.77" fill="#d1d2e7"/>
<rect x="431.5" y="176.47" width="18.6" height="0.77" fill="#bdbfdd"/>
<rect x="431.5" y="177.21" width="18.6" height="0.77" fill="#c8c9e3"/>
<rect x="431.5" y="177.95" width="18.6" height="0.77" fill="#d2d4e8"/>
<rect x="431.5" y="178.7" width="18.6" height="0.77" fill="#9496c8"/>
<rect x="431.5" y="179.44" width="18.6" height="0.77" fill="#eaeaf4"/>
<rect x="431.5" y="180.19" width="18.6" height="0.77" fill="#b2b4d7"/>
<rect x="431.5" y="180.93" width="18.6" height="0.77" fill="#cccde5"/>
<rect x="431.5" y="181.68" width="18.6" height="0.77" fill="#f0f1f7"/>
<rect x="431.5" y="182.42" width="18.6" height="0.77" fill="#e5e5f2"/>
<rect x="431.5" y="183.17" width="18.6" height="0.77" fill="#c8c9e3"/>
<rect x="431.5" y="183.91" width="18.6" height="0.77" fill="#e9eaf4"/>
<rect x="431.5" y="184.66" width="18.6" height="0.77" fill="#f7e6e7"/>
<rect x="431.5" y="185.4" width="18.6" height="0.77" fill="#f4ddde"/>
<rect x="431.5" y="186.15" width="18.6" height="0.77" fill="#f9eeef"/>
<rect x="431.5" y="186.89" width="18.6" height="0.77" fill="#f5e0e1"/>
<rect x="431.5" y="187.64" width="18.6" height="0.77" fill="#ecc6c9"/>
<rect x="431.5" y="188.38" width="18.6" height="0.77" fill="#fefdfd"/>
<rect x="431.5" y="189.12" width="18.6" height="0.77" fill="#fdf9f9"/>
<rect x="431.5" y="189.87" width="18.6" height="0.77" fill="#f9eced"/>
<rect x="431.5" y="190.61" width="18.6" height="0.77" fill="#fefefe"/>
<rect x="431.5" y="191.36" width="18.6" height="0.77" fill="#f0f0f7"/>
<rect x="431.5" y="192.1" width="18.6" height="0.77" fill="#a9abd3"/>
<rect x="431.5" y="192.85" width="18.6" height="0.77" fill="#d5d6e9"/>
<rect x="431.5" y="193.59" width="18.6" height="0.77" fill="#b0b2d7"/>
<rect x="431.5" y="194.34" width="18.6" height="0.77" fill="#b7b8da"/>
<rect x="431.5" y="195.08" width="18.6" height="0.77" fill="#adafd5"/>
<rect x="431.5" y="195.83" width="18.6" height="0.77" fill="#f5e2e3"/>
<rect x="431.5" y="196.57" width="18.6" height="0.77" fill="#f4dedf"/>
<rect x="431.5" y="197.32" width="18.6" height="0.77" fill="#f7e7e8"/>
<rect x="431.5" y="198.06" width="18.6" height="0.77" fill="#f8eaeb"/>
<rect x="431.5" y="198.81" width="18.6" height="0.77" fill="#fcf7f8"/>
<rect x="431.5" y="199.55" width="18.6" height="0.77" fill="#9c9fcc"/>
<rect x="431.5" y="200.29" width="18.6" height="0.77" fill="#b9badb"/>
<rect x="431.5" y="201.04" width="18.6" height="0.77" fill="#c0c2df"/>
<rect x="431.5" y="201.78" width="18.6" height="0.77" fill="#c4c6e1"/>
<rect x="431.5" y="202.53" width="18.6" height="0.77" fill="#b1b3d7"/>
<rect x="431.5" y="203.27" width="18.6" height="0.77" fill="#fcfcfd"/>
<rect x="431.5" y="204.02" width="18.6" height="0.77" fill="#f6e4e5"/>
<rect x="431.5" y="204.76" width="18.6" height="0.77" fill="#f6e4e5"/>
<rect x="431.5" y="205.51" width="18.6" height="0.77" fill="#ededf6"/>
<rect x="431.5" y="206.25" width="18.6" height="0.77" fill="#f5e0e1"/>
<rect x="431.5" y="207" width="18.6" height="0.77" fill="#bdbedd"/>
<rect x="431.5" y="207.74" width="18.6" height="0.77" fill="#d5d6e9"/>
<rect x="431.5" y="208.49" width="18.6" height="0.77" fill="#9699c9"/>
<rect x="431.5" y="209.23" width="18.6" height="0.77" fill="#9395c7"/>
<rect x="431.5" y="209.98" width="18.6" height="0.77" fill="#c1c3df"/>
<rect x="431.5" y="210.72" width="18.6" height="0.77" fill="#9799c9"/>
<rect x="431.5" y="211.46" width="18.6" height="0.77" fill="#afb1d6"/>
<rect x="431.5" y="212.21" width="18.6" height="0.77" fill="#a7a9d2"/>
<rect x="431.5" y="212.95" width="18.6" height="0.77" fill="#a9abd3"/>
<rect x="431.5" y="213.7" width="18.6" height="0.77" fill="#9497c8"/>
<rect x="431.5" y="214.44" width="18.6" height="0.77" fill="#c5c6e1"/>
<rect x="431.5" y="215.19" width="18.6" height="0.77" fill="#e0e1ef"/>
<rect x="431.5" y="215.93" width="18.6" height="0.77" fill="#d4d5e9"/>
<rect x="431.5" y="216.68" width="18.6" height="0.77" fill="#d4d5e9"/>
<rect x="431.5" y="217.42" width="18.6" height="0.77" fill="#c2c3e0"/>
<rect x="431.5" y="218.17" width="18.6" height="0.77" fill="#b6b8d9"/>
<rect x="431.5" y="218.91" width="18.6" height="0.77" fill="#a1a3cf"/>
<rect x="431.5" y="219.66" width="18.6" height="0.77" fill="#adafd5"/>
<rect x="431.5" y="220.4" width="18.6" height="0.77" fill="#7276b7"/>
<rect x="431.5" y="221.15" width="18.6" height="0.77" fill="#9d9fcd"/>
<rect x="431.5" y="221.89" width="18.6" height="0.77" fill="#cbcce4"/>
<rect x="431.5" y="222.63" width="18.6" height="0.77" fill="#ecedf5"/>
<rect x="431.5" y="223.38" width="18.6" height="0.77" fill="#e9e9f4"/>
<rect x="431.5" y="224.12" width="18.6" height="0.77" fill="#cbcce4"/>
<rect x="431.5" y="224.87" width="18.6" height="0.77" fill="#e8e9f3"/>
<rect x="431.5" y="225.61" width="18.6" height="0.77" fill="#9598c9"/>
<rect x="431.5" y="226.36" width="18.6" height="0.77" fill="#8689c1"/>
<rect x="431.5" y="227.1" width="18.6" height="0.77" fill="#888bc2"/>
<rect x="431.5" y="227.85" width="18.6" height="0.77" fill="#686bb1"/>
<rect x="431.5" y="228.59" width="18.6" height="0.77" fill="#6c6fb3"/>
<rect x="431.5" y="229.34" width="18.6" height="0.77" fill="#7c80bc"/>
<rect x="431.5" y="230.08" width="18.6" height="0.77" fill="#989bca"/>
<rect x="431.5" y="230.83" width="18.6" height="0.77" fill="#b0b2d7"/>
<rect x="431.5" y="231.57" width="18.6" height="0.77" fill="#9fa2ce"/>
<rect x="431.5" y="232.32" width="18.6" height="0.77" fill="#9698c9"/>
<rect x="431.5" y="233.06" width="18.6" height="0.77" fill="#e6e6f2"/>
<rect x="431.5" y="233.8" width="18.6" height="0.77" fill="#fcf6f6"/>
<rect x="431.5" y="234.55" width="18.6" height="0.77" fill="#fafafc"/>
<rect x="431.5" y="235.29" width="18.6" height="0.77" fill="#d4d5e9"/>
<rect x="431.5" y="236.04" width="18.6" height="0.77" fill="#d8d9eb"/>
<rect x="431.5" y="236.78" width="18.6" height="0.77" fill="#fcf7f8"/>
<rect x="431.5" y="237.53" width="18.6" height="0.77" fill="#fbfbfd"/>
<rect x="431.5" y="238.27" width="18.6" height="0.77" fill="#efced0"/>
<rect x="431.5" y="239.02" width="18.6" height="0.77" fill="#faf0f0"/>
<rect x="431.5" y="239.76" width="18.6" height="0.77" fill="#f7f8fb"/>
<rect x="431.5" y="240.51" width="18.6" height="0.77" fill="#faf1f1"/>
<rect x="431.5" y="241.25" width="18.6" height="0.77" fill="#ecc5c8"/>
<rect x="431.5" y="242" width="18.6" height="0.77" fill="#fdfafa"/>
<rect x="431.5" y="242.74" width="18.6" height="0.77" fill="#f2d6d8"/>
<rect x="431.5" y="243.49" width="18.6" height="0.77" fill="#f4dddf"/>
<rect x="431.5" y="244.23" width="18.6" height="0.77" fill="#d1d2e7"/>
<rect x="431.5" y="244.97" width="18.6" height="0.77" fill="#bcbedd"/>
<rect x="431.5" y="245.72" width="18.6" height="0.77" fill="#a7a9d2"/>
<rect x="431.5" y="246.46" width="18.6" height="0.77" fill="#bcbddd"/>
<rect x="431.5" y="247.21" width="18.6" height="0.77" fill="#b2b3d7"/>
<rect x="431.5" y="247.95" width="18.6" height="0.77" fill="#acaed4"/>
<rect x="431.5" y="248.7" width="18.6" height="0.77" fill="#9497c8"/>
<rect x="431.5" y="249.44" width="18.6" height="0.77" fill="#c2c4e0"/>
<rect x="431.5" y="250.19" width="18.6" height="0.77" fill="#9396c8"/>
<rect x="431.5" y="250.93" width="18.6" height="0.77" fill="#a0a2ce"/>
<rect x="431.5" y="251.68" width="18.6" height="0.77" fill="#bcbddc"/>
<rect x="431.5" y="252.42" width="18.6" height="0.77" fill="#cdcee5"/>
<rect x="431.5" y="253.17" width="18.6" height="0.77" fill="#cbcce4"/>
<rect x="431.5" y="253.91" width="18.6" height="0.77" fill="#ced0e6"/>
<rect x="431.5" y="254.66" width="18.6" height="0.77" fill="#dfe0ee"/>
<rect x="450.07" y="32" width="18.6" height="0.77" fill="#d9daeb"/>
<rect x="450.07" y="32.74" width="18.6" height="0.77" fill="#d2d3e8"/>
<rect x="450.07" y="33.49" width="18.6" height="0.77" fill="#fefefe"/>
<rect x="450.07" y="34.23" width="18.6" height="0.77" fill="#dedfee"/>
<rect x="450.07" y="34.98" width="18.6" height="0.77" fill="#d6d7ea"/>
<rect x="450.07" y="35.72" width="18.6" height="0.77" fill="#f7e7e8"/>
<rect x="450.07" y="36.47" width="18.6" height="0.77" fill="#faeeef"/>
<rect x="450.07" y="37.21" width="18.6" height="0.77" fill="#c4c5e1"/>
<rect x="450.07" y="37.96" width="18.6" height="0.77" fill="#f7f7fb"/>
<rect x="450.07" y="38.7" width="18.6" height="0.77" fill="#f9eeef"/>
<rect x="450.07" y="39.45" width="18.6" height="0.77" fill="#c3c4e0"/>
<rect x="450.07" y="40.19" width="18.6" height="0.77" fill="#a5a7d1"/>
<rect x="450.07" y="40.94" width="18.6" height="0.77" fill="#d3d5e9"/>
<rect x="450.07" y="41.68" width="18.6" height="0.77" fill="#9fa1cd"/>
<rect x="450.07" y="42.43" width="18.6" height="0.77" fill="#abadd4"/>
<rect x="450.07" y="43.17" width="18.6" height="0.77" fill="#cecfe6"/>
<rect x="450.07" y="43.91" width="18.6" height="0.77" fill="#cbcce4"/>
<rect x="450.07" y="44.66" width="18.6" height="0.77" fill="#dddeed"/>
<rect x="450.07" y="45.4" width="18.6" height="0.77" fill="#e2e2f0"/>
<rect x="450.07" y="46.15" width="18.6" height="0.77" fill="#cacbe4"/>
<rect x="450.07" y="46.89" width="18.6" height="0.77" fill="#dd989c"/>
<rect x="450.07" y="47.64" width="18.6" height="0.77" fill="#ebc3c6"/>
<rect x="450.07" y="48.38" width="18.6" height="0.77" fill="#e8babd"/>
<rect x="450.07" y="49.13" width="18.6" height="0.77" fill="#db9196"/>
<rect x="450.07" y="49.87" width="18.6" height="0.77" fill="#e6b3b6"/>
<rect x="450.07" y="50.62" width="18.6" height="0.77" fill="#e7b7ba"/>
<rect x="450.07" y="51.36" width="18.6" height="0.77" fill="#f2d7d8"/>
<rect x="450.07" y="52.11" width="18.6" height="0.77" fill="#f0d3d5"/>
<rect x="450.07" y="52.85" width="18.6" height="0.77" fill="#efd0d2"/>
<rect x="450.07" y="53.6" width="18.6" height="0.77" fill="#edcacc"/>
<rect x="450.07" y="54.34" width="18.6" height="0.77" fill="#f8f8fb"/>
<rect x="450.07" y="55.08" width="18.6" height="0.77" fill="#fffefe"/>
<rect x="450.07" y="55.83" width="18.6" height="0.77" fill="#faf0f1"/>
<rect x="450.07" y="56.57" width="18.6" height="0.77" fill="#f6e5e6"/>
<rect x="450.07" y="57.32" width="18.6" height="0.77" fill="#fefcfc"/>
<rect x="450.07" y="58.06" width="18.6" height="0.77" fill="#f4f4f9"/>
<rect x="450.07" y="58.81" width="18.6" height="0.77" fill="#fafafc"/>
<rect x="450.07" y="59.55" width="18.6" height="0.77" fill="#cdcee5"/>
<rect x="450.07" y="60.3" width="18.6" height="0.77" fill="#c2c3e0"/>
<rect x="450.07" y="61.04" width="18.6" height="0.77" fill="#fcf5f5"/>
<rect x="450.07" y="61.79" width="18.6" height="0.77" fill="#f8f9fc"/>
<rect x="450.07" y="62.53" width="18.6" height="0.77" fill="#dcdded"/>
<rect x="450.07" y="63.28" width="18.6" height="0.77" fill="#e3e3f0"/>
<rect x="450.07" y="64.02" width="18.6" height="0.77" fill="#c6c7e2"/>
<rect x="450.07" y="64.77" width="18.6" height="0.77" fill="#bcbddc"/>
<rect x="450.07" y="65.51" width="18.6" height="0.77" fill="#f8e9ea"/>
<rect x="450.07" y="66.25" width="18.6" height="0.77" fill="#eeeff6"/>
<rect x="450.07" y="67" width="18.6" height="0.77" fill="#f4ddde"/>
<rect x="450.07" y="67.74" width="18.6" height="0.77" fill="#fffefe"/>
<rect x="450.07" y="68.49" width="18.6" height="0.77" fill="#f8eaea"/>
<rect x="450.07" y="69.23" width="18.6" height="0.77" fill="#edc7ca"/>
<rect x="450.07" y="69.98" width="18.6" height="0.77" fill="#edc8cb"/>
<rect x="450.07" y="70.72" width="18.6" height="0.77" fill="#fcf5f6"/>
<rect x="450.07" y="71.47" width="18.6" height="0.77" fill="#f3d9db"/>
<rect x="450.07" y="72.21" width="18.6" height="0.77" fill="#f8f9fc"/>
<rect x="450.07" y="72.96" width="18.6" height="0.77" fill="#f3f3f9"/>
<rect x="450.07" y="73.7" width="18.6" height="0.77" fill="#fcf7f7"/>
<rect x="450.07" y="74.45" width="18.6" height="0.77" fill="#f5e1e3"/>
<rect x="450.07" y="75.19" width="18.6" height="0.77" fill="#f3f3f9"/>
<rect x="450.07" y="75.94" width="18.6" height="0.77" fill="#fbf3f4"/>
<rect x="450.07" y="76.68" width="18.6" height="0.77" fill="#eecbce"/>
<rect x="450.07" y="77.42" width="18.6" height="0.77" fill="#f7e8e9"/>
<rect x="450.07" y="78.17" width="18.6" height="0.77" fill="#f0d0d2"/>
<rect x="450.07" y="78.91" width="18.6" height="0.77" fill="#e4aeb2"/>
<rect x="450.07" y="79.66" width="18.6" height="0.77" fill="#efcfd1"/>
<rect x="450.07" y="80.4" width="18.6" height="0.77" fill="#e3abae"/>
<rect x="450.07" y="81.15" width="18.6" height="0.77" fill="#e1a4a8"/>
<rect x="450.07" y="81.89" width="18.6" height="0.77" fill="#ecc4c7"/>
<rect x="450.07" y="82.64" width="18.6" height="0.77" fill="#de9ba0"/>
<rect x="450.07" y="83.38" width="18.6" height="0.77" fill="#dc969a"/>
<rect x="450.07" y="84.13" width="18.6" height="0.77" fill="#fcf6f6"/>
<rect x="450.07" y="84.87" width="18.6" height="0.77" fill="#fefbfc"/>
<rect x="450.07" y="85.62" width="18.6" height="0.77" fill="#dbdcec"/>
<rect x="450.07" y="86.36" width="18.6" height="0.77" fill="#d8d9eb"/>
<rect x="450.07" y="87.11" width="18.6" height="0.77" fill="#d4d5e9"/>
<rect x="450.07" y="87.85" width="18.6" height="0.77" fill="#f5e1e2"/>
<rect x="450.07" y="88.59" width="18.6" height="0.77" fill="#f4dee0"/>
<rect x="450.07" y="89.34" width="18.6" height="0.77" fill="#e8b9bc"/>
<rect x="450.07" y="90.08" width="18.6" height="0.77" fill="#e5afb2"/>
<rect x="450.07" y="90.83" width="18.6" height="0.77" fill="#f3dbdd"/>
<rect x="450.07" y="91.57" width="18.6" height="0.77" fill="#f4dfe0"/>
<rect x="450.07" y="92.32" width="18.6" height="0.77" fill="#f3f3f9"/>
<rect x="450.07" y="93.06" width="18.6" height="0.77" fill="#fcf7f7"/>
<rect x="450.07" y="93.81" width="18.6" height="0.77" fill="#f9f9fc"/>
<rect x="450.07" y="94.55" width="18.6" height="0.77" fill="#ebebf5"/>
<rect x="450.07" y="95.3" width="18.6" height="0.77" fill="#eecdcf"/>
<rect x="450.07" y="96.04" width="18.6" height="0.77" fill="#eeccce"/>
<rect x="450.07" y="96.79" width="18.6" height="0.77" fill="#f2d6d8"/>
<rect x="450.07" y="97.53" width="18.6" height="0.77" fill="#f2d9da"/>
<rect x="450.07" y="98.28" width="18.6" height="0.77" fill="#f6e2e4"/>
<rect x="450.07" y="99.02" width="18.6" height="0.77" fill="#e2e3f0"/>
<rect x="450.07" y="99.76" width="18.6" height="0.77" fill="#d7d8eb"/>
<rect x="450.07" y="100.51" width="18.6" height="0.77" fill="#eaebf4"/>
<rect x="450.07" y="101.25" width="18.6" height="0.77" fill="#cacbe4"/>
<rect x="450.07" y="102" width="18.6" height="0.77" fill="#eaebf4"/>
<rect x="450.07" y="102.74" width="18.6" height="0.77" fill="#d6d7ea"/>
<rect x="450.07" y="103.49" width="18.6" height="0.77" fill="#e7e7f2"/>
<rect x="450.07" y="104.23" width="18.6" height="0.77" fill="#e2e3f0"/>
<rect x="450.07" y="104.98" width="18.6" height="0.77" fill="#cfd0e6"/>
<rect x="450.07" y="105.72" width="18.6" height="0.77" fill="#bbbddc"/>
<rect x="450.07" y="106.47" width="18.6" height="0.77" fill="#a1a3cf"/>
<rect x="450.07" y="107.21" width="18.6" height="0.77" fill="#cacce4"/>
<rect x="450.07" y="107.96" width="18.6" height="0.77" fill="#eaebf4"/>
<rect x="450.07" y="108.7" width="18.6" height="0.77" fill="#f0f0f7"/>
<rect x="450.07" y="109.45" width="18.6" height="0.77" fill="#9194c7"/>
<rect x="450.07" y="110.19" width="18.6" height="0.77" fill="#b9bbdb"/>
<rect x="450.07" y="110.93" width="18.6" height="0.77" fill="#c3c4e0"/>
<rect x="450.07" y="111.68" width="18.6" height="0.77" fill="#b3b5d8"/>
<rect x="450.07" y="112.42" width="18.6" height="0.77" fill="#cfd0e6"/>
<rect x="450.07" y="113.17" width="18.6" height="0.77" fill="#cbcde4"/>
<rect x="450.07" y="113.91" width="18.6" height="0.77" fill="#b4b6d9"/>
<rect x="450.07" y="114.66" width="18.6" height="0.77" fill="#bfc1de"/>
<rect x="450.07" y="115.4" width="18.6" height="0.77" fill="#9c9ecc"/>
<rect x="450.07" y="116.15" width="18.6" height="0.77" fill="#aaacd3"/>
<rect x="450.07" y="116.89" width="18.6" height="0.77" fill="#acaed4"/>
<rect x="450.07" y="117.64" width="18.6" height="0.77" fill="#dfdfee"/>
<rect x="450.07" y="118.38" width="18.6" height="0.77" fill="#a6a8d1"/>
<rect x="450.07" y="119.13" width="18.6" height="0.77" fill="#c6c7e2"/>
<rect x="450.07" y="119.87" width="18.6" height="0.77" fill="#dcdded"/>
<rect x="450.07" y="120.62" width="18.6" height="0.77" fill="#c9cae3"/>
<rect x="450.07" y="121.36" width="18.6" height="0.77" fill="#c2c4e0"/>
<rect x="450.07" y="122.1" width="18.6" height="0.77" fill="#a1a4cf"/>
<rect x="450.07" y="122.85" width="18.6" height="0.77" fill="#babcdb"/>
<rect x="450.07" y="123.59" width="18.6" height="0.77" fill="#c4c6e1"/>
<rect x="450.07" y="124.34" width="18.6" height="0.77" fill="#e2e3f0"/>
<rect x="450.07" y="125.08" width="18.6" height="0.77" fill="#edc8cb"/>
<rect x="450.07" y="125.83" width="18.6" height="0.77" fill="#e8babd"/>
<rect x="450.07" y="126.57" width="18.6" height="0.77" fill="#f2d7d9"/>
<rect x="450.07" y="127.32" width="18.6" height="0.77" fill="#f1d6d7"/>
<rect x="450.07" y="128.06" width="18.6" height="0.77" fill="#e7b7ba"/>
<rect x="450.07" y="128.81" width="18.6" height="0.77" fill="#ebc2c4"/>
<rect x="450.07" y="129.55" width="18.6" height="0.77" fill="#e5b0b3"/>
<rect x="450.07" y="130.3" width="18.6" height="0.77" fill="#eabfc2"/>
<rect x="450.07" y="131.04" width="18.6" height="0.77" fill="#e0a1a5"/>
<rect x="450.07" y="131.79" width="18.6" height="0.77" fill="#de9ca0"/>
<rect x="450.07" y="132.53" width="18.6" height="0.77" fill="#fdf8f8"/>
<rect x="450.07" y="133.27" width="18.6" height="0.77" fill="#eabfc2"/>
<rect x="450.07" y="134.02" width="18.6" height="0.77" fill="#f4dddf"/>
<rect x="450.07" y="134.76" width="18.6" height="0.77" fill="#f3dcde"/>
<rect x="450.07" y="135.51" width="18.6" height="0.77" fill="#f8e9ea"/>
<rect x="450.07" y="136.25" width="18.6" height="0.77" fill="#edc8cb"/>
<rect x="450.07" y="137" width="18.6" height="0.77" fill="#faefef"/>
<rect x="450.07" y="137.74" width="18.6" height="0.77" fill="#f7e7e8"/>
<rect x="450.07" y="138.49" width="18.6" height="0.77" fill="#f7e7e8"/>
<rect x="450.07" y="139.23" width="18.6" height="0.77" fill="#f0d1d3"/>
<rect x="450.07" y="139.98" width="18.6" height="0.77" fill="#e8babd"/>
<rect x="450.07" y="140.72" width="18.6" height="0.77" fill="#eabec1"/>
<rect x="450.07" y="141.47" width="18.6" height="0.77" fill="#ecc6c8"/>
<rect x="450.07" y="142.21" width="18.6" height="0.77" fill="#f3dadc"/>
<rect x="450.07" y="142.96" width="18.6" height="0.77" fill="#fbf2f3"/>
<rect x="450.07" y="143.7" width="18.6" height="0.77" fill="#d4d5e9"/>
<rect x="450.07" y="144.44" width="18.6" height="0.77" fill="#cecfe6"/>
<rect x="450.07" y="145.19" width="18.6" height="0.77" fill="#d3d4e8"/>
<rect x="450.07" y="145.93" width="18.6" height="0.77" fill="#ebecf5"/>
<rect x="450.07" y="146.68" width="18.6" height="0.77" fill="#c7c8e2"/>
<rect x="450.07" y="147.42" width="18.6" height="0.77" fill="#f8eaeb"/>
<rect x="450.07" y="148.17" width="18.6" height="0.77" fill="#e6e6f2"/>
<rect x="450.07" y="148.91" width="18.6" height="0.77" fill="#f3dadc"/>
<rect x="450.07" y="149.66" width="18.6" height="0.77" fill="#f7e7e8"/>
<rect x="450.07" y="150.4" width="18.6" height="0.77" fill="#fcf5f6"/>
<rect x="450.07" y="151.15" width="18.6" height="0.77" fill="#fcf6f7"/>
<rect x="450.07" y="151.89" width="18.6" height="0.77" fill="#e8e9f3"/>
<rect x="450.07" y="152.64" width="18.6" height="0.77" fill="#f3f4f9"/>
<rect x="450.07" y="153.38" width="18.6" height="0.77" fill="#f1d5d7"/>
<rect x="450.07" y="154.13" width="18.6" height="0.77" fill="#faefef"/>
<rect x="450.07" y="154.87" width="18.6" height="0.77" fill="#e0a2a6"/>
<rect x="450.07" y="155.61" width="18.6" height="0.77" fill="#e1a5a9"/>
<rect x="450.07" y="156.36" width="18.6" height="0.77" fill="#e2a8ab"/>
<rect x="450.07" y="157.1" width="18.6" height="0.77" fill="#e5b1b4"/>
<rect x="450.07" y="157.85" width="18.6" height="0.77" fill="#d7858a"/>
<rect x="450.07" y="158.59" width="18.6" height="0.77" fill="#f7e8e9"/>
<rect x="450.07" y="159.34" width="18.6" height="0.77" fill="#f2d7d8"/>
<rect x="450.07" y="160.08" width="18.6" height="0.77" fill="#f8ebeb"/>
<rect x="450.07" y="160.83" width="18.6" height="0.77" fill="#f9edee"/>
<rect x="450.07" y="161.57" width="18.6" height="0.77" fill="#e3e4f1"/>
<rect x="450.07" y="162.32" width="18.6" height="0.77" fill="#dfdfee"/>
<rect x="450.07" y="163.06" width="18.6" height="0.77" fill="#f1d4d6"/>
<rect x="450.07" y="163.81" width="18.6" height="0.77" fill="#f1d6d7"/>
<rect x="450.07" y="164.55" width="18.6" height="0.77" fill="#fffefe"/>
<rect x="450.07" y="165.3" width="18.6" height="0.77" fill="#fcf5f6"/>
<rect x="450.07" y="166.04" width="18.6" height="0.77" fill="#e7b7ba"/>
<rect x="450.07" y="166.78" width="18.6" height="0.77" fill="#f2d9da"/>
<rect x="450.07" y="167.53" width="18.6" height="0.77" fill="#df9fa3"/>
<rect x="450.07" y="168.27" width="18.6" height="0.77" fill="#f3dadb"/>
<rect x="450.07" y="169.02" width="18.6" height="0.77" fill="#f0d3d5"/>
<rect x="450.07" y="169.76" width="18.6" height="0.77" fill="#f6f6fa"/>
<rect x="450.07" y="170.51" width="18.6" height="0.77" fill="#e4aeb1"/>
<rect x="450.07" y="171.25" width="18.6" height="0.77" fill="#eecdcf"/>
<rect x="450.07" y="172" width="18.6" height="0.77" fill="#e3acaf"/>
<rect x="450.07" y="172.74" width="18.6" height="0.77" fill="#f6e3e4"/>
<rect x="450.07" y="173.49" width="18.6" height="0.77" fill="#fdf8f8"/>
<rect x="450.07" y="174.23" width="18.6" height="0.77" fill="#fefdfd"/>
<rect x="450.07" y="174.98" width="18.6" height="0.77" fill="#fefbfb"/>
<rect x="450.07" y="175.72" width="18.6" height="0.77" fill="#f1d3d5"/>
<rect x="450.07" y="176.47" width="18.6" height="0.77" fill="#efcfd1"/>
<rect x="450.07" y="177.21" width="18.6" height="0.77" fill="#dd989d"/>
<rect x="450.07" y="177.95" width="18.6" height="0.77" fill="#e9bec1"/>
<rect x="450.07" y="178.7" width="18.6" height="0.77" fill="#e0a3a7"/>
<rect x="450.07" y="179.44" width="18.6" height="0.77" fill="#dd999d"/>
<rect x="450.07" y="180.19" width="18.6" height="0.77" fill="#e3aaad"/>
<rect x="450.07" y="180.93" width="18.6" height="0.77" fill="#db9196"/>
<rect x="450.07" y="181.68" width="18.6" height="0.77" fill="#db9397"/>
<rect x="450.07" y="182.42" width="18.6" height="0.77" fill="#e5b0b3"/>
<rect x="450.07" y="183.17" width="18.6" height="0.77" fill="#dd989c"/>
<rect x="450.07" y="183.91" width="18.6" height="0.77" fill="#d37b81"/>
<rect x="450.07" y="184.66" width="18.6" height="0.77" fill="#dd999e"/>
<rect x="450.07" y="185.4" width="18.6" height="0.77" fill="#d68388"/>
<rect x="450.07" y="186.15" width="18.6" height="0.77" fill="#d17379"/>
<rect x="450.07" y="186.89" width="18.6" height="0.77" fill="#e0a1a5"/>
<rect x="450.07" y="187.64" width="18.6" height="0.77" fill="#d7878c"/>
<rect x="450.07" y="188.38" width="18.6" height="0.77" fill="#f2d9db"/>
<rect x="450.07" y="189.12" width="18.6" height="0.77" fill="#ebc2c5"/>
<rect x="450.07" y="189.87" width="18.6" height="0.77" fill="#f0d3d5"/>
<rect x="450.07" y="190.61" width="18.6" height="0.77" fill="#edc8cb"/>
<rect x="450.07" y="191.36" width="18.6" height="0.77" fill="#eac0c2"/>
<rect x="450.07" y="192.1" width="18.6" height="0.77" fill="#f9f9fc"/>
<rect x="450.07" y="192.85" width="18.6" height="0.77" fill="#fbfbfd"/>
<rect x="450.07" y="193.59" width="18.6" height="0.77" fill="#c9cae3"/>
<rect x="450.07" y="194.34" width="18.6" height="0.77" fill="#f4dedf"/>
<rect x="450.07" y="195.08" width="18.6" height="0.77" fill="#f9f9fc"/>
<rect x="450.07" y="195.83" width="18.6" height="0.77" fill="#fefdfe"/>
<rect x="450.07" y="196.57" width="18.6" height="0.77" fill="#fbf4f4"/>
<rect x="450.07" y="197.32" width="18.6" height="0.77" fill="#f5e0e1"/>
<rect x="450.07" y="198.06" width="18.6" height="0.77" fill="#fefcfc"/>
<rect x="450.07" y="198.81" width="18.6" height="0.77" fill="#faeff0"/>
<rect x="450.07" y="199.55" width="18.6" height="0.77" fill="#f2d8da"/>
<rect x="450.07" y="200.29" width="18.6" height="0.77" fill="#ebc3c5"/>
<rect x="450.07" y="201.04" width="18.6" height="0.77" fill="#f4dedf"/>
<rect x="450.07" y="201.78" width="18.6" height="0.77" fill="#ecc5c7"/>
<rect x="450.07" y="202.53" width="18.6" height="0.77" fill="#ecc7c9"/>
<rect x="450.07" y="203.27" width="18.6" height="0.77" fill="#e0a0a4"/>
<rect x="450.07" y="204.02" width="18.6" height="0.77" fill="#d68388"/>
<rect x="450.07" y="204.76" width="18.6" height="0.77" fill="#df9da1"/>
<rect x="450.07" y="205.51" width="18.6" height="0.77" fill="#e7b6b9"/>
<rect x="450.07" y="206.25" width="18.6" height="0.77" fill="#dd979b"/>
<rect x="450.07" y="207" width="18.6" height="0.77" fill="#e6b3b6"/>
<rect x="450.07" y="207.74" width="18.6" height="0.77" fill="#e7b6ba"/>
<rect x="450.07" y="208.49" width="18.6" height="0.77" fill="#e5b1b4"/>
<rect x="450.07" y="209.23" width="18.6" height="0.77" fill="#d6848a"/>
<rect x="450.07" y="209.98" width="18.6" height="0.77" fill="#e5b1b4"/>
<rect x="450.07" y="210.72" width="18.6" height="0.77" fill="#db9498"/>
<rect x="450.07" y="211.46" width="18.6" height="0.77" fill="#e0a2a6"/>
<rect x="450.07" y="212.21" width="18.6" height="0.77" fill="#d68287"/>
<rect x="450.07" y="212.95" width="18.6" height="0.77" fill="#df9ea2"/>
<rect x="450.07" y="213.7" width="18.6" height="0.77" fill="#e4aeb1"/>
<rect x="450.07" y="214.44" width="18.6" height="0.77" fill="#fefefe"/>
<rect x="450.07" y="215.19" width="18.6" height="0.77" fill="#f3dbdd"/>
<rect x="450.07" y="215.93" width="18.6" height="0.77" fill="#f2d7d9"/>
<rect x="450.07" y="216.68" width="18.6" height="0.77" fill="#f5f6fa"/>
<rect x="450.07" y="217.42" width="18.6" height="0.77" fill="#fcf6f6"/>
<rect x="450.07" y="218.17" width="18.6" height="0.77" fill="#f3f3f9"/>
<rect x="450.07" y="218.91" width="18.6" height="0.77" fill="#fcfcfd"/>
<rect x="450.07" y="219.66" width="18.6" height="0.77" fill="#c7c8e2"/>
<rect x="450.07" y="220.4" width="18.6" height="0.77" fill="#dbdced"/>
<rect x="450.07" y="221.15" width="18.6" height="0.77" fill="#f7f8fb"/>
<rect x="450.07" y="221.89" width="18.6" height="0.77" fill="#fefcfc"/>
<rect x="450.07" y="222.63" width="18.6" height="0.77" fill="#fdfafa"/>
<rect x="450.07" y="223.38" width="18.6" height="0.77" fill="#fefcfc"/>
<rect x="450.07" y="224.12" width="18.6" height="0.77" fill="#f1f2f8"/>
<rect x="450.07" y="224.87" width="18.6" height="0.77" fill="#faeff0"/>
<rect x="450.07" y="225.61" width="18.6" height="0.77" fill="#edc8ca"/>
<rect x="450.07" y="226.36" width="18.6" height="0.77" fill="#f9ecec"/>
<rect x="450.07" y="227.1" width="18.6" height="0.77" fill="#eeccce"/>
<rect x="450.07" y="227.85" width="18.6" height="0.77" fill="#e7b7ba"/>
<rect x="450.07" y="228.59" width="18.6" height="0.77" fill="#edcacc"/>
<rect x="450.07" y="229.34" width="18.6" height="0.77" fill="#e8babd"/>
<rect x="450.07" y="230.08" width="18.6" height="0.77" fill="#f3dadb"/>
<rect x="450.07" y="230.83" width="18.6" height="0.77" fill="#e5b1b5"/>
<rect x="450.07" y="231.57" width="18.6" height="0.77" fill="#f4dfe0"/>
<rect x="450.07" y="232.32" width="18.6" height="0.77" fill="#e2a7aa"/>
<rect x="450.07" y="233.06" width="18.6" height="0.77" fill="#fdfafa"/>
<rect x="450.07" y="233.8" width="18.6" height="0.77" fill="#ffffff"/>
<rect x="450.07" y="234.55" width="18.6" height="0.77" fill="#fbfbfd"/>
<rect x="450.07" y="235.29" width="18.6" height="0.77" fill="#fdf9f9"/>
<rect x="450.07" y="236.04" width="18.6" height="0.77" fill="#fefbfb"/>
<rect x="450.07" y="236.78" width="18.6" height="0.77" fill="#f0d3d5"/>
<rect x="450.07" y="237.53" width="18.6" height="0.77" fill="#eecbcd"/>
<rect x="450.07" y="238.27" width="18.6" height="0.77" fill="#e7b6ba"/>
<rect x="450.07" y="239.02" width="18.6" height="0.77" fill="#e5b2b5"/>
<rect x="450.07" y="239.76" width="18.6" height="0.77" fill="#eecbce"/>
<rect x="450.07" y="240.51" width="18.6" height="0.77" fill="#eecdcf"/>
<rect x="450.07" y="241.25" width="18.6" height="0.77" fill="#fefcfc"/>
<rect x="450.07" y="242" width="18.6" height="0.77" fill="#fefcfc"/>
<rect x="450.07" y="242.74" width="18.6" height="0.77" fill="#fffefe"/>
<rect x="450.07" y="243.49" width="18.6" height="0.77" fill="#f3dadc"/>
<rect x="450.07" y="244.23" width="18.6" height="0.77" fill="#f6e5e6"/>
<rect x="450.07" y="244.97" width="18.6" height="0.77" fill="#f5e2e3"/>
<rect x="450.07" y="245.72" width="18.6" height="0.77" fill="#e3aaad"/>
<rect x="450.07" y="246.46" width="18.6" height="0.77" fill="#e0a0a5"/>
<rect x="450.07" y="247.21" width="18.6" height="0.77" fill="#e2a8ac"/>
<rect x="450.07" y="247.95" width="18.6" height="0.77" fill="#f9edee"/>
<rect x="450.07" y="248.7" width="18.6" height="0.77" fill="#efced0"/>
<rect x="450.07" y="249.44" width="18.6" height="0.77" fill="#e9bdc0"/>
<rect x="450.07" y="250.19" width="18.6" height="0.77" fill="#eeccce"/>
<rect x="450.07" y="250.93" width="18.6" height="0.77" fill="#faf0f1"/>
<rect x="450.07" y="251.68" width="18.6" height="0.77" fill="#fdf8f8"/>
<rect x="450.07" y="252.42" width="18.6" height="0.77" fill="#e8e9f3"/>
<rect x="450.07" y="253.17" width="18.6" height="0.77" fill="#f3f3f9"/>
<rect x="450.07" y="253.91" width="18.6" height="0.77" fill="#ebc3c6"/>
<rect x="450.07" y="254.66" width="18.6" height="0.77" fill="#f5e2e3"/>
<rect x="468.65" y="32" width="18.6" height="0.77" fill="#f8f8fb"/>
<rect x="468.65" y="32.74" width="18.6" height="0.77" fill="#f7f7fb"/>
<rect x="468.65" y="33.49" width="18.6" height="0.77" fill="#f4dddf"/>
<rect x="468.65" y="34.23" width="18.6" height="0.77" fill="#fbf3f4"/>
<rect x="468.65" y="34.98" width="18.6" height="0.77" fill="#f3dbdc"/>
<rect x="468.65" y="35.72" width="18.6" height="0.77" fill="#f0f1f7"/>
<rect x="468.65" y="36.47" width="18.6" height="0.77" fill="#fafafd"/>
<rect x="468.65" y="37.21" width="18.6" height="0.77" fill="#fdfafa"/>
<rect x="468.65" y="37.96" width="18.6" height="0.77" fill="#e7e8f3"/>
<rect x="468.65" y="38.7" width="18.6" height="0.77" fill="#d3d4e9"/>
<rect x="468.65" y="39.45" width="18.6" height="0.77" fill="#c9cbe3"/>
<rect x="468.65" y="40.19" width="18.6" height="0.77" fill="#d5d6e9"/>
<rect x="468.65" y="40.94" width="18.6" height="0.77" fill="#e0e1ef"/>
<rect x="468.65" y="41.68" width="18.6" height="0.77" fill="#e3e4f1"/>
<rect x="468.65" y="42.43" width="18.6" height="0.77" fill="#e3e4f1"/>
<rect x="468.65" y="43.17" width="18.6" height="0.77" fill="#bbbddc"/>
<rect x="468.65" y="43.91" width="18.6" height="0.77" fill="#9b9ecc"/>
<rect x="468.65" y="44.66" width="18.6" height="0.77" fill="#cfd0e6"/>
<rect x="468.65" y="45.4" width="18.6" height="0.77" fill="#dddeed"/>
<rect x="468.65" y="46.15" width="18.6" height="0.77" fill="#b8bada"/>
<rect x="468.65" y="46.89" width="18.6" height="0.77" fill="#cecfe6"/>
<rect x="468.65" y="47.64" width="18.6" height="0.77" fill="#e6e7f2"/>
<rect x="468.65" y="48.38" width="18.6" height="0.77" fill="#d9daeb"/>
<rect x="468.65" y="49.13" width="18.6" height="0.77" fill="#cecfe6"/>
<rect x="468.65" y="49.87" width="18.6" height="0.77" fill="#c6c8e2"/>
<rect x="468.65" y="50.62" width="18.6" height="0.77" fill="#dedfee"/>
<rect x="468.65" y="51.36" width="18.6" height="0.77" fill="#d4d5e9"/>
<rect x="468.65" y="52.11" width="18.6" height="0.77" fill="#fefefe"/>
<rect x="468.65" y="52.85" width="18.6" height="0.77" fill="#fcf5f6"/>
<rect x="468.65" y="53.6" width="18.6" height="0.77" fill="#d7d8ea"/>
<rect x="468.65" y="54.34" width="18.6" height="0.77" fill="#d8d9eb"/>
<rect x="468.65" y="55.08" width="18.6" height="0.77" fill="#dfdfee"/>
<rect x="468.65" y="55.83" width="18.6" height="0.77" fill="#d0d1e7"/>
<rect x="468.65" y="56.57" width="18.6" height="0.77" fill="#c9cae3"/>
<rect x="468.65" y="57.32" width="18.6" height="0.77" fill="#d1d2e7"/>
<rect x="468.65" y="58.06" width="18.6" height="0.77" fill="#d2d3e8"/>
<rect x="468.65" y="58.81" width="18.6" height="0.77" fill="#fdfdfe"/>
<rect x="468.65" y="59.55" width="18.6" height="0.77" fill="#f8f8fb"/>
<rect x="468.65" y="60.3" width="18.6" height="0.77" fill="#f0d3d5"/>
<rect x="468.65" y="61.04" width="18.6" height="0.77" fill="#f9eced"/>
<rect x="468.65" y="61.79" width="18.6" height="0.77" fill="#a8aad2"/>
<rect x="468.65" y="62.53" width="18.6" height="0.77" fill="#afb1d6"/>
<rect x="468.65" y="63.28" width="18.6" height="0.77" fill="#d6d7ea"/>
<rect x="468.65" y="64.02" width="18.6" height="0.77" fill="#d4d5e9"/>
<rect x="468.65" y="64.77" width="18.6" height="0.77" fill="#b4b6d8"/>
<rect x="468.65" y="65.51" width="18.6" height="0.77" fill="#adafd5"/>
<rect x="468.65" y="66.25" width="18.6" height="0.77" fill="#8f92c5"/>
<rect x="468.65" y="67" width="18.6" height="0.77" fill="#a8aad2"/>
<rect x="468.65" y="67.74" width="18.6" height="0.77" fill="#acaed4"/>
<rect x="468.65" y="68.49" width="18.6" height="0.77" fill="#9fa1ce"/>
<rect x="468.65" y="69.23" width="18.6" height="0.77" fill="#d7d8ea"/>
<rect x="468.65" y="69.98" width="18.6" height="0.77" fill="#8588c0"/>
<rect x="468.65" y="70.72" width="18.6" height="0.77" fill="#acaed5"/>
<rect x="468.65" y="71.47" width="18.6" height="0.77" fill="#b9badb"/>
<rect x="468.65" y="72.21" width="18.6" height="0.77" fill="#b9bbdb"/>
<rect x="468.65" y="72.96" width="18.6" height="0.77" fill="#efcdcf"/>
<rect x="468.65" y="73.7" width="18.6" height="0.77" fill="#efeff7"/>
<rect x="468.65" y="74.45" width="18.6" height="0.77" fill="#fefefe"/>
<rect x="468.65" y="75.19" width="18.6" height="0.77" fill="#faefef"/>
<rect x="468.65" y="75.94" width="18.6" height="0.77" fill="#f9eeef"/>
<rect x="468.65" y="76.68" width="18.6" height="0.77" fill="#fdf9f9"/>
<rect x="468.65" y="77.42" width="18.6" height="0.77" fill="#fdfdfe"/>
<rect x="468.65" y="78.17" width="18.6" height="0.77" fill="#f3dadc"/>
<rect x="468.65" y="78.91" width="18.6" height="0.77" fill="#f7f7fb"/>
<rect x="468.65" y="79.66" width="18.6" height="0.77" fill="#fefdfd"/>
<rect x="468.65" y="80.4" width="18.6" height="0.77" fill="#f5e1e3"/>
<rect x="468.65" y="81.15" width="18.6" height="0.77" fill="#f3dbdd"/>
<rect x="468.65" y="81.89" width="18.6" height="0.77" fill="#f9edee"/>
<rect x="468.65" y="82.64" width="18.6" height="0.77" fill="#ebecf5"/>
<rect x="468.65" y="83.38" width="18.6" height="0.77" fill="#ebecf5"/>
<rect x="468.65" y="84.13" width="18.6" height="0.77" fill="#fafafc"/>
<rect x="468.65" y="84.87" width="18.6" height="0.77" fill="#f5f5fa"/>
<rect x="468.65" y="85.62" width="18.6" height="0.77" fill="#fdf9fa"/>
<rect x="468.65" y="86.36" width="18.6" height="0.77" fill="#f1d6d8"/>
<rect x="468.65" y="87.11" width="18.6" height="0.77" fill="#f9eced"/>
<rect x="468.65" y="87.85" width="18.6" height="0.77" fill="#f7e8e9"/>
<rect x="468.65" y="88.59" width="18.6" height="0.77" fill="#f8e9ea"/>
<rect x="468.65" y="89.34" width="18.6" height="0.77" fill="#faf1f2"/>
<rect x="468.65" y="90.08" width="18.6" height="0.77" fill="#eabfc2"/>
<rect x="468.65" y="90.83" width="18.6" height="0.77" fill="#fbfbfd"/>
<rect x="468.65" y="91.57" width="18.6" height="0.77" fill="#f5e1e3"/>
<rect x="468.65" y="92.32" width="18.6" height="0.77" fill="#f8f8fc"/>
<rect x="468.65" y="93.06" width="18.6" height="0.77" fill="#fefdfd"/>
<rect x="468.65" y="93.81" width="18.6" height="0.77" fill="#f7f7fb"/>
<rect x="468.65" y="94.55" width="18.6" height="0.77" fill="#f0d3d5"/>
<rect x="468.65" y="95.3" width="18.6" height="0.77" fill="#ededf6"/>
<rect x="468.65" y="96.04" width="18.6" height="0.77" fill="#f1d5d7"/>
<rect x="468.65" y="96.79" width="18.6" height="0.77" fill="#d7d8eb"/>
<rect x="468.65" y="97.53" width="18.6" height="0.77" fill="#d6d7ea"/>
<rect x="468.65" y="98.28" width="18.6" height="0.77" fill="#fcfcfd"/>
<rect x="468.65" y="99.02" width="18.6" height="0.77" fill="#fbf4f4"/>
<rect x="468.65" y="99.76" width="18.6" height="0.77" fill="#f8f8fb"/>
<rect x="468.65" y="100.51" width="18.6" height="0.77" fill="#d1d2e7"/>
<rect x="468.65" y="101.25" width="18.6" height="0.77" fill="#f5e1e3"/>
<rect x="468.65" y="102" width="18.6" height="0.77" fill="#fbf4f4"/>
<rect x="468.65" y="102.74" width="18.6" height="0.77" fill="#f4dfe0"/>
<rect x="468.65" y="103.49" width="18.6" height="0.77" fill="#fbf4f4"/>
<rect x="468.65" y="104.23" width="18.6" height="0.77" fill="#f3dadb"/>
<rect x="468.65" y="104.98" width="18.6" height="0.77" fill="#fbf3f4"/>
<rect x="468.65" y="105.72" width="18.6" height="0.77" fill="#f7e6e8"/>
<rect x="468.65" y="106.47" width="18.6" height="0.77" fill="#fafafc"/>
<rect x="468.65" y="107.21" width="18.6" height="0.77" fill="#f7e6e7"/>
<rect x="468.65" y="107.96" width="18.6" height="0.77" fill="#f3f4f9"/>
<rect x="468.65" y="108.7" width="18.6" height="0.77" fill="#f6f6fa"/>
<rect x="468.65" y="109.45" width="18.6" height="0.77" fill="#f8e9ea"/>
<rect x="468.65" y="110.19" width="18.6" height="0.77" fill="#f3f4f9"/>
<rect x="468.65" y="110.93" width="18.6" height="0.77" fill="#eeeef6"/>
<rect x="468.65" y="111.68" width="18.6" height="0.77" fill="#e9e9f4"/>
<rect x="468.65" y="112.42" width="18.6" height="0.77" fill="#fefbfb"/>
<rect x="468.65" y="113.17" width="18.6" height="0.77" fill="#dfe0ef"/>
<rect x="468.65" y="113.91" width="18.6" height="0.77" fill="#eeeff6"/>
<rect x="468.65" y="114.66" width="18.6" height="0.77" fill="#f9eeef"/>
<rect x="468.65" y="115.4" width="18.6" height="0.77" fill="#ecedf5"/>
<rect x="468.65" y="116.15" width="18.6" height="0.77" fill="#d2d3e8"/>
<rect x="468.65" y="116.89" width="18.6" height="0.77" fill="#c8cae3"/>
<rect x="468.65" y="117.64" width="18.6" height="0.77" fill="#faeeef"/>
<rect x="468.65" y="118.38" width="18.6" height="0.77" fill="#f2f2f8"/>
<rect x="468.65" y="119.13" width="18.6" height="0.77" fill="#e9eaf4"/>
<rect x="468.65" y="119.87" width="18.6" height="0.77" fill="#fcfcfe"/>
<rect x="468.65" y="120.62" width="18.6" height="0.77" fill="#f5f5fa"/>
<rect x="468.65" y="121.36" width="18.6" height="0.77" fill="#ededf6"/>
<rect x="468.65" y="122.1" width="18.6" height="0.77" fill="#b8bada"/>
<rect x="468.65" y="122.85" width="18.6" height="0.77" fill="#fcfdfe"/>
<rect x="468.65" y="123.59" width="18.6" height="0.77" fill="#c8c9e3"/>
<rect x="468.65" y="124.34" width="18.6" height="0.77" fill="#dbdced"/>
<rect x="468.65" y="125.08" width="18.6" height="0.77" fill="#f3dadb"/>
<rect x="468.65" y="125.83" width="18.6" height="0.77" fill="#f6e3e4"/>
<rect x="468.65" y="126.57" width="18.6" height="0.77" fill="#f2d9da"/>
<rect x="468.65" y="127.32" width="18.6" height="0.77" fill="#fefdfd"/>
<rect x="468.65" y="128.06" width="18.6" height="0.77" fill="#e4e5f1"/>
<rect x="468.65" y="128.81" width="18.6" height="0.77" fill="#f4dedf"/>
<rect x="468.65" y="129.55" width="18.6" height="0.77" fill="#fefdfd"/>
<rect x="468.65" y="130.3" width="18.6" height="0.77" fill="#f7e6e7"/>
<rect x="468.65" y="131.04" width="18.6" height="0.77" fill="#ecc6c8"/>
<rect x="468.65" y="131.79" width="18.6" height="0.77" fill="#f4dedf"/>
<rect x="468.65" y="132.53" width="18.6" height="0.77" fill="#f0f0f7"/>
<rect x="468.65" y="133.27" width="18.6" height="0.77" fill="#e4e4f1"/>
<rect x="468.65" y="134.02" width="18.6" height="0.77" fill="#f7f7fb"/>
<rect x="468.65" y="134.76" width="18.6" height="0.77" fill="#f9f9fc"/>
<rect x="468.65" y="135.51" width="18.6" height="0.77" fill="#d9daec"/>
<rect x="468.65" y="136.25" width="18.6" height="0.77" fill="#eac0c2"/>
<rect x="468.65" y="137" width="18.6" height="0.77" fill="#f4ddde"/>
<rect x="468.65" y="137.74" width="18.6" height="0.77" fill="#ebc1c4"/>
<rect x="468.65" y="138.49" width="18.6" height="0.77" fill="#efcfd1"/>
<rect x="468.65" y="139.23" width="18.6" height="0.77" fill="#e5b1b5"/>
<rect x="468.65" y="139.98" width="18.6" height="0.77" fill="#e9bec1"/>
<rect x="468.65" y="140.72" width="18.6" height="0.77" fill="#efd0d2"/>
<rect x="468.65" y="141.47" width="18.6" height="0.77" fill="#f0d2d4"/>
<rect x="468.65" y="142.21" width="18.6" height="0.77" fill="#ecc7c9"/>
<rect x="468.65" y="142.96" width="18.6" height="0.77" fill="#e6b3b6"/>
<rect x="468.65" y="143.7" width="18.6" height="0.77" fill="#ebc3c6"/>
<rect x="468.65" y="144.44" width="18.6" height="0.77" fill="#f1d6d8"/>
<rect x="468.65" y="145.19" width="18.6" height="0.77" fill="#f0d3d5"/>
<rect x="468.65" y="145.93" width="18.6" height="0.77" fill="#e8b8bb"/>
<rect x="468.65" y="146.68" width="18.6" height="0.77" fill="#fefbfc"/>
<rect x="468.65" y="147.42" width="18.6" height="0.77" fill="#fcf5f5"/>
<rect x="468.65" y="148.17" width="18.6" height="0.77" fill="#e9eaf4"/>
<rect x="468.65" y="148.91" width="18.6" height="0.77" fill="#f6e4e5"/>
<rect x="468.65" y="149.66" width="18.6" height="0.77" fill="#f3f3f9"/>
<rect x="468.65" y="150.4" width="18.6" height="0.77" fill="#fbfcfd"/>
<rect x="468.65" y="151.15" width="18.6" height="0.77" fill="#cbcce4"/>
<rect x="468.65" y="151.89" width="18.6" height="0.77" fill="#e4e5f1"/>
<rect x="468.65" y="152.64" width="18.6" height="0.77" fill="#f6f6fa"/>
<rect x="468.65" y="153.38" width="18.6" height="0.77" fill="#fcf5f6"/>
<rect x="468.65" y="154.13" width="18.6" height="0.77" fill="#c7c9e2"/>
<rect x="468.65" y="154.87" width="18.6" height="0.77" fill="#dadbec"/>
<rect x="468.65" y="155.61" width="18.6" height="0.77" fill="#ecc6c8"/>
<rect x="468.65" y="156.36" width="18.6" height="0.77" fill="#f9fafc"/>
<rect x="468.65" y="157.1" width="18.6" height="0.77" fill="#e4e5f1"/>
<rect x="468.65" y="157.85" width="18.6" height="0.77" fill="#f0f0f7"/>
<rect x="468.65" y="158.59" width="18.6" height="0.77" fill="#7377b7"/>
<rect x="468.65" y="159.34" width="18.6" height="0.77" fill="#d4d5e9"/>
<rect x="468.65" y="160.08" width="18.6" height="0.77" fill="#b3b5d8"/>
<rect x="468.65" y="160.83" width="18.6" height="0.77" fill="#8f92c6"/>
<rect x="468.65" y="161.57" width="18.6" height="0.77" fill="#cacbe4"/>
<rect x="468.65" y="162.32" width="18.6" height="0.77" fill="#878ac1"/>
<rect x="468.65" y="163.06" width="18.6" height="0.77" fill="#7e81bd"/>
<rect x="468.65" y="163.81" width="18.6" height="0.77" fill="#a1a4cf"/>
<rect x="468.65" y="164.55" width="18.6" height="0.77" fill="#9fa1cd"/>
<rect x="468.65" y="165.3" width="18.6" height="0.77" fill="#8b8ec3"/>
<rect x="468.65" y="166.04" width="18.6" height="0.77" fill="#aeb0d5"/>
<rect x="468.65" y="166.78" width="18.6" height="0.77" fill="#9294c7"/>
<rect x="468.65" y="167.53" width="18.6" height="0.77" fill="#8f92c6"/>
<rect x="468.65" y="168.27" width="18.6" height="0.77" fill="#c4c6e1"/>
<rect x="468.65" y="169.02" width="18.6" height="0.77" fill="#cecfe6"/>
<rect x="468.65" y="169.76" width="18.6" height="0.77" fill="#e4e4f1"/>
<rect x="468.65" y="170.51" width="18.6" height="0.77" fill="#e3e3f0"/>
<rect x="468.65" y="171.25" width="18.6" height="0.77" fill="#d1d2e7"/>
<rect x="468.65" y="172" width="18.6" height="0.77" fill="#d7d8eb"/>
<rect x="468.65" y="172.74" width="18.6" height="0.77" fill="#c5c6e1"/>
<rect x="468.65" y="173.49" width="18.6" height="0.77" fill="#f3dadc"/>
<rect x="468.65" y="174.23" width="18.6" height="0.77" fill="#f2f2f8"/>
<rect x="468.65" y="174.98" width="18.6" height="0.77" fill="#fcf6f7"/>
<rect x="468.65" y="175.72" width="18.6" height="0.77" fill="#ffffff"/>
<rect x="468.65" y="176.47" width="18.6" height="0.77" fill="#dfe0ef"/>
<rect x="468.65" y="177.21" width="18.6" height="0.77" fill="#faefef"/>
<rect x="468.65" y="177.95" width="18.6" height="0.77" fill="#dcdded"/>
<rect x="468.65" y="178.7" width="18.6" height="0.77" fill="#d3d4e9"/>
<rect x="468.65" y="179.44" width="18.6" height="0.77" fill="#e7e8f3"/>
<rect x="468.65" y="180.19" width="18.6" height="0.77" fill="#d0d1e7"/>
<rect x="468.65" y="180.93" width="18.6" height="0.77" fill="#fffefe"/>
<rect x="468.65" y="181.68" width="18.6" height="0.77" fill="#e9eaf4"/>
<rect x="468.65" y="182.42" width="18.6" height="0.77" fill="#fbf3f4"/>
<rect x="468.65" y="183.17" width="18.6" height="0.77" fill="#fffefe"/>
<rect x="468.65" y="183.91" width="18.6" height="0.77" fill="#e0e1ef"/>
<rect x="468.65" y="184.66" width="18.6" height="0.77" fill="#ebc2c5"/>
<rect x="468.65" y="185.4" width="18.6" height="0.77" fill="#f1d4d6"/>
<rect x="468.65" y="186.15" width="18.6" height="0.77" fill="#faeff0"/>
<rect x="468.65" y="186.89" width="18.6" height="0.77" fill="#f0d0d2"/>
<rect x="468.65" y="187.64" width="18.6" height="0.77" fill="#efcfd1"/>
<rect x="468.65" y="188.38" width="18.6" height="0.77" fill="#eabfc2"/>
<rect x="468.65" y="189.12" width="18.6" height="0.77" fill="#fdf9f9"/>
<rect x="468.65" y="189.87" width="18.6" height="0.77" fill="#f1d4d6"/>
<rect x="468.65" y="190.61" width="18.6" height="0.77" fill="#f8e8e9"/>
<rect x="468.65" y="191.36" width="18.6" height="0.77" fill="#f3d9db"/>
<rect x="468.65" y="192.1" width="18.6" height="0.77" fill="#dfe0ee"/>
<rect x="468.65" y="192.85" width="18.6" height="0.77" fill="#e4e4f1"/>
<rect x="468.65" y="193.59" width="18.6" height="0.77" fill="#f0f0f7"/>
<rect x="468.65" y="194.34" width="18.6" height="0.77" fill="#cacbe4"/>
<rect x="468.65" y="195.08" width="18.6" height="0.77" fill="#b5b7d9"/>
<rect x="468.65" y="195.83" width="18.6" height="0.77" fill="#dadbec"/>
<rect x="468.65" y="196.57" width="18.6" height="0.77" fill="#d0d1e7"/>
<rect x="468.65" y="197.32" width="18.6" height="0.77" fill="#dcdded"/>
<rect x="468.65" y="198.06" width="18.6" height="0.77" fill="#e9e9f4"/>
<rect x="468.65" y="198.81" width="18.6" height="0.77" fill="#d6d7ea"/>
<rect x="468.65" y="199.55" width="18.6" height="0.77" fill="#f7e6e7"/>
<rect x="468.65" y="200.29" width="18.6" height="0.77" fill="#fefeff"/>
<rect x="468.65" y="201.04" width="18.6" height="0.77" fill="#fefcfc"/>
<rect x="468.65" y="201.78" width="18.6" height="0.77" fill="#f9edee"/>
<rect x="468.65" y="202.53" width="18.6" height="0.77" fill="#fbf2f3"/>
<rect x="468.65" y="203.27" width="18.6" height="0.77" fill="#d9daeb"/>
<rect x="468.65" y="204.02" width="18.6" height="0.77" fill="#dedeee"/>
<rect x="468.65" y="204.76" width="18.6" height="0.77" fill="#cacbe4"/>
<rect x="468.65" y="205.51" width="18.6" height="0.77" fill="#cdcee5"/>
<rect x="468.65" y="206.25" width="18.6" height="0.77" fill="#dddeee"/>
<rect x="468.65" y="207" width="18.6" height="0.77" fill="#f8f8fb"/>
<rect x="468.65" y="207.74" width="18.6" height="0.77" fill="#dbdced"/>
<rect x="468.65" y="208.49" width="18.6" height="0.77" fill="#f8f9fc"/>
<rect x="468.65" y="209.23" width="18.6" height="0.77" fill="#f9eeef"/>
<rect x="468.65" y="209.98" width="18.6" height="0.77" fill="#f8eaeb"/>
<rect x="468.65" y="210.72" width="18.6" height="0.77" fill="#dcdced"/>
<rect x="468.65" y="211.46" width="18.6" height="0.77" fill="#f3f3f9"/>
<rect x="468.65" y="212.21" width="18.6" height="0.77" fill="#e9e9f4"/>
<rect x="468.65" y="212.95" width="18.6" height="0.77" fill="#ededf6"/>
<rect x="468.65" y="213.7" width="18.6" height="0.77" fill="#eeeef6"/>
<rect x="468.65" y="214.44" width="18.6" height="0.77" fill="#fbf3f4"/>
<rect x="468.65" y="215.19" width="18.6" height="0.77" fill="#f9eded"/>
<rect x="468.65" y="215.93" width="18.6" height="0.77" fill="#fdfafa"/>
<rect x="468.65" y="216.68" width="18.6" height="0.77" fill="#fafafd"/>
<rect x="468.65" y="217.42" width="18.6" height="0.77" fill="#fdf9f9"/>
<rect x="468.65" y="218.17" width="18.6" height="0.77" fill="#e6e7f2"/>
<rect x="468.65" y="218.91" width="18.6" height="0.77" fill="#f7f7fb"/>
<rect x="468.65" y="219.66" width="18.6" height="0.77" fill="#e4e4f1"/>
<rect x="468.65" y="220.4" width="18.6" height="0.77" fill="#ecedf5"/>
<rect x="468.65" y="221.15" width="18.6" height="0.77" fill="#fcfcfd"/>
<rect x="468.65" y="221.89" width="18.6" height="0.77" fill="#ebecf5"/>
<rect x="468.65" y="222.63" width="18.6" height="0.77" fill="#fafafd"/>
<rect x="468.65" y="223.38" width="18.6" height="0.77" fill="#fbf2f3"/>
<rect x="468.65" y="224.12" width="18.6" height="0.77" fill="#fefdfd"/>
<rect x="468.65" y="224.87" width="18.6" height="0.77" fill="#e9eaf4"/>
<rect x="468.65" y="225.61" width="18.6" height="0.77" fill="#ebc2c5"/>
<rect x="468.65" y="226.36" width="18.6" height="0.77" fill="#f2d8da"/>
<rect x="468.65" y="227.1" width="18.6" height="0.77" fill="#f9eced"/>
<rect x="468.65" y="227.85" width="18.6" height="0.77" fill="#e5afb2"/>
<rect x="468.65" y="228.59" width="18.6" height="0.77" fill="#fbf2f2"/>
<rect x="468.65" y="229.34" width="18.6" height="0.77" fill="#f3dcdd"/>
<rect x="468.65" y="230.08" width="18.6" height="0.77" fill="#f8eaeb"/>
<rect x="468.65" y="230.83" width="18.6" height="0.77" fill="#f3d9db"/>
<rect x="468.65" y="231.57" width="18.6" height="0.77" fill="#efd0d2"/>
<rect x="468.65" y="232.32" width="18.6" height="0.77" fill="#f9edee"/>
<rect x="468.65" y="233.06" width="18.6" height="0.77" fill="#f7e8e9"/>
<rect x="468.65" y="233.8" width="18.6" height="0.77" fill="#f7e8e9"/>
<rect x="468.65" y="234.55" width="18.6" height="0.77" fill="#fefbfb"/>
<rect x="468.65" y="235.29" width="18.6" height="0.77" fill="#eecdcf"/>
<rect x="468.65" y="236.04" width="18.6" height="0.77" fill="#f5e2e3"/>
<rect x="468.65" y="236.78" width="18.6" height="0.77" fill="#f4ddde"/>
<rect x="468.65" y="237.53" width="18.6" height="0.77" fill="#f6e5e6"/>
<rect x="468.65" y="238.27" width="18.6" height="0.77" fill="#f4dedf"/>
<rect x="468.65" y="239.02" width="18.6" height="0.77" fill="#f1d4d6"/>
<rect x="468.65" y="239.76" width="18.6" height="0.77" fill="#f5e1e2"/>
<rect x="468.65" y="240.51" width="18.6" height="0.77" fill="#eecbce"/>
<rect x="468.65" y="241.25" width="18.6" height="0.77" fill="#e1e1ef"/>
<rect x="468.65" y="242" width="18.6" height="0.77" fill="#eaeaf4"/>
<rect x="468.65" y="242.74" width="18.6" height="0.77" fill="#f8ebec"/>
<rect x="468.65" y="243.49" width="18.6" height="0.77" fill="#f1f1f8"/>
<rect x="468.65" y="244.23" width="18.6" height="0.77" fill="#fefeff"/>
<rect x="468.65" y="244.97" width="18.6" height="0.77" fill="#f1f1f8"/>
<rect x="468.65" y="245.72" width="18.6" height="0.77" fill="#fbf2f2"/>
<rect x="468.65" y="246.46" width="18.6" height="0.77" fill="#fcf5f6"/>
<rect x="468.65" y="247.21" width="18.6" height="0.77" fill="#f6e3e4"/>
<rect x="468.65" y="247.95" width="18.6" height="0.77" fill="#fdf9fa"/>
<rect x="468.65" y="248.7" width="18.6" height="0.77" fill="#fbf2f3"/>
<rect x="468.65" y="249.44" width="18.6" height="0.77" fill="#fcfcfe"/>
<rect x="468.65" y="250.19" width="18.6" height="0.77" fill="#fcf6f7"/>
<rect x="468.65" y="250.93" width="18.6" height="0.77" fill="#fcfcfd"/>
<rect x="468.65" y="251.68" width="18.6" height="0.77" fill="#f3f3f9"/>
<rect x="468.65" y="252.42" width="18.6" height="0.77" fill="#e4e4f1"/>
<rect x="468.65" y="253.17" width="18.6" height="0.77" fill="#e5e5f1"/>
<rect x="468.65" y="253.91" width="18.6" height="0.77" fill="#fbf4f4"/>
<rect x="468.65" y="254.66" width="18.6" height="0.77" fill="#cacbe4"/>
<rect x="487.23" y="32" width="18.6" height="0.77" fill="#cfd0e6"/>
<rect x="487.23" y="32.74" width="18.6" height="0.77" fill="#babcdc"/>
<rect x="487.23" y="33.49" width="18.6" height="0.77" fill="#dcdded"/>
<rect x="487.23" y="34.23" width="18.6" height="0.77" fill="#d0d1e7"/>
<rect x="487.23" y="34.98" width="18.6" height="0.77" fill="#babcdc"/>
<rect x="487.23" y="35.72" width="18.6" height="0.77" fill="#b1b3d7"/>
<rect x="487.23" y="36.47" width="18.6" height="0.77" fill="#7d81bc"/>
<rect x="487.23" y="37.21" width="18.6" height="0.77" fill="#b7b9da"/>
<rect x="487.23" y="37.96" width="18.6" height="0.77" fill="#bcbddc"/>
<rect x="487.23" y="38.7" width="18.6" height="0.77" fill="#878ac2"/>
<rect x="487.23" y="39.45" width="18.6" height="0.77" fill="#dfe0ee"/>
<rect x="487.23" y="40.19" width="18.6" height="0.77" fill="#c9cae3"/>
<rect x="487.23" y="40.94" width="18.6" height="0.77" fill="#cfd0e6"/>
<rect x="487.23" y="41.68" width="18.6" height="0.77" fill="#abadd4"/>
<rect x="487.23" y="42.43" width="18.6" height="0.77" fill="#d9daeb"/>
<rect x="487.23" y="43.17" width="18.6" height="0.77" fill="#a4a6d0"/>
<rect x="487.23" y="43.91" width="18.6" height="0.77" fill="#9699c9"/>
<rect x="487.23" y="44.66" width="18.6" height="0.77" fill="#8083be"/>
<rect x="487.23" y="45.4" width="18.6" height="0.77" fill="#a8aad2"/>
<rect x="487.23" y="46.15" width="18.6" height="0.77" fill="#b3b5d8"/>
<rect x="487.23" y="46.89" width="18.6" height="0.77" fill="#d5d6e9"/>
<rect x="487.23" y="47.64" width="18.6" height="0.77" fill="#e2e3f0"/>
<rect x="487.23" y="48.38" width="18.6" height="0.77" fill="#bec0de"/>
<rect x="487.23" y="49.13" width="18.6" height="0.77" fill="#cfd0e6"/>
<rect x="487.23" y="49.87" width="18.6" height="0.77" fill="#d4d5e9"/>
<rect x="487.23" y="50.62" width="18.6" height="0.77" fill="#e9eaf4"/>
<rect x="487.23" y="51.36" width="18.6" height="0.77" fill="#f3dbdc"/>
<rect x="487.23" y="52.11" width="18.6" height="0.77" fill="#f0f0f7"/>
<rect x="487.23" y="52.85" width="18.6" height="0.77" fill="#dadaec"/>
<rect x="487.23" y="53.6" width="18.6" height="0.77" fill="#f9f9fc"/>
<rect x="487.23" y="54.34" width="18.6" height="0.77" fill="#d8d9eb"/>
<rect x="487.23" y="55.08" width="18.6" height="0.77" fill="#f9f9fc"/>
<rect x="487.23" y="55.83" width="18.6" height="0.77" fill="#fefcfc"/>
<rect x="487.23" y="56.57" width="18.6" height="0.77" fill="#e6e6f2"/>
<rect x="487.23" y="57.32" width="18.6" height="0.77" fill="#eaeaf4"/>
<rect x="487.23" y="58.06" width="18.6" height="0.77" fill="#9d9fcc"/>
<rect x="487.23" y="58.81" width="18.6" height="0.77" fill="#b5b7d9"/>
<rect x="487.23" y="59.55" width="18.6" height="0.77" fill="#a3a5d0"/>
<rect x="487.23" y="60.3" width="18.6" height="0.77" fill="#d9daec"/>
<rect x="487.23" y="61.04" width="18.6" height="0.77" fill="#c1c2df"/>
<rect x="487.23" y="61.79" width="18.6" height="0.77" fill="#c7c9e2"/>
<rect x="487.23" y="62.53" width="18.6" height="0.77" fill="#acaed5"/>
<rect x="487.23" y="63.28" width="18.6" height="0.77" fill="#fafbfd"/>
<rect x="487.23" y="64.02" width="18.6" height="0.77" fill="#eaeaf4"/>
<rect x="487.23" y="64.77" width="18.6" height="0.77" fill="#d7d8eb"/>
<rect x="487.23" y="65.51" width="18.6" height="0.77" fill="#d1d2e7"/>
<rect x="487.23" y="66.25" width="18.6" height="0.77" fill="#d0d2e7"/>
<rect x="487.23" y="67" width="18.6" height="0.77" fill="#c2c3e0"/>
<rect x="487.23" y="67.74" width="18.6" height="0.77" fill="#f7f7fb"/>
<rect x="487.23" y="68.49" width="18.6" height="0.77" fill="#d1d2e8"/>
<rect x="487.23" y="69.23" width="18.6" height="0.77" fill="#acaed4"/>
<rect x="487.23" y="69.98" width="18.6" height="0.77" fill="#bebfdd"/>
<rect x="487.23" y="70.72" width="18.6" height="0.77" fill="#9295c7"/>
<rect x="487.23" y="71.47" width="18.6" height="0.77" fill="#dcdced"/>
<rect x="487.23" y="72.21" width="18.6" height="0.77" fill="#dedfee"/>
<rect x="487.23" y="72.96" width="18.6" height="0.77" fill="#f2d8d9"/>
<rect x="487.23" y="73.7" width="18.6" height="0.77" fill="#f0d1d3"/>
<rect x="487.23" y="74.45" width="18.6" height="0.77" fill="#f0f0f7"/>
<rect x="487.23" y="75.19" width="18.6" height="0.77" fill="#fbf3f4"/>
<rect x="487.23" y="75.94" width="18.6" height="0.77" fill="#f7e8e9"/>
<rect x="487.23" y="76.68" width="18.6" height="0.77" fill="#f9eced"/>
<rect x="487.23" y="77.42" width="18.6" height="0.77" fill="#f6f6fa"/>
<rect x="487.23" y="78.17" width="18.6" height="0.77" fill="#f9eced"/>
<rect x="487.23" y="78.91" width="18.6" height="0.77" fill="#fbf3f3"/>
<rect x="487.23" y="79.66" width="18.6" height="0.77" fill="#f5e0e2"/>
<rect x="487.23" y="80.4" width="18.6" height="0.77" fill="#eecdcf"/>
<rect x="487.23" y="81.15" width="18.6" height="0.77" fill="#f0d1d3"/>
<rect x="487.23" y="81.89" width="18.6" height="0.77" fill="#f2d7d8"/>
<rect x="487.23" y="82.64" width="18.6" height="0.77" fill="#f1d4d6"/>
<rect x="487.23" y="83.38" width="18.6" height="0.77" fill="#f3dcde"/>
<rect x="487.23" y="84.13" width="18.6" height="0.77" fill="#f9eced"/>
<rect x="487.23" y="84.87" width="18.6" height="0.77" fill="#f3dadc"/>
<rect x="487.23" y="85.62" width="18.6" height="0.77" fill="#f3dbdd"/>
<rect x="487.23" y="86.36" width="18.6" height="0.77" fill="#edc9cb"/>
<rect x="487.23" y="87.11" width="18.6" height="0.77" fill="#efced0"/>
<rect x="487.23" y="87.85" width="18.6" height="0.77" fill="#e2a7aa"/>
<rect x="487.23" y="88.59" width="18.6" height="0.77" fill="#eeccce"/>
<rect x="487.23" y="89.34" width="18.6" height="0.77" fill="#e2a8ac"/>
<rect x="487.23" y="90.08" width="18.6" height="0.77" fill="#de9ba0"/>
<rect x="487.23" y="90.83" width="18.6" height="0.77" fill="#efcfd1"/>
<rect x="487.23" y="91.57" width="18.6" height="0.77" fill="#e8e8f3"/>
<rect x="487.23" y="92.32" width="18.6" height="0.77" fill="#ebecf5"/>
<rect x="487.23" y="93.06" width="18.6" height="0.77" fill="#e9eaf4"/>
<rect x="487.23" y="93.81" width="18.6" height="0.77" fill="#fafafc"/>
<rect x="487.23" y="94.55" width="18.6" height="0.77" fill="#ebecf5"/>
<rect x="487.23" y="95.3" width="18.6" height="0.77" fill="#d5d6e9"/>
<rect x="487.23" y="96.04" width="18.6" height="0.77" fill="#b0b2d7"/>
<rect x="487.23" y="96.79" width="18.6" height="0.77" fill="#c9cae3"/>
<rect x="487.23" y="97.53" width="18.6" height="0.77" fill="#c0c2df"/>
<rect x="487.23" y="98.28" width="18.6" height="0.77" fill="#b6b7d9"/>
<rect x="487.23" y="99.02" width="18.6" height="0.77" fill="#c9cae3"/>
<rect x="487.23" y="99.76" width="18.6" height="0.77" fill="#b2b4d7"/>
<rect x="487.23" y="100.51" width="18.6" height="0.77" fill="#bdbfdd"/>
<rect x="487.23" y="101.25" width="18.6" height="0.77" fill="#aaacd3"/>
<rect x="487.23" y="102" width="18.6" height="0.77" fill="#c1c3df"/>
<rect x="487.23" y="102.74" width="18.6" height="0.77" fill="#bfc1de"/>
<rect x="487.23" y="103.49" width="18.6" height="0.77" fill="#aeb0d5"/>
<rect x="487.23" y="104.23" width="18.6" height="0.77" fill="#898cc2"/>
<rect x="487.23" y="104.98" width="18.6" height="0.77" fill="#c4c5e1"/>
<rect x="487.23" y="105.72" width="18.6" height="0.77" fill="#c1c2df"/>
<rect x="487.23" y="106.47" width="18.6" height="0.77" fill="#d0d1e7"/>
<rect x="487.23" y="107.21" width="18.6" height="0.77" fill="#d1d2e7"/>
<rect x="487.23" y="107.96" width="18.6" height="0.77" fill="#ced0e6"/>
<rect x="487.23" y="108.7" width="18.6" height="0.77" fill="#d0d1e7"/>
<rect x="487.23" y="109.45" width="18.6" height="0.77" fill="#b5b7d9"/>
<rect x="487.23" y="110.19" width="18.6" height="0.77" fill="#7b7ebb"/>
<rect x="487.23" y="110.93" width="18.6" height="0.77" fill="#8487c0"/>
<rect x="487.23" y="111.68" width="18.6" height="0.77" fill="#6f72b5"/>
<rect x="487.23" y="112.42" width="18.6" height="0.77" fill="#676ab1"/>
<rect x="487.23" y="113.17" width="18.6" height="0.77" fill="#a7a9d2"/>
<rect x="487.23" y="113.91" width="18.6" height="0.77" fill="#8a8dc3"/>
<rect x="487.23" y="114.66" width="18.6" height="0.77" fill="#7679b8"/>
<rect x="487.23" y="115.4" width="18.6" height="0.77" fill="#7175b6"/>
<rect x="487.23" y="116.15" width="18.6" height="0.77" fill="#41459d"/>
<rect x="487.23" y="116.89" width="18.6" height="0.77" fill="#5c60ab"/>
<rect x="487.23" y="117.64" width="18.6" height="0.77" fill="#9194c7"/>
<rect x="487.23" y="118.38" width="18.6" height="0.77" fill="#b4b6d8"/>
<rect x="487.23" y="119.13" width="18.6" height="0.77" fill="#686cb2"/>
<rect x="487.23" y="119.87" width="18.6" height="0.77" fill="#878ac1"/>
<rect x="487.23" y="120.62" width="18.6" height="0.77" fill="#c2c4e0"/>
<rect x="487.23" y="121.36" width="18.6" height="0.77" fill="#8c8ec4"/>
<rect x="487.23" y="122.1" width="18.6" height="0.77" fill="#8689c1"/>
<rect x="487.23" y="122.85" width="18.6" height="0.77" fill="#989aca"/>
<rect x="487.23" y="123.59" width="18.6" height="0.77" fill="#7a7dbb"/>
<rect x="487.23" y="124.34" width="18.6" height="0.77" fill="#797cba"/>
<rect x="487.23" y="125.08" width="18.6" height="0.77" fill="#dcdded"/>
<rect x="487.23" y="125.83" width="18.6" height="0.77" fill="#dfe0ee"/>
<rect x="487.23" y="126.57" width="18.6" height="0.77" fill="#b4b5d8"/>
<rect x="487.23" y="127.32" width="18.6" height="0.77" fill="#eeeff6"/>
<rect x="487.23" y="128.06" width="18.6" height="0.77" fill="#a4a6d0"/>
<rect x="487.23" y="128.81" width="18.6" height="0.77" fill="#878ac1"/>
<rect x="487.23" y="129.55" width="18.6" height="0.77" fill="#dcdded"/>
<rect x="487.23" y="130.3" width="18.6" height="0.77" fill="#8b8ec4"/>
<rect x="487.23" y="131.04" width="18.6" height="0.77" fill="#a6a8d1"/>
<rect x="487.23" y="131.79" width="18.6" height="0.77" fill="#8083be"/>
<rect x="487.23" y="132.53" width="18.6" height="0.77" fill="#f9f9fc"/>
<rect x="487.23" y="133.27" width="18.6" height="0.77" fill="#f0f0f7"/>
<rect x="487.23" y="134.02" width="18.6" height="0.77" fill="#f7f8fb"/>
<rect x="487.23" y="134.76" width="18.6" height="0.77" fill="#faf0f1"/>
<rect x="487.23" y="135.51" width="18.6" height="0.77" fill="#f2d9db"/>
<rect x="487.23" y="136.25" width="18.6" height="0.77" fill="#fafafc"/>
<rect x="487.23" y="137" width="18.6" height="0.77" fill="#fcf5f6"/>
<rect x="487.23" y="137.74" width="18.6" height="0.77" fill="#dbdbec"/>
<rect x="487.23" y="138.49" width="18.6" height="0.77" fill="#fcf7f8"/>
<rect x="487.23" y="139.23" width="18.6" height="0.77" fill="#f3f3f9"/>
<rect x="487.23" y="139.98" width="18.6" height="0.77" fill="#d0d1e7"/>
<rect x="487.23" y="140.72" width="18.6" height="0.77" fill="#a8aad2"/>
<rect x="487.23" y="141.47" width="18.6" height="0.77" fill="#acaed4"/>
<rect x="487.23" y="142.21" width="18.6" height="0.77" fill="#d0d1e7"/>
<rect x="487.23" y="142.96" width="18.6" height="0.77" fill="#bfc1de"/>
<rect x="487.23" y="143.7" width="18.6" height="0.77" fill="#f9edee"/>
<rect x="487.23" y="144.44" width="18.6" height="0.77" fill="#fefdfe"/>
<rect x="487.23" y="145.19" width="18.6" height="0.77" fill="#faf1f2"/>
<rect x="487.23" y="145.93" width="18.6" height="0.77" fill="#f6e5e6"/>
<rect x="487.23" y="146.68" width="18.6" height="0.77" fill="#f5e0e1"/>
<rect x="487.23" y="147.42" width="18.6" height="0.77" fill="#faf1f2"/>
<rect x="487.23" y="148.17" width="18.6" height="0.77" fill="#f9eded"/>
<rect x="487.23" y="148.91" width="18.6" height="0.77" fill="#f4ddde"/>
<rect x="487.23" y="149.66" width="18.6" height="0.77" fill="#fefdfd"/>
<rect x="487.23" y="150.4" width="18.6" height="0.77" fill="#f0d2d4"/>
<rect x="487.23" y="151.15" width="18.6" height="0.77" fill="#dbdcec"/>
<rect x="487.23" y="151.89" width="18.6" height="0.77" fill="#d8d9eb"/>
<rect x="487.23" y="152.64" width="18.6" height="0.77" fill="#a4a6d0"/>
<rect x="487.23" y="153.38" width="18.6" height="0.77" fill="#b7b8da"/>
<rect x="487.23" y="154.13" width="18.6" height="0.77" fill="#c3c4e0"/>
<rect x="487.23" y="154.87" width="18.6" height="0.77" fill="#fbf3f3"/>
<rect x="487.23" y="155.61" width="18.6" height="0.77" fill="#fefdfd"/>
<rect x="487.23" y="156.36" width="18.6" height="0.77" fill="#f4dfe0"/>
<rect x="487.23" y="157.1" width="18.6" height="0.77" fill="#f6e4e5"/>
<rect x="487.23" y="157.85" width="18.6" height="0.77" fill="#f9eced"/>
<rect x="487.23" y="158.59" width="18.6" height="0.77" fill="#fbfbfd"/>
<rect x="487.23" y="159.34" width="18.6" height="0.77" fill="#e8bbbd"/>
<rect x="487.23" y="160.08" width="18.6" height="0.77" fill="#f4dedf"/>
<rect x="487.23" y="160.83" width="18.6" height="0.77" fill="#eecbce"/>
<rect x="487.23" y="161.57" width="18.6" height="0.77" fill="#f7e6e7"/>
<rect x="487.23" y="162.32" width="18.6" height="0.77" fill="#f7e7e8"/>
<rect x="487.23" y="163.06" width="18.6" height="0.77" fill="#f2d8da"/>
<rect x="487.23" y="163.81" width="18.6" height="0.77" fill="#f5e2e3"/>
<rect x="487.23" y="164.55" width="18.6" height="0.77" fill="#f0d2d4"/>
<rect x="487.23" y="165.3" width="18.6" height="0.77" fill="#f8eaeb"/>
<rect x="487.23" y="166.04" width="18.6" height="0.77" fill="#e9bdc0"/>
<rect x="487.23" y="166.78" width="18.6" height="0.77" fill="#eeeff7"/>
<rect x="487.23" y="167.53" width="18.6" height="0.77" fill="#fbf2f3"/>
<rect x="487.23" y="168.27" width="18.6" height="0.77" fill="#f0d2d4"/>
<rect x="487.23" y="169.02" width="18.6" height="0.77" fill="#f9eced"/>
<rect x="487.23" y="169.76" width="18.6" height="0.77" fill="#f5e1e3"/>
<rect x="487.23" y="170.51" width="18.6" height="0.77" fill="#fefdfd"/>
<rect x="487.23" y="171.25" width="18.6" height="0.77" fill="#eabfc2"/>
<rect x="487.23" y="172" width="18.6" height="0.77" fill="#fefeff"/>
<rect x="487.23" y="172.74" width="18.6" height="0.77" fill="#efcdd0"/>
<rect x="487.23" y="173.49" width="18.6" height="0.77" fill="#f6e3e4"/>
<rect x="487.23" y="174.23" width="18.6" height="0.77" fill="#f1d4d6"/>
<rect x="487.23" y="174.98" width="18.6" height="0.77" fill="#edc8cb"/>
<rect x="487.23" y="175.72" width="18.6" height="0.77" fill="#fcf6f6"/>
<rect x="487.23" y="176.47" width="18.6" height="0.77" fill="#fdf8f8"/>
<rect x="487.23" y="177.21" width="18.6" height="0.77" fill="#f4dfe0"/>
<rect x="487.23" y="177.95" width="18.6" height="0.77" fill="#fefcfc"/>
<rect x="487.23" y="178.7" width="18.6" height="0.77" fill="#ecc7c9"/>
<rect x="487.23" y="179.44" width="18.6" height="0.77" fill="#f5e1e2"/>
<rect x="487.23" y="180.19" width="18.6" height="0.77" fill="#f1d5d7"/>
<rect x="487.23" y="180.93" width="18.6" height="0.77" fill="#f5f5fa"/>
<rect x="487.23" y="181.68" width="18.6" height="0.77" fill="#faf1f1"/>
<rect x="487.23" y="182.42" width="18.6" height="0.77" fill="#fffefe"/>
<rect x="487.23" y="183.17" width="18.6" height="0.77" fill="#fbf2f3"/>
<rect x="487.23" y="183.91" width="18.6" height="0.77" fill="#f5f6fa"/>
<rect x="487.23" y="184.66" width="18.6" height="0.77" fill="#e1e1ef"/>
<rect x="487.23" y="185.4" width="18.6" height="0.77" fill="#bbbddc"/>
<rect x="487.23" y="186.15" width="18.6" height="0.77" fill="#9092c6"/>
<rect x="487.23" y="186.89" width="18.6" height="0.77" fill="#d8d9eb"/>
<rect x="487.23" y="187.64" width="18.6" height="0.77" fill="#c3c4e0"/>
<rect x="487.23" y="188.38" width="18.6" height="0.77" fill="#b5b7d9"/>
<rect x="487.23" y="189.12" width="18.6" height="0.77" fill="#fefcfc"/>
<rect x="487.23" y="189.87" width="18.6" height="0.77" fill="#c8cae3"/>
<rect x="487.23" y="190.61" width="18.6" height="0.77" fill="#abadd4"/>
<rect x="487.23" y="191.36" width="18.6" height="0.77" fill="#bbbddc"/>
<rect x="487.23" y="192.1" width="18.6" height="0.77" fill="#f8e9ea"/>
<rect x="487.23" y="192.85" width="18.6" height="0.77" fill="#fcf6f6"/>
<rect x="487.23" y="193.59" width="18.6" height="0.77" fill="#f2d7d9"/>
<rect x="487.23" y="194.34" width="18.6" height="0.77" fill="#f3dbdc"/>
<rect x="487.23" y="195.08" width="18.6" height="0.77" fill="#fcfcfd"/>
<rect x="487.23" y="195.83" width="18.6" height="0.77" fill="#cacbe4"/>
<rect x="487.23" y="196.57" width="18.6" height="0.77" fill="#d8d9eb"/>
<rect x="487.23" y="197.32" width="18.6" height="0.77" fill="#c0c2df"/>
<rect x="487.23" y="198.06" width="18.6" height="0.77" fill="#bfc0de"/>
<rect x="487.23" y="198.81" width="18.6" height="0.77" fill="#dddeee"/>
<rect x="487.23" y="199.55" width="18.6" height="0.77" fill="#f4dedf"/>
<rect x="487.23" y="200.29" width="18.6" height="0.77" fill="#f9f9fc"/>
<rect x="487.23" y="201.04" width="18.6" height="0.77" fill="#fbf3f3"/>
<rect x="487.23" y="201.78" width="18.6" height="0.77" fill="#faf0f1"/>
<rect x="487.23" y="202.53" width="18.6" height="0.77" fill="#f8eaeb"/>
<rect x="487.23" y="203.27" width="18.6" height="0.77" fill="#c9cae3"/>
<rect x="487.23" y="204.02" width="18.6" height="0.77" fill="#f7f8fb"/>
<rect x="487.23" y="204.76" width="18.6" height="0.77" fill="#c3c5e0"/>
<rect x="487.23" y="205.51" width="18.6" height="0.77" fill="#c1c2df"/>
<rect x="487.23" y="206.25" width="18.6" height="0.77" fill="#dedfee"/>
<rect x="487.23" y="207" width="18.6" height="0.77" fill="#f5f6fa"/>
<rect x="487.23" y="207.74" width="18.6" height="0.77" fill="#f9eeef"/>
<rect x="487.23" y="208.49" width="18.6" height="0.77" fill="#eeccce"/>
<rect x="487.23" y="209.23" width="18.6" height="0.77" fill="#fcf5f5"/>
<rect x="487.23" y="209.98" width="18.6" height="0.77" fill="#f8eaeb"/>
<rect x="487.23" y="210.72" width="18.6" height="0.77" fill="#e8b8bb"/>
<rect x="487.23" y="211.46" width="18.6" height="0.77" fill="#ecc5c8"/>
<rect x="487.23" y="212.21" width="18.6" height="0.77" fill="#efced0"/>
<rect x="487.23" y="212.95" width="18.6" height="0.77" fill="#edcacc"/>
<rect x="487.23" y="213.7" width="18.6" height="0.77" fill="#f4ddde"/>
<rect x="487.23" y="214.44" width="18.6" height="0.77" fill="#f5e1e2"/>
<rect x="487.23" y="215.19" width="18.6" height="0.77" fill="#f9ecec"/>
<rect x="487.23" y="215.93" width="18.6" height="0.77" fill="#e6b3b6"/>
<rect x="487.23" y="216.68" width="18.6" height="0.77" fill="#f3dcdd"/>
<rect x="487.23" y="217.42" width="18.6" height="0.77" fill="#f9eeef"/>
<rect x="487.23" y="218.17" width="18.6" height="0.77" fill="#f7e8e9"/>
<rect x="487.23" y="218.91" width="18.6" height="0.77" fill="#f7e6e7"/>
<rect x="487.23" y="219.66" width="18.6" height="0.77" fill="#fafafc"/>
<rect x="487.23" y="220.4" width="18.6" height="0.77" fill="#fdf8f9"/>
<rect x="487.23" y="221.15" width="18.6" height="0.77" fill="#edc7c9"/>
<rect x="487.23" y="221.89" width="18.6" height="0.77" fill="#fcf6f6"/>
<rect x="487.23" y="222.63" width="18.6" height="0.77" fill="#f6e5e6"/>
<rect x="487.23" y="223.38" width="18.6" height="0.77" fill="#ebc3c5"/>
<rect x="487.23" y="224.12" width="18.6" height="0.77" fill="#e8b9bc"/>
<rect x="487.23" y="224.87" width="18.6" height="0.77" fill="#f9eeef"/>
<rect x="487.23" y="225.61" width="18.6" height="0.77" fill="#f2d7d9"/>
<rect x="487.23" y="226.36" width="18.6" height="0.77" fill="#fefdfd"/>
<rect x="487.23" y="227.1" width="18.6" height="0.77" fill="#f0d3d5"/>
<rect x="487.23" y="227.85" width="18.6" height="0.77" fill="#f8ebec"/>
<rect x="487.23" y="228.59" width="18.6" height="0.77" fill="#fefcfc"/>
<rect x="487.23" y="229.34" width="18.6" height="0.77" fill="#f5e1e3"/>
<rect x="487.23" y="230.08" width="18.6" height="0.77" fill="#f6e5e6"/>
<rect x="487.23" y="230.83" width="18.6" height="0.77" fill="#fdfdfe"/>
<rect x="487.23" y="231.57" width="18.6" height="0.77" fill="#ebc4c6"/>
<rect x="487.23" y="232.32" width="18.6" height="0.77" fill="#fdf8f8"/>
<rect x="487.23" y="233.06" width="18.6" height="0.77" fill="#fefeff"/>
<rect x="487.23" y="233.8" width="18.6" height="0.77" fill="#d9daec"/>
<rect x="487.23" y="234.55" width="18.6" height="0.77" fill="#bbbddc"/>
<rect x="487.23" y="235.29" width="18.6" height="0.77" fill="#cbcce4"/>
<rect x="487.23" y="236.04" width="18.6" height="0.77" fill="#e2e3f0"/>
<rect x="487.23" y="236.78" width="18.6" height="0.77" fill="#faf1f2"/>
<rect x="487.23" y="237.53" width="18.6" height="0.77" fill="#f3dadc"/>
<rect x="487.23" y="238.27" width="18.6" height="0.77" fill="#fffefe"/>
<rect x="487.23" y="239.02" width="18.6" height="0.77" fill="#f8f8fc"/>
<rect x="487.23" y="239.76" width="18.6" height="0.77" fill="#e3e4f1"/>
<rect x="487.23" y="240.51" width="18.6" height="0.77" fill="#f7e8e9"/>
<rect x="487.23" y="241.25" width="18.6" height="0.77" fill="#f5e1e2"/>
<rect x="487.23" y="242" width="18.6" height="0.77" fill="#e7e8f3"/>
<rect x="487.23" y="242.74" width="18.6" height="0.77" fill="#eecbce"/>
<rect x="487.23" y="243.49" width="18.6" height="0.77" fill="#efcfd1"/>
<rect x="487.23" y="244.23" width="18.6" height="0.77" fill="#e7b7ba"/>
<rect x="487.23" y="244.97" width="18.6" height="0.77" fill="#fdfafa"/>
<rect x="487.23" y="245.72" width="18.6" height="0.77" fill="#f7e6e7"/>
<rect x="487.23" y="246.46" width="18.6" height="0.77" fill="#f7e7e8"/>
<rect x="487.23" y="247.21" width="18.6" height="0.77" fill="#fbfbfd"/>
<rect x="487.23" y="247.95" width="18.6" height="0.77" fill="#dcdced"/>
<rect x="487.23" y="248.7" width="18.6" height="0.77" fill="#d9d9eb"/>
<rect x="487.23" y="249.44" width="18.6" height="0.77" fill="#fafbfd"/>
<rect x="487.23" y="250.19" width="18.6" height="0.77" fill="#f9f9fc"/>
<rect x="487.23" y="250.93" width="18.6" height="0.77" fill="#fbf2f2"/>
<rect x="487.23" y="251.68" width="18.6" height="0.77" fill="#dbdced"/>
<rect x="487.23" y="252.42" width="18.6" height="0.77" fill="#c5c6e1"/>
<rect x="487.23" y="253.17" width="18.6" height="0.77" fill="#eeeff6"/>
<rect x="487.23" y="253.91" width="18.6" height="0.77" fill="#ededf6"/>
<rect x="487.23" y="254.66" width="18.6" height="0.77" fill="#f3f4f9"/>
<path d="M385.06 32V20H403.64V32M477.94 32V23.6H496.51V32M459.36 32V22.6H487.23V23.6M440.79 32V18.9H473.29V22.6M422.21 32V17.8H457.04V18.9M394.35 20V17.3H439.63V17.8M366.49 32V13.4H416.99V17.3" fill="none" stroke="#888" stroke-width="0.55"/>
<path d="M350.19 32.2H357.2M350.82 32.6H357.2M350.44 33H357.2M352.68 33.4H357.2M350.73 33.8H357.2M349.47 34.19H357.2M351.48 34.59H357.2M352.6 34.99H357.2M349.55 35.39H357.2M350.57 35.79H357.2M352.29 36.19H357.2M350.58 36.59H357.2M349.43 36.99H357.2M352.25 37.39H357.2M349.93 37.78H357.2M350.48 38.18H357.2M352.2 38.58H357.2M352.33 38.98H357.2M349.57 39.38H357.2M351.77 39.78H357.2M351.41 40.18H357.2M350.64 40.58H357.2M351.41 40.98H357.2M353 41.37H357.2M352.06 41.77H357.2M351.3 42.17H357.2M350.26 42.57H357.2M350.82 42.97H357.2M351.45 43.37H357.2M352.31 43.77H357.2M350.18 44.17H357.2M352.33 44.57H357.2M350.39 44.97H357.2M351.21 45.36H357.2M351.01 45.76H357.2M351.62 46.16H357.2M352.27 46.56H357.2M352.39 46.96H357.2M350.69 47.36H357.2M352.01 47.76H357.2M352.95 48.16H357.2M352.31 48.56H357.2M349.68 48.95H357.2M350.44 49.35H357.2M350.91 49.75H357.2M351.55 50.15H357.2M350.06 50.55H357.2M352.05 50.95H357.2M350.72 51.35H357.2M352.96 51.75H357.2M350.68 52.15H357.2M349.5 52.54H357.2M350.45 52.94H357.2M352.72 53.34H357.2M350.87 53.74H357.2M351.86 54.14H357.2M349.69 54.54H357.2M352.93 54.94H357.2M352.96 55.34H357.2M352.65 55.74H357.2M351.78 56.14H357.2M349.82 56.53H357.2M350.97 56.93H357.2M350.62 57.33H357.2M352.84 57.73H357.2M352.37 58.13H357.2M351.63 58.53H357.2M350.74 58.93H357.2M350.29 59.33H357.2M350.93 59.73H357.2M351.99 60.12H357.2M352.35 60.52H357.2M351.48 60.92H357.2M352.08 61.32H357.2M350.26 61.72H357.2M349.78 62.12H357.2M350.11 62.52H357.2M352.56 62.92H357.2M350.17 63.32H357.2M352.95 63.71H357.2M352.51 64.11H357.2M350.48 64.51H357.2M351.84 64.91H357.2M350.02 65.31H357.2M350.52 65.71H357.2M350.7 66.11H357.2M350.84 66.51H357.2M349.71 66.91H357.2M350 67.31H357.2M352.89 67.7H357.2M349.45 68.1H357.2M351.45 68.5H357.2M351.94 68.9H357.2M349.87 69.3H357.2M349.69 69.7H357.2M350.22 70.1H357.2M350.41 70.5H357.2M352.96 70.9H357.2M352 71.29H357.2M350.08 71.69H357.2M349.41 72.09H357.2M351.99 72.49H357.2M350.26 72.89H357.2M352.59 73.29H357.2M350.31 73.69H357.2M351.72 74.09H357.2M352.72 74.49H357.2M352.37 74.88H357.2M350.96 75.28H357.2M351.3 75.68H357.2M350.53 76.08H357.2M351.75 76.48H357.2M350.85 76.88H357.2M351.65 77.28H357.2M350.23 77.68H357.2M352.98 78.08H357.2M350.88 78.48H357.2M350.88 78.87H357.2M352.79 79.27H357.2M350.25 79.67H357.2M350.72 80.07H357.2M349.58 80.47H357.2M352.33 80.87H357.2M351.47 81.27H357.2M349.89 81.67H357.2M349.6 82.07H357.2M350.53 82.46H357.2M351.73 82.86H357.2M350.32 83.26H357.2M351.36 83.66H357.2M351.08 84.06H357.2M350.56 84.46H357.2M349.65 84.86H357.2M352.97 85.26H357.2M350.48 85.66H357.2M349.71 86.05H357.2M351.65 86.45H357.2M352.15 86.85H357.2M350.95 87.25H357.2M352.89 87.65H357.2M350.1 88.05H357.2M351.24 88.45H357.2M350.61 88.85H357.2M350.19 89.25H357.2M352.93 89.65H357.2M352.32 90.04H357.2M351.5 90.44H357.2M350.8 90.84H357.2M351.68 91.24H357.2M352 91.64H357.2M352.91 92.04H357.2M351.46 92.44H357.2M349.62 92.84H357.2M352.89 93.24H357.2M350.84 93.63H357.2M352.27 94.03H357.2M349.5 94.43H357.2M350.1 94.83H357.2M352.22 95.23H357.2M349.5 95.63H357.2M351.88 96.03H357.2M350.51 96.43H357.2M352.06 96.83H357.2M351.95 97.22H357.2M352.77 97.62H357.2M351.94 98.02H357.2M351.52 98.42H357.2M352.9 98.82H357.2M352.96 99.22H357.2M352.96 99.62H357.2M349.83 100.02H357.2M351.51 100.42H357.2M349.7 100.82H357.2M351.27 101.21H357.2M350.99 101.61H357.2M351.66 102.01H357.2M350.19 102.41H357.2M351.76 102.81H357.2M350.09 103.21H357.2M351.59 103.61H357.2M352.54 104.01H357.2M351.5 104.41H357.2M352.89 104.8H357.2M351.61 105.2H357.2M351.61 105.6H357.2M350.45 106H357.2M349.4 106.4H357.2M352.44 106.8H357.2M350.81 107.2H357.2M349.99 107.6H357.2M350.54 108H357.2M352.16 108.39H357.2M351.49 108.79H357.2M349.64 109.19H357.2M351.13 109.59H357.2M350.57 109.99H357.2M351.89 110.39H357.2M350.15 110.79H357.2M350.98 111.19H357.2M350.17 111.59H357.2M351.99 111.99H357.2M352.16 112.38H357.2M352.35 112.78H357.2M350.86 113.18H357.2M352.72 113.58H357.2M351.76 113.98H357.2M350.61 114.38H357.2M352 114.78H357.2M352.07 115.18H357.2M352.16 115.58H357.2M351.3 115.97H357.2M350.28 116.37H357.2M352.05 116.77H357.2M351.08 117.17H357.2M349.43 117.57H357.2M351.2 117.97H357.2M352.03 118.37H357.2M349.98 118.77H357.2M349.74 119.17H357.2M350.31 119.56H357.2M351.83 119.96H357.2M351.2 120.36H357.2M351.84 120.76H357.2M349.68 121.16H357.2M352.96 121.56H357.2M349.85 121.96H357.2M352.06 122.36H357.2M352.47 122.76H357.2M349.98 123.16H357.2M350.15 123.55H357.2M352.86 123.95H357.2M351.94 124.35H357.2M352.66 124.75H357.2M350.31 125.15H357.2M349.75 125.55H357.2M351.95 125.95H357.2M351.72 126.35H357.2M352.88 126.75H357.2M352.64 127.14H357.2M352.77 127.54H357.2M350.39 127.94H357.2M352.25 128.34H357.2M351.32 128.74H357.2M352.03 129.14H357.2M351.13 129.54H357.2M351 129.94H357.2M351.75 130.34H357.2M352.05 130.73H357.2M349.73 131.13H357.2M349.63 131.53H357.2M351.32 131.93H357.2M351.57 132.33H357.2M351.13 132.73H357.2M351.05 133.13H357.2M349.55 133.53H357.2M351.44 133.93H357.2M351.76 134.33H357.2M349.58 134.72H357.2M350.66 135.12H357.2M352.52 135.52H357.2M351.03 135.92H357.2M350.05 136.32H357.2M350.97 136.72H357.2M352.05 137.12H357.2M351.69 137.52H357.2M350.37 137.92H357.2M351 138.31H357.2M352.94 138.71H357.2M351.84 139.11H357.2M350.33 139.51H357.2M352.78 139.91H357.2M351.55 140.31H357.2M350.99 140.71H357.2M351.91 141.11H357.2M350.53 141.51H357.2M352.77 141.9H357.2M349.63 142.3H357.2M350.28 142.7H357.2M349.85 143.1H357.2M351.12 143.5H357.2M351.32 143.9H357.2M351.89 144.3H357.2M352.64 144.7H357.2M351.14 145.1H357.2M351.88 145.5H357.2M349.89 145.89H357.2M352.41 146.29H357.2M352.85 146.69H357.2M350.16 147.09H357.2M349.47 147.49H357.2M351.45 147.89H357.2M349.86 148.29H357.2M350.41 148.69H357.2M350.17 149.09H357.2M350.88 149.48H357.2M351.18 149.88H357.2M350.73 150.28H357.2M350.13 150.68H357.2M349.58 151.08H357.2M349.8 151.48H357.2M350.36 151.88H357.2M349.65 152.28H357.2M352.9 152.68H357.2M352.96 153.07H357.2M352.08 153.47H357.2M352.98 153.87H357.2M350.98 154.27H357.2M352.29 154.67H357.2M349.84 155.07H357.2M352.65 155.47H357.2M350.22 155.87H357.2M352.78 156.27H357.2M349.62 156.67H357.2M351.69 157.06H357.2M352 157.46H357.2M351.84 157.86H357.2M350.46 158.26H357.2M349.88 158.66H357.2M350.59 159.06H357.2M352.49 159.46H357.2M351.65 159.86H357.2M351.25 160.26H357.2M352.02 160.65H357.2M349.64 161.05H357.2M350.45 161.45H357.2M350.47 161.85H357.2M352.11 162.25H357.2M351.09 162.65H357.2M352.16 163.05H357.2M351.84 163.45H357.2M350.2 163.85H357.2M352.1 164.24H357.2M350.54 164.64H357.2M352.13 165.04H357.2M350.14 165.44H357.2M352.42 165.84H357.2M349.82 166.24H357.2M352.81 166.64H357.2M352.23 167.04H357.2M350.63 167.44H357.2M351.71 167.84H357.2M352.41 168.23H357.2M352.46 168.63H357.2M351.12 169.03H357.2M351.89 169.43H357.2M349.75 169.83H357.2M350.31 170.23H357.2M351.24 170.63H357.2M350.65 171.03H357.2M352.19 171.43H357.2M351.45 171.82H357.2M350.09 172.22H357.2M349.75 172.62H357.2M352.47 173.02H357.2M351.85 173.42H357.2M350.22 173.82H357.2M351.97 174.22H357.2M351.78 174.62H357.2M352.65 175.02H357.2M349.99 175.41H357.2M352.6 175.81H357.2M350.57 176.21H357.2M352.67 176.61H357.2M352.05 177.01H357.2M349.67 177.41H357.2M352.57 177.81H357.2M350.18 178.21H357.2M352.22 178.61H357.2M350.04 179.01H357.2M351.8 179.4H357.2M351.06 179.8H357.2M350.07 180.2H357.2M352.68 180.6H357.2M351.63 181H357.2M349.75 181.4H357.2M352.05 181.8H357.2M350.96 182.2H357.2M349.72 182.6H357.2M350.46 182.99H357.2M349.7 183.39H357.2M351.01 183.79H357.2M350.58 184.19H357.2M352.77 184.59H357.2M349.6 184.99H357.2M351.49 185.39H357.2M351.07 185.79H357.2M351.08 186.19H357.2M351.87 186.58H357.2M349.55 186.98H357.2M350.63 187.38H357.2M351.09 187.78H357.2M352.45 188.18H357.2M350.37 188.58H357.2M350.69 188.98H357.2M349.59 189.38H357.2M350.95 189.78H357.2M351.81 190.18H357.2M350.75 190.57H357.2M352.47 190.97H357.2M352.18 191.37H357.2M350.93 191.77H357.2M350.68 192.17H357.2M349.52 192.57H357.2M352.87 192.97H357.2M349.85 193.37H357.2M351.54 193.77H357.2M352.89 194.16H357.2M351.57 194.56H357.2M350.84 194.96H357.2M351.67 195.36H357.2M351.74 195.76H357.2M350.06 196.16H357.2M351.47 196.56H357.2M349.55 196.96H357.2M352.07 197.36H357.2M352.65 197.75H357.2M351.26 198.15H357.2M350.37 198.55H357.2M351.74 198.95H357.2M352.12 199.35H357.2M350.98 199.75H357.2M350.04 200.15H357.2M350.93 200.55H357.2M350.84 200.95H357.2M351.58 201.35H357.2M350.64 201.74H357.2M350.26 202.14H357.2M352.72 202.54H357.2M349.48 202.94H357.2M351.44 203.34H357.2M351.35 203.74H357.2M351.22 204.14H357.2M350.36 204.54H357.2M351.3 204.94H357.2M350.82 205.33H357.2M351.93 205.73H357.2M352.09 206.13H357.2M351.15 206.53H357.2M352.57 206.93H357.2M352.83 207.33H357.2M350.44 207.73H357.2M352.48 208.13H357.2M350.75 208.53H357.2M349.69 208.92H357.2M350 209.32H357.2M352.62 209.72H357.2M351.32 210.12H357.2M351.02 210.52H357.2M351.76 210.92H357.2M351.68 211.32H357.2M349.55 211.72H357.2M352.43 212.12H357.2M349.94 212.52H357.2M350.19 212.91H357.2M352.34 213.31H357.2M351.67 213.71H357.2M351.11 214.11H357.2M349.75 214.51H357.2M353 214.91H357.2M349.78 215.31H357.2M352.8 215.71H357.2M351.92 216.11H357.2M352.99 216.5H357.2M349.51 216.9H357.2M349.54 217.3H357.2M351.44 217.7H357.2M350.45 218.1H357.2M352.82 218.5H357.2M351 218.9H357.2M351.75 219.3H357.2M351.01 219.7H357.2M351.89 220.09H357.2M350.61 220.49H357.2M351.27 220.89H357.2M351.23 221.29H357.2M351.23 221.69H357.2M351.74 222.09H357.2M351.17 222.49H357.2M350.41 222.89H357.2M350.72 223.29H357.2M352.52 223.69H357.2M350.62 224.08H357.2M352.28 224.48H357.2M350.66 224.88H357.2M350.34 225.28H357.2M350.69 225.68H357.2M350.15 226.08H357.2M351.53 226.48H357.2M349.43 226.88H357.2M349.81 227.28H357.2M351.09 227.67H357.2M351.91 228.07H357.2M349.63 228.47H357.2M350.92 228.87H357.2M352.48 229.27H357.2M351.52 229.67H357.2M352.57 230.07H357.2M351.24 230.47H357.2M352.05 230.87H357.2M352.44 231.26H357.2M350.27 231.66H357.2M351.87 232.06H357.2M349.56 232.46H357.2M350.52 232.86H357.2M351.61 233.26H357.2M351.95 233.66H357.2M352.49 234.06H357.2M351.73 234.46H357.2M351 234.86H357.2M352.95 235.25H357.2M350.94 235.65H357.2M352.23 236.05H357.2M352.4 236.45H357.2M352.45 236.85H357.2M351.96 237.25H357.2M350.81 237.65H357.2M352.07 238.05H357.2M350.58 238.45H357.2M351.21 238.84H357.2M351.72 239.24H357.2M349.54 239.64H357.2M349.64 240.04H357.2M352.27 240.44H357.2M351.32 240.84H357.2M350.99 241.24H357.2M351.75 241.64H357.2M351.67 242.04H357.2M349.55 242.43H357.2M350.87 242.83H357.2M349.63 243.23H357.2M351.75 243.63H357.2M350.67 244.03H357.2M351.03 244.43H357.2M350.14 244.83H357.2M352.21 245.23H357.2M352.86 245.63H357.2M350.08 246.03H357.2M349.79 246.42H357.2M352.84 246.82H357.2M349.84 247.22H357.2M351.28 247.62H357.2M352.73 248.02H357.2M352.1 248.42H357.2M352.39 248.82H357.2M351.12 249.22H357.2M349.42 249.62H357.2M351.58 250.01H357.2M350.52 250.41H357.2M351.92 250.81H357.2M352.52 251.21H357.2M349.48 251.61H357.2M349.81 252.01H357.2M352.64 252.41H357.2M352.1 252.81H357.2M351.05 253.21H357.2M350.32 253.6H357.2M351.89 254H357.2M352.82 254.4H357.2M352.03 254.8H357.2M350.97 255.2H357.2" stroke="#000" stroke-width="0.42" fill="none"/>
<rect x="351.8" y="32" width="5.4" height="223.4" fill="#000" fill-opacity="0.6"/>
<path d="M352.2 32.66H345.66V33.97H352.2M352.2 37.91H346.55V39.23H352.2M352.2 45.8H349.21V47.11H352.2M352.2 44.48H348.45V46.46H349.21M352.2 43.17H347.4V45.47H348.45M352.2 41.86H347.26V44.32H347.4M352.2 40.54H345.86V43.09H347.26M352.2 48.43H346.89V49.74H352.2M352.2 51.05H346.46V52.37H352.2M346.89 49.08H345.55V51.71H346.46M345.86 41.81H344.85V50.4H345.55M352.2 55H346.85V56.31H352.2M352.2 53.68H346.39V55.65H346.85M352.2 58.94H348.44V60.25H352.2M352.2 57.63H345.97V59.6H348.44M352.2 64.2H347.72V65.51H352.2M352.2 62.88H346.51V64.85H347.72M352.2 61.57H345.64V63.87H346.51M345.97 58.61H344.59V62.72H345.64M346.39 54.67H344.25V60.66H344.59M344.85 46.11H342.96V57.67H344.25M352.2 66.82H348.58V68.14H352.2M352.2 70.77H347.49V72.08H352.2M352.2 69.45H347.1V71.42H347.49M348.58 67.48H346.06V70.44H347.1M352.2 73.39H348.49V74.71H352.2M352.2 77.34H348.33V78.65H352.2M352.2 76.02H347.24V77.99H348.33M348.49 74.05H346.35V77.01H347.24M352.2 79.97H348.16V81.28H352.2M352.2 85.22H349.96V86.54H352.2M352.2 83.91H348.41V85.88H349.96M352.2 82.59H347.16V84.89H348.41M348.16 80.62H346.6V83.74H347.16M352.2 89.16H348.48V90.48H352.2M352.2 87.85H347.43V89.82H348.48M352.2 94.42H349.71V95.73H352.2M352.2 93.11H348.72V95.08H349.71M352.2 91.79H347.09V94.09H348.72M347.43 88.84H346.55V92.94H347.09M346.6 82.18H345.89V90.89H346.55M346.35 75.53H345.01V86.54H345.89M346.06 68.96H344.07V81.03H345.01M352.2 97.05H347.09V98.36H352.2M352.2 103.62H349.15V104.93H352.2M352.2 102.31H348.53V104.28H349.15M352.2 100.99H347.42V103.29H348.53M352.2 99.68H346.65V102.14H347.42M352.2 106.25H347.78V107.56H352.2M352.2 110.19H348.13V111.5H352.2M352.2 108.88H347.29V110.85H348.13M347.78 106.9H346.48V109.86H347.29M346.65 100.91H345.86V108.38H346.48M347.09 97.71H344.11V104.65H345.86M352.2 112.82H348.86V114.13H352.2M352.2 116.76H348.47V118.07H352.2M352.2 115.45H347.49V117.42H348.47M348.86 113.48H346.14V116.43H347.49M352.2 120.7H347.29V122.02H352.2M352.2 119.39H345.94V121.36H347.29M346.14 114.95H344.5V120.37H345.94M352.2 123.33H349.16V124.65H352.2M352.2 125.96H347.99V127.27H352.2M349.16 123.99H347.36V126.62H347.99M352.2 129.9H347.66V131.22H352.2M352.2 128.59H347.05V130.56H347.66M347.36 125.3H346.06V129.57H347.05M352.2 132.53H345.87V133.84H352.2M346.06 127.44H344.91V133.19H345.87M352.2 135.16H349.48V136.47H352.2M352.2 137.79H348.9V139.1H352.2M349.48 135.82H348.44V138.44H348.9M352.2 140.41H348.43V141.73H352.2M348.44 137.13H347.91V141.07H348.43M352.2 144.36H349.16V145.67H352.2M352.2 143.04H347.66V145.01H349.16M347.91 139.1H347.04V144.03H347.66M352.2 146.99H350.11V148.3H352.2M352.2 149.61H348.66V150.93H352.2M352.2 153.56H349.18V154.87H352.2M352.2 152.24H348.49V154.21H349.18M348.66 150.27H347.97V153.23H348.49M350.11 147.64H347.61V151.75H347.97M352.2 157.5H349.87V158.81H352.2M352.2 160.13H349.77V161.44H352.2M349.87 158.16H349.05V160.78H349.77M352.2 156.18H348.84V159.47H349.05M352.2 162.75H348.12V164.07H352.2M348.84 157.83H347.2V163.41H348.12M347.61 149.7H346.51V160.62H347.2M347.04 141.56H345.74V155.16H346.51M352.2 166.7H348.46V168.01H352.2M352.2 165.38H347.99V167.35H348.46M352.2 170.64H348.63V171.95H352.2M352.2 169.33H348.1V171.3H348.63M352.2 173.27H348.36V174.58H352.2M352.2 175.9H347.85V177.21H352.2M348.36 173.92H347.19V176.55H347.85M348.1 170.31H346.8V175.24H347.19M347.99 166.37H346.12V172.77H346.8M352.2 181.15H349.88V182.47H352.2M352.2 179.84H349.01V181.81H349.88M352.2 183.78H348.59V185.09H352.2M349.01 180.82H348.07V184.44H348.59M352.2 178.52H347.47V182.63H348.07M352.2 189.04H349.34V190.35H352.2M352.2 187.72H348.03V189.69H349.34M352.2 186.41H347.77V188.71H348.03M352.2 192.98H349.18V194.29H352.2M352.2 195.61H349.14V196.92H352.2M352.2 198.24H349V199.55H352.2M349.14 196.26H348.59V198.89H349M349.18 193.64H347.56V197.58H348.59M352.2 191.67H347.39V195.61H347.56M347.77 187.56H346.58V193.64H347.39M347.47 180.58H345.48V190.6H346.58M346.12 169.57H344.99V185.59H345.48M345.74 148.36H344.65V177.58H344.99M352.2 202.18H347.17V203.49H352.2M352.2 200.86H346.38V202.84H347.17M352.2 204.81H347.06V206.12H352.2M352.2 207.43H346.74V208.75H352.2M347.06 205.46H345.1V208.09H346.74M346.38 201.85H344.21V206.78H345.1M344.65 162.97H343.66V204.31H344.21M344.91 130.31H343.39V183.64H343.66M344.5 117.66H343.18V156.98H343.39M344.11 101.18H342.35V137.32H343.18M344.07 75H342.26V119.25H342.35M352.2 211.38H348.72V212.69H352.2M352.2 210.06H348.11V212.03H348.72M352.2 214.01H348V215.32H352.2M352.2 217.95H349.04V219.26H352.2M352.2 216.63H347.24V218.6H349.04M348 214.66H345.42V217.62H347.24M348.11 211.05H343.68V216.14H345.42M352.2 220.58H346.54V221.89H352.2M352.2 224.52H347.53V225.83H352.2M352.2 223.2H345.35V225.18H347.53M346.54 221.23H344.55V224.19H345.35M352.2 227.15H348.85V228.46H352.2M352.2 231.09H348.3V232.4H352.2M352.2 229.77H347.26V231.75H348.3M348.85 227.8H346.04V230.76H347.26M352.2 235.03H348.62V236.35H352.2M352.2 233.72H345.47V235.69H348.62M346.04 229.28H343.73V234.7H345.47M352.2 238.97H348.18V240.29H352.2M352.2 237.66H345.32V239.63H348.18M352.2 244.23H349.5V245.54H352.2M352.2 242.92H349V244.89H349.5M352.2 246.86H348.15V248.17H352.2M349 243.9H347.15V247.52H348.15M352.2 249.49H347.64V250.8H352.2M352.2 253.43H348.11V254.74H352.2M352.2 252.11H347.27V254.09H348.11M347.64 250.14H347.02V253.1H347.27M347.15 245.71H345.56V251.62H347.02M352.2 241.6H344.27V248.67H345.56M345.32 238.65H343.15V245.13H344.27M343.73 231.99H342.63V241.89H343.15M344.55 222.71H341.91V236.94H342.63M343.68 213.59H341.85V229.83H341.91M342.26 97.12H341.6V221.71H341.85M342.96 51.89H341.3V159.42H341.6M346.55 38.57H339.1V105.65H341.3M352.2 36.6H338.68V72.11H339.1M352.2 35.29H338.18V54.36H338.68M345.66 33.31H337.2V44.82H338.18" fill="none" stroke="#222" stroke-width="0.36"/>
<defs><linearGradient id="gc" x1="0" y1="1" x2="0" y2="0"><stop offset="0" stop-color="#141469"/><stop offset="0.1" stop-color="#434387"/><stop offset="0.2" stop-color="#7272a5"/><stop offset="0.3" stop-color="#a1a1c3"/><stop offset="0.4" stop-color="#d0d0e1"/><stop offset="0.5" stop-color="#ffffff"/><stop offset="0.6" stop-color="#ead0d2"/><stop offset="0.7" stop-color="#d5a0a5"/><stop offset="0.8" stop-color="#c07178"/><stop offset="0.9" stop-color="#ab414b"/><stop offset="1" stop-color="#96121e"/></linearGradient></defs>
<rect x="507.7" y="32" width="3.3" height="54.2" fill="url(#gc)"/>
<text x="512.3" y="43.1" font-size="4.2" font-weight="bold" text-anchor="start" fill="#222">0.5</text>
<text x="512.3" y="59.8" font-size="4.2" font-weight="bold" text-anchor="start" fill="#222">0</text>
<text x="512.3" y="76.4" font-size="4.2" font-weight="bold" text-anchor="start" fill="#222">-0.5</text>
<text x="325.8" y="10.4" font-size="13.5" font-weight="bold" text-anchor="start" fill="#000">c</text>
<text x="389.1" y="11.9" font-size="5.2" font-weight="bold" text-anchor="start" fill="#111" textLength="84.2" lengthAdjust="spacingAndGlyphs">Correlation between Genes and Traits</text>
<text transform="translate(364.29,256) rotate(90)" font-size="3" font-weight="bold" fill="#111" textLength="4" lengthAdjust="spacingAndGlyphs">bw</text>
<text transform="translate(382.86,256) rotate(90)" font-size="3" font-weight="bold" fill="#111" textLength="7" lengthAdjust="spacingAndGlyphs">BMI</text>
<text transform="translate(401.44,256) rotate(90)" font-size="3" font-weight="bold" fill="#111" textLength="8.5" lengthAdjust="spacingAndGlyphs">TCHO</text>
<text transform="translate(420.01,256) rotate(90)" font-size="3" font-weight="bold" fill="#111" textLength="8" lengthAdjust="spacingAndGlyphs">LDLC</text>
<text transform="translate(438.59,256) rotate(90)" font-size="3" font-weight="bold" fill="#111" textLength="9" lengthAdjust="spacingAndGlyphs">HDLC</text>
<text transform="translate(457.16,256) rotate(90)" font-size="3" font-weight="bold" fill="#111" textLength="8.5" lengthAdjust="spacingAndGlyphs">GLUC</text>
<text transform="translate(475.74,256) rotate(90)" font-size="3" font-weight="bold" fill="#111" textLength="7.5" lengthAdjust="spacingAndGlyphs">TG-s</text>
<text transform="translate(494.31,256) rotate(90)" font-size="3" font-weight="bold" fill="#111" textLength="7" lengthAdjust="spacingAndGlyphs">FFA</text>
<rect x="356" y="294.2" width="14.03" height="8.79" fill="#040a7e"/>
<rect x="370.01" y="294.2" width="14.03" height="8.79" fill="#5155a5"/>
<rect x="384.02" y="294.2" width="14.03" height="8.79" fill="#ecc5c7"/>
<rect x="398.04" y="294.2" width="14.03" height="8.79" fill="#fdfafb"/>
<rect x="412.05" y="294.2" width="14.03" height="8.79" fill="#c95c63"/>
<rect x="426.06" y="294.2" width="14.03" height="8.79" fill="#8084be"/>
<rect x="440.08" y="294.2" width="14.03" height="8.79" fill="#353997"/>
<rect x="454.09" y="294.2" width="14.03" height="8.79" fill="#7276b7"/>
<rect x="356" y="302.97" width="14.03" height="8.79" fill="#c55058"/>
<rect x="370.01" y="302.97" width="14.03" height="8.79" fill="#ffffff"/>
<rect x="384.02" y="302.97" width="14.03" height="8.79" fill="#f3dcde"/>
<rect x="398.04" y="302.97" width="14.03" height="8.79" fill="#2c3193"/>
<rect x="412.05" y="302.97" width="14.03" height="8.79" fill="#ffffff"/>
<rect x="426.06" y="302.97" width="14.03" height="8.79" fill="#f7e8e9"/>
<rect x="440.08" y="302.97" width="14.03" height="8.79" fill="#f0d0d2"/>
<rect x="454.09" y="302.97" width="14.03" height="8.79" fill="#e9e9f3"/>
<rect x="356" y="311.75" width="14.03" height="8.79" fill="#c55058"/>
<rect x="370.01" y="311.75" width="14.03" height="8.79" fill="#abadd4"/>
<rect x="384.02" y="311.75" width="14.03" height="8.79" fill="#dc969b"/>
<rect x="398.04" y="311.75" width="14.03" height="8.79" fill="#040a7e"/>
<rect x="412.05" y="311.75" width="14.03" height="8.79" fill="#8f91c5"/>
<rect x="426.06" y="311.75" width="14.03" height="8.79" fill="#f7e8e9"/>
<rect x="440.08" y="311.75" width="14.03" height="8.79" fill="#f0d0d2"/>
<rect x="454.09" y="311.75" width="14.03" height="8.79" fill="#f6e3e4"/>
<rect x="356" y="320.52" width="14.03" height="8.79" fill="#d88a90"/>
<rect x="370.01" y="320.52" width="14.03" height="8.79" fill="#e4adb1"/>
<rect x="384.02" y="320.52" width="14.03" height="8.79" fill="#e4adb1"/>
<rect x="398.04" y="320.52" width="14.03" height="8.79" fill="#8f91c5"/>
<rect x="412.05" y="320.52" width="14.03" height="8.79" fill="#8f91c5"/>
<rect x="426.06" y="320.52" width="14.03" height="8.79" fill="#f3dcde"/>
<rect x="440.08" y="320.52" width="14.03" height="8.79" fill="#fdfafb"/>
<rect x="454.09" y="320.52" width="14.03" height="8.79" fill="#ecc5c7"/>
<rect x="356" y="329.3" width="14.03" height="8.79" fill="#be3941"/>
<rect x="370.01" y="329.3" width="14.03" height="8.79" fill="#e4adb1"/>
<rect x="384.02" y="329.3" width="14.03" height="8.79" fill="#c7c8e2"/>
<rect x="398.04" y="329.3" width="14.03" height="8.79" fill="#565aa8"/>
<rect x="412.05" y="329.3" width="14.03" height="8.79" fill="#8f91c5"/>
<rect x="426.06" y="329.3" width="14.03" height="8.79" fill="#e9e9f3"/>
<rect x="440.08" y="329.3" width="14.03" height="8.79" fill="#f7e8e9"/>
<rect x="454.09" y="329.3" width="14.03" height="8.79" fill="#f0d0d2"/>
<rect x="356" y="338.07" width="14.03" height="8.79" fill="#c55058"/>
<rect x="370.01" y="338.07" width="14.03" height="8.79" fill="#f0d0d2"/>
<rect x="384.02" y="338.07" width="14.03" height="8.79" fill="#e8b9bc"/>
<rect x="398.04" y="338.07" width="14.03" height="8.79" fill="#565aa8"/>
<rect x="412.05" y="338.07" width="14.03" height="8.79" fill="#8f91c5"/>
<rect x="426.06" y="338.07" width="14.03" height="8.79" fill="#fbf3f4"/>
<rect x="440.08" y="338.07" width="14.03" height="8.79" fill="#c7c8e2"/>
<rect x="454.09" y="338.07" width="14.03" height="8.79" fill="#f3dcde"/>
<rect x="356" y="346.85" width="14.03" height="8.79" fill="#c1454d"/>
<rect x="370.01" y="346.85" width="14.03" height="8.79" fill="#e3e4f1"/>
<rect x="384.02" y="346.85" width="14.03" height="8.79" fill="#f7e8e9"/>
<rect x="398.04" y="346.85" width="14.03" height="8.79" fill="#565aa8"/>
<rect x="412.05" y="346.85" width="14.03" height="8.79" fill="#9d9fcc"/>
<rect x="426.06" y="346.85" width="14.03" height="8.79" fill="#f6e3e4"/>
<rect x="440.08" y="346.85" width="14.03" height="8.79" fill="#c7c8e2"/>
<rect x="454.09" y="346.85" width="14.03" height="8.79" fill="#f3dcde"/>
<rect x="356" y="355.62" width="14.03" height="8.79" fill="#be3941"/>
<rect x="370.01" y="355.62" width="14.03" height="8.79" fill="#dc969b"/>
<rect x="384.02" y="355.62" width="14.03" height="8.79" fill="#d57f84"/>
<rect x="398.04" y="355.62" width="14.03" height="8.79" fill="#e3e4f1"/>
<rect x="412.05" y="355.62" width="14.03" height="8.79" fill="#b9badb"/>
<rect x="426.06" y="355.62" width="14.03" height="8.79" fill="#abadd4"/>
<rect x="440.08" y="355.62" width="14.03" height="8.79" fill="#c7c8e2"/>
<rect x="454.09" y="355.62" width="14.03" height="8.79" fill="#c95c63"/>
<rect x="356" y="364.4" width="14.03" height="8.79" fill="#c95c63"/>
<rect x="370.01" y="364.4" width="14.03" height="8.79" fill="#e0a2a6"/>
<rect x="384.02" y="364.4" width="14.03" height="8.79" fill="#e8b9bc"/>
<rect x="398.04" y="364.4" width="14.03" height="8.79" fill="#565aa8"/>
<rect x="412.05" y="364.4" width="14.03" height="8.79" fill="#f9eced"/>
<rect x="426.06" y="364.4" width="14.03" height="8.79" fill="#ffffff"/>
<rect x="440.08" y="364.4" width="14.03" height="8.79" fill="#fbf3f4"/>
<rect x="454.09" y="364.4" width="14.03" height="8.79" fill="#b9badb"/>
<rect x="356" y="373.18" width="14.03" height="8.79" fill="#c95c63"/>
<rect x="370.01" y="373.18" width="14.03" height="8.79" fill="#e0a2a6"/>
<rect x="384.02" y="373.18" width="14.03" height="8.79" fill="#e4adb1"/>
<rect x="398.04" y="373.18" width="14.03" height="8.79" fill="#8084be"/>
<rect x="412.05" y="373.18" width="14.03" height="8.79" fill="#fdfafb"/>
<rect x="426.06" y="373.18" width="14.03" height="8.79" fill="#e3e4f1"/>
<rect x="440.08" y="373.18" width="14.03" height="8.79" fill="#c7c8e2"/>
<rect x="454.09" y="373.18" width="14.03" height="8.79" fill="#b9badb"/>
<rect x="356" y="381.95" width="14.03" height="8.79" fill="#d17379"/>
<rect x="370.01" y="381.95" width="14.03" height="8.79" fill="#ffffff"/>
<rect x="384.02" y="381.95" width="14.03" height="8.79" fill="#f3dcde"/>
<rect x="398.04" y="381.95" width="14.03" height="8.79" fill="#9d9fcc"/>
<rect x="412.05" y="381.95" width="14.03" height="8.79" fill="#ffffff"/>
<rect x="426.06" y="381.95" width="14.03" height="8.79" fill="#9d9fcc"/>
<rect x="440.08" y="381.95" width="14.03" height="8.79" fill="#abadd4"/>
<rect x="454.09" y="381.95" width="14.03" height="8.79" fill="#dddeee"/>
<rect x="356" y="390.73" width="14.03" height="8.79" fill="#cd686e"/>
<rect x="370.01" y="390.73" width="14.03" height="8.79" fill="#e0a2a6"/>
<rect x="384.02" y="390.73" width="14.03" height="8.79" fill="#d17379"/>
<rect x="398.04" y="390.73" width="14.03" height="8.79" fill="#abadd4"/>
<rect x="412.05" y="390.73" width="14.03" height="8.79" fill="#fbf3f4"/>
<rect x="426.06" y="390.73" width="14.03" height="8.79" fill="#7276b7"/>
<rect x="440.08" y="390.73" width="14.03" height="8.79" fill="#b9badb"/>
<rect x="454.09" y="390.73" width="14.03" height="8.79" fill="#d5d6e9"/>
<rect x="356" y="399.5" width="14.03" height="8.79" fill="#c55058"/>
<rect x="370.01" y="399.5" width="14.03" height="8.79" fill="#e8b9bc"/>
<rect x="384.02" y="399.5" width="14.03" height="8.79" fill="#f6e3e4"/>
<rect x="398.04" y="399.5" width="14.03" height="8.79" fill="#ecc5c7"/>
<rect x="412.05" y="399.5" width="14.03" height="8.79" fill="#8f91c5"/>
<rect x="426.06" y="399.5" width="14.03" height="8.79" fill="#fdf8f8"/>
<rect x="440.08" y="399.5" width="14.03" height="8.79" fill="#b9badb"/>
<rect x="454.09" y="399.5" width="14.03" height="8.79" fill="#ffffff"/>
<rect x="356" y="408.27" width="14.03" height="8.79" fill="#c1454d"/>
<rect x="370.01" y="408.27" width="14.03" height="8.79" fill="#e3e4f1"/>
<rect x="384.02" y="408.27" width="14.03" height="8.79" fill="#ffffff"/>
<rect x="398.04" y="408.27" width="14.03" height="8.79" fill="#e3e4f1"/>
<rect x="412.05" y="408.27" width="14.03" height="8.79" fill="#8f91c5"/>
<rect x="426.06" y="408.27" width="14.03" height="8.79" fill="#e8b9bc"/>
<rect x="440.08" y="408.27" width="14.03" height="8.79" fill="#abadd4"/>
<rect x="454.09" y="408.27" width="14.03" height="8.79" fill="#f0d0d2"/>
<rect x="356" y="417.05" width="14.03" height="8.79" fill="#c1454d"/>
<rect x="370.01" y="417.05" width="14.03" height="8.79" fill="#ffffff"/>
<rect x="384.02" y="417.05" width="14.03" height="8.79" fill="#abadd4"/>
<rect x="398.04" y="417.05" width="14.03" height="8.79" fill="#6468b0"/>
<rect x="412.05" y="417.05" width="14.03" height="8.79" fill="#3a3f9a"/>
<rect x="426.06" y="417.05" width="14.03" height="8.79" fill="#f3dcde"/>
<rect x="440.08" y="417.05" width="14.03" height="8.79" fill="#f6e3e4"/>
<rect x="454.09" y="417.05" width="14.03" height="8.79" fill="#f3dcde"/>
<rect x="356" y="425.82" width="14.03" height="8.79" fill="#be3941"/>
<rect x="370.01" y="425.82" width="14.03" height="8.79" fill="#9d9fcc"/>
<rect x="384.02" y="425.82" width="14.03" height="8.79" fill="#6468b0"/>
<rect x="398.04" y="425.82" width="14.03" height="8.79" fill="#c7c8e2"/>
<rect x="412.05" y="425.82" width="14.03" height="8.79" fill="#7276b7"/>
<rect x="426.06" y="425.82" width="14.03" height="8.79" fill="#f0d0d2"/>
<rect x="440.08" y="425.82" width="14.03" height="8.79" fill="#f7e8e9"/>
<rect x="454.09" y="425.82" width="14.03" height="8.79" fill="#f6e3e4"/>
<rect x="356" y="434.6" width="14.03" height="8.79" fill="#c95c63"/>
<rect x="370.01" y="434.6" width="14.03" height="8.79" fill="#abadd4"/>
<rect x="384.02" y="434.6" width="14.03" height="8.79" fill="#7276b7"/>
<rect x="398.04" y="434.6" width="14.03" height="8.79" fill="#c7c8e2"/>
<rect x="412.05" y="434.6" width="14.03" height="8.79" fill="#ffffff"/>
<rect x="426.06" y="434.6" width="14.03" height="8.79" fill="#e0a2a6"/>
<rect x="440.08" y="434.6" width="14.03" height="8.79" fill="#abadd4"/>
<rect x="454.09" y="434.6" width="14.03" height="8.79" fill="#fdfafb"/>
<rect x="356" y="443.38" width="14.03" height="8.79" fill="#be3941"/>
<rect x="370.01" y="443.38" width="14.03" height="8.79" fill="#abadd4"/>
<rect x="384.02" y="443.38" width="14.03" height="8.79" fill="#8084be"/>
<rect x="398.04" y="443.38" width="14.03" height="8.79" fill="#8f91c5"/>
<rect x="412.05" y="443.38" width="14.03" height="8.79" fill="#7276b7"/>
<rect x="426.06" y="443.38" width="14.03" height="8.79" fill="#f1f1f8"/>
<rect x="440.08" y="443.38" width="14.03" height="8.79" fill="#abadd4"/>
<rect x="454.09" y="443.38" width="14.03" height="8.79" fill="#f6e3e4"/>
<rect x="356" y="452.15" width="14.03" height="8.79" fill="#be3941"/>
<rect x="370.01" y="452.15" width="14.03" height="8.79" fill="#b9badb"/>
<rect x="384.02" y="452.15" width="14.03" height="8.79" fill="#7276b7"/>
<rect x="398.04" y="452.15" width="14.03" height="8.79" fill="#8f91c5"/>
<rect x="412.05" y="452.15" width="14.03" height="8.79" fill="#c7c8e2"/>
<rect x="426.06" y="452.15" width="14.03" height="8.79" fill="#ffffff"/>
<rect x="440.08" y="452.15" width="14.03" height="8.79" fill="#484da1"/>
<rect x="454.09" y="452.15" width="14.03" height="8.79" fill="#c7c8e2"/>
<rect x="356" y="460.92" width="14.03" height="8.79" fill="#c1454d"/>
<rect x="370.01" y="460.92" width="14.03" height="8.79" fill="#ffffff"/>
<rect x="384.02" y="460.92" width="14.03" height="8.79" fill="#565aa8"/>
<rect x="398.04" y="460.92" width="14.03" height="8.79" fill="#e8b9bc"/>
<rect x="412.05" y="460.92" width="14.03" height="8.79" fill="#d5d6e9"/>
<rect x="426.06" y="460.92" width="14.03" height="8.79" fill="#f0d0d2"/>
<rect x="440.08" y="460.92" width="14.03" height="8.79" fill="#040a7e"/>
<rect x="454.09" y="460.92" width="14.03" height="8.79" fill="#8084be"/>
<rect x="356" y="469.7" width="14.03" height="8.79" fill="#cd686e"/>
<rect x="370.01" y="469.7" width="14.03" height="8.79" fill="#ffffff"/>
<rect x="384.02" y="469.7" width="14.03" height="8.79" fill="#484da1"/>
<rect x="398.04" y="469.7" width="14.03" height="8.79" fill="#fbf3f4"/>
<rect x="412.05" y="469.7" width="14.03" height="8.79" fill="#ffffff"/>
<rect x="426.06" y="469.7" width="14.03" height="8.79" fill="#fdfafb"/>
<rect x="440.08" y="469.7" width="14.03" height="8.79" fill="#6468b0"/>
<rect x="454.09" y="469.7" width="14.03" height="8.79" fill="#565aa8"/>
<rect x="356" y="478.48" width="14.03" height="8.79" fill="#f1f1f8"/>
<rect x="370.01" y="478.48" width="14.03" height="8.79" fill="#8f91c5"/>
<rect x="384.02" y="478.48" width="14.03" height="8.79" fill="#8084be"/>
<rect x="398.04" y="478.48" width="14.03" height="8.79" fill="#b9badb"/>
<rect x="412.05" y="478.48" width="14.03" height="8.79" fill="#f0d0d2"/>
<rect x="426.06" y="478.48" width="14.03" height="8.79" fill="#f0d0d2"/>
<rect x="440.08" y="478.48" width="14.03" height="8.79" fill="#abadd4"/>
<rect x="454.09" y="478.48" width="14.03" height="8.79" fill="#c7c8e2"/>
<rect x="356" y="487.25" width="14.03" height="8.79" fill="#dc969b"/>
<rect x="370.01" y="487.25" width="14.03" height="8.79" fill="#c7c8e2"/>
<rect x="384.02" y="487.25" width="14.03" height="8.79" fill="#3a3f9a"/>
<rect x="398.04" y="487.25" width="14.03" height="8.79" fill="#f0d0d2"/>
<rect x="412.05" y="487.25" width="14.03" height="8.79" fill="#c7c8e2"/>
<rect x="426.06" y="487.25" width="14.03" height="8.79" fill="#e9e9f3"/>
<rect x="440.08" y="487.25" width="14.03" height="8.79" fill="#ffffff"/>
<rect x="454.09" y="487.25" width="14.03" height="8.79" fill="#f0d0d2"/>
<rect x="356" y="496.02" width="14.03" height="8.79" fill="#f1f1f8"/>
<rect x="370.01" y="496.02" width="14.03" height="8.79" fill="#e4adb1"/>
<rect x="384.02" y="496.02" width="14.03" height="8.79" fill="#8084be"/>
<rect x="398.04" y="496.02" width="14.03" height="8.79" fill="#c7c8e2"/>
<rect x="412.05" y="496.02" width="14.03" height="8.79" fill="#d5d6e9"/>
<rect x="426.06" y="496.02" width="14.03" height="8.79" fill="#ffffff"/>
<rect x="440.08" y="496.02" width="14.03" height="8.79" fill="#abadd4"/>
<rect x="454.09" y="496.02" width="14.03" height="8.79" fill="#f7e8e9"/>
<text transform="translate(469.3,299.89) scale(0.89,1)" font-size="3.8" fill="#111" stroke="#111" stroke-width="0.1">MEyellowgreen</text>
<text transform="translate(469.3,308.66) scale(0.89,1)" font-size="3.8" fill="#111" stroke="#111" stroke-width="0.1">MEgrey60</text>
<text transform="translate(469.3,317.44) scale(0.89,1)" font-size="3.8" fill="#111" stroke="#111" stroke-width="0.1">MEmidnightblue</text>
<text transform="translate(469.3,326.21) scale(0.89,1)" font-size="3.8" fill="#111" stroke="#111" stroke-width="0.1">MEdarkolivegreen</text>
<text transform="translate(469.3,334.99) scale(0.89,1)" font-size="3.8" fill="#111" stroke="#111" stroke-width="0.1">MEdarkturquoise</text>
<text transform="translate(469.3,343.76) scale(0.89,1)" font-size="3.8" fill="#111" stroke="#111" stroke-width="0.1">MEbrown</text>
<text transform="translate(469.3,352.54) scale(0.89,1)" font-size="3.8" fill="#111" stroke="#111" stroke-width="0.1">MEorange</text>
<text transform="translate(469.3,361.31) scale(0.89,1)" font-size="3.8" fill="#111" stroke="#111" stroke-width="0.1">MEsteelblue</text>
<text transform="translate(469.3,370.09) scale(0.89,1)" font-size="3.8" fill="#111" stroke="#111" stroke-width="0.1">MEsaddlebrown</text>
<text transform="translate(469.3,378.86) scale(0.89,1)" font-size="3.8" fill="#111" stroke="#111" stroke-width="0.1">MEviolet</text>
<text transform="translate(469.3,387.64) scale(0.89,1)" font-size="3.8" fill="#111" stroke="#111" stroke-width="0.1">MEroyalblue</text>
<text transform="translate(469.3,396.41) scale(0.89,1)" font-size="3.8" fill="#111" stroke="#111" stroke-width="0.1">MEblue</text>
<text transform="translate(469.3,405.19) scale(0.89,1)" font-size="3.8" fill="#111" stroke="#111" stroke-width="0.1">MEwhite</text>
<text transform="translate(469.3,413.96) scale(0.89,1)" font-size="3.8" fill="#111" stroke="#111" stroke-width="0.1">MEdarkgreen</text>
<text transform="translate(469.3,422.74) scale(0.89,1)" font-size="3.8" fill="#111" stroke="#111" stroke-width="0.1">MEskyblue3</text>
<text transform="translate(469.3,431.51) scale(0.89,1)" font-size="3.8" fill="#111" stroke="#111" stroke-width="0.1">MElightyellow</text>
<text transform="translate(469.3,440.29) scale(0.89,1)" font-size="3.8" fill="#111" stroke="#111" stroke-width="0.1">MEmagenta</text>
<text transform="translate(469.3,449.06) scale(0.89,1)" font-size="3.8" fill="#111" stroke="#111" stroke-width="0.1">MEdarkred</text>
<text transform="translate(469.3,457.84) scale(0.89,1)" font-size="3.8" fill="#111" stroke="#111" stroke-width="0.1">MEdarkorange</text>
<text transform="translate(469.3,466.61) scale(0.89,1)" font-size="3.8" fill="#111" stroke="#111" stroke-width="0.1">MEsienna3</text>
<text transform="translate(469.3,475.39) scale(0.89,1)" font-size="3.8" fill="#111" stroke="#111" stroke-width="0.1">MEgrey</text>
<text transform="translate(469.3,484.16) scale(0.89,1)" font-size="3.8" fill="#111" stroke="#111" stroke-width="0.1">MEdarkmagenta</text>
<text transform="translate(469.3,492.94) scale(0.89,1)" font-size="3.8" fill="#111" stroke="#111" stroke-width="0.1">MEskyblue</text>
<text transform="translate(469.3,501.71) scale(0.89,1)" font-size="3.8" fill="#111" stroke="#111" stroke-width="0.1">MEcyan</text>
<text transform="translate(361.01,505.9) rotate(90)" font-size="3" font-weight="bold" fill="#111" textLength="5" lengthAdjust="spacingAndGlyphs">bw</text>
<text transform="translate(375.02,505.9) rotate(90)" font-size="3" font-weight="bold" fill="#111" textLength="7" lengthAdjust="spacingAndGlyphs">BMI</text>
<text transform="translate(389.03,505.9) rotate(90)" font-size="3" font-weight="bold" fill="#111" textLength="7.7" lengthAdjust="spacingAndGlyphs">TCHO</text>
<text transform="translate(403.04,505.9) rotate(90)" font-size="3" font-weight="bold" fill="#111" textLength="8.6" lengthAdjust="spacingAndGlyphs">LDLC</text>
<text transform="translate(417.06,505.9) rotate(90)" font-size="3" font-weight="bold" fill="#111" textLength="7.7" lengthAdjust="spacingAndGlyphs">HDLC</text>
<text transform="translate(431.07,505.9) rotate(90)" font-size="3" font-weight="bold" fill="#111" textLength="7.7" lengthAdjust="spacingAndGlyphs">GLUC</text>
<text transform="translate(445.08,505.9) rotate(90)" font-size="3" font-weight="bold" fill="#111" textLength="6" lengthAdjust="spacingAndGlyphs">TG-s</text>
<text transform="translate(459.09,505.9) rotate(90)" font-size="3" font-weight="bold" fill="#111" textLength="8.3" lengthAdjust="spacingAndGlyphs">FFA</text>
<path d="M377.02 294.2V287.3H391.03V294.2M405.04 294.2V288H419.06V294.2M447.08 294.2V288.8H461.09V294.2M433.07 294.2V286.8H454.09V288.8M412.05 288V285H443.58V286.8M384.02 287.3V283.2H427.81V285M363.01 294.2V276.6H405.92V283.2" fill="none" stroke="#888" stroke-width="0.55"/>
<path d="M356 307.36H352V316.14H356M356 333.69H353V342.46H356M356 324.91H351V338.07H353M352 311.75H350V331.49H351M356 360.01H353V368.79H356M356 386.34H353V395.11H356M356 377.56H352V390.73H353M353 364.4H351V384.14H352M356 351.24H349V374.27H351M350 321.62H346V362.75H349M356 403.89H353V412.66H356M356 421.44H352V430.21H356M353 408.27H351V425.82H352M356 438.99H352V447.76H356M356 456.54H351V465.31H356M352 443.38H350V460.92H351M351 417.05H347V452.15H350M356 482.86H352V491.64H356M352 487.25H349V500.41H356M356 474.09H346V493.83H349M347 434.6H344V483.96H346M346 342.19H342V459.28H344M356 298.59H337V400.73H342" fill="none" stroke="#888" stroke-width="0.55"/>
<defs><linearGradient id="gd" x1="0" y1="1" x2="0" y2="0"><stop offset="0" stop-color="#141469"/><stop offset="0.1" stop-color="#434387"/><stop offset="0.2" stop-color="#7272a5"/><stop offset="0.3" stop-color="#a1a1c3"/><stop offset="0.4" stop-color="#d0d0e1"/><stop offset="0.5" stop-color="#ffffff"/><stop offset="0.6" stop-color="#ead0d2"/><stop offset="0.7" stop-color="#d5a0a5"/><stop offset="0.8" stop-color="#c07178"/><stop offset="0.9" stop-color="#ab414b"/><stop offset="1" stop-color="#96121e"/></linearGradient></defs>
<rect x="499" y="294.4" width="3.2" height="50.6" fill="url(#gd)"/>
<text x="503.7" y="302.1" font-size="3" font-weight="bold" text-anchor="start" fill="#222">0.4</text>
<text x="503.7" y="311.8" font-size="3" font-weight="bold" text-anchor="start" fill="#222">0.2</text>
<text x="503.7" y="321.4" font-size="3" font-weight="bold" text-anchor="start" fill="#222">0</text>
<text x="503.7" y="330.9" font-size="3" font-weight="bold" text-anchor="start" fill="#222">-0.2</text>
<text x="503.7" y="340.5" font-size="3" font-weight="bold" text-anchor="start" fill="#222">-0.4</text>
<text x="325.9" y="281" font-size="13.5" font-weight="bold" text-anchor="start" fill="#000">d</text>
<text x="369.6" y="275.1" font-size="5.1" font-weight="bold" text-anchor="start" fill="#111" textLength="84.6" lengthAdjust="spacingAndGlyphs">Correlation between Modules and Traits</text>
</svg></body></html>
